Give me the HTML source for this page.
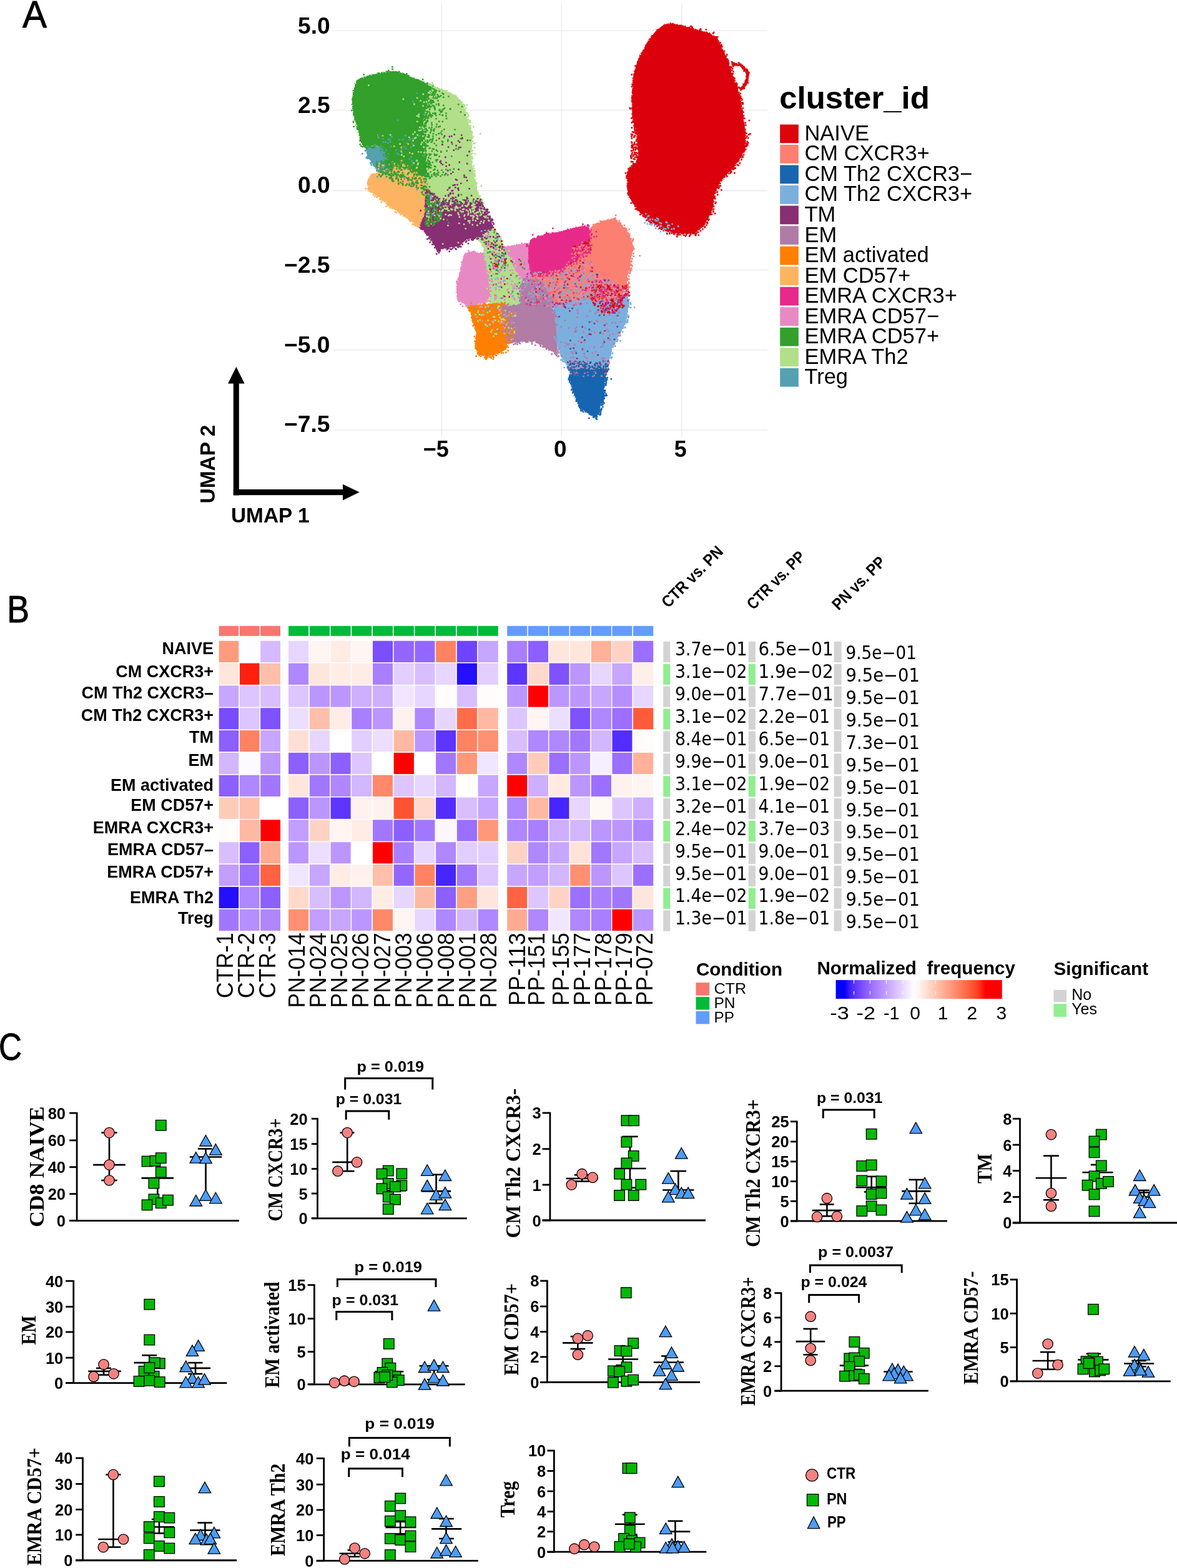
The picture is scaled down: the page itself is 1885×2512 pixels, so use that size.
<!DOCTYPE html>
<html><head><meta charset="utf-8"><title>Figure</title>
<style>html,body{margin:0;padding:0;background:#fff;overflow:hidden}svg{display:block}</style>
</head><body>
<svg width="1885" height="2512" viewBox="0 0 1885 2512">
<rect x="0" y="0" width="1885" height="2512" fill="#fff"/>
<line x1="533.00" y1="49.00" x2="1229.00" y2="49.00" stroke="#EBEBEB" stroke-width="1.6" />
<line x1="533.00" y1="176.50" x2="1229.00" y2="176.50" stroke="#EBEBEB" stroke-width="1.6" />
<line x1="533.00" y1="305.40" x2="1229.00" y2="305.40" stroke="#EBEBEB" stroke-width="1.6" />
<line x1="533.00" y1="432.50" x2="1229.00" y2="432.50" stroke="#EBEBEB" stroke-width="1.6" />
<line x1="533.00" y1="560.50" x2="1229.00" y2="560.50" stroke="#EBEBEB" stroke-width="1.6" />
<line x1="533.00" y1="689.00" x2="1229.00" y2="689.00" stroke="#EBEBEB" stroke-width="1.6" />
<line x1="707.30" y1="5.00" x2="707.30" y2="700.00" stroke="#EBEBEB" stroke-width="1.6" />
<line x1="899.30" y1="5.00" x2="899.30" y2="700.00" stroke="#EBEBEB" stroke-width="1.6" />
<line x1="1091.80" y1="5.00" x2="1091.80" y2="700.00" stroke="#EBEBEB" stroke-width="1.6" />
<defs><filter id="rough" x="-5%" y="-5%" width="110%" height="110%"><feTurbulence type="fractalNoise" baseFrequency="0.45" numOctaves="2" seed="3" result="n"/><feDisplacementMap in="SourceGraphic" in2="n" scale="5" xChannelSelector="R" yChannelSelector="G"/></filter></defs>
<g filter="url(#rough)">
<polygon points="806.0,395.0 826.0,392.0 850.0,389.0 856.0,420.0 852.0,450.0 846.0,472.0 836.0,482.0 826.0,470.0 818.0,440.0 810.0,420.0" fill="#E78AC3" />
<polygon points="672.0,135.0 687.0,134.7 709.0,143.4 730.7,153.5 740.8,163.7 746.6,179.6 751.0,198.4 756.7,212.8 756.7,230.2 755.0,245.0 757.0,266.0 760.5,288.2 765.3,307.5 775.0,331.6 784.6,346.0 789.4,365.3 798.6,378.6 808.2,397.8 822.7,426.7 834.0,452.0 838.0,482.0 825.0,496.0 806.0,496.0 784.0,492.0 783.0,452.0 778.0,436.0 775.5,420.0 774.0,398.0 768.0,385.0 760.0,375.0 745.0,372.0 735.0,360.0 707.5,330.0 690.0,320.0 676.0,310.0 670.0,288.2 664.0,268.9 660.0,240.0 660.0,200.0 664.0,160.0" fill="#B2DF8A" />
<polygon points="571.6,127.5 591.8,120.3 617.9,114.5 633.8,113.7 649.7,118.8 668.5,127.5 684.0,134.0 692.0,141.0 688.0,158.0 681.0,178.0 678.0,200.0 678.0,225.0 680.0,245.0 683.0,262.0 686.0,284.0 676.0,286.0 665.0,280.0 648.0,272.0 632.0,270.0 618.0,272.0 612.0,250.0 610.6,234.5 584.6,234.5 578.8,230.2 571.6,204.2 565.8,183.9 563.6,160.8 565.8,143.4" fill="#33A02C" />
<polygon points="584.6,234.5 612.0,234.5 616.0,259.1 621.0,276.5 603.4,273.6 588.9,251.9" fill="#55A1B1" />
<polygon points="593.3,279.4 606.0,276.0 620.0,277.0 632.3,266.0 654.0,272.0 672.0,282.0 680.5,287.0 682.0,310.0 680.5,340.0 676.0,362.0 671.8,365.3 646.8,345.9 625.1,331.5 603.4,314.1 591.8,305.4 587.5,293.9" fill="#FDB462" />
<polygon points="671.8,365.3 680.5,340.0 681.0,303.0 693.0,310.0 707.5,325.0 725.0,330.0 745.0,326.0 760.0,324.0 772.0,330.0 780.0,338.0 786.0,348.0 789.4,365.3 780.0,372.0 762.0,382.0 746.0,384.6 736.4,394.2 718.0,398.0 707.5,399.0 702.7,403.9 693.0,389.4 683.4,375.0" fill="#882E72" />
<polygon points="743.5,405.9 756.1,402.3 774.2,405.9 778.8,436.3 783.1,452.5 784.2,474.2 778.8,485.1 760.4,489.4 748.4,490.5 736.5,482.9 731.1,474.2 731.1,452.5 735.0,440.0 740.0,420.0" fill="#E78AC3" />
<polygon points="748.4,490.5 760.0,489.0 780.0,487.0 805.9,485.1 814.0,500.0 815.5,520.0 814.6,539.3 812.4,558.8 795.1,568.6 778.8,571.8 765.8,568.6 760.4,555.5 762.5,533.9 756.0,512.2 753.9,499.2" fill="#FF7F00" />
<polygon points="944.8,367.0 946.7,362.2 956.4,357.3 970.0,352.0 985.3,349.6 1004.6,368.9 1012.0,385.0 1014.2,397.8 1011.0,415.0 1009.4,426.7 1004.6,446.0 1004.6,460.5 995.0,470.0 975.0,476.0 950.0,480.0 920.0,485.0 890.0,487.0 862.0,484.0 850.0,470.0 845.0,450.0 860.0,441.2 879.3,436.4 898.6,431.6 917.8,421.9 937.1,407.5 942.0,390.0" fill="#FB8072" />
<polygon points="838.0,445.0 860.0,448.0 880.0,470.0 886.0,489.0 850.0,488.0 834.0,486.0 832.0,465.0" fill="#B17BA6" />
<polygon points="799.0,488.0 822.2,490.5 838.4,485.1 860.0,484.0 881.8,487.2 888.0,500.0 891.0,520.0 892.6,545.0 892.6,571.8 887.2,564.2 871.0,555.5 854.7,546.9 833.0,548.0 816.7,550.1 812.0,540.0 814.0,515.0 806.0,495.0" fill="#B17BA6" />
<polygon points="846.7,390.0 851.0,382.0 860.0,380.5 874.5,373.7 893.7,371.8 917.8,365.1 937.1,361.2 944.8,367.0 946.0,390.0 944.0,405.0 937.1,407.5 917.8,421.9 898.6,431.6 879.3,436.4 860.0,441.2 850.0,438.0 846.0,420.0" fill="#E7298A" />
<polygon points="885.0,487.0 905.0,484.0 930.0,481.0 960.0,479.0 975.0,477.0 995.0,472.0 1004.6,470.0 1008.0,485.0 1005.0,505.0 1001.9,519.8 991.1,537.8 982.0,555.9 976.6,574.0 971.2,591.0 940.0,593.0 912.0,593.0 900.7,575.0 892.6,555.0 891.0,520.0 888.0,500.0" fill="#7BAFDE" />
<polygon points="915.4,593.1 971.1,590.6 971.9,599.0 969.4,611.7 967.7,624.3 969.4,637.0 966.9,643.7 961.8,648.0 961.0,658.1 960.1,662.3 954.2,669.9 943.3,664.0 934.8,658.1 927.2,653.9 923.9,641.2 916.3,628.6 914.6,615.9 909.5,607.5 912.0,599.0" fill="#1965B0" />
<polygon points="1073.8,36.3 1090.9,41.2 1128.3,50.1 1147.8,59.0 1160.8,85.1 1169.0,106.2 1177.1,130.6 1185.3,150.2 1190.1,182.7 1195.0,215.2 1193.4,239.7 1185.3,255.9 1169.0,275.5 1152.7,293.4 1144.6,312.9 1141.3,337.3 1128.3,361.7 1112.0,374.7 1087.6,375.5 1063.2,369.8 1038.8,353.6 1019.3,334.0 1006.3,312.9 1003.0,283.6 1006.3,268.9 1017.7,260.8 1022.5,247.8 1019.3,215.2 1012.8,190.8 1011.2,158.3 1014.4,117.6 1022.5,93.2 1038.8,63.9 1051.8,47.7 1063.2,39.5" fill="#DC050C" />
</g>
<path d="M623.3 222.5h2.6v2.6h-2.6zM626.3 217.9h2.6v2.6h-2.6zM605.0 219.5h2.6v2.6h-2.6zM659.5 221.2h2.6v2.6h-2.6zM620.9 222.2h2.6v2.6h-2.6zM646.0 233.6h2.6v2.6h-2.6zM604.5 218.0h2.6v2.6h-2.6zM649.0 236.4h2.6v2.6h-2.6zM642.2 237.7h2.6v2.6h-2.6zM657.2 249.9h2.6v2.6h-2.6zM654.5 222.6h2.6v2.6h-2.6zM642.8 244.0h2.6v2.6h-2.6zM659.2 229.2h2.6v2.6h-2.6zM648.1 216.1h2.6v2.6h-2.6zM612.1 220.9h2.6v2.6h-2.6zM655.3 221.5h2.6v2.6h-2.6zM659.0 258.2h2.6v2.6h-2.6zM612.7 226.6h2.6v2.6h-2.6zM634.9 244.5h2.6v2.6h-2.6zM637.1 245.9h2.6v2.6h-2.6zM657.4 234.6h2.6v2.6h-2.6zM604.5 218.4h2.6v2.6h-2.6zM603.8 215.0h2.6v2.6h-2.6zM644.2 222.4h2.6v2.6h-2.6zM625.0 233.2h2.6v2.6h-2.6zM633.6 239.2h2.6v2.6h-2.6zM638.0 222.3h2.6v2.6h-2.6zM650.1 228.1h2.6v2.6h-2.6zM623.7 226.2h2.6v2.6h-2.6zM658.0 255.9h2.6v2.6h-2.6zM625.6 216.4h2.6v2.6h-2.6zM620.1 228.0h2.6v2.6h-2.6zM615.9 226.3h2.6v2.6h-2.6zM664.8 257.0h2.6v2.6h-2.6zM610.7 258.3h2.6v2.6h-2.6zM633.5 276.8h2.6v2.6h-2.6zM682.7 293.4h2.6v2.6h-2.6zM610.9 273.2h2.6v2.6h-2.6zM646.0 263.4h2.6v2.6h-2.6zM622.6 261.5h2.6v2.6h-2.6zM659.1 262.7h2.6v2.6h-2.6zM677.8 289.2h2.6v2.6h-2.6zM633.1 261.7h2.6v2.6h-2.6zM605.1 271.6h2.6v2.6h-2.6zM674.2 290.3h2.6v2.6h-2.6zM623.5 269.3h2.6v2.6h-2.6zM639.8 270.5h2.6v2.6h-2.6zM616.2 270.0h2.6v2.6h-2.6zM628.5 265.0h2.6v2.6h-2.6zM646.4 267.9h2.6v2.6h-2.6zM668.9 272.3h2.6v2.6h-2.6zM646.3 285.2h2.6v2.6h-2.6zM623.8 278.7h2.6v2.6h-2.6zM642.3 270.8h2.6v2.6h-2.6zM612.1 277.6h2.6v2.6h-2.6zM646.6 281.9h2.6v2.6h-2.6zM636.3 278.2h2.6v2.6h-2.6zM639.9 257.4h2.6v2.6h-2.6zM661.6 263.7h2.6v2.6h-2.6zM627.6 260.4h2.6v2.6h-2.6zM632.7 276.9h2.6v2.6h-2.6zM629.1 258.4h2.6v2.6h-2.6zM622.8 277.9h2.6v2.6h-2.6zM664.2 291.6h2.6v2.6h-2.6zM675.8 300.9h2.6v2.6h-2.6zM666.4 302.1h2.6v2.6h-2.6zM657.9 287.3h2.6v2.6h-2.6zM675.5 305.8h2.6v2.6h-2.6zM626.2 277.0h2.6v2.6h-2.6zM616.5 276.5h2.6v2.6h-2.6zM648.6 282.2h2.6v2.6h-2.6zM683.3 296.4h2.6v2.6h-2.6zM635.0 283.4h2.6v2.6h-2.6zM654.4 292.8h2.6v2.6h-2.6zM688.6 311.2h2.6v2.6h-2.6zM654.0 294.5h2.6v2.6h-2.6zM623.2 285.1h2.6v2.6h-2.6zM658.9 297.4h2.6v2.6h-2.6zM673.0 299.2h2.6v2.6h-2.6zM659.6 290.8h2.6v2.6h-2.6zM627.8 289.3h2.6v2.6h-2.6zM682.1 306.0h2.6v2.6h-2.6zM681.8 301.2h2.6v2.6h-2.6zM695.2 322.7h2.6v2.6h-2.6zM694.5 343.7h2.6v2.6h-2.6zM680.9 336.1h2.6v2.6h-2.6zM687.0 345.0h2.6v2.6h-2.6zM701.0 321.2h2.6v2.6h-2.6zM697.2 323.3h2.6v2.6h-2.6zM687.2 347.3h2.6v2.6h-2.6zM703.9 324.3h2.6v2.6h-2.6zM680.9 316.8h2.6v2.6h-2.6zM694.1 334.1h2.6v2.6h-2.6zM686.4 313.2h2.6v2.6h-2.6zM685.4 328.0h2.6v2.6h-2.6zM758.5 492.6h2.6v2.6h-2.6zM796.7 528.5h2.6v2.6h-2.6zM782.0 495.4h2.6v2.6h-2.6zM780.1 495.1h2.6v2.6h-2.6zM795.2 491.5h2.6v2.6h-2.6zM670.1 180.8h2.6v2.6h-2.6zM678.5 181.7h2.6v2.6h-2.6zM633.9 265.3h2.6v2.6h-2.6zM666.3 148.0h2.6v2.6h-2.6zM674.0 205.7h2.6v2.6h-2.6zM683.8 163.9h2.6v2.6h-2.6zM681.1 278.1h2.6v2.6h-2.6zM669.9 216.6h2.6v2.6h-2.6zM654.4 253.3h2.6v2.6h-2.6zM676.2 248.5h2.6v2.6h-2.6zM635.7 191.2h2.6v2.6h-2.6zM682.9 157.1h2.6v2.6h-2.6zM660.2 161.1h2.6v2.6h-2.6zM620.4 275.4h2.6v2.6h-2.6zM598.6 234.8h2.6v2.6h-2.6zM612.1 269.8h2.6v2.6h-2.6zM585.8 233.7h2.6v2.6h-2.6zM602.3 272.4h2.6v2.6h-2.6zM619.4 270.2h2.6v2.6h-2.6zM615.3 247.8h2.6v2.6h-2.6zM619.4 250.8h2.6v2.6h-2.6zM619.0 268.4h2.6v2.6h-2.6zM611.7 243.8h2.6v2.6h-2.6zM612.9 242.3h2.6v2.6h-2.6zM591.1 253.2h2.6v2.6h-2.6zM599.8 256.2h2.6v2.6h-2.6zM604.9 273.6h2.6v2.6h-2.6zM622.1 270.3h2.6v2.6h-2.6zM612.2 235.3h2.6v2.6h-2.6zM587.9 248.6h2.6v2.6h-2.6zM587.3 252.3h2.6v2.6h-2.6zM584.6 234.9h2.6v2.6h-2.6zM599.1 230.9h2.6v2.6h-2.6zM617.0 239.3h2.6v2.6h-2.6zM620.6 276.6h2.6v2.6h-2.6zM603.0 281.9h2.6v2.6h-2.6zM603.3 266.8h2.6v2.6h-2.6zM614.1 243.0h2.6v2.6h-2.6zM618.8 277.3h2.6v2.6h-2.6zM587.7 249.9h2.6v2.6h-2.6zM607.5 272.4h2.6v2.6h-2.6zM615.2 252.9h2.6v2.6h-2.6zM593.5 262.8h2.6v2.6h-2.6zM586.3 250.3h2.6v2.6h-2.6zM617.3 252.3h2.6v2.6h-2.6zM598.2 264.4h2.6v2.6h-2.6zM613.3 276.2h2.6v2.6h-2.6zM619.9 273.0h2.6v2.6h-2.6zM607.6 274.0h2.6v2.6h-2.6zM621.2 276.7h2.6v2.6h-2.6zM614.2 244.4h2.6v2.6h-2.6zM620.9 245.0h2.6v2.6h-2.6zM585.4 239.5h2.6v2.6h-2.6zM583.8 240.1h2.6v2.6h-2.6zM609.2 234.0h2.6v2.6h-2.6zM579.1 245.2h2.6v2.6h-2.6zM598.2 249.4h2.6v2.6h-2.6zM585.4 251.4h2.6v2.6h-2.6zM589.0 249.8h2.6v2.6h-2.6zM617.7 263.5h2.6v2.6h-2.6zM592.0 260.2h2.6v2.6h-2.6zM611.1 238.2h2.6v2.6h-2.6zM606.9 273.9h2.6v2.6h-2.6zM596.7 262.8h2.6v2.6h-2.6zM590.5 238.9h2.6v2.6h-2.6z" fill="#55A1B1"/>
<path d="M641.6 234.8h2.6v2.6h-2.6zM641.4 241.3h2.6v2.6h-2.6zM652.5 229.4h2.6v2.6h-2.6zM655.0 243.7h2.6v2.6h-2.6zM629.9 232.9h2.6v2.6h-2.6zM611.6 216.2h2.6v2.6h-2.6zM676.4 293.0h2.6v2.6h-2.6zM640.2 259.8h2.6v2.6h-2.6zM642.6 280.9h2.6v2.6h-2.6zM620.2 254.0h2.6v2.6h-2.6zM616.4 267.5h2.6v2.6h-2.6zM678.8 284.9h2.6v2.6h-2.6zM636.3 277.2h2.6v2.6h-2.6zM633.0 277.9h2.6v2.6h-2.6zM669.9 288.9h2.6v2.6h-2.6zM644.0 277.7h2.6v2.6h-2.6zM670.2 280.7h2.6v2.6h-2.6zM612.4 264.0h2.6v2.6h-2.6zM605.1 264.8h2.6v2.6h-2.6zM628.9 267.4h2.6v2.6h-2.6zM674.3 294.7h2.6v2.6h-2.6zM660.6 285.6h2.6v2.6h-2.6zM610.7 263.8h2.6v2.6h-2.6zM628.4 273.1h2.6v2.6h-2.6zM617.4 269.6h2.6v2.6h-2.6zM651.8 264.4h2.6v2.6h-2.6zM667.4 290.6h2.6v2.6h-2.6zM626.8 269.9h2.6v2.6h-2.6zM606.6 260.9h2.6v2.6h-2.6zM647.6 270.5h2.6v2.6h-2.6zM608.6 276.1h2.6v2.6h-2.6zM637.7 264.3h2.6v2.6h-2.6zM630.6 260.8h2.6v2.6h-2.6zM609.1 277.0h2.6v2.6h-2.6zM618.7 272.2h2.6v2.6h-2.6zM650.4 280.3h2.6v2.6h-2.6zM683.7 290.3h2.6v2.6h-2.6zM605.5 269.3h2.6v2.6h-2.6zM609.7 279.2h2.6v2.6h-2.6zM652.9 271.7h2.6v2.6h-2.6zM648.5 269.8h2.6v2.6h-2.6zM637.2 259.7h2.6v2.6h-2.6zM611.1 262.5h2.6v2.6h-2.6zM647.2 269.3h2.6v2.6h-2.6zM674.7 293.1h2.6v2.6h-2.6zM662.6 275.6h2.6v2.6h-2.6zM663.0 288.2h2.6v2.6h-2.6zM644.0 264.6h2.6v2.6h-2.6zM621.9 263.0h2.6v2.6h-2.6zM649.6 270.0h2.6v2.6h-2.6zM668.2 284.9h2.6v2.6h-2.6zM634.7 274.0h2.6v2.6h-2.6zM645.2 261.9h2.6v2.6h-2.6zM641.2 277.0h2.6v2.6h-2.6zM641.9 256.0h2.6v2.6h-2.6zM638.7 279.2h2.6v2.6h-2.6zM627.4 258.5h2.6v2.6h-2.6zM614.2 274.1h2.6v2.6h-2.6zM650.7 272.3h2.6v2.6h-2.6zM635.4 262.6h2.6v2.6h-2.6zM673.9 292.6h2.6v2.6h-2.6zM671.6 287.4h2.6v2.6h-2.6zM638.1 267.2h2.6v2.6h-2.6zM608.2 273.1h2.6v2.6h-2.6zM660.3 278.2h2.6v2.6h-2.6zM657.5 271.6h2.6v2.6h-2.6zM635.2 273.1h2.6v2.6h-2.6zM644.3 262.0h2.6v2.6h-2.6zM612.0 262.9h2.6v2.6h-2.6zM674.9 283.5h2.6v2.6h-2.6zM641.8 279.7h2.6v2.6h-2.6zM639.3 280.9h2.6v2.6h-2.6zM652.5 268.6h2.6v2.6h-2.6zM649.3 284.9h2.6v2.6h-2.6zM691.1 341.9h2.6v2.6h-2.6zM683.1 356.8h2.6v2.6h-2.6zM702.7 336.6h2.6v2.6h-2.6zM686.9 328.7h2.6v2.6h-2.6zM698.8 326.2h2.6v2.6h-2.6zM705.1 343.8h2.6v2.6h-2.6zM704.8 341.0h2.6v2.6h-2.6zM701.2 352.0h2.6v2.6h-2.6zM681.1 336.4h2.6v2.6h-2.6zM689.1 328.9h2.6v2.6h-2.6zM683.3 325.0h2.6v2.6h-2.6zM695.0 320.1h2.6v2.6h-2.6zM684.9 351.3h2.6v2.6h-2.6zM681.2 311.6h2.6v2.6h-2.6zM703.6 348.7h2.6v2.6h-2.6zM684.4 318.8h2.6v2.6h-2.6zM696.3 354.0h2.6v2.6h-2.6zM694.5 354.7h2.6v2.6h-2.6zM688.8 347.2h2.6v2.6h-2.6zM695.9 335.7h2.6v2.6h-2.6zM696.2 322.5h2.6v2.6h-2.6zM684.0 313.5h2.6v2.6h-2.6zM685.5 347.8h2.6v2.6h-2.6zM689.2 357.2h2.6v2.6h-2.6zM691.6 313.6h2.6v2.6h-2.6zM686.3 340.1h2.6v2.6h-2.6zM694.2 339.2h2.6v2.6h-2.6zM704.5 330.9h2.6v2.6h-2.6zM691.9 324.7h2.6v2.6h-2.6zM688.0 327.1h2.6v2.6h-2.6zM685.2 360.3h2.6v2.6h-2.6zM589.1 299.3h2.6v2.6h-2.6zM614.1 272.9h2.6v2.6h-2.6zM619.7 326.8h2.6v2.6h-2.6zM618.8 324.8h2.6v2.6h-2.6zM676.9 282.1h2.6v2.6h-2.6zM645.1 344.9h2.6v2.6h-2.6zM672.5 281.7h2.6v2.6h-2.6zM680.2 289.1h2.6v2.6h-2.6zM635.8 268.2h2.6v2.6h-2.6zM681.6 302.0h2.6v2.6h-2.6zM679.8 283.9h2.6v2.6h-2.6zM683.5 296.0h2.6v2.6h-2.6zM656.0 353.3h2.6v2.6h-2.6zM654.4 350.8h2.6v2.6h-2.6zM608.3 318.4h2.6v2.6h-2.6zM622.0 274.2h2.6v2.6h-2.6zM611.3 319.9h2.6v2.6h-2.6zM656.1 352.0h2.6v2.6h-2.6zM631.3 263.2h2.6v2.6h-2.6zM665.7 267.9h2.6v2.6h-2.6zM652.2 274.8h2.6v2.6h-2.6zM603.8 313.5h2.6v2.6h-2.6zM680.5 300.0h2.6v2.6h-2.6zM662.3 358.1h2.6v2.6h-2.6zM681.9 296.4h2.6v2.6h-2.6zM587.8 292.6h2.6v2.6h-2.6zM652.1 272.3h2.6v2.6h-2.6zM617.1 329.4h2.6v2.6h-2.6zM627.3 332.1h2.6v2.6h-2.6zM608.3 316.8h2.6v2.6h-2.6zM584.3 301.1h2.6v2.6h-2.6zM610.1 277.8h2.6v2.6h-2.6zM667.3 361.7h2.6v2.6h-2.6zM648.5 345.2h2.6v2.6h-2.6zM589.0 286.7h2.6v2.6h-2.6zM655.1 266.1h2.6v2.6h-2.6zM588.2 289.5h2.6v2.6h-2.6zM622.7 273.7h2.6v2.6h-2.6zM589.9 300.5h2.6v2.6h-2.6zM666.4 279.4h2.6v2.6h-2.6zM611.0 276.6h2.6v2.6h-2.6zM596.6 310.7h2.6v2.6h-2.6zM679.2 290.9h2.6v2.6h-2.6zM609.3 322.6h2.6v2.6h-2.6zM682.2 310.3h2.6v2.6h-2.6zM605.2 276.1h2.6v2.6h-2.6zM659.6 358.2h2.6v2.6h-2.6zM640.5 342.3h2.6v2.6h-2.6zM658.3 351.0h2.6v2.6h-2.6zM660.0 357.8h2.6v2.6h-2.6zM655.0 273.1h2.6v2.6h-2.6zM660.5 277.5h2.6v2.6h-2.6zM592.7 305.8h2.6v2.6h-2.6zM588.7 290.9h2.6v2.6h-2.6zM662.6 358.5h2.6v2.6h-2.6zM629.3 269.7h2.6v2.6h-2.6zM638.6 268.8h2.6v2.6h-2.6zM601.9 314.6h2.6v2.6h-2.6zM689.3 302.4h2.6v2.6h-2.6zM648.0 270.5h2.6v2.6h-2.6zM628.8 269.1h2.6v2.6h-2.6zM681.0 295.2h2.6v2.6h-2.6zM605.4 276.5h2.6v2.6h-2.6zM624.5 329.5h2.6v2.6h-2.6zM627.1 271.8h2.6v2.6h-2.6zM620.4 327.9h2.6v2.6h-2.6zM633.9 339.2h2.6v2.6h-2.6zM588.3 295.3h2.6v2.6h-2.6zM621.4 275.7h2.6v2.6h-2.6zM638.0 339.7h2.6v2.6h-2.6zM666.1 275.5h2.6v2.6h-2.6zM589.8 303.1h2.6v2.6h-2.6zM596.2 277.6h2.6v2.6h-2.6zM623.5 331.6h2.6v2.6h-2.6zM665.5 360.5h2.6v2.6h-2.6zM607.1 317.0h2.6v2.6h-2.6zM663.8 360.3h2.6v2.6h-2.6zM599.9 296.5h2.6v2.6h-2.6zM640.7 269.2h2.6v2.6h-2.6zM590.1 304.9h2.6v2.6h-2.6zM622.9 276.4h2.6v2.6h-2.6zM658.0 273.9h2.6v2.6h-2.6zM608.0 318.1h2.6v2.6h-2.6zM598.7 313.2h2.6v2.6h-2.6zM657.1 281.6h2.6v2.6h-2.6zM631.6 338.4h2.6v2.6h-2.6zM590.2 288.1h2.6v2.6h-2.6zM656.6 273.5h2.6v2.6h-2.6zM587.8 301.4h2.6v2.6h-2.6z" fill="#FDB462"/>
<path d="M655.2 269.3h2.6v2.6h-2.6zM681.6 285.7h2.6v2.6h-2.6zM673.2 295.4h2.6v2.6h-2.6zM621.2 266.1h2.6v2.6h-2.6zM649.3 264.3h2.6v2.6h-2.6zM629.7 275.2h2.6v2.6h-2.6zM644.7 278.8h2.6v2.6h-2.6zM637.0 260.1h2.6v2.6h-2.6zM646.7 267.9h2.6v2.6h-2.6zM608.9 280.8h2.6v2.6h-2.6zM651.5 277.8h2.6v2.6h-2.6zM658.2 274.9h2.6v2.6h-2.6zM610.2 274.3h2.6v2.6h-2.6zM636.2 278.4h2.6v2.6h-2.6zM608.8 264.6h2.6v2.6h-2.6zM657.8 273.4h2.6v2.6h-2.6zM638.1 268.7h2.6v2.6h-2.6zM610.9 279.0h2.6v2.6h-2.6zM609.2 258.9h2.6v2.6h-2.6zM616.9 267.2h2.6v2.6h-2.6zM663.8 265.9h2.6v2.6h-2.6zM614.9 269.1h2.6v2.6h-2.6zM661.6 280.3h2.6v2.6h-2.6zM634.0 269.1h2.6v2.6h-2.6zM662.2 264.1h2.6v2.6h-2.6zM673.1 286.9h2.6v2.6h-2.6zM620.3 266.1h2.6v2.6h-2.6zM613.2 274.5h2.6v2.6h-2.6zM626.0 269.6h2.6v2.6h-2.6zM632.1 276.1h2.6v2.6h-2.6zM616.9 277.8h2.6v2.6h-2.6zM622.2 254.9h2.6v2.6h-2.6zM625.6 262.8h2.6v2.6h-2.6zM611.2 269.8h2.6v2.6h-2.6zM667.0 291.2h2.6v2.6h-2.6zM621.2 254.1h2.6v2.6h-2.6zM641.5 271.0h2.6v2.6h-2.6zM651.8 285.4h2.6v2.6h-2.6zM625.6 281.2h2.6v2.6h-2.6zM658.1 287.2h2.6v2.6h-2.6zM643.4 275.6h2.6v2.6h-2.6zM617.7 282.0h2.6v2.6h-2.6zM637.9 266.6h2.6v2.6h-2.6zM624.3 270.5h2.6v2.6h-2.6zM630.3 273.5h2.6v2.6h-2.6zM622.3 278.1h2.6v2.6h-2.6zM654.1 265.7h2.6v2.6h-2.6zM639.7 268.9h2.6v2.6h-2.6zM625.3 280.7h2.6v2.6h-2.6zM614.1 258.9h2.6v2.6h-2.6zM676.1 277.3h2.6v2.6h-2.6zM637.8 257.7h2.6v2.6h-2.6zM607.6 268.8h2.6v2.6h-2.6zM620.1 264.2h2.6v2.6h-2.6zM674.5 291.2h2.6v2.6h-2.6zM634.8 278.8h2.6v2.6h-2.6zM628.4 253.4h2.6v2.6h-2.6zM622.8 263.7h2.6v2.6h-2.6zM639.8 282.3h2.6v2.6h-2.6zM609.2 258.5h2.6v2.6h-2.6zM638.4 280.3h2.6v2.6h-2.6zM677.3 285.5h2.6v2.6h-2.6zM605.9 278.8h2.6v2.6h-2.6zM632.6 262.3h2.6v2.6h-2.6zM639.9 262.9h2.6v2.6h-2.6zM680.7 288.8h2.6v2.6h-2.6zM656.7 273.1h2.6v2.6h-2.6zM662.1 277.8h2.6v2.6h-2.6zM641.6 260.3h2.6v2.6h-2.6zM655.8 270.8h2.6v2.6h-2.6zM627.9 259.3h2.6v2.6h-2.6zM669.0 273.8h2.6v2.6h-2.6zM668.2 292.2h2.6v2.6h-2.6zM626.6 265.2h2.6v2.6h-2.6zM602.0 262.9h2.6v2.6h-2.6zM680.4 302.5h2.6v2.6h-2.6zM621.1 273.6h2.6v2.6h-2.6zM664.9 283.4h2.6v2.6h-2.6zM620.8 253.6h2.6v2.6h-2.6zM622.3 254.6h2.6v2.6h-2.6zM637.5 262.9h2.6v2.6h-2.6zM616.7 263.6h2.6v2.6h-2.6zM648.6 267.9h2.6v2.6h-2.6zM603.4 266.2h2.6v2.6h-2.6zM650.1 284.1h2.6v2.6h-2.6zM631.0 257.8h2.6v2.6h-2.6zM654.7 261.2h2.6v2.6h-2.6zM615.6 267.2h2.6v2.6h-2.6zM666.8 280.1h2.6v2.6h-2.6zM608.5 271.7h2.6v2.6h-2.6zM634.4 265.6h2.6v2.6h-2.6zM647.6 269.6h2.6v2.6h-2.6zM638.7 258.9h2.6v2.6h-2.6zM631.2 277.7h2.6v2.6h-2.6zM618.3 272.0h2.6v2.6h-2.6zM632.2 256.8h2.6v2.6h-2.6zM625.7 273.1h2.6v2.6h-2.6zM637.5 274.1h2.6v2.6h-2.6zM652.0 276.9h2.6v2.6h-2.6zM638.5 259.9h2.6v2.6h-2.6zM609.0 257.1h2.6v2.6h-2.6zM607.7 274.3h2.6v2.6h-2.6zM665.3 278.1h2.6v2.6h-2.6zM617.5 264.5h2.6v2.6h-2.6zM626.8 252.0h2.6v2.6h-2.6zM655.8 267.2h2.6v2.6h-2.6zM602.8 258.2h2.6v2.6h-2.6zM629.8 255.8h2.6v2.6h-2.6zM649.5 261.2h2.6v2.6h-2.6zM620.5 258.2h2.6v2.6h-2.6zM665.7 272.1h2.6v2.6h-2.6zM634.1 263.1h2.6v2.6h-2.6zM612.0 261.0h2.6v2.6h-2.6zM626.0 266.5h2.6v2.6h-2.6zM638.0 262.4h2.6v2.6h-2.6zM619.5 252.1h2.6v2.6h-2.6zM659.8 264.6h2.6v2.6h-2.6zM679.4 291.0h2.6v2.6h-2.6zM647.9 266.9h2.6v2.6h-2.6zM609.0 261.3h2.6v2.6h-2.6zM653.0 265.8h2.6v2.6h-2.6zM617.2 267.6h2.6v2.6h-2.6zM601.8 264.1h2.6v2.6h-2.6zM660.1 270.2h2.6v2.6h-2.6zM671.5 284.0h2.6v2.6h-2.6zM615.5 277.2h2.6v2.6h-2.6zM652.7 269.6h2.6v2.6h-2.6zM602.1 261.3h2.6v2.6h-2.6zM675.7 277.6h2.6v2.6h-2.6zM663.3 285.5h2.6v2.6h-2.6zM620.0 260.5h2.6v2.6h-2.6zM613.0 258.6h2.6v2.6h-2.6zM627.4 278.7h2.6v2.6h-2.6zM666.8 290.3h2.6v2.6h-2.6zM609.0 261.4h2.6v2.6h-2.6zM666.4 288.1h2.6v2.6h-2.6zM653.1 275.5h2.6v2.6h-2.6zM659.9 284.6h2.6v2.6h-2.6zM635.6 275.0h2.6v2.6h-2.6zM608.5 281.6h2.6v2.6h-2.6zM669.6 278.7h2.6v2.6h-2.6zM629.9 253.1h2.6v2.6h-2.6zM629.6 264.6h2.6v2.6h-2.6zM632.9 261.7h2.6v2.6h-2.6zM653.3 275.8h2.6v2.6h-2.6zM639.3 266.2h2.6v2.6h-2.6zM622.5 270.7h2.6v2.6h-2.6zM635.8 260.2h2.6v2.6h-2.6zM660.6 265.5h2.6v2.6h-2.6zM625.4 276.4h2.6v2.6h-2.6zM653.5 286.3h2.6v2.6h-2.6zM678.0 297.0h2.6v2.6h-2.6zM669.8 284.8h2.6v2.6h-2.6zM655.1 263.8h2.6v2.6h-2.6zM646.6 264.5h2.6v2.6h-2.6zM611.7 277.1h2.6v2.6h-2.6zM639.2 257.9h2.6v2.6h-2.6zM630.8 276.1h2.6v2.6h-2.6zM636.6 273.2h2.6v2.6h-2.6zM669.5 272.2h2.6v2.6h-2.6zM627.8 267.4h2.6v2.6h-2.6zM674.4 280.0h2.6v2.6h-2.6zM625.2 250.3h2.6v2.6h-2.6zM684.1 302.4h2.6v2.6h-2.6zM622.6 283.2h2.6v2.6h-2.6zM674.0 300.3h2.6v2.6h-2.6zM650.7 293.6h2.6v2.6h-2.6zM663.3 284.6h2.6v2.6h-2.6zM616.2 275.2h2.6v2.6h-2.6zM662.2 293.8h2.6v2.6h-2.6zM673.8 300.5h2.6v2.6h-2.6zM688.3 312.4h2.6v2.6h-2.6zM641.0 278.8h2.6v2.6h-2.6zM665.8 295.9h2.6v2.6h-2.6zM674.4 295.7h2.6v2.6h-2.6zM675.5 309.7h2.6v2.6h-2.6zM681.4 298.5h2.6v2.6h-2.6zM659.2 283.5h2.6v2.6h-2.6zM643.1 279.8h2.6v2.6h-2.6zM659.8 290.5h2.6v2.6h-2.6zM680.0 296.9h2.6v2.6h-2.6zM628.6 278.8h2.6v2.6h-2.6zM659.9 292.9h2.6v2.6h-2.6zM686.7 305.1h2.6v2.6h-2.6zM682.8 312.7h2.6v2.6h-2.6zM674.0 306.9h2.6v2.6h-2.6zM685.5 305.5h2.6v2.6h-2.6zM634.3 280.6h2.6v2.6h-2.6zM627.6 285.7h2.6v2.6h-2.6zM678.2 303.3h2.6v2.6h-2.6zM625.7 285.0h2.6v2.6h-2.6zM668.5 299.9h2.6v2.6h-2.6zM645.9 282.0h2.6v2.6h-2.6zM665.1 284.5h2.6v2.6h-2.6zM636.5 286.6h2.6v2.6h-2.6zM689.9 316.6h2.6v2.6h-2.6zM640.6 281.3h2.6v2.6h-2.6zM677.4 298.7h2.6v2.6h-2.6zM625.4 283.1h2.6v2.6h-2.6zM620.9 278.9h2.6v2.6h-2.6zM652.2 287.3h2.6v2.6h-2.6zM675.9 301.2h2.6v2.6h-2.6zM679.8 297.2h2.6v2.6h-2.6zM642.5 282.4h2.6v2.6h-2.6zM654.0 295.1h2.6v2.6h-2.6zM628.7 279.6h2.6v2.6h-2.6zM652.6 287.6h2.6v2.6h-2.6zM645.4 281.2h2.6v2.6h-2.6zM673.3 290.2h2.6v2.6h-2.6zM686.8 317.0h2.6v2.6h-2.6zM684.3 303.0h2.6v2.6h-2.6zM636.6 288.7h2.6v2.6h-2.6zM686.7 298.1h2.6v2.6h-2.6zM626.1 280.6h2.6v2.6h-2.6zM637.0 293.3h2.6v2.6h-2.6zM633.3 279.0h2.6v2.6h-2.6zM678.0 302.4h2.6v2.6h-2.6zM663.8 284.1h2.6v2.6h-2.6zM661.0 296.1h2.6v2.6h-2.6zM633.2 285.0h2.6v2.6h-2.6zM656.7 297.1h2.6v2.6h-2.6zM644.1 294.8h2.6v2.6h-2.6zM640.3 290.9h2.6v2.6h-2.6zM676.6 298.3h2.6v2.6h-2.6zM657.9 293.8h2.6v2.6h-2.6zM680.5 302.3h2.6v2.6h-2.6zM648.9 295.6h2.6v2.6h-2.6zM637.0 292.6h2.6v2.6h-2.6zM643.8 289.5h2.6v2.6h-2.6zM678.7 297.5h2.6v2.6h-2.6zM628.8 288.7h2.6v2.6h-2.6zM666.4 292.5h2.6v2.6h-2.6zM665.7 298.6h2.6v2.6h-2.6zM643.1 293.0h2.6v2.6h-2.6zM677.0 298.1h2.6v2.6h-2.6zM689.3 315.0h2.6v2.6h-2.6zM626.7 288.0h2.6v2.6h-2.6zM652.9 283.5h2.6v2.6h-2.6zM678.2 301.4h2.6v2.6h-2.6zM656.5 287.0h2.6v2.6h-2.6zM658.1 293.5h2.6v2.6h-2.6zM623.0 279.5h2.6v2.6h-2.6zM619.7 275.6h2.6v2.6h-2.6zM641.5 282.6h2.6v2.6h-2.6zM658.7 290.7h2.6v2.6h-2.6zM684.8 313.5h2.6v2.6h-2.6zM682.4 311.7h2.6v2.6h-2.6zM633.3 282.8h2.6v2.6h-2.6zM643.9 293.1h2.6v2.6h-2.6zM641.3 286.0h2.6v2.6h-2.6zM636.3 285.7h2.6v2.6h-2.6zM664.8 290.4h2.6v2.6h-2.6zM677.7 311.2h2.6v2.6h-2.6zM689.5 345.6h2.6v2.6h-2.6zM705.7 332.8h2.6v2.6h-2.6zM695.9 324.7h2.6v2.6h-2.6zM683.3 333.3h2.6v2.6h-2.6zM687.3 348.5h2.6v2.6h-2.6zM697.8 336.5h2.6v2.6h-2.6zM684.8 353.2h2.6v2.6h-2.6zM695.2 324.3h2.6v2.6h-2.6zM688.4 316.4h2.6v2.6h-2.6zM699.4 319.7h2.6v2.6h-2.6zM698.3 342.2h2.6v2.6h-2.6zM686.7 353.0h2.6v2.6h-2.6zM681.1 312.6h2.6v2.6h-2.6zM688.2 325.5h2.6v2.6h-2.6zM688.4 340.7h2.6v2.6h-2.6zM702.5 348.8h2.6v2.6h-2.6zM681.2 353.4h2.6v2.6h-2.6zM681.3 317.4h2.6v2.6h-2.6zM704.7 347.2h2.6v2.6h-2.6zM682.4 358.8h2.6v2.6h-2.6zM702.4 340.1h2.6v2.6h-2.6zM681.5 344.2h2.6v2.6h-2.6zM693.8 357.8h2.6v2.6h-2.6zM699.0 350.5h2.6v2.6h-2.6zM697.2 335.1h2.6v2.6h-2.6zM681.6 324.1h2.6v2.6h-2.6zM685.4 321.3h2.6v2.6h-2.6zM699.1 342.5h2.6v2.6h-2.6zM686.5 333.4h2.6v2.6h-2.6zM705.3 323.7h2.6v2.6h-2.6zM694.8 347.9h2.6v2.6h-2.6zM698.0 338.3h2.6v2.6h-2.6zM700.7 352.0h2.6v2.6h-2.6zM687.8 324.3h2.6v2.6h-2.6zM681.6 319.6h2.6v2.6h-2.6zM698.9 329.4h2.6v2.6h-2.6zM688.8 330.7h2.6v2.6h-2.6zM684.5 307.2h2.6v2.6h-2.6zM693.2 328.6h2.6v2.6h-2.6zM705.3 341.5h2.6v2.6h-2.6zM686.6 311.2h2.6v2.6h-2.6zM700.9 352.5h2.6v2.6h-2.6zM688.6 324.7h2.6v2.6h-2.6zM690.0 352.1h2.6v2.6h-2.6zM705.5 332.2h2.6v2.6h-2.6zM684.3 320.7h2.6v2.6h-2.6zM682.2 343.6h2.6v2.6h-2.6zM692.0 360.2h2.6v2.6h-2.6zM681.1 328.9h2.6v2.6h-2.6zM701.2 328.1h2.6v2.6h-2.6zM697.9 333.4h2.6v2.6h-2.6zM684.4 320.4h2.6v2.6h-2.6zM695.2 323.5h2.6v2.6h-2.6zM682.3 322.1h2.6v2.6h-2.6zM698.3 338.9h2.6v2.6h-2.6zM693.0 341.2h2.6v2.6h-2.6zM689.3 355.2h2.6v2.6h-2.6zM685.1 343.0h2.6v2.6h-2.6zM682.3 342.0h2.6v2.6h-2.6zM695.7 327.6h2.6v2.6h-2.6zM695.3 326.4h2.6v2.6h-2.6zM684.9 355.5h2.6v2.6h-2.6zM683.0 353.9h2.6v2.6h-2.6zM682.6 334.3h2.6v2.6h-2.6zM693.2 335.7h2.6v2.6h-2.6zM693.9 337.7h2.6v2.6h-2.6zM691.9 353.9h2.6v2.6h-2.6zM699.3 347.7h2.6v2.6h-2.6zM682.8 352.0h2.6v2.6h-2.6zM684.6 359.6h2.6v2.6h-2.6zM686.4 325.0h2.6v2.6h-2.6zM696.0 315.6h2.6v2.6h-2.6zM696.8 354.5h2.6v2.6h-2.6zM684.5 347.0h2.6v2.6h-2.6zM681.2 338.6h2.6v2.6h-2.6zM694.8 350.4h2.6v2.6h-2.6zM705.0 342.8h2.6v2.6h-2.6zM689.2 311.9h2.6v2.6h-2.6zM703.6 350.2h2.6v2.6h-2.6zM690.6 331.1h2.6v2.6h-2.6zM684.6 324.3h2.6v2.6h-2.6zM695.6 325.9h2.6v2.6h-2.6zM687.4 319.1h2.6v2.6h-2.6zM687.1 336.6h2.6v2.6h-2.6zM697.1 324.4h2.6v2.6h-2.6zM705.3 343.2h2.6v2.6h-2.6zM700.6 346.6h2.6v2.6h-2.6zM697.2 323.7h2.6v2.6h-2.6zM693.0 324.7h2.6v2.6h-2.6zM686.3 323.6h2.6v2.6h-2.6zM680.2 354.4h2.6v2.6h-2.6zM692.0 336.6h2.6v2.6h-2.6zM684.6 306.9h2.6v2.6h-2.6zM688.3 345.9h2.6v2.6h-2.6zM689.6 348.7h2.6v2.6h-2.6zM693.1 356.0h2.6v2.6h-2.6zM685.9 326.6h2.6v2.6h-2.6zM689.2 311.1h2.6v2.6h-2.6zM690.9 343.1h2.6v2.6h-2.6zM681.6 327.4h2.6v2.6h-2.6zM696.9 322.7h2.6v2.6h-2.6zM696.1 318.2h2.6v2.6h-2.6zM680.4 357.6h2.6v2.6h-2.6zM696.6 345.7h2.6v2.6h-2.6zM682.5 312.2h2.6v2.6h-2.6zM702.0 328.0h2.6v2.6h-2.6zM706.4 329.7h2.6v2.6h-2.6zM694.1 358.5h2.6v2.6h-2.6zM697.7 348.7h2.6v2.6h-2.6zM681.6 332.6h2.6v2.6h-2.6zM684.9 358.4h2.6v2.6h-2.6zM680.8 348.9h2.6v2.6h-2.6zM682.9 346.3h2.6v2.6h-2.6zM681.6 336.3h2.6v2.6h-2.6zM696.9 316.2h2.6v2.6h-2.6zM687.1 328.6h2.6v2.6h-2.6zM685.8 336.6h2.6v2.6h-2.6zM687.6 322.6h2.6v2.6h-2.6zM698.4 338.3h2.6v2.6h-2.6zM695.6 355.1h2.6v2.6h-2.6zM683.0 360.5h2.6v2.6h-2.6zM684.6 343.3h2.6v2.6h-2.6zM693.6 316.7h2.6v2.6h-2.6zM684.0 346.6h2.6v2.6h-2.6zM683.0 323.9h2.6v2.6h-2.6zM704.8 323.6h2.6v2.6h-2.6zM699.7 319.1h2.6v2.6h-2.6zM681.2 333.0h2.6v2.6h-2.6zM695.0 324.4h2.6v2.6h-2.6zM698.6 341.5h2.6v2.6h-2.6zM703.6 345.3h2.6v2.6h-2.6zM690.5 325.7h2.6v2.6h-2.6zM696.5 325.2h2.6v2.6h-2.6zM681.3 344.0h2.6v2.6h-2.6zM697.4 335.4h2.6v2.6h-2.6zM700.1 353.4h2.6v2.6h-2.6zM690.2 345.0h2.6v2.6h-2.6zM688.7 340.1h2.6v2.6h-2.6zM686.0 339.1h2.6v2.6h-2.6zM694.1 331.1h2.6v2.6h-2.6zM683.8 357.7h2.6v2.6h-2.6zM684.2 317.8h2.6v2.6h-2.6zM689.6 350.4h2.6v2.6h-2.6zM698.8 329.5h2.6v2.6h-2.6zM701.6 347.8h2.6v2.6h-2.6zM698.4 324.6h2.6v2.6h-2.6zM686.4 324.9h2.6v2.6h-2.6zM685.4 336.7h2.6v2.6h-2.6zM684.8 345.4h2.6v2.6h-2.6zM696.7 324.9h2.6v2.6h-2.6zM701.9 323.8h2.6v2.6h-2.6zM782.8 403.0h2.6v2.6h-2.6zM792.9 398.1h2.6v2.6h-2.6zM804.5 394.4h2.6v2.6h-2.6zM806.8 396.3h2.6v2.6h-2.6zM797.5 394.6h2.6v2.6h-2.6zM805.4 405.3h2.6v2.6h-2.6zM784.8 366.0h2.6v2.6h-2.6zM790.2 391.2h2.6v2.6h-2.6zM788.0 407.5h2.6v2.6h-2.6zM779.8 403.6h2.6v2.6h-2.6zM802.7 408.2h2.6v2.6h-2.6zM791.4 424.5h2.6v2.6h-2.6zM796.7 414.6h2.6v2.6h-2.6zM778.8 380.1h2.6v2.6h-2.6zM795.1 379.4h2.6v2.6h-2.6zM789.7 384.7h2.6v2.6h-2.6zM805.6 408.6h2.6v2.6h-2.6zM793.1 437.5h2.6v2.6h-2.6zM791.3 369.5h2.6v2.6h-2.6zM802.0 408.5h2.6v2.6h-2.6zM790.2 371.2h2.6v2.6h-2.6zM788.0 423.7h2.6v2.6h-2.6zM783.5 402.4h2.6v2.6h-2.6zM792.2 380.2h2.6v2.6h-2.6zM796.9 373.8h2.6v2.6h-2.6zM811.9 423.7h2.6v2.6h-2.6zM802.7 408.0h2.6v2.6h-2.6zM795.7 427.2h2.6v2.6h-2.6zM803.2 394.7h2.6v2.6h-2.6zM793.7 431.7h2.6v2.6h-2.6zM791.0 429.3h2.6v2.6h-2.6zM794.7 391.3h2.6v2.6h-2.6zM796.8 432.8h2.6v2.6h-2.6zM797.1 405.5h2.6v2.6h-2.6zM803.8 423.9h2.6v2.6h-2.6zM779.7 366.2h2.6v2.6h-2.6zM774.3 387.0h2.6v2.6h-2.6zM770.1 382.3h2.6v2.6h-2.6zM794.9 422.7h2.6v2.6h-2.6zM800.4 383.5h2.6v2.6h-2.6zM808.1 403.3h2.6v2.6h-2.6zM795.3 437.4h2.6v2.6h-2.6zM797.5 422.4h2.6v2.6h-2.6zM809.2 419.9h2.6v2.6h-2.6zM780.9 367.1h2.6v2.6h-2.6zM792.2 393.5h2.6v2.6h-2.6zM796.6 420.8h2.6v2.6h-2.6zM781.0 387.8h2.6v2.6h-2.6zM794.6 418.5h2.6v2.6h-2.6zM783.8 401.9h2.6v2.6h-2.6zM797.1 417.3h2.6v2.6h-2.6zM781.1 376.8h2.6v2.6h-2.6zM805.6 418.3h2.6v2.6h-2.6zM807.9 424.0h2.6v2.6h-2.6zM785.5 419.1h2.6v2.6h-2.6zM804.0 423.3h2.6v2.6h-2.6zM790.1 367.5h2.6v2.6h-2.6zM794.4 431.1h2.6v2.6h-2.6zM770.9 377.6h2.6v2.6h-2.6zM827.9 469.0h2.6v2.6h-2.6zM785.8 440.6h2.6v2.6h-2.6zM832.1 423.1h2.6v2.6h-2.6zM782.3 424.3h2.6v2.6h-2.6zM826.8 457.5h2.6v2.6h-2.6zM837.9 420.8h2.6v2.6h-2.6zM790.0 408.7h2.6v2.6h-2.6zM783.4 429.4h2.6v2.6h-2.6zM785.5 389.7h2.6v2.6h-2.6zM813.1 467.0h2.6v2.6h-2.6zM832.6 416.8h2.6v2.6h-2.6zM838.6 429.2h2.6v2.6h-2.6zM791.9 392.1h2.6v2.6h-2.6zM805.9 420.9h2.6v2.6h-2.6zM819.7 466.0h2.6v2.6h-2.6zM795.1 408.9h2.6v2.6h-2.6zM828.9 469.9h2.6v2.6h-2.6zM803.0 476.2h2.6v2.6h-2.6zM830.6 451.6h2.6v2.6h-2.6zM805.5 472.8h2.6v2.6h-2.6zM793.1 454.1h2.6v2.6h-2.6zM835.7 427.3h2.6v2.6h-2.6zM826.4 440.7h2.6v2.6h-2.6zM680.0 216.3h2.6v2.6h-2.6zM719.6 270.8h2.6v2.6h-2.6zM680.5 239.5h2.6v2.6h-2.6zM693.1 145.6h2.6v2.6h-2.6zM706.3 271.5h2.6v2.6h-2.6zM702.5 144.7h2.6v2.6h-2.6zM699.5 271.8h2.6v2.6h-2.6zM680.3 229.2h2.6v2.6h-2.6zM692.2 220.3h2.6v2.6h-2.6zM695.2 142.5h2.6v2.6h-2.6zM709.1 154.6h2.6v2.6h-2.6zM686.0 260.1h2.6v2.6h-2.6zM686.8 261.9h2.6v2.6h-2.6zM686.8 174.2h2.6v2.6h-2.6zM700.4 279.1h2.6v2.6h-2.6zM690.6 225.6h2.6v2.6h-2.6zM694.2 277.1h2.6v2.6h-2.6zM689.2 186.2h2.6v2.6h-2.6zM692.1 159.5h2.6v2.6h-2.6zM700.3 160.0h2.6v2.6h-2.6zM691.0 183.8h2.6v2.6h-2.6zM702.7 153.7h2.6v2.6h-2.6zM716.1 222.8h2.6v2.6h-2.6zM697.4 214.7h2.6v2.6h-2.6zM690.0 195.6h2.6v2.6h-2.6zM684.9 225.7h2.6v2.6h-2.6zM686.1 203.6h2.6v2.6h-2.6zM707.7 226.3h2.6v2.6h-2.6zM692.2 216.9h2.6v2.6h-2.6zM697.8 144.0h2.6v2.6h-2.6zM699.5 271.9h2.6v2.6h-2.6zM683.8 255.2h2.6v2.6h-2.6zM694.5 205.2h2.6v2.6h-2.6zM688.8 158.6h2.6v2.6h-2.6zM686.9 182.0h2.6v2.6h-2.6zM736.6 178.0h2.6v2.6h-2.6zM738.7 169.5h2.6v2.6h-2.6zM694.7 265.1h2.6v2.6h-2.6zM678.1 202.7h2.6v2.6h-2.6zM687.3 267.5h2.6v2.6h-2.6zM699.5 254.4h2.6v2.6h-2.6zM683.5 191.4h2.6v2.6h-2.6zM685.5 184.5h2.6v2.6h-2.6zM687.9 211.1h2.6v2.6h-2.6zM702.1 175.3h2.6v2.6h-2.6zM681.6 183.8h2.6v2.6h-2.6zM691.9 162.7h2.6v2.6h-2.6zM698.1 197.8h2.6v2.6h-2.6zM688.8 263.6h2.6v2.6h-2.6zM732.6 237.6h2.6v2.6h-2.6zM681.2 205.7h2.6v2.6h-2.6zM703.0 182.0h2.6v2.6h-2.6zM680.9 247.2h2.6v2.6h-2.6zM681.8 232.8h2.6v2.6h-2.6zM685.9 281.3h2.6v2.6h-2.6zM702.1 153.6h2.6v2.6h-2.6zM687.4 259.7h2.6v2.6h-2.6zM681.2 248.5h2.6v2.6h-2.6zM681.5 193.3h2.6v2.6h-2.6zM713.7 188.6h2.6v2.6h-2.6zM692.6 213.1h2.6v2.6h-2.6zM685.7 218.6h2.6v2.6h-2.6zM704.4 281.0h2.6v2.6h-2.6zM693.0 152.3h2.6v2.6h-2.6zM714.3 240.6h2.6v2.6h-2.6zM699.2 150.4h2.6v2.6h-2.6zM695.0 269.8h2.6v2.6h-2.6zM686.2 216.1h2.6v2.6h-2.6zM738.7 221.2h2.6v2.6h-2.6zM683.4 218.0h2.6v2.6h-2.6zM686.3 265.9h2.6v2.6h-2.6zM695.1 171.8h2.6v2.6h-2.6zM692.0 160.2h2.6v2.6h-2.6zM694.6 275.7h2.6v2.6h-2.6zM690.2 202.7h2.6v2.6h-2.6zM679.8 235.9h2.6v2.6h-2.6zM693.4 237.7h2.6v2.6h-2.6zM680.8 200.4h2.6v2.6h-2.6zM729.1 237.1h2.6v2.6h-2.6zM680.2 214.6h2.6v2.6h-2.6zM695.3 156.1h2.6v2.6h-2.6zM719.7 148.4h2.6v2.6h-2.6zM694.3 171.9h2.6v2.6h-2.6zM685.9 266.3h2.6v2.6h-2.6zM693.5 168.6h2.6v2.6h-2.6zM690.6 240.8h2.6v2.6h-2.6zM707.4 183.4h2.6v2.6h-2.6zM681.4 181.1h2.6v2.6h-2.6zM719.7 173.7h2.6v2.6h-2.6zM704.9 152.0h2.6v2.6h-2.6zM688.3 274.2h2.6v2.6h-2.6zM686.3 257.3h2.6v2.6h-2.6zM681.4 208.8h2.6v2.6h-2.6zM715.8 279.1h2.6v2.6h-2.6zM708.9 173.4h2.6v2.6h-2.6zM691.3 150.3h2.6v2.6h-2.6zM697.3 247.3h2.6v2.6h-2.6zM690.0 163.3h2.6v2.6h-2.6zM705.1 242.4h2.6v2.6h-2.6zM683.3 223.7h2.6v2.6h-2.6zM710.8 172.0h2.6v2.6h-2.6zM692.4 155.5h2.6v2.6h-2.6zM716.0 224.9h2.6v2.6h-2.6zM683.0 207.8h2.6v2.6h-2.6zM697.1 188.9h2.6v2.6h-2.6zM706.3 213.8h2.6v2.6h-2.6zM751.6 223.4h2.6v2.6h-2.6zM703.1 174.6h2.6v2.6h-2.6zM679.2 234.7h2.6v2.6h-2.6zM695.2 181.4h2.6v2.6h-2.6zM680.7 241.0h2.6v2.6h-2.6zM725.5 269.6h2.6v2.6h-2.6zM688.6 222.0h2.6v2.6h-2.6zM693.2 277.2h2.6v2.6h-2.6zM701.2 202.0h2.6v2.6h-2.6zM699.9 154.0h2.6v2.6h-2.6zM697.7 255.1h2.6v2.6h-2.6zM713.1 270.2h2.6v2.6h-2.6zM686.4 236.4h2.6v2.6h-2.6zM682.9 180.1h2.6v2.6h-2.6zM697.4 201.8h2.6v2.6h-2.6zM692.2 180.3h2.6v2.6h-2.6zM686.7 247.2h2.6v2.6h-2.6zM683.2 177.4h2.6v2.6h-2.6zM708.7 274.7h2.6v2.6h-2.6zM686.3 177.9h2.6v2.6h-2.6zM689.2 208.1h2.6v2.6h-2.6zM704.9 177.1h2.6v2.6h-2.6zM743.3 182.8h2.6v2.6h-2.6zM706.8 225.1h2.6v2.6h-2.6zM698.1 246.4h2.6v2.6h-2.6zM689.1 183.1h2.6v2.6h-2.6zM679.0 223.1h2.6v2.6h-2.6zM698.5 156.3h2.6v2.6h-2.6zM699.3 240.7h2.6v2.6h-2.6zM699.0 276.6h2.6v2.6h-2.6zM682.7 176.4h2.6v2.6h-2.6zM701.5 167.3h2.6v2.6h-2.6zM682.4 246.3h2.6v2.6h-2.6zM708.9 149.3h2.6v2.6h-2.6zM687.3 162.1h2.6v2.6h-2.6zM707.3 174.6h2.6v2.6h-2.6zM701.3 165.1h2.6v2.6h-2.6zM690.1 281.7h2.6v2.6h-2.6zM696.9 281.2h2.6v2.6h-2.6zM691.5 236.9h2.6v2.6h-2.6zM700.6 152.6h2.6v2.6h-2.6zM685.0 251.3h2.6v2.6h-2.6zM679.5 196.1h2.6v2.6h-2.6zM689.7 160.1h2.6v2.6h-2.6zM697.6 165.8h2.6v2.6h-2.6zM682.7 225.2h2.6v2.6h-2.6zM687.3 170.9h2.6v2.6h-2.6zM696.1 265.7h2.6v2.6h-2.6zM688.5 161.3h2.6v2.6h-2.6zM686.7 223.4h2.6v2.6h-2.6zM695.4 174.2h2.6v2.6h-2.6zM693.2 271.2h2.6v2.6h-2.6zM678.8 209.6h2.6v2.6h-2.6zM680.9 196.7h2.6v2.6h-2.6zM681.3 183.3h2.6v2.6h-2.6zM709.4 218.9h2.6v2.6h-2.6zM703.3 201.1h2.6v2.6h-2.6zM704.5 178.4h2.6v2.6h-2.6zM694.5 228.6h2.6v2.6h-2.6zM690.5 198.8h2.6v2.6h-2.6zM697.3 278.1h2.6v2.6h-2.6zM694.2 279.1h2.6v2.6h-2.6zM686.7 262.5h2.6v2.6h-2.6zM701.9 193.3h2.6v2.6h-2.6zM706.3 208.7h2.6v2.6h-2.6zM717.2 153.2h2.6v2.6h-2.6zM727.3 206.4h2.6v2.6h-2.6zM720.1 172.9h2.6v2.6h-2.6zM705.0 241.2h2.6v2.6h-2.6zM707.4 230.5h2.6v2.6h-2.6zM681.6 231.7h2.6v2.6h-2.6zM687.6 283.3h2.6v2.6h-2.6zM693.3 146.3h2.6v2.6h-2.6zM693.5 162.2h2.6v2.6h-2.6zM711.0 279.0h2.6v2.6h-2.6zM689.5 226.4h2.6v2.6h-2.6zM696.5 180.3h2.6v2.6h-2.6zM723.0 229.6h2.6v2.6h-2.6zM696.8 255.1h2.6v2.6h-2.6zM685.3 256.8h2.6v2.6h-2.6zM689.0 205.5h2.6v2.6h-2.6zM710.0 206.0h2.6v2.6h-2.6zM683.2 226.7h2.6v2.6h-2.6zM695.1 149.6h2.6v2.6h-2.6zM686.8 169.1h2.6v2.6h-2.6zM709.0 167.6h2.6v2.6h-2.6zM695.5 179.7h2.6v2.6h-2.6zM683.1 261.1h2.6v2.6h-2.6zM697.9 256.9h2.6v2.6h-2.6zM694.1 169.0h2.6v2.6h-2.6zM690.7 149.5h2.6v2.6h-2.6zM688.8 267.4h2.6v2.6h-2.6zM713.2 180.2h2.6v2.6h-2.6zM702.2 249.2h2.6v2.6h-2.6zM680.1 244.6h2.6v2.6h-2.6zM707.0 278.7h2.6v2.6h-2.6zM691.4 222.8h2.6v2.6h-2.6zM697.0 183.7h2.6v2.6h-2.6zM694.5 245.7h2.6v2.6h-2.6zM697.6 223.5h2.6v2.6h-2.6zM685.0 187.6h2.6v2.6h-2.6zM679.6 224.7h2.6v2.6h-2.6zM686.2 245.6h2.6v2.6h-2.6zM707.2 148.0h2.6v2.6h-2.6zM687.3 235.7h2.6v2.6h-2.6zM682.7 187.9h2.6v2.6h-2.6zM692.9 148.1h2.6v2.6h-2.6zM685.0 214.8h2.6v2.6h-2.6zM681.2 246.4h2.6v2.6h-2.6zM736.6 220.7h2.6v2.6h-2.6zM683.6 186.3h2.6v2.6h-2.6zM701.4 212.8h2.6v2.6h-2.6zM694.9 247.3h2.6v2.6h-2.6zM685.2 262.8h2.6v2.6h-2.6zM722.0 248.9h2.6v2.6h-2.6zM691.5 258.9h2.6v2.6h-2.6zM689.0 160.3h2.6v2.6h-2.6zM694.9 150.3h2.6v2.6h-2.6zM704.6 211.7h2.6v2.6h-2.6zM678.4 219.3h2.6v2.6h-2.6zM732.9 166.0h2.6v2.6h-2.6zM683.8 171.4h2.6v2.6h-2.6zM685.4 166.8h2.6v2.6h-2.6zM707.5 193.4h2.6v2.6h-2.6zM697.4 239.1h2.6v2.6h-2.6zM692.7 207.0h2.6v2.6h-2.6zM688.1 184.0h2.6v2.6h-2.6zM680.2 238.7h2.6v2.6h-2.6zM696.4 146.6h2.6v2.6h-2.6zM681.3 194.9h2.6v2.6h-2.6zM696.6 154.4h2.6v2.6h-2.6zM706.7 177.6h2.6v2.6h-2.6zM701.0 274.9h2.6v2.6h-2.6zM687.2 180.9h2.6v2.6h-2.6zM713.0 184.3h2.6v2.6h-2.6zM697.4 231.8h2.6v2.6h-2.6zM693.7 208.6h2.6v2.6h-2.6zM691.4 167.6h2.6v2.6h-2.6zM688.9 164.7h2.6v2.6h-2.6zM683.9 266.8h2.6v2.6h-2.6zM686.7 247.8h2.6v2.6h-2.6zM693.2 141.2h2.6v2.6h-2.6zM688.9 169.6h2.6v2.6h-2.6zM683.9 232.4h2.6v2.6h-2.6zM688.1 252.7h2.6v2.6h-2.6zM680.3 210.4h2.6v2.6h-2.6zM694.7 170.6h2.6v2.6h-2.6zM684.3 265.1h2.6v2.6h-2.6zM694.9 150.1h2.6v2.6h-2.6zM687.2 180.4h2.6v2.6h-2.6zM681.3 204.8h2.6v2.6h-2.6zM707.5 182.9h2.6v2.6h-2.6zM695.1 144.8h2.6v2.6h-2.6zM740.4 319.0h2.6v2.6h-2.6zM756.6 320.8h2.6v2.6h-2.6zM709.7 320.3h2.6v2.6h-2.6zM737.6 310.7h2.6v2.6h-2.6zM728.8 323.1h2.6v2.6h-2.6zM719.3 298.8h2.6v2.6h-2.6zM737.3 323.1h2.6v2.6h-2.6zM730.3 327.1h2.6v2.6h-2.6zM747.4 323.9h2.6v2.6h-2.6zM727.1 323.1h2.6v2.6h-2.6zM746.0 317.4h2.6v2.6h-2.6zM731.8 324.3h2.6v2.6h-2.6zM755.5 337.8h2.6v2.6h-2.6zM715.1 351.1h2.6v2.6h-2.6zM717.2 355.7h2.6v2.6h-2.6zM764.2 347.9h2.6v2.6h-2.6zM704.0 342.3h2.6v2.6h-2.6zM704.6 338.8h2.6v2.6h-2.6zM767.7 336.4h2.6v2.6h-2.6zM756.4 326.5h2.6v2.6h-2.6zM757.7 326.6h2.6v2.6h-2.6zM738.1 340.5h2.6v2.6h-2.6zM607.9 234.2h2.6v2.6h-2.6zM630.1 113.9h2.6v2.6h-2.6zM564.2 165.1h2.6v2.6h-2.6zM686.7 284.4h2.6v2.6h-2.6zM578.2 224.3h2.6v2.6h-2.6zM625.0 114.8h2.6v2.6h-2.6zM571.1 205.3h2.6v2.6h-2.6zM595.9 120.0h2.6v2.6h-2.6zM683.6 145.6h2.6v2.6h-2.6zM684.5 279.8h2.6v2.6h-2.6zM600.2 118.4h2.6v2.6h-2.6zM569.4 139.0h2.6v2.6h-2.6zM669.2 127.6h2.6v2.6h-2.6zM679.1 189.9h2.6v2.6h-2.6zM575.0 210.1h2.6v2.6h-2.6zM683.3 171.3h2.6v2.6h-2.6zM576.5 219.6h2.6v2.6h-2.6zM620.8 111.7h2.6v2.6h-2.6zM680.2 253.0h2.6v2.6h-2.6zM571.2 205.4h2.6v2.6h-2.6zM677.9 213.8h2.6v2.6h-2.6zM579.2 127.8h2.6v2.6h-2.6zM654.0 123.3h2.6v2.6h-2.6zM686.0 167.1h2.6v2.6h-2.6zM626.8 270.6h2.6v2.6h-2.6zM691.1 140.0h2.6v2.6h-2.6zM575.3 229.9h2.6v2.6h-2.6zM677.1 130.6h2.6v2.6h-2.6zM565.3 201.4h2.6v2.6h-2.6zM679.0 199.3h2.6v2.6h-2.6zM608.6 239.5h2.6v2.6h-2.6zM683.1 224.0h2.6v2.6h-2.6zM575.4 224.3h2.6v2.6h-2.6zM626.3 114.2h2.6v2.6h-2.6zM678.8 237.0h2.6v2.6h-2.6zM564.8 193.4h2.6v2.6h-2.6zM680.0 186.2h2.6v2.6h-2.6zM570.7 204.3h2.6v2.6h-2.6zM624.5 271.8h2.6v2.6h-2.6zM597.2 234.5h2.6v2.6h-2.6zM644.9 116.7h2.6v2.6h-2.6zM565.1 172.5h2.6v2.6h-2.6zM684.7 276.6h2.6v2.6h-2.6zM684.6 134.2h2.6v2.6h-2.6zM577.2 207.3h2.6v2.6h-2.6zM564.8 194.6h2.6v2.6h-2.6zM566.4 164.2h2.6v2.6h-2.6zM675.0 130.5h2.6v2.6h-2.6zM679.0 232.8h2.6v2.6h-2.6zM678.4 226.7h2.6v2.6h-2.6zM623.0 114.3h2.6v2.6h-2.6zM590.6 233.8h2.6v2.6h-2.6zM685.8 134.5h2.6v2.6h-2.6zM665.8 126.7h2.6v2.6h-2.6zM582.9 122.6h2.6v2.6h-2.6zM634.0 114.2h2.6v2.6h-2.6zM678.0 261.4h2.6v2.6h-2.6zM565.5 179.7h2.6v2.6h-2.6zM650.1 117.1h2.6v2.6h-2.6zM574.7 215.4h2.6v2.6h-2.6zM647.1 125.8h2.6v2.6h-2.6zM571.4 202.1h2.6v2.6h-2.6zM679.5 285.1h2.6v2.6h-2.6zM579.5 233.9h2.6v2.6h-2.6zM687.4 134.1h2.6v2.6h-2.6zM611.8 235.5h2.6v2.6h-2.6zM680.5 251.9h2.6v2.6h-2.6zM572.8 127.8h2.6v2.6h-2.6zM678.8 231.6h2.6v2.6h-2.6zM683.5 132.3h2.6v2.6h-2.6zM675.8 126.0h2.6v2.6h-2.6zM565.6 175.9h2.6v2.6h-2.6zM564.2 170.2h2.6v2.6h-2.6zM678.1 199.4h2.6v2.6h-2.6zM625.9 271.1h2.6v2.6h-2.6zM575.7 206.7h2.6v2.6h-2.6zM671.3 128.7h2.6v2.6h-2.6zM568.4 135.1h2.6v2.6h-2.6zM677.1 239.2h2.6v2.6h-2.6zM627.1 106.0h2.6v2.6h-2.6zM626.6 114.0h2.6v2.6h-2.6zM589.8 234.0h2.6v2.6h-2.6zM685.1 277.8h2.6v2.6h-2.6zM677.3 209.8h2.6v2.6h-2.6zM572.5 205.0h2.6v2.6h-2.6zM687.5 143.1h2.6v2.6h-2.6zM683.4 193.3h2.6v2.6h-2.6zM678.2 228.7h2.6v2.6h-2.6zM627.2 109.6h2.6v2.6h-2.6zM682.2 176.8h2.6v2.6h-2.6zM570.3 130.2h2.6v2.6h-2.6zM624.1 270.7h2.6v2.6h-2.6zM679.7 248.7h2.6v2.6h-2.6zM677.3 217.5h2.6v2.6h-2.6zM586.0 234.6h2.6v2.6h-2.6zM692.2 136.4h2.6v2.6h-2.6zM677.3 185.4h2.6v2.6h-2.6zM684.9 137.3h2.6v2.6h-2.6zM619.1 114.5h2.6v2.6h-2.6zM688.2 160.5h2.6v2.6h-2.6zM565.0 182.6h2.6v2.6h-2.6zM576.1 222.0h2.6v2.6h-2.6zM679.7 132.8h2.6v2.6h-2.6zM677.4 221.2h2.6v2.6h-2.6zM590.7 119.9h2.6v2.6h-2.6zM577.1 232.6h2.6v2.6h-2.6zM581.4 118.1h2.6v2.6h-2.6zM580.9 232.0h2.6v2.6h-2.6zM685.0 163.3h2.6v2.6h-2.6zM653.7 127.0h2.6v2.6h-2.6zM637.8 116.2h2.6v2.6h-2.6zM565.0 150.3h2.6v2.6h-2.6zM681.4 176.3h2.6v2.6h-2.6zM587.7 122.4h2.6v2.6h-2.6zM685.2 183.8h2.6v2.6h-2.6zM626.8 268.7h2.6v2.6h-2.6zM581.1 211.3h2.6v2.6h-2.6zM679.4 196.3h2.6v2.6h-2.6zM631.3 114.6h2.6v2.6h-2.6zM570.5 182.9h2.6v2.6h-2.6zM692.2 147.3h2.6v2.6h-2.6zM681.1 247.4h2.6v2.6h-2.6zM650.8 120.3h2.6v2.6h-2.6zM680.8 185.3h2.6v2.6h-2.6zM682.7 268.9h2.6v2.6h-2.6zM562.0 175.7h2.6v2.6h-2.6zM674.1 212.5h2.6v2.6h-2.6zM680.1 229.2h2.6v2.6h-2.6zM684.2 269.4h2.6v2.6h-2.6zM581.8 232.7h2.6v2.6h-2.6zM678.2 223.7h2.6v2.6h-2.6zM678.1 224.7h2.6v2.6h-2.6zM687.8 137.4h2.6v2.6h-2.6zM670.0 127.9h2.6v2.6h-2.6zM571.2 129.4h2.6v2.6h-2.6zM598.7 234.6h2.6v2.6h-2.6zM677.9 201.8h2.6v2.6h-2.6zM678.7 201.7h2.6v2.6h-2.6zM566.6 143.0h2.6v2.6h-2.6zM678.3 205.6h2.6v2.6h-2.6zM679.1 235.6h2.6v2.6h-2.6zM637.7 113.4h2.6v2.6h-2.6zM593.9 234.5h2.6v2.6h-2.6zM582.9 233.6h2.6v2.6h-2.6zM689.5 151.4h2.6v2.6h-2.6zM677.1 193.3h2.6v2.6h-2.6zM691.9 148.8h2.6v2.6h-2.6zM564.8 148.8h2.6v2.6h-2.6zM590.5 233.6h2.6v2.6h-2.6zM674.9 198.3h2.6v2.6h-2.6zM565.2 181.7h2.6v2.6h-2.6zM679.2 191.5h2.6v2.6h-2.6zM670.0 128.3h2.6v2.6h-2.6zM586.2 236.9h2.6v2.6h-2.6zM682.5 265.6h2.6v2.6h-2.6zM591.3 120.6h2.6v2.6h-2.6zM679.1 176.1h2.6v2.6h-2.6zM680.8 251.5h2.6v2.6h-2.6zM583.8 234.6h2.6v2.6h-2.6zM677.6 250.9h2.6v2.6h-2.6zM575.4 125.7h2.6v2.6h-2.6zM655.4 123.4h2.6v2.6h-2.6zM596.0 235.3h2.6v2.6h-2.6zM688.8 246.1h2.6v2.6h-2.6zM683.3 170.0h2.6v2.6h-2.6zM582.2 232.9h2.6v2.6h-2.6zM682.9 131.9h2.6v2.6h-2.6zM680.2 184.3h2.6v2.6h-2.6zM679.0 269.5h2.6v2.6h-2.6zM679.9 188.6h2.6v2.6h-2.6zM597.8 234.7h2.6v2.6h-2.6zM685.2 169.5h2.6v2.6h-2.6zM682.5 258.4h2.6v2.6h-2.6zM690.0 279.4h2.6v2.6h-2.6zM575.6 219.0h2.6v2.6h-2.6z" fill="#33A02C"/>
<path d="M699.1 318.4h2.6v2.6h-2.6zM704.5 348.7h2.6v2.6h-2.6zM682.3 345.3h2.6v2.6h-2.6zM702.1 344.6h2.6v2.6h-2.6zM699.1 328.1h2.6v2.6h-2.6zM690.3 311.5h2.6v2.6h-2.6zM688.9 315.8h2.6v2.6h-2.6zM689.1 322.1h2.6v2.6h-2.6zM705.3 323.1h2.6v2.6h-2.6zM684.8 337.2h2.6v2.6h-2.6zM685.3 346.3h2.6v2.6h-2.6zM692.4 322.1h2.6v2.6h-2.6zM694.8 343.7h2.6v2.6h-2.6zM688.6 327.7h2.6v2.6h-2.6zM806.5 532.9h2.6v2.6h-2.6zM791.7 511.9h2.6v2.6h-2.6zM780.1 512.1h2.6v2.6h-2.6zM769.8 503.7h2.6v2.6h-2.6zM796.7 489.6h2.6v2.6h-2.6zM806.2 499.6h2.6v2.6h-2.6zM805.1 515.5h2.6v2.6h-2.6zM772.9 503.0h2.6v2.6h-2.6zM812.6 530.1h2.6v2.6h-2.6zM798.3 489.4h2.6v2.6h-2.6zM779.2 521.0h2.6v2.6h-2.6zM767.1 490.8h2.6v2.6h-2.6zM760.1 502.9h2.6v2.6h-2.6zM797.7 502.9h2.6v2.6h-2.6zM776.6 518.2h2.6v2.6h-2.6zM815.0 498.9h2.6v2.6h-2.6zM767.3 511.1h2.6v2.6h-2.6zM790.7 506.3h2.6v2.6h-2.6zM776.0 519.1h2.6v2.6h-2.6zM801.7 513.8h2.6v2.6h-2.6zM783.2 518.5h2.6v2.6h-2.6zM799.2 494.7h2.6v2.6h-2.6zM795.3 526.1h2.6v2.6h-2.6zM791.7 533.4h2.6v2.6h-2.6zM779.6 499.4h2.6v2.6h-2.6zM801.9 510.3h2.6v2.6h-2.6zM811.0 489.3h2.6v2.6h-2.6zM801.6 500.7h2.6v2.6h-2.6zM799.4 507.3h2.6v2.6h-2.6zM789.2 537.4h2.6v2.6h-2.6zM764.0 498.8h2.6v2.6h-2.6zM813.4 523.8h2.6v2.6h-2.6zM788.3 514.8h2.6v2.6h-2.6zM786.7 527.5h2.6v2.6h-2.6zM794.0 533.9h2.6v2.6h-2.6zM785.1 530.3h2.6v2.6h-2.6zM797.1 513.5h2.6v2.6h-2.6zM804.6 509.6h2.6v2.6h-2.6zM798.8 496.4h2.6v2.6h-2.6zM819.7 488.1h2.6v2.6h-2.6zM764.7 496.9h2.6v2.6h-2.6zM783.0 497.0h2.6v2.6h-2.6zM789.1 506.2h2.6v2.6h-2.6zM762.0 506.5h2.6v2.6h-2.6zM809.6 518.7h2.6v2.6h-2.6zM796.0 492.3h2.6v2.6h-2.6zM766.5 502.5h2.6v2.6h-2.6zM807.4 511.4h2.6v2.6h-2.6zM764.1 513.0h2.6v2.6h-2.6zM776.2 490.8h2.6v2.6h-2.6zM817.8 524.8h2.6v2.6h-2.6zM822.3 532.3h2.6v2.6h-2.6zM815.3 528.8h2.6v2.6h-2.6zM811.0 540.5h2.6v2.6h-2.6zM818.6 505.1h2.6v2.6h-2.6zM810.5 542.4h2.6v2.6h-2.6zM824.3 500.8h2.6v2.6h-2.6zM818.9 516.6h2.6v2.6h-2.6zM824.2 504.6h2.6v2.6h-2.6zM816.6 543.3h2.6v2.6h-2.6zM804.9 510.4h2.6v2.6h-2.6zM809.5 502.0h2.6v2.6h-2.6zM818.7 506.0h2.6v2.6h-2.6zM817.5 501.0h2.6v2.6h-2.6zM811.3 536.9h2.6v2.6h-2.6zM819.8 509.9h2.6v2.6h-2.6zM804.3 502.7h2.6v2.6h-2.6zM816.8 533.0h2.6v2.6h-2.6zM821.6 529.9h2.6v2.6h-2.6zM807.3 523.8h2.6v2.6h-2.6zM820.2 541.9h2.6v2.6h-2.6zM801.8 491.4h2.6v2.6h-2.6zM813.0 503.5h2.6v2.6h-2.6zM812.0 515.4h2.6v2.6h-2.6zM807.6 505.5h2.6v2.6h-2.6zM817.4 542.0h2.6v2.6h-2.6zM808.2 496.2h2.6v2.6h-2.6zM822.8 504.7h2.6v2.6h-2.6zM806.5 512.6h2.6v2.6h-2.6zM821.4 516.2h2.6v2.6h-2.6zM809.9 505.4h2.6v2.6h-2.6zM822.6 529.2h2.6v2.6h-2.6zM814.3 532.6h2.6v2.6h-2.6zM823.2 504.9h2.6v2.6h-2.6zM811.8 540.8h2.6v2.6h-2.6zM806.2 503.6h2.6v2.6h-2.6zM823.1 522.6h2.6v2.6h-2.6zM823.9 504.2h2.6v2.6h-2.6zM808.8 518.9h2.6v2.6h-2.6zM805.8 520.8h2.6v2.6h-2.6zM646.7 264.7h2.6v2.6h-2.6zM667.3 215.0h2.6v2.6h-2.6zM663.1 210.3h2.6v2.6h-2.6zM677.7 224.1h2.6v2.6h-2.6zM623.8 214.7h2.6v2.6h-2.6zM666.9 193.5h2.6v2.6h-2.6zM659.3 244.8h2.6v2.6h-2.6zM639.3 229.3h2.6v2.6h-2.6zM666.4 266.9h2.6v2.6h-2.6zM681.8 161.8h2.6v2.6h-2.6zM677.4 234.3h2.6v2.6h-2.6zM662.8 220.2h2.6v2.6h-2.6zM678.1 242.9h2.6v2.6h-2.6zM589.2 135.5h2.6v2.6h-2.6zM648.9 271.3h2.6v2.6h-2.6zM661.1 231.9h2.6v2.6h-2.6zM686.8 154.0h2.6v2.6h-2.6zM673.0 242.5h2.6v2.6h-2.6zM676.4 149.6h2.6v2.6h-2.6zM669.8 207.7h2.6v2.6h-2.6zM671.0 202.8h2.6v2.6h-2.6zM669.2 182.5h2.6v2.6h-2.6zM644.6 157.6h2.6v2.6h-2.6zM678.5 193.5h2.6v2.6h-2.6zM667.7 262.5h2.6v2.6h-2.6zM681.6 175.0h2.6v2.6h-2.6zM660.2 213.6h2.6v2.6h-2.6zM676.0 216.9h2.6v2.6h-2.6zM682.6 269.6h2.6v2.6h-2.6zM687.5 145.0h2.6v2.6h-2.6zM685.5 160.0h2.6v2.6h-2.6zM669.4 185.6h2.6v2.6h-2.6zM684.8 147.0h2.6v2.6h-2.6zM686.8 148.0h2.6v2.6h-2.6zM666.7 184.4h2.6v2.6h-2.6zM666.8 155.7h2.6v2.6h-2.6zM672.3 160.0h2.6v2.6h-2.6zM662.1 165.6h2.6v2.6h-2.6zM645.5 249.2h2.6v2.6h-2.6zM673.2 229.8h2.6v2.6h-2.6zM676.9 204.5h2.6v2.6h-2.6zM675.2 202.5h2.6v2.6h-2.6zM650.3 274.7h2.6v2.6h-2.6zM688.0 153.1h2.6v2.6h-2.6zM672.7 207.4h2.6v2.6h-2.6zM641.9 247.0h2.6v2.6h-2.6zM676.2 168.5h2.6v2.6h-2.6zM661.4 260.0h2.6v2.6h-2.6zM677.8 162.3h2.6v2.6h-2.6zM674.6 227.0h2.6v2.6h-2.6zM666.3 255.8h2.6v2.6h-2.6zM660.3 224.0h2.6v2.6h-2.6zM668.3 260.3h2.6v2.6h-2.6zM653.9 218.7h2.6v2.6h-2.6zM664.8 219.2h2.6v2.6h-2.6zM683.0 268.8h2.6v2.6h-2.6zM668.9 242.0h2.6v2.6h-2.6zM767.7 356.4h2.6v2.6h-2.6zM756.8 338.1h2.6v2.6h-2.6zM746.6 329.3h2.6v2.6h-2.6zM748.4 325.7h2.6v2.6h-2.6zM731.9 332.2h2.6v2.6h-2.6zM767.0 335.1h2.6v2.6h-2.6zM763.7 344.8h2.6v2.6h-2.6zM739.4 328.6h2.6v2.6h-2.6zM777.2 344.9h2.6v2.6h-2.6zM721.9 334.7h2.6v2.6h-2.6zM758.9 330.9h2.6v2.6h-2.6zM769.7 342.5h2.6v2.6h-2.6zM756.1 351.3h2.6v2.6h-2.6zM773.9 345.5h2.6v2.6h-2.6zM757.5 326.7h2.6v2.6h-2.6zM730.0 331.2h2.6v2.6h-2.6zM758.8 324.7h2.6v2.6h-2.6zM741.8 357.9h2.6v2.6h-2.6zM714.9 331.7h2.6v2.6h-2.6zM760.8 340.2h2.6v2.6h-2.6zM709.6 329.1h2.6v2.6h-2.6zM712.9 333.5h2.6v2.6h-2.6zM738.7 328.7h2.6v2.6h-2.6zM736.1 336.7h2.6v2.6h-2.6zM781.1 351.7h2.6v2.6h-2.6zM743.6 349.2h2.6v2.6h-2.6zM752.6 339.1h2.6v2.6h-2.6zM768.8 330.7h2.6v2.6h-2.6zM763.7 349.5h2.6v2.6h-2.6zM756.0 337.4h2.6v2.6h-2.6zM732.6 387.5h2.6v2.6h-2.6zM771.5 335.2h2.6v2.6h-2.6zM717.0 344.0h2.6v2.6h-2.6zM742.2 345.0h2.6v2.6h-2.6zM757.1 344.9h2.6v2.6h-2.6zM755.9 336.8h2.6v2.6h-2.6zM749.0 340.4h2.6v2.6h-2.6zM756.0 331.7h2.6v2.6h-2.6zM712.5 342.3h2.6v2.6h-2.6zM748.0 327.3h2.6v2.6h-2.6zM748.1 327.4h2.6v2.6h-2.6zM748.3 336.8h2.6v2.6h-2.6zM772.4 339.6h2.6v2.6h-2.6zM760.2 330.1h2.6v2.6h-2.6zM750.8 355.6h2.6v2.6h-2.6zM745.6 335.2h2.6v2.6h-2.6zM758.4 325.7h2.6v2.6h-2.6zM782.1 352.4h2.6v2.6h-2.6zM751.0 352.4h2.6v2.6h-2.6zM752.5 344.2h2.6v2.6h-2.6zM782.3 343.9h2.6v2.6h-2.6zM766.5 334.0h2.6v2.6h-2.6zM734.1 356.5h2.6v2.6h-2.6zM748.3 342.9h2.6v2.6h-2.6zM727.3 334.6h2.6v2.6h-2.6zM733.4 342.6h2.6v2.6h-2.6zM774.0 352.7h2.6v2.6h-2.6zM764.6 338.9h2.6v2.6h-2.6zM718.3 328.2h2.6v2.6h-2.6zM757.6 346.0h2.6v2.6h-2.6zM715.5 332.9h2.6v2.6h-2.6zM707.4 336.1h2.6v2.6h-2.6zM735.6 331.3h2.6v2.6h-2.6zM739.8 338.0h2.6v2.6h-2.6zM732.1 328.9h2.6v2.6h-2.6zM728.2 335.8h2.6v2.6h-2.6zM769.5 329.4h2.6v2.6h-2.6zM769.3 353.4h2.6v2.6h-2.6zM714.8 334.0h2.6v2.6h-2.6zM708.3 334.9h2.6v2.6h-2.6zM770.6 334.9h2.6v2.6h-2.6zM755.1 344.5h2.6v2.6h-2.6zM707.8 389.5h2.6v2.6h-2.6zM780.6 342.8h2.6v2.6h-2.6zM709.2 350.2h2.6v2.6h-2.6zM716.4 336.2h2.6v2.6h-2.6zM778.5 339.0h2.6v2.6h-2.6zM754.6 328.0h2.6v2.6h-2.6zM734.5 346.3h2.6v2.6h-2.6zM749.4 325.6h2.6v2.6h-2.6zM706.4 336.8h2.6v2.6h-2.6zM751.2 334.0h2.6v2.6h-2.6zM780.3 347.5h2.6v2.6h-2.6zM740.4 338.0h2.6v2.6h-2.6zM761.7 343.5h2.6v2.6h-2.6zM755.9 347.9h2.6v2.6h-2.6zM716.1 359.9h2.6v2.6h-2.6zM732.3 339.8h2.6v2.6h-2.6zM731.4 329.8h2.6v2.6h-2.6zM723.0 334.3h2.6v2.6h-2.6zM759.0 326.2h2.6v2.6h-2.6zM773.1 355.6h2.6v2.6h-2.6zM779.4 347.3h2.6v2.6h-2.6zM760.4 352.4h2.6v2.6h-2.6zM776.0 347.1h2.6v2.6h-2.6zM730.4 331.6h2.6v2.6h-2.6zM715.4 328.2h2.6v2.6h-2.6zM721.4 343.5h2.6v2.6h-2.6zM758.6 341.2h2.6v2.6h-2.6zM738.1 337.9h2.6v2.6h-2.6zM739.1 327.3h2.6v2.6h-2.6zM745.6 328.4h2.6v2.6h-2.6zM744.4 364.9h2.6v2.6h-2.6zM752.5 337.7h2.6v2.6h-2.6zM754.5 328.5h2.6v2.6h-2.6zM748.6 352.8h2.6v2.6h-2.6zM721.2 333.5h2.6v2.6h-2.6zM755.1 332.8h2.6v2.6h-2.6zM739.9 334.1h2.6v2.6h-2.6zM758.5 335.4h2.6v2.6h-2.6zM755.5 358.8h2.6v2.6h-2.6zM767.6 343.7h2.6v2.6h-2.6zM741.7 333.7h2.6v2.6h-2.6zM726.5 330.0h2.6v2.6h-2.6zM728.8 329.5h2.6v2.6h-2.6zM752.0 335.5h2.6v2.6h-2.6zM772.7 336.3h2.6v2.6h-2.6zM757.5 329.7h2.6v2.6h-2.6zM748.6 341.7h2.6v2.6h-2.6zM744.7 328.0h2.6v2.6h-2.6zM756.4 325.2h2.6v2.6h-2.6zM755.8 327.3h2.6v2.6h-2.6zM742.8 343.3h2.6v2.6h-2.6zM763.0 359.6h2.6v2.6h-2.6zM719.1 342.9h2.6v2.6h-2.6zM728.2 331.9h2.6v2.6h-2.6zM712.7 328.5h2.6v2.6h-2.6zM763.8 338.3h2.6v2.6h-2.6zM727.7 329.9h2.6v2.6h-2.6zM775.2 336.4h2.6v2.6h-2.6zM731.0 330.5h2.6v2.6h-2.6zM743.9 328.0h2.6v2.6h-2.6zM762.5 339.2h2.6v2.6h-2.6zM710.8 332.7h2.6v2.6h-2.6zM717.8 336.1h2.6v2.6h-2.6zM762.5 348.3h2.6v2.6h-2.6zM757.7 332.7h2.6v2.6h-2.6zM768.4 339.6h2.6v2.6h-2.6zM766.9 336.9h2.6v2.6h-2.6zM767.4 330.4h2.6v2.6h-2.6zM742.5 167.3h2.6v2.6h-2.6zM780.5 489.5h2.6v2.6h-2.6zM727.3 151.6h2.6v2.6h-2.6zM833.9 447.2h2.6v2.6h-2.6zM774.7 332.0h2.6v2.6h-2.6zM753.6 250.3h2.6v2.6h-2.6zM820.5 418.1h2.6v2.6h-2.6zM828.7 442.2h2.6v2.6h-2.6zM753.1 238.7h2.6v2.6h-2.6zM826.2 435.8h2.6v2.6h-2.6zM757.5 268.6h2.6v2.6h-2.6zM797.1 377.7h2.6v2.6h-2.6zM786.2 483.3h2.6v2.6h-2.6zM778.6 461.0h2.6v2.6h-2.6zM769.5 296.8h2.6v2.6h-2.6zM800.7 380.9h2.6v2.6h-2.6zM793.1 373.9h2.6v2.6h-2.6zM765.8 384.0h2.6v2.6h-2.6zM746.5 179.3h2.6v2.6h-2.6zM772.5 331.4h2.6v2.6h-2.6zM712.9 145.6h2.6v2.6h-2.6zM775.0 395.0h2.6v2.6h-2.6zM709.7 146.3h2.6v2.6h-2.6zM755.7 240.0h2.6v2.6h-2.6zM807.4 397.1h2.6v2.6h-2.6zM804.2 390.0h2.6v2.6h-2.6zM779.0 482.2h2.6v2.6h-2.6zM759.2 273.2h2.6v2.6h-2.6zM722.1 149.9h2.6v2.6h-2.6zM758.9 228.1h2.6v2.6h-2.6zM800.4 386.4h2.6v2.6h-2.6zM755.0 210.4h2.6v2.6h-2.6zM714.5 143.9h2.6v2.6h-2.6zM814.3 413.1h2.6v2.6h-2.6zM751.6 195.2h2.6v2.6h-2.6zM690.8 131.2h2.6v2.6h-2.6zM767.4 312.6h2.6v2.6h-2.6zM742.8 168.8h2.6v2.6h-2.6zM815.0 409.3h2.6v2.6h-2.6zM827.0 437.7h2.6v2.6h-2.6zM746.5 167.1h2.6v2.6h-2.6zM759.5 277.1h2.6v2.6h-2.6zM759.3 306.8h2.6v2.6h-2.6zM761.1 290.5h2.6v2.6h-2.6zM701.5 140.6h2.6v2.6h-2.6zM742.9 175.2h2.6v2.6h-2.6zM773.0 323.6h2.6v2.6h-2.6zM831.3 442.2h2.6v2.6h-2.6zM824.7 424.8h2.6v2.6h-2.6zM750.2 192.9h2.6v2.6h-2.6zM749.0 183.4h2.6v2.6h-2.6zM689.3 134.4h2.6v2.6h-2.6zM687.5 134.8h2.6v2.6h-2.6zM789.6 366.0h2.6v2.6h-2.6zM759.8 287.5h2.6v2.6h-2.6zM685.3 134.3h2.6v2.6h-2.6zM738.1 162.3h2.6v2.6h-2.6zM761.3 293.7h2.6v2.6h-2.6zM827.3 437.3h2.6v2.6h-2.6zM747.6 181.3h2.6v2.6h-2.6zM759.4 245.2h2.6v2.6h-2.6zM699.1 139.4h2.6v2.6h-2.6zM771.0 323.7h2.6v2.6h-2.6zM773.9 408.1h2.6v2.6h-2.6zM771.7 392.5h2.6v2.6h-2.6zM773.1 391.0h2.6v2.6h-2.6zM829.8 447.9h2.6v2.6h-2.6zM757.4 264.5h2.6v2.6h-2.6zM769.1 387.1h2.6v2.6h-2.6zM769.9 320.6h2.6v2.6h-2.6zM760.6 299.9h2.6v2.6h-2.6zM744.8 171.7h2.6v2.6h-2.6zM813.8 409.9h2.6v2.6h-2.6zM800.9 383.3h2.6v2.6h-2.6zM758.0 279.8h2.6v2.6h-2.6zM721.1 150.6h2.6v2.6h-2.6zM798.3 377.1h2.6v2.6h-2.6zM783.5 480.7h2.6v2.6h-2.6zM774.5 408.5h2.6v2.6h-2.6zM771.2 319.1h2.6v2.6h-2.6zM822.4 416.2h2.6v2.6h-2.6zM833.8 455.6h2.6v2.6h-2.6zM760.4 297.1h2.6v2.6h-2.6zM773.8 330.9h2.6v2.6h-2.6zM719.4 148.6h2.6v2.6h-2.6zM764.8 382.4h2.6v2.6h-2.6zM758.8 277.6h2.6v2.6h-2.6zM784.6 483.9h2.6v2.6h-2.6zM758.7 234.8h2.6v2.6h-2.6zM759.1 272.3h2.6v2.6h-2.6zM754.2 257.4h2.6v2.6h-2.6zM756.6 217.6h2.6v2.6h-2.6zM792.8 369.0h2.6v2.6h-2.6zM837.2 450.4h2.6v2.6h-2.6zM777.7 335.2h2.6v2.6h-2.6zM757.9 286.4h2.6v2.6h-2.6zM825.6 436.3h2.6v2.6h-2.6zM807.8 397.2h2.6v2.6h-2.6zM758.6 287.3h2.6v2.6h-2.6zM755.2 244.6h2.6v2.6h-2.6zM752.3 203.4h2.6v2.6h-2.6zM754.4 259.2h2.6v2.6h-2.6zM757.9 279.6h2.6v2.6h-2.6zM792.6 371.0h2.6v2.6h-2.6zM702.4 141.4h2.6v2.6h-2.6zM710.8 144.0h2.6v2.6h-2.6zM747.8 185.8h2.6v2.6h-2.6zM817.3 417.4h2.6v2.6h-2.6zM767.3 329.3h2.6v2.6h-2.6zM752.4 200.2h2.6v2.6h-2.6zM814.7 408.8h2.6v2.6h-2.6zM813.8 400.4h2.6v2.6h-2.6zM796.2 376.0h2.6v2.6h-2.6zM759.5 280.7h2.6v2.6h-2.6zM755.3 252.8h2.6v2.6h-2.6zM718.0 148.5h2.6v2.6h-2.6zM782.2 477.5h2.6v2.6h-2.6zM692.0 133.8h2.6v2.6h-2.6zM768.1 213.0h2.6v2.6h-2.6zM773.7 403.3h2.6v2.6h-2.6zM832.7 449.7h2.6v2.6h-2.6zM757.6 272.8h2.6v2.6h-2.6zM821.6 429.1h2.6v2.6h-2.6zM757.2 229.0h2.6v2.6h-2.6zM774.5 400.7h2.6v2.6h-2.6zM756.9 202.0h2.6v2.6h-2.6zM755.8 225.3h2.6v2.6h-2.6zM774.4 404.5h2.6v2.6h-2.6zM755.1 250.5h2.6v2.6h-2.6zM751.9 192.3h2.6v2.6h-2.6zM716.9 147.7h2.6v2.6h-2.6zM769.0 385.1h2.6v2.6h-2.6zM749.0 190.6h2.6v2.6h-2.6zM694.9 138.3h2.6v2.6h-2.6zM831.7 447.9h2.6v2.6h-2.6zM761.9 292.4h2.6v2.6h-2.6zM783.4 475.8h2.6v2.6h-2.6zM693.2 138.4h2.6v2.6h-2.6zM800.6 378.1h2.6v2.6h-2.6zM741.3 165.9h2.6v2.6h-2.6zM833.2 446.2h2.6v2.6h-2.6zM770.1 320.0h2.6v2.6h-2.6zM757.5 285.1h2.6v2.6h-2.6zM752.7 236.5h2.6v2.6h-2.6zM817.5 412.9h2.6v2.6h-2.6zM695.9 139.1h2.6v2.6h-2.6zM764.1 307.2h2.6v2.6h-2.6z" fill="#B2DF8A"/>
<path d="M696.4 315.5h2.6v2.6h-2.6zM685.0 340.6h2.6v2.6h-2.6zM688.8 313.9h2.6v2.6h-2.6zM700.6 343.2h2.6v2.6h-2.6zM685.2 329.4h2.6v2.6h-2.6zM702.8 326.2h2.6v2.6h-2.6zM697.4 326.7h2.6v2.6h-2.6zM685.4 309.9h2.6v2.6h-2.6zM692.4 340.8h2.6v2.6h-2.6zM681.2 325.5h2.6v2.6h-2.6zM688.7 317.3h2.6v2.6h-2.6zM682.5 340.5h2.6v2.6h-2.6zM780.5 367.5h2.6v2.6h-2.6zM797.0 405.2h2.6v2.6h-2.6zM775.4 368.0h2.6v2.6h-2.6zM769.8 368.9h2.6v2.6h-2.6zM805.7 424.6h2.6v2.6h-2.6zM797.4 379.9h2.6v2.6h-2.6zM794.1 416.0h2.6v2.6h-2.6zM794.4 428.0h2.6v2.6h-2.6zM807.5 420.1h2.6v2.6h-2.6zM793.0 427.2h2.6v2.6h-2.6zM785.8 413.6h2.6v2.6h-2.6zM809.4 397.5h2.6v2.6h-2.6zM795.2 383.9h2.6v2.6h-2.6zM794.6 382.3h2.6v2.6h-2.6zM807.2 432.1h2.6v2.6h-2.6zM778.3 377.1h2.6v2.6h-2.6zM770.0 374.0h2.6v2.6h-2.6zM807.1 420.0h2.6v2.6h-2.6zM820.3 473.0h2.6v2.6h-2.6zM800.3 410.3h2.6v2.6h-2.6zM780.9 391.4h2.6v2.6h-2.6zM802.9 441.1h2.6v2.6h-2.6zM836.2 463.7h2.6v2.6h-2.6zM819.2 473.2h2.6v2.6h-2.6zM831.2 479.4h2.6v2.6h-2.6zM804.9 448.7h2.6v2.6h-2.6zM793.1 476.4h2.6v2.6h-2.6zM815.0 445.6h2.6v2.6h-2.6zM821.5 424.5h2.6v2.6h-2.6zM832.4 460.3h2.6v2.6h-2.6zM786.4 445.9h2.6v2.6h-2.6zM783.6 426.0h2.6v2.6h-2.6zM780.7 402.2h2.6v2.6h-2.6zM791.4 429.9h2.6v2.6h-2.6zM829.0 474.6h2.6v2.6h-2.6zM788.0 402.7h2.6v2.6h-2.6zM838.0 420.2h2.6v2.6h-2.6zM802.9 414.3h2.6v2.6h-2.6zM791.5 396.8h2.6v2.6h-2.6zM832.0 460.7h2.6v2.6h-2.6zM792.1 445.8h2.6v2.6h-2.6zM807.4 447.8h2.6v2.6h-2.6zM800.4 476.2h2.6v2.6h-2.6zM831.1 444.2h2.6v2.6h-2.6zM792.9 462.2h2.6v2.6h-2.6zM832.1 467.5h2.6v2.6h-2.6zM791.2 406.5h2.6v2.6h-2.6zM822.7 460.4h2.6v2.6h-2.6zM795.2 444.0h2.6v2.6h-2.6zM786.4 402.6h2.6v2.6h-2.6zM807.9 405.3h2.6v2.6h-2.6zM818.0 468.7h2.6v2.6h-2.6zM837.9 454.4h2.6v2.6h-2.6zM798.4 458.3h2.6v2.6h-2.6zM780.7 386.8h2.6v2.6h-2.6zM860.0 485.0h2.6v2.6h-2.6zM959.2 475.7h2.6v2.6h-2.6zM907.8 459.4h2.6v2.6h-2.6zM954.7 471.4h2.6v2.6h-2.6zM880.9 452.4h2.6v2.6h-2.6zM936.5 484.1h2.6v2.6h-2.6zM953.9 468.3h2.6v2.6h-2.6zM967.5 465.6h2.6v2.6h-2.6zM893.8 472.9h2.6v2.6h-2.6zM905.6 460.7h2.6v2.6h-2.6zM890.5 451.4h2.6v2.6h-2.6zM871.7 458.5h2.6v2.6h-2.6zM904.3 445.5h2.6v2.6h-2.6zM934.4 465.5h2.6v2.6h-2.6zM942.3 449.1h2.6v2.6h-2.6zM865.6 466.6h2.6v2.6h-2.6zM928.1 485.6h2.6v2.6h-2.6zM902.5 430.8h2.6v2.6h-2.6zM896.2 470.4h2.6v2.6h-2.6zM924.8 465.8h2.6v2.6h-2.6zM929.7 421.7h2.6v2.6h-2.6zM901.3 466.6h2.6v2.6h-2.6zM988.6 460.4h2.6v2.6h-2.6zM890.9 472.1h2.6v2.6h-2.6zM956.9 463.2h2.6v2.6h-2.6zM919.0 469.2h2.6v2.6h-2.6zM859.0 471.4h2.6v2.6h-2.6zM941.9 440.9h2.6v2.6h-2.6zM955.0 469.8h2.6v2.6h-2.6zM861.9 476.8h2.6v2.6h-2.6zM869.7 451.0h2.6v2.6h-2.6zM949.1 471.1h2.6v2.6h-2.6zM915.2 450.4h2.6v2.6h-2.6zM901.6 454.9h2.6v2.6h-2.6zM888.0 489.5h2.6v2.6h-2.6zM841.6 455.4h2.6v2.6h-2.6zM948.5 468.5h2.6v2.6h-2.6zM890.1 456.6h2.6v2.6h-2.6zM980.9 452.3h2.6v2.6h-2.6zM857.7 471.2h2.6v2.6h-2.6zM934.2 475.7h2.6v2.6h-2.6zM906.0 454.6h2.6v2.6h-2.6zM849.3 444.7h2.6v2.6h-2.6zM893.7 472.7h2.6v2.6h-2.6zM853.1 437.2h2.6v2.6h-2.6zM943.8 444.7h2.6v2.6h-2.6zM921.9 486.8h2.6v2.6h-2.6zM864.8 435.0h2.6v2.6h-2.6zM865.1 461.3h2.6v2.6h-2.6zM921.1 437.5h2.6v2.6h-2.6zM875.6 442.7h2.6v2.6h-2.6zM950.1 445.3h2.6v2.6h-2.6zM920.4 450.1h2.6v2.6h-2.6zM954.4 475.7h2.6v2.6h-2.6zM921.7 458.2h2.6v2.6h-2.6zM907.0 464.5h2.6v2.6h-2.6zM912.3 439.4h2.6v2.6h-2.6zM941.6 466.9h2.6v2.6h-2.6zM849.7 439.6h2.6v2.6h-2.6zM903.6 458.8h2.6v2.6h-2.6zM948.7 461.2h2.6v2.6h-2.6zM898.1 484.0h2.6v2.6h-2.6zM934.0 440.9h2.6v2.6h-2.6zM967.4 476.5h2.6v2.6h-2.6zM848.7 441.2h2.6v2.6h-2.6zM854.6 447.9h2.6v2.6h-2.6zM899.5 480.6h2.6v2.6h-2.6zM897.7 443.0h2.6v2.6h-2.6zM900.0 470.1h2.6v2.6h-2.6zM943.2 466.9h2.6v2.6h-2.6zM867.5 451.8h2.6v2.6h-2.6zM938.7 421.0h2.6v2.6h-2.6zM964.8 456.9h2.6v2.6h-2.6zM971.5 463.5h2.6v2.6h-2.6zM995.5 469.7h2.6v2.6h-2.6zM972.5 452.7h2.6v2.6h-2.6zM844.2 437.6h2.6v2.6h-2.6zM851.5 461.2h2.6v2.6h-2.6zM910.4 475.3h2.6v2.6h-2.6zM938.0 480.7h2.6v2.6h-2.6zM921.6 451.1h2.6v2.6h-2.6zM905.0 453.0h2.6v2.6h-2.6zM921.1 474.5h2.6v2.6h-2.6zM936.2 461.3h2.6v2.6h-2.6zM889.0 469.6h2.6v2.6h-2.6zM942.9 466.7h2.6v2.6h-2.6zM928.1 470.1h2.6v2.6h-2.6zM974.2 481.4h2.6v2.6h-2.6zM918.3 430.5h2.6v2.6h-2.6zM902.8 435.6h2.6v2.6h-2.6zM972.9 449.0h2.6v2.6h-2.6zM974.9 448.5h2.6v2.6h-2.6zM858.5 470.0h2.6v2.6h-2.6zM955.8 440.2h2.6v2.6h-2.6zM859.6 452.9h2.6v2.6h-2.6zM902.9 471.9h2.6v2.6h-2.6zM911.8 481.7h2.6v2.6h-2.6zM910.5 472.6h2.6v2.6h-2.6zM850.1 485.8h2.6v2.6h-2.6zM888.2 468.7h2.6v2.6h-2.6zM871.1 452.4h2.6v2.6h-2.6zM935.6 480.8h2.6v2.6h-2.6zM885.1 458.0h2.6v2.6h-2.6zM884.0 462.7h2.6v2.6h-2.6zM968.2 450.7h2.6v2.6h-2.6zM852.7 480.8h2.6v2.6h-2.6zM881.5 460.5h2.6v2.6h-2.6zM914.0 468.5h2.6v2.6h-2.6zM943.9 466.4h2.6v2.6h-2.6zM931.1 452.3h2.6v2.6h-2.6zM914.5 478.8h2.6v2.6h-2.6zM930.9 427.4h2.6v2.6h-2.6zM882.8 442.4h2.6v2.6h-2.6zM909.7 441.2h2.6v2.6h-2.6zM928.0 476.7h2.6v2.6h-2.6zM913.9 472.3h2.6v2.6h-2.6zM966.9 461.8h2.6v2.6h-2.6zM852.2 447.1h2.6v2.6h-2.6zM933.8 429.5h2.6v2.6h-2.6zM933.7 457.6h2.6v2.6h-2.6zM918.7 443.2h2.6v2.6h-2.6zM932.3 441.1h2.6v2.6h-2.6zM961.8 460.6h2.6v2.6h-2.6zM849.5 474.8h2.6v2.6h-2.6zM943.7 475.6h2.6v2.6h-2.6zM895.4 475.9h2.6v2.6h-2.6zM918.9 486.8h2.6v2.6h-2.6zM927.7 486.1h2.6v2.6h-2.6zM990.3 476.5h2.6v2.6h-2.6zM975.8 456.5h2.6v2.6h-2.6zM880.3 454.5h2.6v2.6h-2.6zM905.5 446.9h2.6v2.6h-2.6zM925.1 467.4h2.6v2.6h-2.6zM901.6 434.0h2.6v2.6h-2.6zM987.7 464.1h2.6v2.6h-2.6zM899.9 478.0h2.6v2.6h-2.6zM941.3 440.0h2.6v2.6h-2.6zM926.8 444.9h2.6v2.6h-2.6zM928.5 463.7h2.6v2.6h-2.6zM847.0 449.9h2.6v2.6h-2.6zM957.9 461.3h2.6v2.6h-2.6zM911.3 429.1h2.6v2.6h-2.6zM856.0 437.4h2.6v2.6h-2.6zM955.0 434.7h2.6v2.6h-2.6zM841.6 481.9h2.6v2.6h-2.6zM935.7 469.8h2.6v2.6h-2.6zM889.7 438.1h2.6v2.6h-2.6zM867.7 470.0h2.6v2.6h-2.6zM842.1 437.1h2.6v2.6h-2.6zM843.8 478.5h2.6v2.6h-2.6zM842.2 483.8h2.6v2.6h-2.6zM932.5 446.6h2.6v2.6h-2.6zM929.9 449.0h2.6v2.6h-2.6zM845.4 467.4h2.6v2.6h-2.6zM919.7 464.6h2.6v2.6h-2.6zM870.0 468.3h2.6v2.6h-2.6zM863.8 453.3h2.6v2.6h-2.6zM939.7 480.6h2.6v2.6h-2.6zM903.7 488.5h2.6v2.6h-2.6zM959.9 459.3h2.6v2.6h-2.6zM965.4 469.3h2.6v2.6h-2.6zM888.2 454.7h2.6v2.6h-2.6zM935.2 476.8h2.6v2.6h-2.6zM844.7 485.7h2.6v2.6h-2.6zM892.6 435.7h2.6v2.6h-2.6zM961.1 457.0h2.6v2.6h-2.6zM934.7 440.1h2.6v2.6h-2.6zM885.7 448.1h2.6v2.6h-2.6zM954.4 447.7h2.6v2.6h-2.6zM849.7 470.0h2.6v2.6h-2.6zM869.1 469.0h2.6v2.6h-2.6zM892.4 459.7h2.6v2.6h-2.6zM859.9 456.0h2.6v2.6h-2.6zM884.1 474.1h2.6v2.6h-2.6zM908.1 485.5h2.6v2.6h-2.6zM949.1 441.3h2.6v2.6h-2.6zM971.7 455.1h2.6v2.6h-2.6zM879.8 433.9h2.6v2.6h-2.6zM881.0 479.5h2.6v2.6h-2.6zM942.9 465.9h2.6v2.6h-2.6zM938.0 438.7h2.6v2.6h-2.6zM909.8 486.3h2.6v2.6h-2.6zM936.4 474.1h2.6v2.6h-2.6zM945.4 436.2h2.6v2.6h-2.6zM866.4 443.0h2.6v2.6h-2.6zM904.6 475.6h2.6v2.6h-2.6zM966.0 456.9h2.6v2.6h-2.6zM905.2 454.1h2.6v2.6h-2.6zM899.4 438.2h2.6v2.6h-2.6zM871.2 489.1h2.6v2.6h-2.6zM854.4 485.4h2.6v2.6h-2.6zM877.9 473.9h2.6v2.6h-2.6zM925.0 473.2h2.6v2.6h-2.6zM903.7 449.3h2.6v2.6h-2.6zM931.2 436.4h2.6v2.6h-2.6zM956.3 477.7h2.6v2.6h-2.6zM859.8 438.3h2.6v2.6h-2.6zM849.0 453.3h2.6v2.6h-2.6zM914.6 460.5h2.6v2.6h-2.6zM858.0 479.2h2.6v2.6h-2.6zM906.6 487.4h2.6v2.6h-2.6zM898.8 457.7h2.6v2.6h-2.6zM953.3 463.5h2.6v2.6h-2.6zM951.4 438.6h2.6v2.6h-2.6zM929.4 479.6h2.6v2.6h-2.6zM925.9 457.1h2.6v2.6h-2.6zM854.8 468.5h2.6v2.6h-2.6zM852.0 467.0h2.6v2.6h-2.6zM891.8 475.3h2.6v2.6h-2.6zM937.5 444.7h2.6v2.6h-2.6zM940.9 470.6h2.6v2.6h-2.6zM944.4 481.1h2.6v2.6h-2.6zM895.3 490.7h2.6v2.6h-2.6zM924.2 461.9h2.6v2.6h-2.6zM939.2 454.4h2.6v2.6h-2.6zM984.5 476.8h2.6v2.6h-2.6zM877.5 480.3h2.6v2.6h-2.6zM853.1 471.5h2.6v2.6h-2.6zM849.6 445.7h2.6v2.6h-2.6zM952.4 482.8h2.6v2.6h-2.6zM905.3 456.5h2.6v2.6h-2.6zM855.5 435.5h2.6v2.6h-2.6zM972.1 460.8h2.6v2.6h-2.6zM930.3 442.4h2.6v2.6h-2.6zM882.3 451.8h2.6v2.6h-2.6zM945.3 420.7h2.6v2.6h-2.6zM881.4 441.3h2.6v2.6h-2.6zM897.6 436.6h2.6v2.6h-2.6zM901.0 486.8h2.6v2.6h-2.6zM931.9 465.2h2.6v2.6h-2.6zM976.6 471.7h2.6v2.6h-2.6zM925.6 423.9h2.6v2.6h-2.6zM934.7 453.4h2.6v2.6h-2.6zM852.9 473.4h2.6v2.6h-2.6zM934.3 453.4h2.6v2.6h-2.6zM931.0 446.0h2.6v2.6h-2.6zM915.2 453.7h2.6v2.6h-2.6zM856.8 449.7h2.6v2.6h-2.6zM885.0 438.8h2.6v2.6h-2.6zM899.8 462.7h2.6v2.6h-2.6zM884.1 483.3h2.6v2.6h-2.6zM916.5 431.1h2.6v2.6h-2.6zM916.8 448.4h2.6v2.6h-2.6zM992.6 458.8h2.6v2.6h-2.6zM954.9 454.1h2.6v2.6h-2.6zM884.7 490.7h2.6v2.6h-2.6zM907.8 485.9h2.6v2.6h-2.6zM896.8 468.8h2.6v2.6h-2.6zM922.5 454.2h2.6v2.6h-2.6zM932.8 446.6h2.6v2.6h-2.6zM972.9 466.7h2.6v2.6h-2.6zM935.8 419.7h2.6v2.6h-2.6zM930.0 459.9h2.6v2.6h-2.6zM875.6 463.6h2.6v2.6h-2.6zM998.0 462.4h2.6v2.6h-2.6zM921.6 453.7h2.6v2.6h-2.6zM851.4 461.8h2.6v2.6h-2.6zM977.0 465.7h2.6v2.6h-2.6zM910.6 466.0h2.6v2.6h-2.6zM933.7 418.5h2.6v2.6h-2.6zM984.8 454.7h2.6v2.6h-2.6zM978.5 467.8h2.6v2.6h-2.6zM938.8 481.8h2.6v2.6h-2.6zM932.2 424.9h2.6v2.6h-2.6zM863.9 448.0h2.6v2.6h-2.6zM946.4 452.8h2.6v2.6h-2.6zM901.4 455.3h2.6v2.6h-2.6zM936.8 470.8h2.6v2.6h-2.6zM905.7 439.7h2.6v2.6h-2.6zM927.2 482.1h2.6v2.6h-2.6zM919.6 431.2h2.6v2.6h-2.6zM884.3 452.2h2.6v2.6h-2.6zM884.2 486.4h2.6v2.6h-2.6zM975.2 480.2h2.6v2.6h-2.6zM871.2 462.1h2.6v2.6h-2.6zM929.8 470.6h2.6v2.6h-2.6zM868.5 437.7h2.6v2.6h-2.6zM977.4 474.1h2.6v2.6h-2.6zM849.9 436.9h2.6v2.6h-2.6zM924.1 449.2h2.6v2.6h-2.6zM944.0 422.0h2.6v2.6h-2.6zM884.9 488.2h2.6v2.6h-2.6zM888.0 445.5h2.6v2.6h-2.6zM905.9 468.1h2.6v2.6h-2.6zM944.4 445.2h2.6v2.6h-2.6zM949.1 457.4h2.6v2.6h-2.6zM899.8 462.4h2.6v2.6h-2.6zM899.5 452.1h2.6v2.6h-2.6zM927.7 432.5h2.6v2.6h-2.6zM887.0 457.3h2.6v2.6h-2.6zM943.6 455.5h2.6v2.6h-2.6zM877.1 462.0h2.6v2.6h-2.6zM936.5 455.3h2.6v2.6h-2.6zM845.3 470.3h2.6v2.6h-2.6zM945.6 452.8h2.6v2.6h-2.6zM973.6 449.0h2.6v2.6h-2.6zM926.3 481.6h2.6v2.6h-2.6zM842.1 448.1h2.6v2.6h-2.6zM916.8 480.4h2.6v2.6h-2.6zM902.7 444.4h2.6v2.6h-2.6zM945.9 450.5h2.6v2.6h-2.6zM976.2 452.4h2.6v2.6h-2.6zM883.5 451.9h2.6v2.6h-2.6zM877.3 459.0h2.6v2.6h-2.6zM923.2 463.1h2.6v2.6h-2.6zM1061.2 369.2h2.6v2.6h-2.6zM1070.6 359.8h2.6v2.6h-2.6zM1044.4 356.8h2.6v2.6h-2.6zM1078.2 365.6h2.6v2.6h-2.6zM1036.5 345.1h2.6v2.6h-2.6zM1066.9 355.5h2.6v2.6h-2.6zM1050.8 348.4h2.6v2.6h-2.6zM1052.9 365.7h2.6v2.6h-2.6zM1043.8 350.1h2.6v2.6h-2.6zM1081.8 373.0h2.6v2.6h-2.6zM1041.4 353.9h2.6v2.6h-2.6zM1085.0 361.3h2.6v2.6h-2.6zM1046.8 360.7h2.6v2.6h-2.6zM1040.3 349.9h2.6v2.6h-2.6zM1067.8 361.7h2.6v2.6h-2.6zM1032.9 341.2h2.6v2.6h-2.6zM1041.1 355.2h2.6v2.6h-2.6zM1070.9 372.9h2.6v2.6h-2.6zM1053.8 364.7h2.6v2.6h-2.6zM1071.2 373.4h2.6v2.6h-2.6zM1037.0 352.3h2.6v2.6h-2.6zM1047.7 351.1h2.6v2.6h-2.6zM1033.8 352.1h2.6v2.6h-2.6zM1052.3 352.2h2.6v2.6h-2.6zM1088.3 373.5h2.6v2.6h-2.6zM1056.5 370.0h2.6v2.6h-2.6zM1033.9 347.4h2.6v2.6h-2.6zM1074.4 365.7h2.6v2.6h-2.6zM1040.3 355.7h2.6v2.6h-2.6zM1035.5 357.4h2.6v2.6h-2.6zM1069.0 364.1h2.6v2.6h-2.6zM1041.8 358.0h2.6v2.6h-2.6zM1031.5 355.4h2.6v2.6h-2.6zM1063.5 365.2h2.6v2.6h-2.6zM1066.3 371.8h2.6v2.6h-2.6zM1037.9 344.4h2.6v2.6h-2.6zM1054.9 363.7h2.6v2.6h-2.6zM1055.8 360.8h2.6v2.6h-2.6zM1053.0 349.5h2.6v2.6h-2.6zM1077.9 364.7h2.6v2.6h-2.6zM1065.3 354.5h2.6v2.6h-2.6zM1055.1 355.5h2.6v2.6h-2.6zM1057.6 356.6h2.6v2.6h-2.6zM1039.1 358.0h2.6v2.6h-2.6zM1049.5 352.5h2.6v2.6h-2.6zM1061.9 365.6h2.6v2.6h-2.6zM1059.9 362.9h2.6v2.6h-2.6zM1071.4 370.2h2.6v2.6h-2.6zM1075.4 357.5h2.6v2.6h-2.6zM1051.4 359.5h2.6v2.6h-2.6zM1040.0 357.9h2.6v2.6h-2.6zM1043.2 355.4h2.6v2.6h-2.6zM1065.4 365.5h2.6v2.6h-2.6zM1057.4 360.6h2.6v2.6h-2.6zM1067.1 371.7h2.6v2.6h-2.6zM1048.9 364.6h2.6v2.6h-2.6zM1068.1 359.6h2.6v2.6h-2.6zM1039.2 351.7h2.6v2.6h-2.6zM1042.1 357.9h2.6v2.6h-2.6zM1042.4 358.8h2.6v2.6h-2.6zM987.7 542.8h2.6v2.6h-2.6zM929.2 481.2h2.6v2.6h-2.6zM931.3 480.0h2.6v2.6h-2.6zM972.4 586.1h2.6v2.6h-2.6zM891.2 498.8h2.6v2.6h-2.6zM918.4 486.0h2.6v2.6h-2.6zM890.6 523.8h2.6v2.6h-2.6zM907.4 481.4h2.6v2.6h-2.6zM919.7 483.1h2.6v2.6h-2.6zM950.2 479.9h2.6v2.6h-2.6zM888.7 542.3h2.6v2.6h-2.6zM1008.5 483.5h2.6v2.6h-2.6zM942.8 480.1h2.6v2.6h-2.6zM996.7 477.8h2.6v2.6h-2.6zM927.0 480.8h2.6v2.6h-2.6zM890.2 545.7h2.6v2.6h-2.6zM996.0 530.7h2.6v2.6h-2.6zM1003.0 513.5h2.6v2.6h-2.6zM1005.6 505.8h2.6v2.6h-2.6zM992.3 545.0h2.6v2.6h-2.6zM966.1 484.2h2.6v2.6h-2.6zM911.1 591.0h2.6v2.6h-2.6zM888.1 511.5h2.6v2.6h-2.6zM972.6 474.6h2.6v2.6h-2.6zM1005.2 473.1h2.6v2.6h-2.6zM977.4 571.0h2.6v2.6h-2.6zM988.1 542.5h2.6v2.6h-2.6zM945.1 479.8h2.6v2.6h-2.6zM981.2 475.2h2.6v2.6h-2.6zM986.2 474.1h2.6v2.6h-2.6zM960.2 478.6h2.6v2.6h-2.6zM972.8 474.8h2.6v2.6h-2.6zM899.8 576.4h2.6v2.6h-2.6zM977.1 476.2h2.6v2.6h-2.6zM911.4 592.4h2.6v2.6h-2.6zM894.9 484.5h2.6v2.6h-2.6zM969.7 591.1h2.6v2.6h-2.6zM1008.9 485.9h2.6v2.6h-2.6zM981.4 476.4h2.6v2.6h-2.6zM949.1 479.3h2.6v2.6h-2.6zM986.3 476.7h2.6v2.6h-2.6zM894.5 495.7h2.6v2.6h-2.6zM877.1 488.4h2.6v2.6h-2.6zM896.4 563.6h2.6v2.6h-2.6zM956.5 475.0h2.6v2.6h-2.6zM903.1 577.5h2.6v2.6h-2.6zM890.0 517.1h2.6v2.6h-2.6zM982.5 473.9h2.6v2.6h-2.6zM973.1 589.9h2.6v2.6h-2.6zM891.9 484.8h2.6v2.6h-2.6zM886.0 490.0h2.6v2.6h-2.6zM994.7 474.8h2.6v2.6h-2.6zM897.0 567.4h2.6v2.6h-2.6zM912.8 482.9h2.6v2.6h-2.6zM910.6 482.9h2.6v2.6h-2.6zM974.2 580.9h2.6v2.6h-2.6zM1004.8 471.7h2.6v2.6h-2.6zM974.3 477.1h2.6v2.6h-2.6zM1009.0 491.5h2.6v2.6h-2.6zM978.8 571.5h2.6v2.6h-2.6zM894.8 534.2h2.6v2.6h-2.6zM891.6 487.2h2.6v2.6h-2.6zM888.4 486.2h2.6v2.6h-2.6zM982.9 549.7h2.6v2.6h-2.6zM938.2 477.6h2.6v2.6h-2.6zM990.2 527.1h2.6v2.6h-2.6zM999.8 523.7h2.6v2.6h-2.6zM900.2 485.7h2.6v2.6h-2.6zM915.0 593.4h2.6v2.6h-2.6zM1003.4 512.3h2.6v2.6h-2.6zM892.5 513.6h2.6v2.6h-2.6zM973.3 578.4h2.6v2.6h-2.6zM893.8 485.7h2.6v2.6h-2.6zM976.6 564.6h2.6v2.6h-2.6zM1000.0 484.6h2.6v2.6h-2.6zM914.8 484.3h2.6v2.6h-2.6zM1003.8 514.5h2.6v2.6h-2.6zM911.1 590.2h2.6v2.6h-2.6zM932.9 479.5h2.6v2.6h-2.6zM1014.8 491.2h2.6v2.6h-2.6zM979.2 477.9h2.6v2.6h-2.6zM979.7 564.8h2.6v2.6h-2.6zM891.7 521.2h2.6v2.6h-2.6zM977.4 572.7h2.6v2.6h-2.6zM892.7 552.6h2.6v2.6h-2.6zM991.7 473.1h2.6v2.6h-2.6zM904.0 487.9h2.6v2.6h-2.6zM915.6 482.9h2.6v2.6h-2.6zM897.9 574.9h2.6v2.6h-2.6zM881.7 491.3h2.6v2.6h-2.6zM954.3 479.7h2.6v2.6h-2.6zM887.3 502.4h2.6v2.6h-2.6zM937.6 477.0h2.6v2.6h-2.6zM888.8 511.8h2.6v2.6h-2.6zM891.3 537.6h2.6v2.6h-2.6zM907.5 586.3h2.6v2.6h-2.6zM897.3 575.3h2.6v2.6h-2.6zM1007.9 491.5h2.6v2.6h-2.6zM885.8 484.5h2.6v2.6h-2.6zM999.8 523.1h2.6v2.6h-2.6zM937.9 481.5h2.6v2.6h-2.6zM999.1 471.1h2.6v2.6h-2.6zM892.8 522.0h2.6v2.6h-2.6zM944.3 481.5h2.6v2.6h-2.6zM971.4 590.5h2.6v2.6h-2.6zM891.2 536.7h2.6v2.6h-2.6zM903.2 482.9h2.6v2.6h-2.6zM924.9 482.5h2.6v2.6h-2.6zM887.3 486.3h2.6v2.6h-2.6zM980.7 554.0h2.6v2.6h-2.6zM988.2 543.0h2.6v2.6h-2.6zM980.6 474.4h2.6v2.6h-2.6zM987.1 545.3h2.6v2.6h-2.6zM944.5 477.6h2.6v2.6h-2.6zM969.2 477.6h2.6v2.6h-2.6zM899.0 484.8h2.6v2.6h-2.6zM900.3 573.6h2.6v2.6h-2.6zM915.9 483.3h2.6v2.6h-2.6zM1004.3 506.3h2.6v2.6h-2.6zM885.9 488.0h2.6v2.6h-2.6zM896.2 555.3h2.6v2.6h-2.6zM892.4 518.1h2.6v2.6h-2.6zM886.9 538.2h2.6v2.6h-2.6zM936.6 481.9h2.6v2.6h-2.6zM1005.6 472.9h2.6v2.6h-2.6zM884.9 499.0h2.6v2.6h-2.6zM887.0 539.0h2.6v2.6h-2.6zM1004.9 507.7h2.6v2.6h-2.6zM895.2 563.6h2.6v2.6h-2.6zM894.1 545.5h2.6v2.6h-2.6zM925.2 483.1h2.6v2.6h-2.6zM900.5 578.0h2.6v2.6h-2.6zM902.4 587.4h2.6v2.6h-2.6zM954.3 482.9h2.6v2.6h-2.6zM1003.9 511.2h2.6v2.6h-2.6zM1002.5 515.4h2.6v2.6h-2.6zM887.9 487.4h2.6v2.6h-2.6zM992.4 536.4h2.6v2.6h-2.6zM974.2 579.0h2.6v2.6h-2.6zM1006.2 478.5h2.6v2.6h-2.6zM891.4 523.4h2.6v2.6h-2.6zM896.6 484.3h2.6v2.6h-2.6zM892.4 486.7h2.6v2.6h-2.6zM922.9 481.8h2.6v2.6h-2.6zM1004.8 504.2h2.6v2.6h-2.6zM904.7 477.4h2.6v2.6h-2.6zM987.5 544.9h2.6v2.6h-2.6zM884.7 487.0h2.6v2.6h-2.6zM1005.0 473.0h2.6v2.6h-2.6zM899.2 479.8h2.6v2.6h-2.6z" fill="#7BAFDE"/>
<path d="M807.4 421.0h2.6v2.6h-2.6zM799.8 393.3h2.6v2.6h-2.6zM798.4 399.7h2.6v2.6h-2.6zM777.3 386.4h2.6v2.6h-2.6zM777.1 377.8h2.6v2.6h-2.6zM808.2 405.4h2.6v2.6h-2.6zM791.6 387.2h2.6v2.6h-2.6zM774.7 369.9h2.6v2.6h-2.6zM784.5 413.4h2.6v2.6h-2.6zM807.6 415.5h2.6v2.6h-2.6zM769.2 372.9h2.6v2.6h-2.6zM807.0 427.9h2.6v2.6h-2.6zM809.4 413.2h2.6v2.6h-2.6zM780.7 397.1h2.6v2.6h-2.6zM802.0 385.3h2.6v2.6h-2.6zM806.1 399.5h2.6v2.6h-2.6zM788.8 390.6h2.6v2.6h-2.6zM784.0 377.9h2.6v2.6h-2.6zM772.2 382.6h2.6v2.6h-2.6zM801.8 417.4h2.6v2.6h-2.6zM784.4 393.8h2.6v2.6h-2.6zM771.6 377.5h2.6v2.6h-2.6zM800.3 411.6h2.6v2.6h-2.6zM796.6 420.2h2.6v2.6h-2.6zM803.8 393.7h2.6v2.6h-2.6zM786.5 388.2h2.6v2.6h-2.6zM794.1 384.8h2.6v2.6h-2.6zM776.8 389.5h2.6v2.6h-2.6zM807.0 414.0h2.6v2.6h-2.6zM792.6 407.0h2.6v2.6h-2.6zM798.4 415.9h2.6v2.6h-2.6zM777.5 381.0h2.6v2.6h-2.6zM802.1 427.4h2.6v2.6h-2.6zM798.1 409.8h2.6v2.6h-2.6zM775.0 379.5h2.6v2.6h-2.6zM794.6 372.8h2.6v2.6h-2.6zM791.1 425.0h2.6v2.6h-2.6zM803.0 403.9h2.6v2.6h-2.6zM788.7 395.1h2.6v2.6h-2.6zM789.3 396.2h2.6v2.6h-2.6zM798.1 377.3h2.6v2.6h-2.6zM767.9 378.0h2.6v2.6h-2.6zM777.4 389.7h2.6v2.6h-2.6zM779.4 365.5h2.6v2.6h-2.6zM802.8 397.5h2.6v2.6h-2.6zM788.9 378.3h2.6v2.6h-2.6zM803.2 427.6h2.6v2.6h-2.6zM792.5 391.6h2.6v2.6h-2.6zM795.1 378.0h2.6v2.6h-2.6zM801.9 458.8h2.6v2.6h-2.6zM816.9 439.5h2.6v2.6h-2.6zM836.5 453.3h2.6v2.6h-2.6zM788.4 421.8h2.6v2.6h-2.6zM792.1 472.0h2.6v2.6h-2.6zM819.3 418.1h2.6v2.6h-2.6zM830.2 414.5h2.6v2.6h-2.6zM863.0 461.7h2.6v2.6h-2.6zM858.5 483.6h2.6v2.6h-2.6zM884.1 437.3h2.6v2.6h-2.6zM966.8 474.6h2.6v2.6h-2.6zM855.7 484.9h2.6v2.6h-2.6zM947.2 450.6h2.6v2.6h-2.6zM886.7 486.6h2.6v2.6h-2.6zM940.0 473.8h2.6v2.6h-2.6zM927.7 441.8h2.6v2.6h-2.6zM966.4 447.5h2.6v2.6h-2.6zM885.0 471.1h2.6v2.6h-2.6zM955.6 439.0h2.6v2.6h-2.6zM888.9 454.8h2.6v2.6h-2.6zM891.5 463.0h2.6v2.6h-2.6zM890.0 440.2h2.6v2.6h-2.6zM857.6 460.8h2.6v2.6h-2.6zM884.2 485.4h2.6v2.6h-2.6zM932.9 420.0h2.6v2.6h-2.6zM921.2 421.7h2.6v2.6h-2.6zM917.0 441.4h2.6v2.6h-2.6zM844.0 479.5h2.6v2.6h-2.6zM900.9 485.4h2.6v2.6h-2.6zM954.5 438.5h2.6v2.6h-2.6zM968.5 448.7h2.6v2.6h-2.6zM856.7 488.2h2.6v2.6h-2.6zM863.2 452.0h2.6v2.6h-2.6zM866.8 438.2h2.6v2.6h-2.6zM849.3 483.2h2.6v2.6h-2.6zM892.0 446.0h2.6v2.6h-2.6zM857.4 466.3h2.6v2.6h-2.6zM952.9 475.2h2.6v2.6h-2.6zM973.1 447.8h2.6v2.6h-2.6zM883.8 482.6h2.6v2.6h-2.6zM894.0 468.5h2.6v2.6h-2.6zM967.9 447.6h2.6v2.6h-2.6zM887.8 460.0h2.6v2.6h-2.6zM977.6 477.2h2.6v2.6h-2.6zM907.7 454.3h2.6v2.6h-2.6zM958.8 450.4h2.6v2.6h-2.6zM942.7 458.8h2.6v2.6h-2.6zM978.4 462.9h2.6v2.6h-2.6zM854.0 448.0h2.6v2.6h-2.6zM954.7 454.9h2.6v2.6h-2.6zM863.4 451.5h2.6v2.6h-2.6zM869.7 435.0h2.6v2.6h-2.6zM869.3 471.4h2.6v2.6h-2.6zM956.8 495.4h2.6v2.6h-2.6zM972.8 540.5h2.6v2.6h-2.6zM929.7 547.0h2.6v2.6h-2.6zM911.7 577.5h2.6v2.6h-2.6zM987.4 521.9h2.6v2.6h-2.6zM966.9 519.7h2.6v2.6h-2.6zM990.6 531.4h2.6v2.6h-2.6zM944.8 534.4h2.6v2.6h-2.6zM949.7 588.3h2.6v2.6h-2.6zM935.3 543.4h2.6v2.6h-2.6zM931.7 558.0h2.6v2.6h-2.6zM942.6 534.1h2.6v2.6h-2.6zM961.0 588.5h2.6v2.6h-2.6zM972.8 577.3h2.6v2.6h-2.6zM987.8 504.5h2.6v2.6h-2.6zM966.1 503.4h2.6v2.6h-2.6zM919.0 587.0h2.6v2.6h-2.6zM922.7 573.0h2.6v2.6h-2.6zM920.2 530.2h2.6v2.6h-2.6zM967.3 529.0h2.6v2.6h-2.6zM931.3 522.5h2.6v2.6h-2.6zM968.1 496.6h2.6v2.6h-2.6zM956.3 567.5h2.6v2.6h-2.6zM982.7 542.4h2.6v2.6h-2.6zM911.2 497.0h2.6v2.6h-2.6zM917.5 556.6h2.6v2.6h-2.6zM914.8 586.7h2.6v2.6h-2.6zM962.7 597.3h2.6v2.6h-2.6zM959.3 580.8h2.6v2.6h-2.6zM923.6 580.2h2.6v2.6h-2.6zM935.3 580.0h2.6v2.6h-2.6zM969.7 594.3h2.6v2.6h-2.6zM968.1 597.7h2.6v2.6h-2.6zM914.8 587.0h2.6v2.6h-2.6zM959.0 579.0h2.6v2.6h-2.6zM970.1 591.4h2.6v2.6h-2.6zM938.6 594.5h2.6v2.6h-2.6zM934.8 590.1h2.6v2.6h-2.6zM955.6 581.0h2.6v2.6h-2.6zM952.4 591.7h2.6v2.6h-2.6zM920.6 587.1h2.6v2.6h-2.6zM968.3 583.1h2.6v2.6h-2.6zM958.9 590.9h2.6v2.6h-2.6zM972.4 583.3h2.6v2.6h-2.6zM935.8 585.6h2.6v2.6h-2.6zM941.3 591.6h2.6v2.6h-2.6zM933.0 590.2h2.6v2.6h-2.6zM913.3 582.5h2.6v2.6h-2.6zM959.0 586.4h2.6v2.6h-2.6zM970.3 594.7h2.6v2.6h-2.6zM920.2 577.8h2.6v2.6h-2.6zM921.3 599.5h2.6v2.6h-2.6zM968.6 587.2h2.6v2.6h-2.6zM918.6 578.8h2.6v2.6h-2.6zM966.2 596.3h2.6v2.6h-2.6zM959.1 587.3h2.6v2.6h-2.6zM962.9 594.0h2.6v2.6h-2.6zM972.6 577.0h2.6v2.6h-2.6zM961.1 591.7h2.6v2.6h-2.6zM925.0 584.0h2.6v2.6h-2.6zM908.7 588.9h2.6v2.6h-2.6zM924.4 595.3h2.6v2.6h-2.6zM941.1 585.2h2.6v2.6h-2.6zM915.7 580.9h2.6v2.6h-2.6zM938.0 582.2h2.6v2.6h-2.6zM722.0 216.9h2.6v2.6h-2.6zM725.5 239.3h2.6v2.6h-2.6zM716.8 234.3h2.6v2.6h-2.6zM722.1 226.8h2.6v2.6h-2.6zM728.0 299.2h2.6v2.6h-2.6zM712.9 276.9h2.6v2.6h-2.6zM728.7 286.3h2.6v2.6h-2.6zM704.5 256.8h2.6v2.6h-2.6zM732.0 300.9h2.6v2.6h-2.6zM718.6 217.6h2.6v2.6h-2.6zM712.0 250.6h2.6v2.6h-2.6zM726.4 214.2h2.6v2.6h-2.6zM738.0 215.2h2.6v2.6h-2.6zM733.8 235.0h2.6v2.6h-2.6zM736.3 234.7h2.6v2.6h-2.6zM733.2 270.1h2.6v2.6h-2.6zM751.5 272.1h2.6v2.6h-2.6zM703.5 258.3h2.6v2.6h-2.6zM739.0 219.8h2.6v2.6h-2.6zM750.2 241.6h2.6v2.6h-2.6zM716.0 271.8h2.6v2.6h-2.6zM732.7 224.5h2.6v2.6h-2.6zM729.3 232.0h2.6v2.6h-2.6zM742.4 282.4h2.6v2.6h-2.6zM710.7 216.6h2.6v2.6h-2.6zM718.3 263.1h2.6v2.6h-2.6zM724.1 274.4h2.6v2.6h-2.6zM746.8 260.8h2.6v2.6h-2.6zM742.2 279.6h2.6v2.6h-2.6zM707.5 262.5h2.6v2.6h-2.6zM713.4 265.0h2.6v2.6h-2.6zM707.1 230.3h2.6v2.6h-2.6zM734.5 258.6h2.6v2.6h-2.6zM747.1 247.8h2.6v2.6h-2.6zM747.5 223.6h2.6v2.6h-2.6zM702.1 220.6h2.6v2.6h-2.6zM734.8 226.5h2.6v2.6h-2.6zM705.3 260.4h2.6v2.6h-2.6zM713.1 259.0h2.6v2.6h-2.6zM721.1 277.0h2.6v2.6h-2.6zM726.1 321.2h2.6v2.6h-2.6zM732.3 327.1h2.6v2.6h-2.6zM732.1 328.2h2.6v2.6h-2.6zM763.6 321.7h2.6v2.6h-2.6zM738.9 324.9h2.6v2.6h-2.6zM715.6 302.9h2.6v2.6h-2.6zM723.7 317.7h2.6v2.6h-2.6zM744.8 321.5h2.6v2.6h-2.6zM766.6 322.9h2.6v2.6h-2.6zM728.5 314.9h2.6v2.6h-2.6zM748.6 320.7h2.6v2.6h-2.6zM709.5 325.0h2.6v2.6h-2.6zM726.8 323.3h2.6v2.6h-2.6zM712.1 312.5h2.6v2.6h-2.6zM720.9 317.0h2.6v2.6h-2.6zM735.5 327.0h2.6v2.6h-2.6zM709.1 317.2h2.6v2.6h-2.6zM731.2 294.7h2.6v2.6h-2.6zM723.8 304.0h2.6v2.6h-2.6zM723.7 314.9h2.6v2.6h-2.6zM735.6 326.4h2.6v2.6h-2.6zM723.1 321.0h2.6v2.6h-2.6zM725.1 321.6h2.6v2.6h-2.6zM765.4 324.8h2.6v2.6h-2.6zM736.8 323.5h2.6v2.6h-2.6zM768.6 327.2h2.6v2.6h-2.6zM767.5 320.5h2.6v2.6h-2.6zM780.2 338.8h2.6v2.6h-2.6zM763.5 317.1h2.6v2.6h-2.6zM746.5 314.9h2.6v2.6h-2.6zM744.4 324.0h2.6v2.6h-2.6zM725.1 327.6h2.6v2.6h-2.6zM718.5 319.9h2.6v2.6h-2.6zM717.2 312.9h2.6v2.6h-2.6zM724.2 308.6h2.6v2.6h-2.6zM752.2 323.7h2.6v2.6h-2.6zM719.6 309.7h2.6v2.6h-2.6zM716.9 311.1h2.6v2.6h-2.6zM730.5 287.2h2.6v2.6h-2.6zM745.0 320.1h2.6v2.6h-2.6zM718.1 300.1h2.6v2.6h-2.6zM708.1 320.9h2.6v2.6h-2.6zM726.5 327.3h2.6v2.6h-2.6zM733.0 303.2h2.6v2.6h-2.6zM726.1 326.0h2.6v2.6h-2.6zM727.2 325.2h2.6v2.6h-2.6zM724.4 295.7h2.6v2.6h-2.6zM768.6 318.1h2.6v2.6h-2.6zM731.4 321.2h2.6v2.6h-2.6zM774.4 331.4h2.6v2.6h-2.6zM770.1 323.1h2.6v2.6h-2.6zM729.0 326.0h2.6v2.6h-2.6zM727.4 294.9h2.6v2.6h-2.6zM723.1 326.4h2.6v2.6h-2.6zM726.1 325.1h2.6v2.6h-2.6zM720.4 308.1h2.6v2.6h-2.6zM742.7 319.3h2.6v2.6h-2.6zM774.3 332.6h2.6v2.6h-2.6zM709.0 322.5h2.6v2.6h-2.6zM750.4 300.9h2.6v2.6h-2.6zM757.4 318.0h2.6v2.6h-2.6zM732.8 312.3h2.6v2.6h-2.6zM770.9 325.7h2.6v2.6h-2.6zM735.1 321.9h2.6v2.6h-2.6zM722.4 304.5h2.6v2.6h-2.6zM717.7 322.1h2.6v2.6h-2.6zM744.8 325.1h2.6v2.6h-2.6zM726.6 329.0h2.6v2.6h-2.6zM708.1 323.8h2.6v2.6h-2.6zM725.1 316.3h2.6v2.6h-2.6zM726.7 324.9h2.6v2.6h-2.6zM767.3 324.8h2.6v2.6h-2.6zM733.2 310.4h2.6v2.6h-2.6zM747.6 317.0h2.6v2.6h-2.6zM771.9 328.3h2.6v2.6h-2.6zM746.4 323.5h2.6v2.6h-2.6zM763.9 317.1h2.6v2.6h-2.6zM761.3 320.5h2.6v2.6h-2.6zM729.9 319.1h2.6v2.6h-2.6zM717.2 326.2h2.6v2.6h-2.6zM712.0 320.8h2.6v2.6h-2.6zM724.0 328.9h2.6v2.6h-2.6zM753.8 312.1h2.6v2.6h-2.6zM732.7 300.3h2.6v2.6h-2.6zM776.4 334.7h2.6v2.6h-2.6zM713.1 318.7h2.6v2.6h-2.6zM745.4 283.0h2.6v2.6h-2.6zM728.5 318.9h2.6v2.6h-2.6zM746.8 288.1h2.6v2.6h-2.6zM769.3 325.9h2.6v2.6h-2.6zM731.0 321.1h2.6v2.6h-2.6zM717.9 321.2h2.6v2.6h-2.6zM719.7 308.6h2.6v2.6h-2.6zM726.4 295.1h2.6v2.6h-2.6zM768.0 324.6h2.6v2.6h-2.6zM728.0 319.4h2.6v2.6h-2.6zM714.6 323.9h2.6v2.6h-2.6zM742.8 319.7h2.6v2.6h-2.6zM778.9 336.1h2.6v2.6h-2.6zM737.0 292.5h2.6v2.6h-2.6zM712.3 320.8h2.6v2.6h-2.6zM717.4 324.2h2.6v2.6h-2.6zM719.1 329.0h2.6v2.6h-2.6zM716.6 396.8h2.6v2.6h-2.6zM757.1 381.3h2.6v2.6h-2.6zM674.8 359.3h2.6v2.6h-2.6zM703.1 400.9h2.6v2.6h-2.6zM758.9 378.9h2.6v2.6h-2.6zM691.1 390.5h2.6v2.6h-2.6zM739.3 390.4h2.6v2.6h-2.6zM789.3 357.7h2.6v2.6h-2.6zM682.0 303.6h2.6v2.6h-2.6zM697.9 405.6h2.6v2.6h-2.6zM767.4 326.2h2.6v2.6h-2.6zM688.3 338.0h2.6v2.6h-2.6zM679.3 328.9h2.6v2.6h-2.6zM770.7 376.4h2.6v2.6h-2.6zM780.3 345.6h2.6v2.6h-2.6zM735.0 393.5h2.6v2.6h-2.6zM681.4 329.4h2.6v2.6h-2.6zM673.5 356.1h2.6v2.6h-2.6zM682.0 303.9h2.6v2.6h-2.6zM694.9 395.5h2.6v2.6h-2.6zM787.2 360.6h2.6v2.6h-2.6zM672.4 336.1h2.6v2.6h-2.6zM748.7 389.0h2.6v2.6h-2.6zM679.0 345.6h2.6v2.6h-2.6zM686.1 304.7h2.6v2.6h-2.6zM783.7 367.4h2.6v2.6h-2.6zM692.9 387.9h2.6v2.6h-2.6zM764.4 376.0h2.6v2.6h-2.6zM788.2 355.2h2.6v2.6h-2.6zM706.1 323.5h2.6v2.6h-2.6zM728.1 396.8h2.6v2.6h-2.6zM749.5 383.7h2.6v2.6h-2.6zM696.0 313.5h2.6v2.6h-2.6zM685.5 380.6h2.6v2.6h-2.6zM689.0 383.3h2.6v2.6h-2.6zM768.7 328.3h2.6v2.6h-2.6zM694.2 309.6h2.6v2.6h-2.6zM761.1 321.2h2.6v2.6h-2.6zM682.2 303.4h2.6v2.6h-2.6zM732.9 328.6h2.6v2.6h-2.6zM680.6 325.3h2.6v2.6h-2.6zM687.3 386.9h2.6v2.6h-2.6zM786.4 349.4h2.6v2.6h-2.6zM714.6 398.5h2.6v2.6h-2.6zM697.5 315.0h2.6v2.6h-2.6zM693.6 316.2h2.6v2.6h-2.6zM769.6 377.8h2.6v2.6h-2.6zM697.3 393.1h2.6v2.6h-2.6zM739.4 385.6h2.6v2.6h-2.6zM680.6 338.6h2.6v2.6h-2.6zM683.4 373.5h2.6v2.6h-2.6zM693.5 389.2h2.6v2.6h-2.6zM729.2 398.2h2.6v2.6h-2.6zM677.7 348.7h2.6v2.6h-2.6zM783.4 345.5h2.6v2.6h-2.6zM719.8 328.8h2.6v2.6h-2.6zM764.6 380.4h2.6v2.6h-2.6zM699.9 401.6h2.6v2.6h-2.6zM769.9 374.3h2.6v2.6h-2.6zM691.0 308.7h2.6v2.6h-2.6zM685.8 379.8h2.6v2.6h-2.6zM733.0 394.1h2.6v2.6h-2.6zM674.9 359.9h2.6v2.6h-2.6zM714.7 397.7h2.6v2.6h-2.6zM736.7 394.1h2.6v2.6h-2.6zM721.4 398.1h2.6v2.6h-2.6zM680.5 320.2h2.6v2.6h-2.6zM779.7 334.4h2.6v2.6h-2.6zM753.8 382.7h2.6v2.6h-2.6zM780.7 371.6h2.6v2.6h-2.6zM787.6 351.0h2.6v2.6h-2.6zM696.2 314.3h2.6v2.6h-2.6zM770.8 380.8h2.6v2.6h-2.6zM744.3 323.6h2.6v2.6h-2.6zM732.0 394.7h2.6v2.6h-2.6zM768.3 331.9h2.6v2.6h-2.6zM703.6 395.6h2.6v2.6h-2.6zM680.3 307.4h2.6v2.6h-2.6zM697.9 397.5h2.6v2.6h-2.6zM738.5 325.6h2.6v2.6h-2.6zM675.8 355.4h2.6v2.6h-2.6zM778.8 334.0h2.6v2.6h-2.6zM744.7 386.3h2.6v2.6h-2.6zM673.3 359.6h2.6v2.6h-2.6zM770.1 376.2h2.6v2.6h-2.6zM766.6 328.2h2.6v2.6h-2.6zM759.7 323.8h2.6v2.6h-2.6zM682.7 306.2h2.6v2.6h-2.6zM718.4 401.5h2.6v2.6h-2.6zM719.7 397.7h2.6v2.6h-2.6zM709.2 323.9h2.6v2.6h-2.6zM690.8 310.4h2.6v2.6h-2.6zM744.7 386.0h2.6v2.6h-2.6zM715.2 326.8h2.6v2.6h-2.6zM746.0 384.8h2.6v2.6h-2.6zM767.9 326.6h2.6v2.6h-2.6zM778.2 336.3h2.6v2.6h-2.6zM764.7 323.0h2.6v2.6h-2.6zM723.9 396.7h2.6v2.6h-2.6zM765.4 326.8h2.6v2.6h-2.6zM673.2 365.6h2.6v2.6h-2.6zM680.5 308.2h2.6v2.6h-2.6zM755.8 381.0h2.6v2.6h-2.6zM680.7 339.0h2.6v2.6h-2.6zM745.1 325.9h2.6v2.6h-2.6zM676.2 350.9h2.6v2.6h-2.6zM680.5 372.1h2.6v2.6h-2.6zM683.0 381.7h2.6v2.6h-2.6zM682.2 374.9h2.6v2.6h-2.6zM788.6 363.2h2.6v2.6h-2.6zM777.6 338.0h2.6v2.6h-2.6zM737.6 332.5h2.6v2.6h-2.6zM681.9 304.0h2.6v2.6h-2.6zM772.3 328.9h2.6v2.6h-2.6zM699.1 314.7h2.6v2.6h-2.6zM781.2 363.9h2.6v2.6h-2.6zM699.2 315.7h2.6v2.6h-2.6zM699.2 324.4h2.6v2.6h-2.6zM680.4 328.4h2.6v2.6h-2.6zM762.8 381.6h2.6v2.6h-2.6zM782.2 338.7h2.6v2.6h-2.6zM759.7 323.5h2.6v2.6h-2.6zM766.2 327.6h2.6v2.6h-2.6zM786.7 352.0h2.6v2.6h-2.6zM700.8 319.0h2.6v2.6h-2.6zM706.5 323.5h2.6v2.6h-2.6zM702.5 316.9h2.6v2.6h-2.6zM711.5 324.3h2.6v2.6h-2.6zM716.7 327.0h2.6v2.6h-2.6zM744.3 324.8h2.6v2.6h-2.6zM681.1 315.5h2.6v2.6h-2.6zM785.0 355.8h2.6v2.6h-2.6zM699.2 399.8h2.6v2.6h-2.6zM785.7 351.1h2.6v2.6h-2.6zM700.9 318.3h2.6v2.6h-2.6zM681.2 327.2h2.6v2.6h-2.6zM756.1 383.3h2.6v2.6h-2.6zM701.7 403.6h2.6v2.6h-2.6zM724.8 328.3h2.6v2.6h-2.6z" fill="#882E72"/>
<path d="M789.1 426.3h2.6v2.6h-2.6zM791.5 366.3h2.6v2.6h-2.6zM802.4 384.7h2.6v2.6h-2.6zM799.2 395.5h2.6v2.6h-2.6zM781.6 391.2h2.6v2.6h-2.6zM807.7 415.5h2.6v2.6h-2.6zM800.3 431.5h2.6v2.6h-2.6zM795.5 424.8h2.6v2.6h-2.6zM787.1 405.6h2.6v2.6h-2.6zM790.8 420.8h2.6v2.6h-2.6zM790.0 402.7h2.6v2.6h-2.6zM788.6 428.5h2.6v2.6h-2.6zM802.7 390.1h2.6v2.6h-2.6zM808.2 418.4h2.6v2.6h-2.6zM792.5 411.6h2.6v2.6h-2.6zM781.1 385.4h2.6v2.6h-2.6zM817.4 416.7h2.6v2.6h-2.6zM811.0 445.0h2.6v2.6h-2.6zM801.3 445.2h2.6v2.6h-2.6zM807.0 473.7h2.6v2.6h-2.6zM807.0 454.0h2.6v2.6h-2.6zM788.6 454.9h2.6v2.6h-2.6zM793.0 425.4h2.6v2.6h-2.6zM785.8 393.7h2.6v2.6h-2.6zM833.4 422.0h2.6v2.6h-2.6zM791.6 416.6h2.6v2.6h-2.6zM814.4 474.2h2.6v2.6h-2.6zM793.1 422.3h2.6v2.6h-2.6zM783.9 430.7h2.6v2.6h-2.6zM799.9 451.6h2.6v2.6h-2.6zM923.8 477.3h2.6v2.6h-2.6zM898.5 479.8h2.6v2.6h-2.6zM901.9 460.0h2.6v2.6h-2.6zM890.9 484.5h2.6v2.6h-2.6zM925.1 432.6h2.6v2.6h-2.6zM951.9 448.0h2.6v2.6h-2.6zM926.1 427.8h2.6v2.6h-2.6zM913.8 440.5h2.6v2.6h-2.6zM910.5 445.8h2.6v2.6h-2.6zM947.3 433.5h2.6v2.6h-2.6zM906.2 479.7h2.6v2.6h-2.6zM966.2 468.6h2.6v2.6h-2.6zM865.5 438.4h2.6v2.6h-2.6zM911.1 481.2h2.6v2.6h-2.6zM927.2 441.8h2.6v2.6h-2.6zM895.0 485.3h2.6v2.6h-2.6zM858.8 479.6h2.6v2.6h-2.6zM928.8 458.8h2.6v2.6h-2.6zM895.4 474.8h2.6v2.6h-2.6zM956.1 476.4h2.6v2.6h-2.6zM937.1 460.3h2.6v2.6h-2.6zM934.7 388.4h2.6v2.6h-2.6zM917.5 395.7h2.6v2.6h-2.6zM937.9 388.1h2.6v2.6h-2.6zM940.7 388.6h2.6v2.6h-2.6zM938.1 408.7h2.6v2.6h-2.6zM916.8 395.0h2.6v2.6h-2.6zM914.5 420.9h2.6v2.6h-2.6zM922.3 415.6h2.6v2.6h-2.6zM942.0 383.5h2.6v2.6h-2.6zM927.8 425.1h2.6v2.6h-2.6zM919.3 393.1h2.6v2.6h-2.6zM941.5 392.9h2.6v2.6h-2.6zM924.6 402.5h2.6v2.6h-2.6zM922.7 407.1h2.6v2.6h-2.6zM933.0 399.4h2.6v2.6h-2.6zM932.3 419.3h2.6v2.6h-2.6zM915.8 422.5h2.6v2.6h-2.6zM916.3 398.0h2.6v2.6h-2.6zM913.5 420.2h2.6v2.6h-2.6zM934.1 395.0h2.6v2.6h-2.6zM944.5 391.1h2.6v2.6h-2.6zM928.2 390.6h2.6v2.6h-2.6zM914.1 424.3h2.6v2.6h-2.6zM944.6 398.8h2.6v2.6h-2.6zM927.8 416.4h2.6v2.6h-2.6zM935.7 387.3h2.6v2.6h-2.6zM954.1 481.6h2.6v2.6h-2.6zM996.2 488.7h2.6v2.6h-2.6zM960.2 456.8h2.6v2.6h-2.6zM950.1 463.5h2.6v2.6h-2.6zM963.0 498.7h2.6v2.6h-2.6zM979.3 490.9h2.6v2.6h-2.6zM947.7 459.5h2.6v2.6h-2.6zM976.9 489.4h2.6v2.6h-2.6zM989.3 462.0h2.6v2.6h-2.6zM947.4 476.0h2.6v2.6h-2.6zM993.2 487.3h2.6v2.6h-2.6zM957.4 456.9h2.6v2.6h-2.6zM1001.5 471.3h2.6v2.6h-2.6zM986.0 496.7h2.6v2.6h-2.6zM977.5 489.6h2.6v2.6h-2.6zM947.1 479.6h2.6v2.6h-2.6zM966.1 472.7h2.6v2.6h-2.6zM973.8 493.1h2.6v2.6h-2.6zM983.4 484.4h2.6v2.6h-2.6zM952.1 480.7h2.6v2.6h-2.6zM992.6 480.6h2.6v2.6h-2.6zM981.6 481.9h2.6v2.6h-2.6zM950.7 486.7h2.6v2.6h-2.6zM987.0 466.5h2.6v2.6h-2.6zM978.7 458.3h2.6v2.6h-2.6zM987.1 494.0h2.6v2.6h-2.6zM977.1 490.8h2.6v2.6h-2.6zM966.6 464.4h2.6v2.6h-2.6zM958.8 473.8h2.6v2.6h-2.6zM971.9 484.6h2.6v2.6h-2.6zM971.4 456.0h2.6v2.6h-2.6zM996.0 460.2h2.6v2.6h-2.6zM978.1 478.6h2.6v2.6h-2.6zM952.0 485.4h2.6v2.6h-2.6zM950.8 476.5h2.6v2.6h-2.6zM956.4 458.4h2.6v2.6h-2.6zM952.1 479.3h2.6v2.6h-2.6zM983.1 466.5h2.6v2.6h-2.6zM978.2 472.0h2.6v2.6h-2.6zM970.1 477.8h2.6v2.6h-2.6zM996.2 488.1h2.6v2.6h-2.6zM989.8 464.0h2.6v2.6h-2.6zM946.0 463.7h2.6v2.6h-2.6zM967.2 488.2h2.6v2.6h-2.6zM973.2 493.5h2.6v2.6h-2.6zM954.4 458.7h2.6v2.6h-2.6zM983.2 485.9h2.6v2.6h-2.6zM980.8 498.6h2.6v2.6h-2.6zM987.4 474.8h2.6v2.6h-2.6zM974.5 460.6h2.6v2.6h-2.6zM967.8 494.4h2.6v2.6h-2.6zM989.8 475.2h2.6v2.6h-2.6zM966.4 473.9h2.6v2.6h-2.6zM978.1 480.4h2.6v2.6h-2.6zM994.7 476.8h2.6v2.6h-2.6zM988.8 479.7h2.6v2.6h-2.6zM973.9 457.8h2.6v2.6h-2.6zM1006.8 472.1h2.6v2.6h-2.6zM972.4 457.7h2.6v2.6h-2.6zM959.4 464.8h2.6v2.6h-2.6zM1003.3 455.6h2.6v2.6h-2.6zM981.7 476.9h2.6v2.6h-2.6zM945.7 470.8h2.6v2.6h-2.6zM966.1 499.7h2.6v2.6h-2.6zM995.1 477.1h2.6v2.6h-2.6zM998.1 460.3h2.6v2.6h-2.6zM945.8 477.1h2.6v2.6h-2.6zM970.6 477.3h2.6v2.6h-2.6zM992.4 478.4h2.6v2.6h-2.6zM1000.2 456.9h2.6v2.6h-2.6zM975.1 499.9h2.6v2.6h-2.6zM961.8 490.6h2.6v2.6h-2.6zM1003.5 455.8h2.6v2.6h-2.6zM964.5 493.2h2.6v2.6h-2.6zM995.8 457.3h2.6v2.6h-2.6zM958.7 460.5h2.6v2.6h-2.6zM991.3 480.9h2.6v2.6h-2.6zM961.0 463.6h2.6v2.6h-2.6zM978.4 469.2h2.6v2.6h-2.6zM975.6 461.3h2.6v2.6h-2.6zM972.2 492.7h2.6v2.6h-2.6zM992.0 481.8h2.6v2.6h-2.6zM973.4 460.6h2.6v2.6h-2.6zM972.5 475.3h2.6v2.6h-2.6zM963.8 487.0h2.6v2.6h-2.6zM990.3 469.4h2.6v2.6h-2.6zM972.4 467.3h2.6v2.6h-2.6zM978.3 478.7h2.6v2.6h-2.6zM948.8 483.4h2.6v2.6h-2.6zM946.1 460.8h2.6v2.6h-2.6zM979.9 478.5h2.6v2.6h-2.6zM978.1 455.2h2.6v2.6h-2.6zM949.4 484.5h2.6v2.6h-2.6zM978.9 492.8h2.6v2.6h-2.6zM948.7 479.3h2.6v2.6h-2.6zM990.2 470.4h2.6v2.6h-2.6zM991.4 472.2h2.6v2.6h-2.6zM1001.9 471.6h2.6v2.6h-2.6zM975.5 492.7h2.6v2.6h-2.6zM963.0 472.7h2.6v2.6h-2.6zM976.7 487.9h2.6v2.6h-2.6zM946.7 472.4h2.6v2.6h-2.6zM982.0 475.7h2.6v2.6h-2.6zM960.5 470.2h2.6v2.6h-2.6zM956.0 476.8h2.6v2.6h-2.6zM980.6 486.0h2.6v2.6h-2.6zM992.3 483.0h2.6v2.6h-2.6zM986.4 476.8h2.6v2.6h-2.6zM959.5 484.3h2.6v2.6h-2.6zM997.0 475.1h2.6v2.6h-2.6zM976.4 471.8h2.6v2.6h-2.6zM988.6 483.2h2.6v2.6h-2.6zM962.0 496.9h2.6v2.6h-2.6zM963.5 481.0h2.6v2.6h-2.6zM953.1 465.1h2.6v2.6h-2.6zM973.0 467.8h2.6v2.6h-2.6zM1000.8 458.2h2.6v2.6h-2.6zM952.1 468.9h2.6v2.6h-2.6zM972.2 471.4h2.6v2.6h-2.6zM971.5 483.9h2.6v2.6h-2.6zM988.9 489.3h2.6v2.6h-2.6zM984.0 456.0h2.6v2.6h-2.6zM995.1 469.5h2.6v2.6h-2.6zM984.1 471.5h2.6v2.6h-2.6zM971.9 474.9h2.6v2.6h-2.6zM974.6 493.5h2.6v2.6h-2.6zM978.5 472.4h2.6v2.6h-2.6zM978.2 471.0h2.6v2.6h-2.6zM1003.7 455.7h2.6v2.6h-2.6zM994.4 485.3h2.6v2.6h-2.6zM993.0 476.5h2.6v2.6h-2.6zM995.6 477.2h2.6v2.6h-2.6zM975.5 488.1h2.6v2.6h-2.6zM966.1 489.9h2.6v2.6h-2.6zM969.0 470.8h2.6v2.6h-2.6zM983.1 456.5h2.6v2.6h-2.6zM981.0 499.9h2.6v2.6h-2.6zM990.3 488.9h2.6v2.6h-2.6zM958.7 477.5h2.6v2.6h-2.6zM967.9 477.0h2.6v2.6h-2.6zM956.2 489.7h2.6v2.6h-2.6zM982.6 480.3h2.6v2.6h-2.6zM963.9 485.5h2.6v2.6h-2.6zM994.3 477.2h2.6v2.6h-2.6zM967.9 473.9h2.6v2.6h-2.6zM994.8 480.2h2.6v2.6h-2.6zM969.1 477.5h2.6v2.6h-2.6zM960.8 493.3h2.6v2.6h-2.6zM973.2 483.8h2.6v2.6h-2.6zM945.2 471.1h2.6v2.6h-2.6zM956.6 479.4h2.6v2.6h-2.6zM961.5 488.3h2.6v2.6h-2.6zM991.8 488.7h2.6v2.6h-2.6zM979.7 481.1h2.6v2.6h-2.6zM979.6 495.8h2.6v2.6h-2.6zM982.6 455.4h2.6v2.6h-2.6zM964.6 466.3h2.6v2.6h-2.6zM951.7 467.1h2.6v2.6h-2.6zM1004.2 462.7h2.6v2.6h-2.6zM968.5 483.8h2.6v2.6h-2.6zM987.2 461.8h2.6v2.6h-2.6zM981.5 487.6h2.6v2.6h-2.6zM988.5 462.2h2.6v2.6h-2.6zM948.5 458.9h2.6v2.6h-2.6zM992.5 483.7h2.6v2.6h-2.6zM977.2 484.5h2.6v2.6h-2.6zM970.1 492.7h2.6v2.6h-2.6zM966.7 474.5h2.6v2.6h-2.6zM956.8 476.5h2.6v2.6h-2.6zM981.4 489.8h2.6v2.6h-2.6zM975.6 463.4h2.6v2.6h-2.6zM987.7 465.0h2.6v2.6h-2.6zM969.8 475.6h2.6v2.6h-2.6zM974.0 497.8h2.6v2.6h-2.6zM964.0 476.9h2.6v2.6h-2.6zM990.5 488.5h2.6v2.6h-2.6zM960.8 481.9h2.6v2.6h-2.6zM976.1 471.3h2.6v2.6h-2.6zM979.9 489.8h2.6v2.6h-2.6zM951.2 485.9h2.6v2.6h-2.6zM1000.0 469.5h2.6v2.6h-2.6zM989.4 491.8h2.6v2.6h-2.6zM976.8 479.5h2.6v2.6h-2.6zM980.1 488.3h2.6v2.6h-2.6zM984.2 496.1h2.6v2.6h-2.6zM966.0 462.4h2.6v2.6h-2.6zM958.8 456.3h2.6v2.6h-2.6zM956.0 479.3h2.6v2.6h-2.6zM974.3 455.6h2.6v2.6h-2.6zM961.0 459.1h2.6v2.6h-2.6zM954.5 473.0h2.6v2.6h-2.6zM974.2 462.4h2.6v2.6h-2.6zM1000.2 469.6h2.6v2.6h-2.6zM985.9 489.0h2.6v2.6h-2.6zM1001.1 461.6h2.6v2.6h-2.6zM998.5 474.6h2.6v2.6h-2.6zM998.5 472.1h2.6v2.6h-2.6zM947.0 464.2h2.6v2.6h-2.6zM1003.5 468.9h2.6v2.6h-2.6zM972.3 459.7h2.6v2.6h-2.6zM963.3 497.7h2.6v2.6h-2.6zM1006.3 467.2h2.6v2.6h-2.6zM972.0 499.3h2.6v2.6h-2.6zM968.7 486.1h2.6v2.6h-2.6zM986.3 456.0h2.6v2.6h-2.6zM993.0 463.7h2.6v2.6h-2.6zM949.2 479.5h2.6v2.6h-2.6zM991.2 474.3h2.6v2.6h-2.6zM1001.2 469.6h2.6v2.6h-2.6zM986.9 485.9h2.6v2.6h-2.6zM995.6 491.5h2.6v2.6h-2.6zM987.0 459.3h2.6v2.6h-2.6zM962.6 476.9h2.6v2.6h-2.6zM979.4 457.0h2.6v2.6h-2.6zM986.0 460.3h2.6v2.6h-2.6zM998.0 488.6h2.6v2.6h-2.6zM947.9 460.3h2.6v2.6h-2.6zM957.4 488.9h2.6v2.6h-2.6zM988.9 458.8h2.6v2.6h-2.6zM989.3 471.5h2.6v2.6h-2.6zM973.7 461.3h2.6v2.6h-2.6zM951.2 487.7h2.6v2.6h-2.6zM1004.0 459.8h2.6v2.6h-2.6zM985.5 464.0h2.6v2.6h-2.6zM979.6 482.7h2.6v2.6h-2.6zM975.0 492.6h2.6v2.6h-2.6zM948.3 476.5h2.6v2.6h-2.6zM972.1 455.1h2.6v2.6h-2.6zM998.1 475.5h2.6v2.6h-2.6zM973.4 457.4h2.6v2.6h-2.6zM997.2 489.2h2.6v2.6h-2.6zM965.0 458.5h2.6v2.6h-2.6zM977.8 488.9h2.6v2.6h-2.6zM980.7 457.0h2.6v2.6h-2.6zM970.6 480.0h2.6v2.6h-2.6zM952.5 470.1h2.6v2.6h-2.6zM991.5 490.2h2.6v2.6h-2.6zM956.0 470.7h2.6v2.6h-2.6zM988.5 475.8h2.6v2.6h-2.6zM997.9 459.3h2.6v2.6h-2.6zM965.0 489.0h2.6v2.6h-2.6zM971.2 461.8h2.6v2.6h-2.6zM989.2 480.4h2.6v2.6h-2.6zM1004.8 466.0h2.6v2.6h-2.6zM964.8 498.0h2.6v2.6h-2.6zM994.3 471.7h2.6v2.6h-2.6zM982.0 491.2h2.6v2.6h-2.6zM1001.6 464.8h2.6v2.6h-2.6zM954.1 462.7h2.6v2.6h-2.6zM1175.0 258.7h2.6v2.6h-2.6zM1175.3 127.9h2.6v2.6h-2.6zM1101.8 43.8h2.6v2.6h-2.6zM1047.4 52.6h2.6v2.6h-2.6zM1019.5 214.4h2.6v2.6h-2.6zM1017.0 109.8h2.6v2.6h-2.6zM1023.2 248.7h2.6v2.6h-2.6zM1104.4 41.5h2.6v2.6h-2.6zM1135.7 342.6h2.6v2.6h-2.6zM1067.3 38.1h2.6v2.6h-2.6zM1029.9 336.2h2.6v2.6h-2.6zM1014.9 203.3h2.6v2.6h-2.6zM1061.1 42.4h2.6v2.6h-2.6zM1193.4 219.3h2.6v2.6h-2.6zM1138.5 323.8h2.6v2.6h-2.6zM1023.2 240.7h2.6v2.6h-2.6zM1012.0 158.6h2.6v2.6h-2.6zM1011.4 133.6h2.6v2.6h-2.6zM1141.2 338.2h2.6v2.6h-2.6zM1170.0 274.5h2.6v2.6h-2.6zM1153.8 288.2h2.6v2.6h-2.6zM1026.0 99.6h2.6v2.6h-2.6zM1022.4 239.6h2.6v2.6h-2.6zM1130.5 50.9h2.6v2.6h-2.6zM1019.9 334.6h2.6v2.6h-2.6zM1041.7 355.3h2.6v2.6h-2.6zM1010.4 118.2h2.6v2.6h-2.6zM1013.8 140.9h2.6v2.6h-2.6zM1153.7 70.8h2.6v2.6h-2.6zM1193.8 230.2h2.6v2.6h-2.6zM1097.7 374.9h2.6v2.6h-2.6zM1152.1 292.4h2.6v2.6h-2.6zM1102.4 43.1h2.6v2.6h-2.6zM1172.0 123.8h2.6v2.6h-2.6zM1038.9 65.8h2.6v2.6h-2.6zM1028.2 84.1h2.6v2.6h-2.6zM1003.7 297.8h2.6v2.6h-2.6zM1015.6 189.5h2.6v2.6h-2.6zM1193.9 228.3h2.6v2.6h-2.6zM1194.3 212.4h2.6v2.6h-2.6zM1051.2 47.7h2.6v2.6h-2.6zM1141.8 328.9h2.6v2.6h-2.6zM1178.9 132.8h2.6v2.6h-2.6zM1117.5 375.5h2.6v2.6h-2.6zM1185.0 142.8h2.6v2.6h-2.6zM1040.0 354.5h2.6v2.6h-2.6zM1119.5 363.7h2.6v2.6h-2.6zM1086.4 39.7h2.6v2.6h-2.6zM1014.2 200.1h2.6v2.6h-2.6zM1189.8 247.0h2.6v2.6h-2.6zM1012.8 144.6h2.6v2.6h-2.6zM1043.5 59.6h2.6v2.6h-2.6zM1141.4 337.2h2.6v2.6h-2.6zM1173.6 270.0h2.6v2.6h-2.6zM1105.1 374.2h2.6v2.6h-2.6zM1134.1 350.2h2.6v2.6h-2.6zM1138.6 341.9h2.6v2.6h-2.6zM1131.2 355.0h2.6v2.6h-2.6zM1014.7 130.3h2.6v2.6h-2.6zM1121.0 45.2h2.6v2.6h-2.6zM1094.1 46.0h2.6v2.6h-2.6zM1024.3 339.0h2.6v2.6h-2.6zM1004.4 300.9h2.6v2.6h-2.6zM1018.2 191.1h2.6v2.6h-2.6zM1193.2 233.6h2.6v2.6h-2.6zM1186.3 254.5h2.6v2.6h-2.6zM1013.1 181.4h2.6v2.6h-2.6zM1056.6 44.7h2.6v2.6h-2.6zM1054.5 46.0h2.6v2.6h-2.6zM1072.4 40.6h2.6v2.6h-2.6zM1145.1 322.8h2.6v2.6h-2.6zM1016.5 207.3h2.6v2.6h-2.6zM1033.1 71.3h2.6v2.6h-2.6zM1052.1 51.5h2.6v2.6h-2.6zM1083.3 374.8h2.6v2.6h-2.6zM1178.4 133.3h2.6v2.6h-2.6zM1006.9 289.4h2.6v2.6h-2.6zM1008.3 172.8h2.6v2.6h-2.6zM1059.4 42.4h2.6v2.6h-2.6zM1158.7 80.4h2.6v2.6h-2.6zM1013.3 323.9h2.6v2.6h-2.6zM1018.2 260.7h2.6v2.6h-2.6zM1145.9 288.2h2.6v2.6h-2.6zM1119.9 47.9h2.6v2.6h-2.6zM1005.6 275.1h2.6v2.6h-2.6zM1002.5 281.1h2.6v2.6h-2.6zM1060.0 45.0h2.6v2.6h-2.6zM1019.3 218.2h2.6v2.6h-2.6zM1122.6 52.0h2.6v2.6h-2.6zM1012.1 157.6h2.6v2.6h-2.6zM1005.8 270.5h2.6v2.6h-2.6zM1012.4 175.0h2.6v2.6h-2.6zM1187.5 251.0h2.6v2.6h-2.6zM1135.0 52.3h2.6v2.6h-2.6zM1010.6 137.5h2.6v2.6h-2.6zM1170.0 106.1h2.6v2.6h-2.6zM1021.6 214.3h2.6v2.6h-2.6zM1187.7 249.6h2.6v2.6h-2.6zM1006.2 269.1h2.6v2.6h-2.6zM1005.0 296.9h2.6v2.6h-2.6zM1163.7 93.6h2.6v2.6h-2.6zM1170.7 111.3h2.6v2.6h-2.6zM1109.3 45.5h2.6v2.6h-2.6zM1030.0 345.5h2.6v2.6h-2.6zM1143.3 315.2h2.6v2.6h-2.6zM1173.9 123.6h2.6v2.6h-2.6zM1013.5 129.9h2.6v2.6h-2.6zM1038.3 353.0h2.6v2.6h-2.6zM1004.4 309.0h2.6v2.6h-2.6zM1146.5 58.2h2.6v2.6h-2.6zM1131.7 356.4h2.6v2.6h-2.6zM1116.9 370.7h2.6v2.6h-2.6zM1109.4 372.7h2.6v2.6h-2.6zM1107.4 42.3h2.6v2.6h-2.6zM1028.7 83.9h2.6v2.6h-2.6zM1056.1 44.3h2.6v2.6h-2.6zM1026.6 87.6h2.6v2.6h-2.6zM1096.7 377.0h2.6v2.6h-2.6zM1034.5 351.3h2.6v2.6h-2.6zM1028.4 344.5h2.6v2.6h-2.6zM1012.1 144.0h2.6v2.6h-2.6zM1023.9 342.5h2.6v2.6h-2.6zM1042.8 62.3h2.6v2.6h-2.6zM1188.3 250.2h2.6v2.6h-2.6zM1009.7 303.6h2.6v2.6h-2.6zM1144.0 340.8h2.6v2.6h-2.6zM1179.6 262.9h2.6v2.6h-2.6zM1187.8 163.4h2.6v2.6h-2.6zM1051.4 361.1h2.6v2.6h-2.6zM1161.7 89.0h2.6v2.6h-2.6zM1108.6 45.0h2.6v2.6h-2.6zM1016.5 333.6h2.6v2.6h-2.6zM1032.0 345.7h2.6v2.6h-2.6zM1094.2 375.4h2.6v2.6h-2.6zM1131.3 52.1h2.6v2.6h-2.6zM1136.9 342.2h2.6v2.6h-2.6zM1092.9 42.0h2.6v2.6h-2.6zM1192.3 195.6h2.6v2.6h-2.6zM1041.0 64.1h2.6v2.6h-2.6zM1144.3 324.4h2.6v2.6h-2.6zM1021.3 96.2h2.6v2.6h-2.6zM1102.9 377.2h2.6v2.6h-2.6zM1165.9 100.0h2.6v2.6h-2.6zM1191.1 188.2h2.6v2.6h-2.6zM1078.1 373.1h2.6v2.6h-2.6zM1172.4 116.6h2.6v2.6h-2.6zM1152.1 296.5h2.6v2.6h-2.6zM1171.9 108.5h2.6v2.6h-2.6zM1083.0 377.8h2.6v2.6h-2.6zM1004.3 298.2h2.6v2.6h-2.6zM1141.8 50.7h2.6v2.6h-2.6zM1043.2 56.1h2.6v2.6h-2.6zM1020.9 329.8h2.6v2.6h-2.6zM1112.9 375.1h2.6v2.6h-2.6zM1196.6 227.9h2.6v2.6h-2.6zM1020.7 335.3h2.6v2.6h-2.6zM1188.5 165.4h2.6v2.6h-2.6zM1020.8 232.1h2.6v2.6h-2.6zM1154.1 302.9h2.6v2.6h-2.6zM1017.7 333.7h2.6v2.6h-2.6zM1010.3 317.8h2.6v2.6h-2.6zM1015.8 328.6h2.6v2.6h-2.6zM1006.6 308.9h2.6v2.6h-2.6zM1137.2 334.4h2.6v2.6h-2.6zM1196.0 230.8h2.6v2.6h-2.6zM1175.1 275.8h2.6v2.6h-2.6zM1164.9 96.2h2.6v2.6h-2.6zM1106.3 44.2h2.6v2.6h-2.6zM1090.6 40.9h2.6v2.6h-2.6zM1011.7 321.9h2.6v2.6h-2.6zM1069.7 40.1h2.6v2.6h-2.6zM1091.7 40.4h2.6v2.6h-2.6zM1143.4 313.3h2.6v2.6h-2.6zM1141.7 333.6h2.6v2.6h-2.6zM1127.5 362.9h2.6v2.6h-2.6zM1069.1 369.1h2.6v2.6h-2.6zM1012.0 264.1h2.6v2.6h-2.6zM1021.7 215.9h2.6v2.6h-2.6zM1030.4 80.1h2.6v2.6h-2.6zM1020.5 230.7h2.6v2.6h-2.6zM1120.3 45.7h2.6v2.6h-2.6zM1022.4 247.3h2.6v2.6h-2.6zM1184.7 154.6h2.6v2.6h-2.6zM1200.2 213.1h2.6v2.6h-2.6zM1055.2 364.5h2.6v2.6h-2.6zM1022.1 245.2h2.6v2.6h-2.6zM1059.0 362.9h2.6v2.6h-2.6zM1040.0 60.9h2.6v2.6h-2.6zM1012.0 161.4h2.6v2.6h-2.6zM1154.3 70.4h2.6v2.6h-2.6zM1018.3 115.3h2.6v2.6h-2.6zM1181.6 263.6h2.6v2.6h-2.6zM1178.9 137.0h2.6v2.6h-2.6zM1103.7 375.6h2.6v2.6h-2.6zM1025.1 88.6h2.6v2.6h-2.6zM1184.9 153.0h2.6v2.6h-2.6zM1111.4 370.8h2.6v2.6h-2.6zM1154.1 72.0h2.6v2.6h-2.6zM1148.0 58.0h2.6v2.6h-2.6zM1198.7 191.7h2.6v2.6h-2.6zM1168.2 276.1h2.6v2.6h-2.6zM1196.9 227.6h2.6v2.6h-2.6zM1114.0 372.4h2.6v2.6h-2.6zM1147.6 306.3h2.6v2.6h-2.6zM1141.6 329.5h2.6v2.6h-2.6zM1021.2 243.9h2.6v2.6h-2.6zM1155.1 73.7h2.6v2.6h-2.6zM1005.3 276.8h2.6v2.6h-2.6zM1136.3 54.0h2.6v2.6h-2.6zM1186.3 156.4h2.6v2.6h-2.6zM1057.6 43.4h2.6v2.6h-2.6zM1020.3 99.2h2.6v2.6h-2.6zM1018.9 229.4h2.6v2.6h-2.6zM1026.4 341.1h2.6v2.6h-2.6zM1026.8 336.3h2.6v2.6h-2.6zM1112.8 375.8h2.6v2.6h-2.6zM1189.2 178.5h2.6v2.6h-2.6zM1193.9 230.9h2.6v2.6h-2.6zM1019.1 104.4h2.6v2.6h-2.6zM1169.8 272.7h2.6v2.6h-2.6zM1025.0 89.4h2.6v2.6h-2.6zM1023.5 336.1h2.6v2.6h-2.6zM1074.8 372.4h2.6v2.6h-2.6zM1196.8 219.8h2.6v2.6h-2.6zM1012.2 170.1h2.6v2.6h-2.6zM1191.7 231.9h2.6v2.6h-2.6zM1195.5 225.5h2.6v2.6h-2.6zM1178.9 134.4h2.6v2.6h-2.6zM1180.1 139.4h2.6v2.6h-2.6zM1140.7 52.2h2.6v2.6h-2.6zM1019.8 218.3h2.6v2.6h-2.6zM1004.1 296.8h2.6v2.6h-2.6zM1090.7 42.1h2.6v2.6h-2.6zM1184.6 148.4h2.6v2.6h-2.6zM1174.9 267.7h2.6v2.6h-2.6zM1176.5 268.1h2.6v2.6h-2.6zM1197.9 214.5h2.6v2.6h-2.6zM1087.8 374.9h2.6v2.6h-2.6zM1189.6 183.9h2.6v2.6h-2.6zM1032.2 75.2h2.6v2.6h-2.6zM1018.5 332.7h2.6v2.6h-2.6zM1188.4 163.3h2.6v2.6h-2.6zM1187.1 158.7h2.6v2.6h-2.6zM1051.6 56.0h2.6v2.6h-2.6zM1147.4 61.7h2.6v2.6h-2.6zM1162.9 86.3h2.6v2.6h-2.6zM1120.6 368.4h2.6v2.6h-2.6zM1009.4 324.2h2.6v2.6h-2.6zM1172.8 267.3h2.6v2.6h-2.6zM1025.9 340.3h2.6v2.6h-2.6zM1020.4 219.3h2.6v2.6h-2.6zM1163.2 281.2h2.6v2.6h-2.6zM1089.2 39.5h2.6v2.6h-2.6zM1150.6 71.1h2.6v2.6h-2.6zM1032.0 346.9h2.6v2.6h-2.6zM1183.6 260.1h2.6v2.6h-2.6zM1004.3 293.8h2.6v2.6h-2.6zM1021.3 225.5h2.6v2.6h-2.6zM1014.3 121.7h2.6v2.6h-2.6zM1191.1 240.4h2.6v2.6h-2.6zM1144.1 317.0h2.6v2.6h-2.6zM1023.4 238.3h2.6v2.6h-2.6zM1105.5 40.8h2.6v2.6h-2.6zM1124.1 365.8h2.6v2.6h-2.6zM1020.0 195.6h2.6v2.6h-2.6zM1021.8 233.9h2.6v2.6h-2.6zM1012.8 163.8h2.6v2.6h-2.6zM1071.2 372.3h2.6v2.6h-2.6zM1004.7 294.9h2.6v2.6h-2.6zM1141.6 56.7h2.6v2.6h-2.6zM1078.2 374.0h2.6v2.6h-2.6zM1112.3 374.1h2.6v2.6h-2.6zM1089.1 40.2h2.6v2.6h-2.6zM1084.9 374.9h2.6v2.6h-2.6zM1021.4 97.2h2.6v2.6h-2.6zM1012.7 157.7h2.6v2.6h-2.6zM1130.2 359.2h2.6v2.6h-2.6zM1012.3 322.6h2.6v2.6h-2.6zM1165.1 97.2h2.6v2.6h-2.6zM1005.4 311.1h2.6v2.6h-2.6zM1016.2 104.2h2.6v2.6h-2.6zM1107.7 45.4h2.6v2.6h-2.6zM1095.8 41.0h2.6v2.6h-2.6zM1105.6 48.3h2.6v2.6h-2.6zM1019.8 100.2h2.6v2.6h-2.6zM1034.0 74.2h2.6v2.6h-2.6zM1033.1 73.4h2.6v2.6h-2.6zM1113.4 373.5h2.6v2.6h-2.6zM1127.8 362.2h2.6v2.6h-2.6zM1025.2 229.2h2.6v2.6h-2.6zM1025.6 234.9h2.6v2.6h-2.6zM1065.9 367.6h2.6v2.6h-2.6zM1033.9 75.6h2.6v2.6h-2.6zM1013.6 142.2h2.6v2.6h-2.6zM1149.8 300.4h2.6v2.6h-2.6zM1093.6 45.3h2.6v2.6h-2.6zM1133.9 52.7h2.6v2.6h-2.6zM1078.3 374.0h2.6v2.6h-2.6zM1138.4 319.2h2.6v2.6h-2.6zM1013.0 124.7h2.6v2.6h-2.6zM1164.2 94.4h2.6v2.6h-2.6zM1092.2 40.7h2.6v2.6h-2.6zM1187.8 212.4h2.6v2.6h-2.6zM1020.5 224.8h2.6v2.6h-2.6zM1173.9 269.4h2.6v2.6h-2.6zM1182.0 138.8h2.6v2.6h-2.6zM1150.3 298.6h2.6v2.6h-2.6zM1173.0 269.6h2.6v2.6h-2.6zM1193.0 199.2h2.6v2.6h-2.6zM1005.3 302.8h2.6v2.6h-2.6zM1129.6 46.2h2.6v2.6h-2.6zM1014.1 231.0h2.6v2.6h-2.6zM1013.6 265.1h2.6v2.6h-2.6zM1067.1 373.2h2.6v2.6h-2.6zM1195.1 217.0h2.6v2.6h-2.6zM1175.2 124.6h2.6v2.6h-2.6zM1193.0 238.0h2.6v2.6h-2.6zM1170.8 97.9h2.6v2.6h-2.6zM1133.4 351.6h2.6v2.6h-2.6zM1087.8 40.2h2.6v2.6h-2.6zM1168.5 267.4h2.6v2.6h-2.6zM1000.6 276.0h2.6v2.6h-2.6zM1148.0 310.6h2.6v2.6h-2.6zM1177.7 131.8h2.6v2.6h-2.6zM1017.0 329.5h2.6v2.6h-2.6zM1169.1 107.6h2.6v2.6h-2.6zM1018.0 202.4h2.6v2.6h-2.6zM1021.0 235.0h2.6v2.6h-2.6zM1022.6 232.3h2.6v2.6h-2.6zM1020.4 237.4h2.6v2.6h-2.6zM1115.7 370.6h2.6v2.6h-2.6zM1013.4 159.8h2.6v2.6h-2.6zM1152.6 296.3h2.6v2.6h-2.6zM1194.6 232.7h2.6v2.6h-2.6zM1099.6 43.9h2.6v2.6h-2.6zM1057.8 366.1h2.6v2.6h-2.6zM1011.2 153.9h2.6v2.6h-2.6zM1021.1 251.9h2.6v2.6h-2.6zM1188.7 172.0h2.6v2.6h-2.6zM1013.5 185.5h2.6v2.6h-2.6zM1152.4 67.1h2.6v2.6h-2.6zM1190.9 225.7h2.6v2.6h-2.6zM1194.5 232.2h2.6v2.6h-2.6zM1067.2 40.3h2.6v2.6h-2.6zM1007.4 172.0h2.6v2.6h-2.6zM1173.1 113.2h2.6v2.6h-2.6zM1058.7 46.8h2.6v2.6h-2.6z" fill="#DC050C"/>
<path d="M811.9 425.7h2.6v2.6h-2.6zM808.9 396.7h2.6v2.6h-2.6zM793.0 376.1h2.6v2.6h-2.6zM800.3 400.7h2.6v2.6h-2.6zM772.7 375.2h2.6v2.6h-2.6zM788.4 422.8h2.6v2.6h-2.6zM781.4 374.7h2.6v2.6h-2.6zM803.8 423.2h2.6v2.6h-2.6zM802.3 415.3h2.6v2.6h-2.6zM773.7 383.2h2.6v2.6h-2.6zM782.0 379.5h2.6v2.6h-2.6zM794.3 396.6h2.6v2.6h-2.6zM780.3 372.7h2.6v2.6h-2.6zM777.5 377.9h2.6v2.6h-2.6zM791.6 389.6h2.6v2.6h-2.6zM781.4 376.5h2.6v2.6h-2.6zM803.6 412.6h2.6v2.6h-2.6zM811.8 424.7h2.6v2.6h-2.6zM791.3 416.7h2.6v2.6h-2.6zM798.4 435.7h2.6v2.6h-2.6zM818.9 449.2h2.6v2.6h-2.6zM791.7 478.7h2.6v2.6h-2.6zM817.8 454.2h2.6v2.6h-2.6zM840.2 451.0h2.6v2.6h-2.6zM812.7 462.1h2.6v2.6h-2.6zM795.2 419.7h2.6v2.6h-2.6zM830.8 461.2h2.6v2.6h-2.6zM789.7 422.9h2.6v2.6h-2.6zM840.4 434.6h2.6v2.6h-2.6zM832.1 464.8h2.6v2.6h-2.6zM815.5 432.0h2.6v2.6h-2.6zM805.2 450.6h2.6v2.6h-2.6zM795.8 414.8h2.6v2.6h-2.6zM794.1 405.0h2.6v2.6h-2.6zM834.5 472.1h2.6v2.6h-2.6zM828.4 433.2h2.6v2.6h-2.6zM821.5 476.7h2.6v2.6h-2.6zM823.2 479.0h2.6v2.6h-2.6zM825.2 455.3h2.6v2.6h-2.6zM821.9 410.4h2.6v2.6h-2.6zM782.6 410.3h2.6v2.6h-2.6zM798.6 463.2h2.6v2.6h-2.6zM800.0 452.3h2.6v2.6h-2.6zM800.2 432.3h2.6v2.6h-2.6zM792.4 459.6h2.6v2.6h-2.6zM801.1 456.5h2.6v2.6h-2.6zM788.8 401.9h2.6v2.6h-2.6zM800.1 444.1h2.6v2.6h-2.6zM819.8 463.6h2.6v2.6h-2.6zM782.2 391.8h2.6v2.6h-2.6zM787.5 403.1h2.6v2.6h-2.6zM783.8 386.8h2.6v2.6h-2.6zM838.3 432.5h2.6v2.6h-2.6zM793.5 472.4h2.6v2.6h-2.6zM805.9 411.8h2.6v2.6h-2.6zM819.8 416.1h2.6v2.6h-2.6zM819.1 431.5h2.6v2.6h-2.6zM791.4 427.7h2.6v2.6h-2.6zM790.9 476.1h2.6v2.6h-2.6zM814.4 468.7h2.6v2.6h-2.6zM793.7 474.2h2.6v2.6h-2.6zM835.2 437.0h2.6v2.6h-2.6zM824.9 442.4h2.6v2.6h-2.6zM820.4 460.0h2.6v2.6h-2.6zM839.3 458.6h2.6v2.6h-2.6zM804.4 475.8h2.6v2.6h-2.6zM791.3 453.5h2.6v2.6h-2.6zM819.8 456.7h2.6v2.6h-2.6zM790.7 401.5h2.6v2.6h-2.6zM778.4 393.6h2.6v2.6h-2.6zM799.5 450.4h2.6v2.6h-2.6zM787.6 428.2h2.6v2.6h-2.6zM822.5 476.6h2.6v2.6h-2.6zM811.3 452.6h2.6v2.6h-2.6zM787.4 449.6h2.6v2.6h-2.6zM798.1 432.2h2.6v2.6h-2.6zM803.5 427.9h2.6v2.6h-2.6zM779.6 388.4h2.6v2.6h-2.6zM828.3 452.9h2.6v2.6h-2.6zM837.3 436.0h2.6v2.6h-2.6zM786.2 449.3h2.6v2.6h-2.6zM828.6 460.2h2.6v2.6h-2.6zM819.8 436.5h2.6v2.6h-2.6zM788.7 438.2h2.6v2.6h-2.6zM816.6 470.2h2.6v2.6h-2.6zM796.5 446.3h2.6v2.6h-2.6zM796.8 452.1h2.6v2.6h-2.6zM833.9 426.2h2.6v2.6h-2.6zM790.6 411.8h2.6v2.6h-2.6zM823.0 457.0h2.6v2.6h-2.6zM806.1 443.7h2.6v2.6h-2.6zM806.7 441.9h2.6v2.6h-2.6zM826.9 423.7h2.6v2.6h-2.6zM795.0 456.8h2.6v2.6h-2.6zM783.0 387.1h2.6v2.6h-2.6zM811.1 463.3h2.6v2.6h-2.6zM787.5 456.5h2.6v2.6h-2.6zM792.0 477.2h2.6v2.6h-2.6zM815.9 408.9h2.6v2.6h-2.6zM823.3 453.4h2.6v2.6h-2.6zM798.4 404.8h2.6v2.6h-2.6zM807.0 479.1h2.6v2.6h-2.6zM787.4 454.5h2.6v2.6h-2.6zM833.0 437.5h2.6v2.6h-2.6zM832.0 461.9h2.6v2.6h-2.6zM800.1 417.5h2.6v2.6h-2.6zM791.0 471.0h2.6v2.6h-2.6zM825.8 461.3h2.6v2.6h-2.6zM784.8 433.9h2.6v2.6h-2.6zM832.0 467.9h2.6v2.6h-2.6zM833.4 434.8h2.6v2.6h-2.6zM798.5 404.9h2.6v2.6h-2.6zM789.1 426.2h2.6v2.6h-2.6zM829.0 475.4h2.6v2.6h-2.6zM817.7 469.5h2.6v2.6h-2.6zM835.4 453.4h2.6v2.6h-2.6zM833.7 437.3h2.6v2.6h-2.6zM917.4 444.1h2.6v2.6h-2.6zM947.0 421.7h2.6v2.6h-2.6zM843.7 451.2h2.6v2.6h-2.6zM913.6 462.4h2.6v2.6h-2.6zM916.8 446.1h2.6v2.6h-2.6zM896.7 461.7h2.6v2.6h-2.6zM919.3 439.8h2.6v2.6h-2.6zM896.0 453.6h2.6v2.6h-2.6zM870.9 471.3h2.6v2.6h-2.6zM893.9 442.5h2.6v2.6h-2.6zM905.4 488.7h2.6v2.6h-2.6zM900.3 432.1h2.6v2.6h-2.6zM937.7 423.0h2.6v2.6h-2.6zM918.2 432.6h2.6v2.6h-2.6zM985.0 460.3h2.6v2.6h-2.6zM914.1 477.5h2.6v2.6h-2.6zM934.3 423.3h2.6v2.6h-2.6zM898.8 488.7h2.6v2.6h-2.6zM862.5 457.7h2.6v2.6h-2.6zM940.7 456.2h2.6v2.6h-2.6zM949.7 439.7h2.6v2.6h-2.6zM941.4 454.5h2.6v2.6h-2.6zM847.9 445.0h2.6v2.6h-2.6zM928.2 439.4h2.6v2.6h-2.6zM854.0 466.4h2.6v2.6h-2.6zM851.3 454.5h2.6v2.6h-2.6zM896.6 481.7h2.6v2.6h-2.6zM978.4 458.2h2.6v2.6h-2.6zM953.9 483.4h2.6v2.6h-2.6zM907.4 435.8h2.6v2.6h-2.6zM884.9 485.6h2.6v2.6h-2.6zM893.0 479.8h2.6v2.6h-2.6zM964.2 449.3h2.6v2.6h-2.6zM960.4 446.1h2.6v2.6h-2.6zM892.4 436.9h2.6v2.6h-2.6zM894.2 444.2h2.6v2.6h-2.6zM937.9 412.7h2.6v2.6h-2.6zM884.6 485.4h2.6v2.6h-2.6zM912.9 426.1h2.6v2.6h-2.6zM960.6 471.1h2.6v2.6h-2.6zM951.5 474.0h2.6v2.6h-2.6zM961.1 443.8h2.6v2.6h-2.6zM899.0 482.2h2.6v2.6h-2.6zM909.7 428.7h2.6v2.6h-2.6zM845.4 446.4h2.6v2.6h-2.6zM958.8 468.6h2.6v2.6h-2.6zM879.4 433.5h2.6v2.6h-2.6zM879.7 466.1h2.6v2.6h-2.6zM918.9 437.4h2.6v2.6h-2.6zM916.9 443.8h2.6v2.6h-2.6zM858.5 459.1h2.6v2.6h-2.6zM986.2 456.4h2.6v2.6h-2.6zM925.3 467.8h2.6v2.6h-2.6zM842.2 436.3h2.6v2.6h-2.6zM892.1 458.1h2.6v2.6h-2.6zM929.4 473.5h2.6v2.6h-2.6zM892.4 478.4h2.6v2.6h-2.6zM857.0 438.6h2.6v2.6h-2.6zM879.5 464.4h2.6v2.6h-2.6zM892.1 433.2h2.6v2.6h-2.6zM911.9 456.5h2.6v2.6h-2.6zM865.0 445.5h2.6v2.6h-2.6zM914.9 484.8h2.6v2.6h-2.6zM987.4 462.5h2.6v2.6h-2.6zM932.2 483.0h2.6v2.6h-2.6zM929.9 425.6h2.6v2.6h-2.6zM922.4 432.1h2.6v2.6h-2.6zM880.8 487.9h2.6v2.6h-2.6zM871.8 445.3h2.6v2.6h-2.6zM855.8 485.9h2.6v2.6h-2.6zM940.2 444.9h2.6v2.6h-2.6zM872.0 454.8h2.6v2.6h-2.6zM861.0 443.9h2.6v2.6h-2.6zM908.3 440.5h2.6v2.6h-2.6zM842.5 481.7h2.6v2.6h-2.6zM967.7 480.8h2.6v2.6h-2.6zM858.3 458.7h2.6v2.6h-2.6zM907.4 430.5h2.6v2.6h-2.6zM889.0 460.7h2.6v2.6h-2.6zM881.9 446.0h2.6v2.6h-2.6zM908.8 429.9h2.6v2.6h-2.6zM944.5 439.2h2.6v2.6h-2.6zM871.8 476.1h2.6v2.6h-2.6zM921.7 424.7h2.6v2.6h-2.6zM928.6 469.6h2.6v2.6h-2.6zM892.8 486.5h2.6v2.6h-2.6zM950.9 443.1h2.6v2.6h-2.6zM969.1 466.8h2.6v2.6h-2.6zM895.5 490.0h2.6v2.6h-2.6zM926.9 470.1h2.6v2.6h-2.6zM880.9 476.2h2.6v2.6h-2.6zM875.7 446.0h2.6v2.6h-2.6zM914.2 455.1h2.6v2.6h-2.6zM879.9 436.3h2.6v2.6h-2.6zM891.9 438.0h2.6v2.6h-2.6zM872.9 477.2h2.6v2.6h-2.6zM842.6 478.7h2.6v2.6h-2.6zM953.1 469.4h2.6v2.6h-2.6zM883.3 449.9h2.6v2.6h-2.6zM970.3 448.7h2.6v2.6h-2.6zM921.4 460.0h2.6v2.6h-2.6zM881.1 471.0h2.6v2.6h-2.6zM862.2 451.5h2.6v2.6h-2.6zM852.2 441.9h2.6v2.6h-2.6zM882.1 462.2h2.6v2.6h-2.6zM878.2 456.4h2.6v2.6h-2.6zM880.6 478.6h2.6v2.6h-2.6zM942.4 457.0h2.6v2.6h-2.6zM850.2 455.7h2.6v2.6h-2.6zM945.1 463.0h2.6v2.6h-2.6zM979.0 454.5h2.6v2.6h-2.6zM853.7 449.9h2.6v2.6h-2.6zM944.6 423.0h2.6v2.6h-2.6zM947.2 438.0h2.6v2.6h-2.6zM972.2 474.8h2.6v2.6h-2.6zM948.3 439.9h2.6v2.6h-2.6zM945.9 438.0h2.6v2.6h-2.6zM854.7 439.9h2.6v2.6h-2.6zM949.9 451.8h2.6v2.6h-2.6zM979.3 457.1h2.6v2.6h-2.6zM858.0 448.8h2.6v2.6h-2.6zM944.6 460.2h2.6v2.6h-2.6zM936.0 431.4h2.6v2.6h-2.6zM926.3 482.2h2.6v2.6h-2.6zM911.8 434.8h2.6v2.6h-2.6zM802.7 515.7h2.6v2.6h-2.6zM788.5 511.4h2.6v2.6h-2.6zM799.1 496.1h2.6v2.6h-2.6zM800.4 516.3h2.6v2.6h-2.6zM806.4 531.5h2.6v2.6h-2.6zM772.4 496.5h2.6v2.6h-2.6zM770.2 502.0h2.6v2.6h-2.6zM771.4 513.1h2.6v2.6h-2.6zM813.6 502.2h2.6v2.6h-2.6zM804.8 521.2h2.6v2.6h-2.6zM853.0 441.3h2.6v2.6h-2.6zM845.6 389.5h2.6v2.6h-2.6zM810.6 395.4h2.6v2.6h-2.6zM808.8 395.5h2.6v2.6h-2.6zM830.1 392.5h2.6v2.6h-2.6zM839.2 389.2h2.6v2.6h-2.6zM857.8 436.3h2.6v2.6h-2.6zM826.6 396.3h2.6v2.6h-2.6zM826.2 391.1h2.6v2.6h-2.6zM853.5 439.1h2.6v2.6h-2.6zM806.8 394.0h2.6v2.6h-2.6zM834.4 388.6h2.6v2.6h-2.6zM783.6 459.6h2.6v2.6h-2.6zM733.1 474.7h2.6v2.6h-2.6zM775.2 428.4h2.6v2.6h-2.6zM778.9 443.5h2.6v2.6h-2.6zM776.2 427.4h2.6v2.6h-2.6zM755.5 409.2h2.6v2.6h-2.6zM783.7 460.1h2.6v2.6h-2.6zM775.9 417.9h2.6v2.6h-2.6zM739.6 489.3h2.6v2.6h-2.6zM734.4 452.0h2.6v2.6h-2.6zM776.9 420.8h2.6v2.6h-2.6zM731.1 464.7h2.6v2.6h-2.6zM773.3 413.8h2.6v2.6h-2.6zM739.4 422.8h2.6v2.6h-2.6zM778.2 439.6h2.6v2.6h-2.6zM731.4 452.8h2.6v2.6h-2.6zM779.5 473.3h2.6v2.6h-2.6zM736.8 454.2h2.6v2.6h-2.6zM742.7 408.5h2.6v2.6h-2.6zM733.0 444.4h2.6v2.6h-2.6zM737.8 427.5h2.6v2.6h-2.6zM730.9 458.3h2.6v2.6h-2.6zM781.5 446.7h2.6v2.6h-2.6zM747.6 491.3h2.6v2.6h-2.6zM759.6 403.0h2.6v2.6h-2.6zM751.6 403.5h2.6v2.6h-2.6zM785.3 464.9h2.6v2.6h-2.6zM769.4 488.5h2.6v2.6h-2.6zM744.0 425.6h2.6v2.6h-2.6zM778.4 433.8h2.6v2.6h-2.6zM737.5 429.6h2.6v2.6h-2.6zM730.2 449.6h2.6v2.6h-2.6zM731.8 471.7h2.6v2.6h-2.6zM731.1 466.6h2.6v2.6h-2.6zM737.5 426.7h2.6v2.6h-2.6zM770.9 490.9h2.6v2.6h-2.6zM780.3 440.8h2.6v2.6h-2.6zM742.0 412.1h2.6v2.6h-2.6zM777.7 430.8h2.6v2.6h-2.6zM774.9 436.0h2.6v2.6h-2.6zM772.5 486.6h2.6v2.6h-2.6zM751.2 403.7h2.6v2.6h-2.6zM781.4 442.4h2.6v2.6h-2.6zM781.9 447.3h2.6v2.6h-2.6zM783.2 470.8h2.6v2.6h-2.6zM772.9 405.1h2.6v2.6h-2.6zM734.0 481.7h2.6v2.6h-2.6zM734.6 479.9h2.6v2.6h-2.6zM783.4 481.2h2.6v2.6h-2.6zM730.7 453.1h2.6v2.6h-2.6zM768.7 404.5h2.6v2.6h-2.6zM777.3 426.3h2.6v2.6h-2.6zM731.5 472.4h2.6v2.6h-2.6zM782.8 465.0h2.6v2.6h-2.6zM780.9 480.4h2.6v2.6h-2.6zM732.4 479.3h2.6v2.6h-2.6zM755.9 403.6h2.6v2.6h-2.6zM732.5 460.1h2.6v2.6h-2.6zM736.4 486.3h2.6v2.6h-2.6zM738.2 419.1h2.6v2.6h-2.6zM781.0 461.9h2.6v2.6h-2.6zM750.0 489.2h2.6v2.6h-2.6zM775.0 428.2h2.6v2.6h-2.6zM784.1 474.0h2.6v2.6h-2.6zM782.4 454.7h2.6v2.6h-2.6zM777.1 486.5h2.6v2.6h-2.6zM742.7 409.9h2.6v2.6h-2.6zM740.2 427.1h2.6v2.6h-2.6zM776.2 417.7h2.6v2.6h-2.6zM764.5 404.8h2.6v2.6h-2.6zM774.2 409.1h2.6v2.6h-2.6zM734.2 444.9h2.6v2.6h-2.6zM750.2 403.1h2.6v2.6h-2.6zM743.8 407.4h2.6v2.6h-2.6zM766.2 490.7h2.6v2.6h-2.6zM779.9 439.1h2.6v2.6h-2.6zM779.6 440.3h2.6v2.6h-2.6zM749.2 400.5h2.6v2.6h-2.6zM782.9 448.3h2.6v2.6h-2.6zM781.3 435.5h2.6v2.6h-2.6zM780.0 449.2h2.6v2.6h-2.6zM742.5 411.0h2.6v2.6h-2.6zM731.5 476.5h2.6v2.6h-2.6zM735.3 439.4h2.6v2.6h-2.6zM745.3 489.1h2.6v2.6h-2.6zM776.0 424.3h2.6v2.6h-2.6zM757.8 401.4h2.6v2.6h-2.6zM780.0 448.4h2.6v2.6h-2.6z" fill="#E78AC3"/>
<path d="M934.0 478.0h2.6v2.6h-2.6zM869.9 454.8h2.6v2.6h-2.6zM921.7 486.5h2.6v2.6h-2.6zM884.2 444.5h2.6v2.6h-2.6zM864.4 480.9h2.6v2.6h-2.6zM844.3 436.5h2.6v2.6h-2.6zM898.1 484.9h2.6v2.6h-2.6zM979.7 471.8h2.6v2.6h-2.6zM843.5 468.1h2.6v2.6h-2.6zM910.3 474.9h2.6v2.6h-2.6zM912.3 482.3h2.6v2.6h-2.6zM968.3 474.4h2.6v2.6h-2.6zM863.9 472.4h2.6v2.6h-2.6zM866.2 486.3h2.6v2.6h-2.6zM963.4 461.7h2.6v2.6h-2.6zM947.2 439.5h2.6v2.6h-2.6zM906.5 484.0h2.6v2.6h-2.6zM863.7 439.9h2.6v2.6h-2.6zM920.4 457.1h2.6v2.6h-2.6zM920.5 485.7h2.6v2.6h-2.6zM859.6 479.5h2.6v2.6h-2.6zM958.8 468.8h2.6v2.6h-2.6zM949.7 467.2h2.6v2.6h-2.6zM956.2 480.9h2.6v2.6h-2.6zM930.5 426.1h2.6v2.6h-2.6zM884.4 451.2h2.6v2.6h-2.6zM952.6 474.0h2.6v2.6h-2.6zM879.8 485.9h2.6v2.6h-2.6zM953.4 477.1h2.6v2.6h-2.6zM967.3 470.4h2.6v2.6h-2.6zM899.1 432.1h2.6v2.6h-2.6zM843.3 465.3h2.6v2.6h-2.6zM877.3 458.1h2.6v2.6h-2.6zM892.1 462.8h2.6v2.6h-2.6zM867.1 451.9h2.6v2.6h-2.6zM893.7 460.4h2.6v2.6h-2.6zM858.3 463.8h2.6v2.6h-2.6zM943.1 421.2h2.6v2.6h-2.6zM928.1 421.0h2.6v2.6h-2.6zM948.6 454.8h2.6v2.6h-2.6zM910.8 478.1h2.6v2.6h-2.6zM972.8 466.5h2.6v2.6h-2.6zM895.6 470.0h2.6v2.6h-2.6zM880.6 478.1h2.6v2.6h-2.6zM856.1 443.8h2.6v2.6h-2.6zM932.4 425.6h2.6v2.6h-2.6zM926.0 446.1h2.6v2.6h-2.6zM846.1 472.9h2.6v2.6h-2.6zM932.0 430.1h2.6v2.6h-2.6zM842.1 461.4h2.6v2.6h-2.6zM872.7 462.7h2.6v2.6h-2.6zM910.7 436.6h2.6v2.6h-2.6zM850.2 466.9h2.6v2.6h-2.6zM858.4 451.7h2.6v2.6h-2.6zM881.1 476.8h2.6v2.6h-2.6zM943.6 476.4h2.6v2.6h-2.6zM945.7 418.6h2.6v2.6h-2.6zM882.8 474.6h2.6v2.6h-2.6zM974.8 479.3h2.6v2.6h-2.6zM953.6 457.7h2.6v2.6h-2.6zM870.6 468.1h2.6v2.6h-2.6zM964.7 461.5h2.6v2.6h-2.6zM987.5 476.6h2.6v2.6h-2.6zM989.0 462.9h2.6v2.6h-2.6zM918.6 442.4h2.6v2.6h-2.6zM920.9 436.5h2.6v2.6h-2.6zM901.4 431.5h2.6v2.6h-2.6zM957.0 475.6h2.6v2.6h-2.6zM847.3 482.0h2.6v2.6h-2.6zM926.9 486.1h2.6v2.6h-2.6zM844.7 447.7h2.6v2.6h-2.6zM939.7 449.2h2.6v2.6h-2.6zM952.8 453.4h2.6v2.6h-2.6zM962.6 473.4h2.6v2.6h-2.6zM851.0 452.5h2.6v2.6h-2.6zM867.5 487.0h2.6v2.6h-2.6zM964.8 446.2h2.6v2.6h-2.6zM947.5 453.7h2.6v2.6h-2.6zM896.0 472.4h2.6v2.6h-2.6zM947.0 426.9h2.6v2.6h-2.6zM895.8 469.8h2.6v2.6h-2.6zM960.0 467.0h2.6v2.6h-2.6zM861.5 482.6h2.6v2.6h-2.6zM952.7 469.7h2.6v2.6h-2.6zM983.6 464.5h2.6v2.6h-2.6zM951.3 450.4h2.6v2.6h-2.6zM913.6 463.1h2.6v2.6h-2.6zM943.7 473.9h2.6v2.6h-2.6zM930.0 485.5h2.6v2.6h-2.6zM945.0 458.3h2.6v2.6h-2.6zM969.4 464.6h2.6v2.6h-2.6zM938.7 418.2h2.6v2.6h-2.6zM876.6 438.1h2.6v2.6h-2.6zM905.7 461.1h2.6v2.6h-2.6zM922.4 430.9h2.6v2.6h-2.6zM951.8 447.8h2.6v2.6h-2.6zM893.8 465.9h2.6v2.6h-2.6zM951.7 482.6h2.6v2.6h-2.6zM924.5 477.4h2.6v2.6h-2.6zM866.3 461.6h2.6v2.6h-2.6zM878.7 452.1h2.6v2.6h-2.6zM901.6 455.2h2.6v2.6h-2.6zM987.3 472.8h2.6v2.6h-2.6zM894.4 436.3h2.6v2.6h-2.6zM969.6 453.4h2.6v2.6h-2.6zM926.3 443.6h2.6v2.6h-2.6zM862.2 465.1h2.6v2.6h-2.6zM930.0 476.0h2.6v2.6h-2.6zM983.6 468.6h2.6v2.6h-2.6zM985.4 478.7h2.6v2.6h-2.6zM911.1 435.3h2.6v2.6h-2.6zM947.8 456.0h2.6v2.6h-2.6zM976.6 476.9h2.6v2.6h-2.6zM896.5 438.6h2.6v2.6h-2.6zM929.7 439.6h2.6v2.6h-2.6zM925.2 432.5h2.6v2.6h-2.6zM869.6 443.7h2.6v2.6h-2.6zM840.8 471.8h2.6v2.6h-2.6zM909.0 429.4h2.6v2.6h-2.6zM891.9 435.9h2.6v2.6h-2.6zM972.9 465.2h2.6v2.6h-2.6zM974.8 478.0h2.6v2.6h-2.6zM963.4 475.7h2.6v2.6h-2.6zM975.7 470.5h2.6v2.6h-2.6zM863.8 480.9h2.6v2.6h-2.6zM888.4 454.3h2.6v2.6h-2.6zM985.5 457.3h2.6v2.6h-2.6zM974.0 470.5h2.6v2.6h-2.6zM859.6 451.1h2.6v2.6h-2.6zM858.8 436.2h2.6v2.6h-2.6zM947.8 461.5h2.6v2.6h-2.6zM942.4 462.2h2.6v2.6h-2.6zM896.0 482.7h2.6v2.6h-2.6zM855.0 456.4h2.6v2.6h-2.6zM926.2 468.8h2.6v2.6h-2.6zM882.2 464.9h2.6v2.6h-2.6zM866.2 481.7h2.6v2.6h-2.6zM856.8 447.4h2.6v2.6h-2.6zM860.7 460.1h2.6v2.6h-2.6zM899.0 445.6h2.6v2.6h-2.6zM933.1 436.3h2.6v2.6h-2.6zM921.2 435.8h2.6v2.6h-2.6zM971.3 448.3h2.6v2.6h-2.6zM871.6 461.1h2.6v2.6h-2.6zM952.1 458.9h2.6v2.6h-2.6zM912.3 478.5h2.6v2.6h-2.6zM865.3 449.7h2.6v2.6h-2.6zM952.5 460.9h2.6v2.6h-2.6zM889.6 479.8h2.6v2.6h-2.6zM921.8 468.2h2.6v2.6h-2.6zM885.3 476.0h2.6v2.6h-2.6zM980.1 466.2h2.6v2.6h-2.6zM897.3 466.3h2.6v2.6h-2.6zM908.0 459.9h2.6v2.6h-2.6zM964.6 463.1h2.6v2.6h-2.6zM969.0 461.6h2.6v2.6h-2.6zM902.1 480.1h2.6v2.6h-2.6zM906.9 443.0h2.6v2.6h-2.6zM925.3 433.0h2.6v2.6h-2.6zM852.8 449.9h2.6v2.6h-2.6zM853.1 468.1h2.6v2.6h-2.6zM867.8 466.6h2.6v2.6h-2.6zM903.2 475.2h2.6v2.6h-2.6zM905.7 458.9h2.6v2.6h-2.6zM938.5 484.6h2.6v2.6h-2.6zM897.1 547.0h2.6v2.6h-2.6zM934.7 569.8h2.6v2.6h-2.6zM965.8 498.5h2.6v2.6h-2.6zM906.6 549.6h2.6v2.6h-2.6zM935.0 588.8h2.6v2.6h-2.6zM922.0 522.8h2.6v2.6h-2.6zM964.4 549.3h2.6v2.6h-2.6zM933.2 530.6h2.6v2.6h-2.6zM912.9 571.4h2.6v2.6h-2.6zM916.3 491.2h2.6v2.6h-2.6zM923.0 578.1h2.6v2.6h-2.6zM919.7 530.3h2.6v2.6h-2.6zM968.5 518.5h2.6v2.6h-2.6zM946.4 513.7h2.6v2.6h-2.6zM933.9 546.0h2.6v2.6h-2.6zM989.9 499.5h2.6v2.6h-2.6zM950.9 530.9h2.6v2.6h-2.6zM913.6 577.8h2.6v2.6h-2.6zM973.4 528.9h2.6v2.6h-2.6zM909.4 524.3h2.6v2.6h-2.6zM989.9 536.7h2.6v2.6h-2.6zM903.8 554.0h2.6v2.6h-2.6zM921.1 562.4h2.6v2.6h-2.6zM979.3 515.6h2.6v2.6h-2.6zM916.5 564.8h2.6v2.6h-2.6zM986.1 505.0h2.6v2.6h-2.6zM921.3 528.2h2.6v2.6h-2.6zM923.3 507.1h2.6v2.6h-2.6zM903.5 512.3h2.6v2.6h-2.6zM902.9 547.4h2.6v2.6h-2.6zM919.8 525.5h2.6v2.6h-2.6zM943.8 496.9h2.6v2.6h-2.6zM980.2 533.4h2.6v2.6h-2.6zM961.0 494.0h2.6v2.6h-2.6zM966.0 501.3h2.6v2.6h-2.6zM984.4 516.2h2.6v2.6h-2.6zM929.3 545.3h2.6v2.6h-2.6zM929.2 582.5h2.6v2.6h-2.6zM931.6 585.3h2.6v2.6h-2.6zM966.9 572.4h2.6v2.6h-2.6zM961.1 554.8h2.6v2.6h-2.6zM974.4 542.7h2.6v2.6h-2.6zM965.3 574.0h2.6v2.6h-2.6zM964.5 533.5h2.6v2.6h-2.6zM981.7 549.5h2.6v2.6h-2.6zM978.8 492.1h2.6v2.6h-2.6zM919.1 550.8h2.6v2.6h-2.6zM957.6 579.7h2.6v2.6h-2.6zM897.1 522.2h2.6v2.6h-2.6zM953.9 512.2h2.6v2.6h-2.6zM924.0 500.3h2.6v2.6h-2.6zM978.0 492.5h2.6v2.6h-2.6zM983.9 553.2h2.6v2.6h-2.6zM938.0 572.3h2.6v2.6h-2.6zM930.0 539.6h2.6v2.6h-2.6zM962.6 491.0h2.6v2.6h-2.6zM974.8 503.1h2.6v2.6h-2.6zM965.8 543.4h2.6v2.6h-2.6zM910.0 550.1h2.6v2.6h-2.6zM969.8 527.8h2.6v2.6h-2.6zM939.3 536.7h2.6v2.6h-2.6zM908.4 579.6h2.6v2.6h-2.6zM955.8 514.1h2.6v2.6h-2.6zM913.6 562.4h2.6v2.6h-2.6zM954.9 498.1h2.6v2.6h-2.6zM962.8 572.7h2.6v2.6h-2.6zM923.4 496.1h2.6v2.6h-2.6zM963.9 553.2h2.6v2.6h-2.6zM941.2 581.9h2.6v2.6h-2.6zM939.2 505.5h2.6v2.6h-2.6zM944.9 528.7h2.6v2.6h-2.6zM970.3 517.4h2.6v2.6h-2.6zM909.2 492.6h2.6v2.6h-2.6zM934.5 565.1h2.6v2.6h-2.6zM961.7 501.0h2.6v2.6h-2.6zM916.7 571.2h2.6v2.6h-2.6zM939.9 577.8h2.6v2.6h-2.6zM940.5 588.0h2.6v2.6h-2.6zM950.3 554.8h2.6v2.6h-2.6zM952.1 562.7h2.6v2.6h-2.6zM975.1 542.5h2.6v2.6h-2.6zM936.1 524.4h2.6v2.6h-2.6zM975.1 536.2h2.6v2.6h-2.6zM947.5 564.2h2.6v2.6h-2.6zM952.3 500.3h2.6v2.6h-2.6zM992.4 514.2h2.6v2.6h-2.6zM919.5 561.4h2.6v2.6h-2.6zM925.2 545.4h2.6v2.6h-2.6zM960.5 530.3h2.6v2.6h-2.6zM970.5 526.8h2.6v2.6h-2.6zM907.7 550.9h2.6v2.6h-2.6zM915.2 563.2h2.6v2.6h-2.6zM932.9 559.3h2.6v2.6h-2.6zM915.1 582.2h2.6v2.6h-2.6zM919.4 579.6h2.6v2.6h-2.6zM924.0 582.4h2.6v2.6h-2.6zM969.2 585.1h2.6v2.6h-2.6zM920.4 588.1h2.6v2.6h-2.6zM915.3 590.2h2.6v2.6h-2.6zM948.8 599.0h2.6v2.6h-2.6zM909.0 579.9h2.6v2.6h-2.6zM918.5 594.2h2.6v2.6h-2.6zM930.6 579.1h2.6v2.6h-2.6zM928.6 590.3h2.6v2.6h-2.6zM968.4 577.5h2.6v2.6h-2.6zM967.7 596.9h2.6v2.6h-2.6zM950.5 595.0h2.6v2.6h-2.6zM952.3 586.0h2.6v2.6h-2.6zM957.9 587.7h2.6v2.6h-2.6zM935.1 596.7h2.6v2.6h-2.6zM923.8 599.1h2.6v2.6h-2.6zM925.1 586.7h2.6v2.6h-2.6zM970.0 589.8h2.6v2.6h-2.6zM945.2 578.7h2.6v2.6h-2.6zM907.7 588.3h2.6v2.6h-2.6zM933.8 591.3h2.6v2.6h-2.6zM940.5 600.0h2.6v2.6h-2.6zM911.0 583.2h2.6v2.6h-2.6zM919.3 599.1h2.6v2.6h-2.6zM966.1 579.7h2.6v2.6h-2.6zM968.6 588.7h2.6v2.6h-2.6zM940.3 595.4h2.6v2.6h-2.6zM922.1 595.3h2.6v2.6h-2.6zM929.2 578.2h2.6v2.6h-2.6zM936.7 596.2h2.6v2.6h-2.6zM924.1 597.1h2.6v2.6h-2.6zM948.1 601.6h2.6v2.6h-2.6zM937.5 591.4h2.6v2.6h-2.6zM962.3 601.1h2.6v2.6h-2.6zM940.3 586.3h2.6v2.6h-2.6zM950.4 600.5h2.6v2.6h-2.6zM948.7 584.9h2.6v2.6h-2.6zM919.8 581.5h2.6v2.6h-2.6zM933.2 601.3h2.6v2.6h-2.6zM915.7 588.3h2.6v2.6h-2.6zM947.1 585.0h2.6v2.6h-2.6zM910.5 581.5h2.6v2.6h-2.6zM772.0 493.7h2.6v2.6h-2.6zM806.0 499.7h2.6v2.6h-2.6zM779.6 517.2h2.6v2.6h-2.6zM783.7 491.7h2.6v2.6h-2.6zM760.4 508.7h2.6v2.6h-2.6zM803.7 529.1h2.6v2.6h-2.6zM788.1 490.1h2.6v2.6h-2.6zM802.7 495.7h2.6v2.6h-2.6zM792.7 500.8h2.6v2.6h-2.6zM819.5 488.4h2.6v2.6h-2.6zM813.8 494.9h2.6v2.6h-2.6zM813.2 495.6h2.6v2.6h-2.6zM799.6 492.0h2.6v2.6h-2.6zM786.5 522.1h2.6v2.6h-2.6zM814.4 516.7h2.6v2.6h-2.6zM820.2 498.5h2.6v2.6h-2.6zM819.4 509.9h2.6v2.6h-2.6zM816.4 496.7h2.6v2.6h-2.6zM815.8 527.0h2.6v2.6h-2.6zM818.7 528.1h2.6v2.6h-2.6zM821.2 513.2h2.6v2.6h-2.6zM803.3 502.1h2.6v2.6h-2.6zM810.3 501.6h2.6v2.6h-2.6zM809.5 492.3h2.6v2.6h-2.6zM816.4 545.2h2.6v2.6h-2.6zM808.2 530.2h2.6v2.6h-2.6zM816.6 510.9h2.6v2.6h-2.6zM816.2 493.6h2.6v2.6h-2.6zM823.1 521.9h2.6v2.6h-2.6zM807.0 521.5h2.6v2.6h-2.6zM819.7 536.8h2.6v2.6h-2.6zM820.2 535.8h2.6v2.6h-2.6zM814.9 528.2h2.6v2.6h-2.6zM824.3 501.5h2.6v2.6h-2.6zM808.4 527.6h2.6v2.6h-2.6zM818.1 507.0h2.6v2.6h-2.6zM818.1 539.7h2.6v2.6h-2.6zM805.8 519.8h2.6v2.6h-2.6zM808.8 526.1h2.6v2.6h-2.6zM819.9 502.7h2.6v2.6h-2.6zM810.0 492.9h2.6v2.6h-2.6zM804.0 504.2h2.6v2.6h-2.6zM804.9 493.9h2.6v2.6h-2.6zM805.1 490.5h2.6v2.6h-2.6zM813.3 509.8h2.6v2.6h-2.6zM822.6 492.3h2.6v2.6h-2.6zM813.1 506.0h2.6v2.6h-2.6zM812.5 505.8h2.6v2.6h-2.6zM810.5 538.7h2.6v2.6h-2.6zM807.5 519.0h2.6v2.6h-2.6zM812.9 543.5h2.6v2.6h-2.6zM803.3 500.6h2.6v2.6h-2.6zM813.9 537.9h2.6v2.6h-2.6zM810.6 502.1h2.6v2.6h-2.6zM808.7 527.5h2.6v2.6h-2.6zM815.8 500.2h2.6v2.6h-2.6zM806.8 504.9h2.6v2.6h-2.6zM814.4 519.5h2.6v2.6h-2.6zM805.1 506.2h2.6v2.6h-2.6zM817.9 503.6h2.6v2.6h-2.6zM812.9 514.0h2.6v2.6h-2.6zM809.2 499.9h2.6v2.6h-2.6zM816.0 520.8h2.6v2.6h-2.6zM822.9 522.0h2.6v2.6h-2.6zM810.2 538.2h2.6v2.6h-2.6zM815.0 506.3h2.6v2.6h-2.6zM810.2 541.7h2.6v2.6h-2.6zM820.8 543.3h2.6v2.6h-2.6zM810.3 546.8h2.6v2.6h-2.6zM804.2 500.3h2.6v2.6h-2.6zM810.4 513.0h2.6v2.6h-2.6zM812.7 493.2h2.6v2.6h-2.6zM821.5 519.6h2.6v2.6h-2.6zM821.1 509.9h2.6v2.6h-2.6zM819.0 522.3h2.6v2.6h-2.6zM808.0 514.9h2.6v2.6h-2.6zM820.2 516.5h2.6v2.6h-2.6zM811.9 498.9h2.6v2.6h-2.6zM809.7 493.0h2.6v2.6h-2.6zM819.8 529.7h2.6v2.6h-2.6zM813.4 502.5h2.6v2.6h-2.6zM817.8 545.7h2.6v2.6h-2.6zM806.0 498.6h2.6v2.6h-2.6zM805.6 515.0h2.6v2.6h-2.6zM816.6 504.4h2.6v2.6h-2.6zM810.5 500.2h2.6v2.6h-2.6zM822.2 526.9h2.6v2.6h-2.6zM810.1 515.6h2.6v2.6h-2.6zM803.6 502.5h2.6v2.6h-2.6zM819.5 516.9h2.6v2.6h-2.6zM809.2 507.5h2.6v2.6h-2.6zM823.4 517.9h2.6v2.6h-2.6zM805.6 492.9h2.6v2.6h-2.6zM806.8 500.7h2.6v2.6h-2.6zM820.1 543.8h2.6v2.6h-2.6zM815.3 542.3h2.6v2.6h-2.6zM819.8 538.5h2.6v2.6h-2.6zM817.2 531.5h2.6v2.6h-2.6zM835.7 454.2h2.6v2.6h-2.6zM831.0 480.8h2.6v2.6h-2.6zM835.8 453.8h2.6v2.6h-2.6zM851.7 442.4h2.6v2.6h-2.6zM837.5 445.7h2.6v2.6h-2.6zM850.3 448.2h2.6v2.6h-2.6zM856.4 447.9h2.6v2.6h-2.6zM830.3 460.2h2.6v2.6h-2.6zM868.2 456.8h2.6v2.6h-2.6zM852.1 446.8h2.6v2.6h-2.6zM847.8 446.6h2.6v2.6h-2.6zM878.9 469.1h2.6v2.6h-2.6zM831.6 465.9h2.6v2.6h-2.6zM878.8 468.2h2.6v2.6h-2.6zM851.2 448.0h2.6v2.6h-2.6zM866.4 455.2h2.6v2.6h-2.6zM835.1 474.4h2.6v2.6h-2.6zM869.8 459.9h2.6v2.6h-2.6zM860.4 449.2h2.6v2.6h-2.6zM883.9 481.2h2.6v2.6h-2.6zM832.8 456.6h2.6v2.6h-2.6zM834.9 456.4h2.6v2.6h-2.6zM832.8 485.7h2.6v2.6h-2.6zM882.5 489.2h2.6v2.6h-2.6zM836.4 453.0h2.6v2.6h-2.6zM857.4 448.4h2.6v2.6h-2.6zM837.7 446.8h2.6v2.6h-2.6zM882.1 475.9h2.6v2.6h-2.6zM837.9 485.9h2.6v2.6h-2.6zM865.5 454.8h2.6v2.6h-2.6zM837.4 446.5h2.6v2.6h-2.6zM867.3 455.4h2.6v2.6h-2.6zM831.9 480.2h2.6v2.6h-2.6zM860.3 448.3h2.6v2.6h-2.6zM831.1 476.2h2.6v2.6h-2.6zM884.7 485.2h2.6v2.6h-2.6zM856.4 446.7h2.6v2.6h-2.6zM832.1 457.7h2.6v2.6h-2.6zM834.9 454.8h2.6v2.6h-2.6zM859.2 446.9h2.6v2.6h-2.6zM837.7 457.4h2.6v2.6h-2.6zM883.6 479.8h2.6v2.6h-2.6zM877.9 559.4h2.6v2.6h-2.6zM864.4 553.1h2.6v2.6h-2.6zM893.6 569.2h2.6v2.6h-2.6zM886.5 499.6h2.6v2.6h-2.6zM873.9 557.8h2.6v2.6h-2.6zM813.6 489.9h2.6v2.6h-2.6zM873.6 556.3h2.6v2.6h-2.6zM888.2 505.7h2.6v2.6h-2.6zM812.5 507.9h2.6v2.6h-2.6zM809.0 504.3h2.6v2.6h-2.6zM841.1 487.8h2.6v2.6h-2.6zM887.2 565.0h2.6v2.6h-2.6zM813.6 521.0h2.6v2.6h-2.6zM879.2 486.8h2.6v2.6h-2.6zM805.4 489.0h2.6v2.6h-2.6zM851.5 545.2h2.6v2.6h-2.6zM828.4 488.4h2.6v2.6h-2.6zM841.6 484.8h2.6v2.6h-2.6zM809.5 522.4h2.6v2.6h-2.6zM801.7 491.0h2.6v2.6h-2.6zM827.2 550.4h2.6v2.6h-2.6zM813.5 537.8h2.6v2.6h-2.6zM856.6 488.3h2.6v2.6h-2.6zM803.1 486.1h2.6v2.6h-2.6zM821.4 550.4h2.6v2.6h-2.6zM811.2 487.0h2.6v2.6h-2.6zM824.0 549.3h2.6v2.6h-2.6zM848.4 545.1h2.6v2.6h-2.6zM843.1 482.4h2.6v2.6h-2.6zM827.2 547.3h2.6v2.6h-2.6zM888.2 484.3h2.6v2.6h-2.6zM881.3 484.8h2.6v2.6h-2.6zM886.4 496.3h2.6v2.6h-2.6zM816.6 546.4h2.6v2.6h-2.6zM861.3 477.8h2.6v2.6h-2.6zM888.9 566.4h2.6v2.6h-2.6zM892.4 561.5h2.6v2.6h-2.6zM870.3 481.5h2.6v2.6h-2.6zM812.9 485.7h2.6v2.6h-2.6zM867.1 484.2h2.6v2.6h-2.6zM814.2 517.0h2.6v2.6h-2.6zM804.5 499.0h2.6v2.6h-2.6zM812.5 540.9h2.6v2.6h-2.6zM813.3 530.2h2.6v2.6h-2.6zM811.4 536.7h2.6v2.6h-2.6zM869.0 554.5h2.6v2.6h-2.6zM870.7 549.2h2.6v2.6h-2.6zM840.8 486.9h2.6v2.6h-2.6zM820.3 490.1h2.6v2.6h-2.6zM841.3 546.8h2.6v2.6h-2.6zM867.7 553.9h2.6v2.6h-2.6zM813.3 513.1h2.6v2.6h-2.6zM823.1 492.0h2.6v2.6h-2.6zM822.8 490.3h2.6v2.6h-2.6zM804.9 494.3h2.6v2.6h-2.6zM890.4 519.5h2.6v2.6h-2.6zM803.7 492.3h2.6v2.6h-2.6zM815.6 547.6h2.6v2.6h-2.6zM898.1 569.2h2.6v2.6h-2.6zM824.9 545.7h2.6v2.6h-2.6zM805.5 494.5h2.6v2.6h-2.6zM830.6 548.3h2.6v2.6h-2.6zM811.2 543.7h2.6v2.6h-2.6zM813.7 547.5h2.6v2.6h-2.6zM878.3 482.9h2.6v2.6h-2.6zM794.2 485.4h2.6v2.6h-2.6zM827.1 488.9h2.6v2.6h-2.6zM826.5 488.8h2.6v2.6h-2.6zM831.6 548.9h2.6v2.6h-2.6zM810.9 501.0h2.6v2.6h-2.6zM850.7 549.6h2.6v2.6h-2.6zM887.1 564.1h2.6v2.6h-2.6zM857.6 483.9h2.6v2.6h-2.6zM886.5 501.3h2.6v2.6h-2.6zM855.9 551.7h2.6v2.6h-2.6zM821.7 487.5h2.6v2.6h-2.6zM809.9 489.5h2.6v2.6h-2.6zM813.1 544.4h2.6v2.6h-2.6zM849.9 543.2h2.6v2.6h-2.6zM806.3 489.8h2.6v2.6h-2.6zM844.0 546.7h2.6v2.6h-2.6zM888.8 490.4h2.6v2.6h-2.6zM890.1 568.2h2.6v2.6h-2.6zM812.8 529.5h2.6v2.6h-2.6zM828.1 489.3h2.6v2.6h-2.6zM850.6 484.4h2.6v2.6h-2.6zM892.0 570.0h2.6v2.6h-2.6zM839.7 484.4h2.6v2.6h-2.6zM889.7 506.1h2.6v2.6h-2.6zM873.5 555.6h2.6v2.6h-2.6zM843.5 484.5h2.6v2.6h-2.6zM893.6 558.0h2.6v2.6h-2.6zM850.5 546.7h2.6v2.6h-2.6zM873.6 486.2h2.6v2.6h-2.6zM892.4 563.8h2.6v2.6h-2.6zM802.1 489.1h2.6v2.6h-2.6zM813.2 543.2h2.6v2.6h-2.6zM831.4 488.1h2.6v2.6h-2.6zM811.9 509.8h2.6v2.6h-2.6zM888.5 503.8h2.6v2.6h-2.6zM831.2 486.5h2.6v2.6h-2.6zM892.1 506.7h2.6v2.6h-2.6zM882.4 566.1h2.6v2.6h-2.6z" fill="#B17BA6"/>
<path d="M946.5 427.1h2.6v2.6h-2.6zM848.4 487.4h2.6v2.6h-2.6zM917.8 487.5h2.6v2.6h-2.6zM904.5 439.0h2.6v2.6h-2.6zM896.3 466.6h2.6v2.6h-2.6zM881.7 440.4h2.6v2.6h-2.6zM840.9 475.4h2.6v2.6h-2.6zM985.2 458.1h2.6v2.6h-2.6zM944.7 432.8h2.6v2.6h-2.6zM913.0 480.8h2.6v2.6h-2.6zM845.5 448.1h2.6v2.6h-2.6zM949.4 455.4h2.6v2.6h-2.6zM854.8 449.2h2.6v2.6h-2.6zM947.2 478.4h2.6v2.6h-2.6zM985.6 467.9h2.6v2.6h-2.6zM866.9 464.9h2.6v2.6h-2.6zM947.3 428.3h2.6v2.6h-2.6zM933.3 469.3h2.6v2.6h-2.6zM884.3 490.2h2.6v2.6h-2.6zM917.3 437.7h2.6v2.6h-2.6zM900.0 433.8h2.6v2.6h-2.6zM859.1 484.0h2.6v2.6h-2.6zM843.2 442.0h2.6v2.6h-2.6zM874.0 435.5h2.6v2.6h-2.6zM854.6 440.3h2.6v2.6h-2.6zM946.0 464.5h2.6v2.6h-2.6zM948.1 450.8h2.6v2.6h-2.6zM879.6 467.0h2.6v2.6h-2.6zM941.7 449.6h2.6v2.6h-2.6zM932.6 427.9h2.6v2.6h-2.6zM931.7 463.2h2.6v2.6h-2.6zM905.0 483.1h2.6v2.6h-2.6zM945.7 455.9h2.6v2.6h-2.6zM903.2 451.1h2.6v2.6h-2.6zM864.4 452.6h2.6v2.6h-2.6zM878.1 456.0h2.6v2.6h-2.6zM919.5 425.3h2.6v2.6h-2.6zM955.1 440.7h2.6v2.6h-2.6zM870.6 488.7h2.6v2.6h-2.6zM958.5 463.3h2.6v2.6h-2.6zM926.4 431.8h2.6v2.6h-2.6zM892.2 486.1h2.6v2.6h-2.6zM990.0 473.8h2.6v2.6h-2.6zM850.5 454.5h2.6v2.6h-2.6zM879.6 452.3h2.6v2.6h-2.6zM885.1 473.3h2.6v2.6h-2.6zM942.2 449.4h2.6v2.6h-2.6zM922.4 433.6h2.6v2.6h-2.6zM960.4 448.4h2.6v2.6h-2.6zM875.4 440.8h2.6v2.6h-2.6zM906.2 438.8h2.6v2.6h-2.6zM890.5 450.5h2.6v2.6h-2.6zM869.0 476.9h2.6v2.6h-2.6zM935.3 463.6h2.6v2.6h-2.6zM925.7 478.4h2.6v2.6h-2.6zM874.8 472.7h2.6v2.6h-2.6zM846.9 486.5h2.6v2.6h-2.6zM977.5 465.5h2.6v2.6h-2.6zM842.5 485.8h2.6v2.6h-2.6zM861.0 481.8h2.6v2.6h-2.6zM908.1 444.5h2.6v2.6h-2.6zM929.8 439.7h2.6v2.6h-2.6zM955.4 442.4h2.6v2.6h-2.6zM951.7 475.3h2.6v2.6h-2.6zM904.6 449.0h2.6v2.6h-2.6zM861.6 482.6h2.6v2.6h-2.6zM959.3 482.4h2.6v2.6h-2.6zM961.6 455.5h2.6v2.6h-2.6zM917.9 475.5h2.6v2.6h-2.6zM981.1 466.1h2.6v2.6h-2.6zM954.3 448.6h2.6v2.6h-2.6zM947.2 479.1h2.6v2.6h-2.6zM856.2 461.4h2.6v2.6h-2.6zM959.4 464.9h2.6v2.6h-2.6zM902.6 487.0h2.6v2.6h-2.6zM857.5 473.9h2.6v2.6h-2.6zM923.9 444.5h2.6v2.6h-2.6zM843.2 437.9h2.6v2.6h-2.6zM933.6 474.4h2.6v2.6h-2.6zM879.0 436.6h2.6v2.6h-2.6zM953.6 450.1h2.6v2.6h-2.6zM867.5 446.4h2.6v2.6h-2.6zM920.0 453.5h2.6v2.6h-2.6zM873.0 440.2h2.6v2.6h-2.6zM901.7 489.2h2.6v2.6h-2.6zM921.9 457.8h2.6v2.6h-2.6zM851.0 441.9h2.6v2.6h-2.6zM967.4 454.8h2.6v2.6h-2.6zM962.4 451.0h2.6v2.6h-2.6zM928.7 485.3h2.6v2.6h-2.6zM922.8 433.1h2.6v2.6h-2.6zM913.6 432.6h2.6v2.6h-2.6zM992.2 463.0h2.6v2.6h-2.6zM940.9 446.1h2.6v2.6h-2.6zM907.4 471.9h2.6v2.6h-2.6zM861.2 455.0h2.6v2.6h-2.6zM969.7 465.4h2.6v2.6h-2.6zM937.2 463.8h2.6v2.6h-2.6zM963.8 480.9h2.6v2.6h-2.6zM938.5 460.8h2.6v2.6h-2.6zM902.6 455.7h2.6v2.6h-2.6zM981.3 457.5h2.6v2.6h-2.6zM989.4 479.0h2.6v2.6h-2.6zM887.3 466.0h2.6v2.6h-2.6zM974.4 475.8h2.6v2.6h-2.6zM926.3 447.9h2.6v2.6h-2.6zM961.8 454.5h2.6v2.6h-2.6zM917.3 467.9h2.6v2.6h-2.6zM889.0 484.2h2.6v2.6h-2.6zM962.8 474.1h2.6v2.6h-2.6zM953.9 472.2h2.6v2.6h-2.6zM962.6 464.5h2.6v2.6h-2.6zM988.8 455.4h2.6v2.6h-2.6zM964.6 488.6h2.6v2.6h-2.6zM977.5 488.5h2.6v2.6h-2.6zM969.4 462.6h2.6v2.6h-2.6zM993.4 483.8h2.6v2.6h-2.6zM1004.0 480.1h2.6v2.6h-2.6zM950.7 473.9h2.6v2.6h-2.6zM1000.2 459.1h2.6v2.6h-2.6zM994.2 484.2h2.6v2.6h-2.6zM962.6 462.8h2.6v2.6h-2.6zM980.5 469.0h2.6v2.6h-2.6zM967.5 498.1h2.6v2.6h-2.6zM987.5 494.9h2.6v2.6h-2.6zM963.0 458.0h2.6v2.6h-2.6zM992.5 476.3h2.6v2.6h-2.6zM982.5 478.3h2.6v2.6h-2.6zM982.5 498.8h2.6v2.6h-2.6zM966.3 459.7h2.6v2.6h-2.6zM961.7 466.8h2.6v2.6h-2.6zM984.0 488.7h2.6v2.6h-2.6zM967.5 490.0h2.6v2.6h-2.6zM993.9 469.8h2.6v2.6h-2.6zM998.2 461.3h2.6v2.6h-2.6zM988.8 472.8h2.6v2.6h-2.6zM1002.7 460.2h2.6v2.6h-2.6zM965.1 496.4h2.6v2.6h-2.6zM969.6 478.6h2.6v2.6h-2.6zM1004.0 470.8h2.6v2.6h-2.6zM983.5 494.8h2.6v2.6h-2.6zM953.8 462.5h2.6v2.6h-2.6zM968.0 464.9h2.6v2.6h-2.6zM971.6 491.1h2.6v2.6h-2.6zM992.6 486.7h2.6v2.6h-2.6zM975.8 459.1h2.6v2.6h-2.6zM987.4 472.0h2.6v2.6h-2.6zM1003.5 457.9h2.6v2.6h-2.6zM978.1 484.1h2.6v2.6h-2.6zM1001.1 472.4h2.6v2.6h-2.6zM969.6 487.7h2.6v2.6h-2.6zM966.6 473.5h2.6v2.6h-2.6zM963.9 489.4h2.6v2.6h-2.6zM970.7 495.8h2.6v2.6h-2.6zM971.0 480.8h2.6v2.6h-2.6zM970.6 485.6h2.6v2.6h-2.6zM958.2 471.0h2.6v2.6h-2.6zM964.1 469.8h2.6v2.6h-2.6zM969.8 463.8h2.6v2.6h-2.6zM988.5 478.1h2.6v2.6h-2.6zM994.9 473.5h2.6v2.6h-2.6zM982.0 475.3h2.6v2.6h-2.6zM973.2 462.2h2.6v2.6h-2.6zM1001.7 458.4h2.6v2.6h-2.6zM982.5 467.8h2.6v2.6h-2.6zM998.4 473.7h2.6v2.6h-2.6zM971.9 482.3h2.6v2.6h-2.6zM996.8 460.6h2.6v2.6h-2.6zM985.4 468.8h2.6v2.6h-2.6zM1004.2 468.7h2.6v2.6h-2.6zM990.6 480.6h2.6v2.6h-2.6zM966.9 472.4h2.6v2.6h-2.6zM978.8 499.4h2.6v2.6h-2.6zM983.3 458.6h2.6v2.6h-2.6zM974.8 492.1h2.6v2.6h-2.6zM960.4 470.0h2.6v2.6h-2.6zM987.4 460.9h2.6v2.6h-2.6zM948.4 457.5h2.6v2.6h-2.6zM956.4 475.8h2.6v2.6h-2.6zM995.8 467.0h2.6v2.6h-2.6zM916.1 424.0h2.6v2.6h-2.6zM845.9 393.8h2.6v2.6h-2.6zM864.3 441.4h2.6v2.6h-2.6zM842.2 393.3h2.6v2.6h-2.6zM935.2 361.6h2.6v2.6h-2.6zM848.4 398.5h2.6v2.6h-2.6zM903.5 429.0h2.6v2.6h-2.6zM846.3 404.0h2.6v2.6h-2.6zM846.3 399.7h2.6v2.6h-2.6zM856.3 440.2h2.6v2.6h-2.6zM921.2 417.2h2.6v2.6h-2.6zM846.9 398.7h2.6v2.6h-2.6zM908.0 366.3h2.6v2.6h-2.6zM862.5 441.3h2.6v2.6h-2.6zM870.8 377.5h2.6v2.6h-2.6zM848.7 386.0h2.6v2.6h-2.6zM846.2 396.2h2.6v2.6h-2.6zM873.0 374.8h2.6v2.6h-2.6zM861.6 438.0h2.6v2.6h-2.6zM868.4 439.1h2.6v2.6h-2.6zM933.5 409.7h2.6v2.6h-2.6zM913.3 366.3h2.6v2.6h-2.6zM884.1 364.6h2.6v2.6h-2.6zM932.1 358.1h2.6v2.6h-2.6zM930.8 412.2h2.6v2.6h-2.6zM913.0 424.9h2.6v2.6h-2.6zM928.8 362.7h2.6v2.6h-2.6zM922.1 416.4h2.6v2.6h-2.6zM860.8 378.3h2.6v2.6h-2.6zM859.6 378.3h2.6v2.6h-2.6zM842.4 389.8h2.6v2.6h-2.6zM861.4 440.8h2.6v2.6h-2.6zM920.2 365.9h2.6v2.6h-2.6zM885.1 434.8h2.6v2.6h-2.6zM942.4 380.6h2.6v2.6h-2.6zM941.0 375.7h2.6v2.6h-2.6zM846.9 392.4h2.6v2.6h-2.6zM895.0 435.1h2.6v2.6h-2.6zM939.4 360.5h2.6v2.6h-2.6zM929.4 412.7h2.6v2.6h-2.6zM922.2 419.8h2.6v2.6h-2.6zM940.3 359.0h2.6v2.6h-2.6zM945.4 366.9h2.6v2.6h-2.6zM857.1 381.4h2.6v2.6h-2.6zM890.0 433.7h2.6v2.6h-2.6zM852.8 381.8h2.6v2.6h-2.6zM870.3 438.2h2.6v2.6h-2.6zM849.9 384.1h2.6v2.6h-2.6zM860.9 376.9h2.6v2.6h-2.6zM851.1 438.3h2.6v2.6h-2.6zM848.4 388.1h2.6v2.6h-2.6zM902.1 430.4h2.6v2.6h-2.6zM941.7 360.9h2.6v2.6h-2.6zM845.5 417.7h2.6v2.6h-2.6zM939.2 404.7h2.6v2.6h-2.6zM852.3 440.9h2.6v2.6h-2.6zM869.8 436.4h2.6v2.6h-2.6zM871.0 374.8h2.6v2.6h-2.6zM945.6 375.7h2.6v2.6h-2.6zM888.0 434.3h2.6v2.6h-2.6zM944.8 395.8h2.6v2.6h-2.6zM879.1 436.6h2.6v2.6h-2.6zM896.8 430.7h2.6v2.6h-2.6zM924.5 363.5h2.6v2.6h-2.6zM943.6 402.7h2.6v2.6h-2.6zM876.4 373.0h2.6v2.6h-2.6zM903.4 429.2h2.6v2.6h-2.6zM898.7 370.5h2.6v2.6h-2.6zM933.0 410.6h2.6v2.6h-2.6zM945.5 380.2h2.6v2.6h-2.6zM846.6 396.6h2.6v2.6h-2.6zM874.2 374.3h2.6v2.6h-2.6zM851.9 374.8h2.6v2.6h-2.6zM921.4 364.2h2.6v2.6h-2.6zM860.9 440.9h2.6v2.6h-2.6zM878.4 435.3h2.6v2.6h-2.6zM903.2 429.3h2.6v2.6h-2.6zM943.8 404.5h2.6v2.6h-2.6zM883.9 438.7h2.6v2.6h-2.6zM954.2 377.5h2.6v2.6h-2.6zM944.1 369.6h2.6v2.6h-2.6zM937.3 408.8h2.6v2.6h-2.6zM875.1 438.0h2.6v2.6h-2.6zM846.3 399.5h2.6v2.6h-2.6zM889.6 434.6h2.6v2.6h-2.6zM877.9 436.1h2.6v2.6h-2.6zM950.2 378.1h2.6v2.6h-2.6zM901.3 370.1h2.6v2.6h-2.6zM939.9 363.5h2.6v2.6h-2.6zM852.4 382.1h2.6v2.6h-2.6zM892.2 427.9h2.6v2.6h-2.6zM850.8 396.3h2.6v2.6h-2.6zM925.1 363.5h2.6v2.6h-2.6zM953.5 369.8h2.6v2.6h-2.6zM846.0 405.5h2.6v2.6h-2.6zM881.5 434.5h2.6v2.6h-2.6zM849.9 436.9h2.6v2.6h-2.6zM843.4 392.3h2.6v2.6h-2.6zM917.1 422.1h2.6v2.6h-2.6zM927.9 362.9h2.6v2.6h-2.6zM916.5 365.2h2.6v2.6h-2.6zM934.5 415.1h2.6v2.6h-2.6zM846.9 418.4h2.6v2.6h-2.6zM913.4 424.6h2.6v2.6h-2.6zM874.8 375.1h2.6v2.6h-2.6zM845.8 418.9h2.6v2.6h-2.6zM946.4 373.2h2.6v2.6h-2.6zM863.6 378.1h2.6v2.6h-2.6zM932.6 406.4h2.6v2.6h-2.6zM897.1 433.2h2.6v2.6h-2.6zM946.3 391.2h2.6v2.6h-2.6zM848.3 403.5h2.6v2.6h-2.6zM848.6 436.7h2.6v2.6h-2.6zM863.2 439.6h2.6v2.6h-2.6zM867.0 441.9h2.6v2.6h-2.6zM873.9 371.6h2.6v2.6h-2.6zM939.1 365.2h2.6v2.6h-2.6zM846.8 393.1h2.6v2.6h-2.6zM846.7 395.1h2.6v2.6h-2.6z" fill="#E7298A"/>
<path d="M898.1 488.6h2.6v2.6h-2.6zM934.5 445.5h2.6v2.6h-2.6zM909.4 441.2h2.6v2.6h-2.6zM888.3 437.0h2.6v2.6h-2.6zM985.6 455.2h2.6v2.6h-2.6zM933.7 469.1h2.6v2.6h-2.6zM841.0 479.7h2.6v2.6h-2.6zM928.7 464.3h2.6v2.6h-2.6zM882.2 470.1h2.6v2.6h-2.6zM868.9 460.0h2.6v2.6h-2.6zM947.1 456.7h2.6v2.6h-2.6zM853.3 486.3h2.6v2.6h-2.6zM931.5 476.3h2.6v2.6h-2.6zM898.8 455.4h2.6v2.6h-2.6zM973.9 464.9h2.6v2.6h-2.6zM944.5 423.2h2.6v2.6h-2.6zM951.3 440.1h2.6v2.6h-2.6zM864.9 481.5h2.6v2.6h-2.6zM858.4 441.2h2.6v2.6h-2.6zM897.5 471.9h2.6v2.6h-2.6zM965.5 463.7h2.6v2.6h-2.6zM921.2 433.7h2.6v2.6h-2.6zM875.2 488.8h2.6v2.6h-2.6zM988.2 476.5h2.6v2.6h-2.6zM978.0 474.5h2.6v2.6h-2.6zM970.4 445.8h2.6v2.6h-2.6zM888.0 468.4h2.6v2.6h-2.6zM888.4 458.1h2.6v2.6h-2.6zM908.0 440.7h2.6v2.6h-2.6zM953.8 476.4h2.6v2.6h-2.6zM856.3 437.3h2.6v2.6h-2.6zM907.7 478.6h2.6v2.6h-2.6zM861.4 434.9h2.6v2.6h-2.6zM890.2 466.0h2.6v2.6h-2.6zM878.8 467.2h2.6v2.6h-2.6zM859.5 473.8h2.6v2.6h-2.6zM856.5 451.2h2.6v2.6h-2.6zM859.8 462.2h2.6v2.6h-2.6zM871.5 475.6h2.6v2.6h-2.6zM850.6 464.7h2.6v2.6h-2.6zM952.7 434.5h2.6v2.6h-2.6zM965.5 455.1h2.6v2.6h-2.6zM881.4 464.6h2.6v2.6h-2.6zM941.8 446.3h2.6v2.6h-2.6zM924.1 473.5h2.6v2.6h-2.6zM949.5 443.7h2.6v2.6h-2.6zM980.6 467.2h2.6v2.6h-2.6zM857.1 469.3h2.6v2.6h-2.6zM893.2 442.4h2.6v2.6h-2.6zM887.1 479.8h2.6v2.6h-2.6zM863.3 472.4h2.6v2.6h-2.6zM924.4 483.9h2.6v2.6h-2.6zM948.9 434.9h2.6v2.6h-2.6zM888.0 470.3h2.6v2.6h-2.6zM866.0 443.0h2.6v2.6h-2.6zM860.5 460.2h2.6v2.6h-2.6zM915.6 448.7h2.6v2.6h-2.6zM889.0 449.1h2.6v2.6h-2.6zM986.9 470.3h2.6v2.6h-2.6zM952.3 452.7h2.6v2.6h-2.6zM893.9 443.9h2.6v2.6h-2.6zM847.8 468.8h2.6v2.6h-2.6zM938.5 426.9h2.6v2.6h-2.6zM933.1 415.5h2.6v2.6h-2.6zM906.3 474.2h2.6v2.6h-2.6zM882.2 485.6h2.6v2.6h-2.6zM937.8 417.8h2.6v2.6h-2.6zM859.9 474.9h2.6v2.6h-2.6zM898.4 474.5h2.6v2.6h-2.6zM916.1 486.0h2.6v2.6h-2.6zM892.2 464.3h2.6v2.6h-2.6zM973.5 454.5h2.6v2.6h-2.6zM913.1 455.7h2.6v2.6h-2.6zM932.9 428.0h2.6v2.6h-2.6zM983.0 477.7h2.6v2.6h-2.6zM894.1 477.4h2.6v2.6h-2.6zM861.4 471.8h2.6v2.6h-2.6zM893.7 452.2h2.6v2.6h-2.6zM927.8 435.4h2.6v2.6h-2.6zM935.9 420.5h2.6v2.6h-2.6zM926.2 394.1h2.6v2.6h-2.6zM941.7 408.0h2.6v2.6h-2.6zM938.0 393.9h2.6v2.6h-2.6zM924.8 403.7h2.6v2.6h-2.6zM944.5 390.0h2.6v2.6h-2.6zM928.0 397.3h2.6v2.6h-2.6zM942.4 408.2h2.6v2.6h-2.6zM917.8 396.0h2.6v2.6h-2.6zM918.7 410.7h2.6v2.6h-2.6zM915.0 422.4h2.6v2.6h-2.6zM933.5 391.9h2.6v2.6h-2.6zM925.8 416.1h2.6v2.6h-2.6zM930.5 415.7h2.6v2.6h-2.6zM928.2 403.8h2.6v2.6h-2.6zM914.5 405.5h2.6v2.6h-2.6zM932.0 393.0h2.6v2.6h-2.6zM919.9 424.7h2.6v2.6h-2.6zM921.1 407.7h2.6v2.6h-2.6zM943.7 411.5h2.6v2.6h-2.6zM929.6 404.8h2.6v2.6h-2.6zM921.8 425.5h2.6v2.6h-2.6zM920.4 420.1h2.6v2.6h-2.6zM931.5 416.7h2.6v2.6h-2.6zM925.6 404.9h2.6v2.6h-2.6zM940.8 414.9h2.6v2.6h-2.6zM929.3 408.7h2.6v2.6h-2.6zM920.7 421.2h2.6v2.6h-2.6zM930.5 414.0h2.6v2.6h-2.6zM915.6 421.2h2.6v2.6h-2.6zM918.5 415.5h2.6v2.6h-2.6zM931.8 414.5h2.6v2.6h-2.6zM916.3 396.3h2.6v2.6h-2.6zM931.1 386.7h2.6v2.6h-2.6zM916.6 424.4h2.6v2.6h-2.6zM920.8 427.8h2.6v2.6h-2.6zM926.3 395.8h2.6v2.6h-2.6zM942.0 414.5h2.6v2.6h-2.6zM929.2 422.5h2.6v2.6h-2.6zM928.3 393.4h2.6v2.6h-2.6zM925.5 402.8h2.6v2.6h-2.6zM932.0 424.5h2.6v2.6h-2.6zM920.6 403.6h2.6v2.6h-2.6zM915.2 412.3h2.6v2.6h-2.6zM934.6 413.6h2.6v2.6h-2.6zM933.4 414.6h2.6v2.6h-2.6zM929.5 409.5h2.6v2.6h-2.6zM937.7 406.7h2.6v2.6h-2.6zM929.6 390.7h2.6v2.6h-2.6zM929.7 423.5h2.6v2.6h-2.6zM919.1 405.4h2.6v2.6h-2.6zM931.7 403.0h2.6v2.6h-2.6zM929.5 419.2h2.6v2.6h-2.6zM922.7 397.7h2.6v2.6h-2.6zM937.0 398.6h2.6v2.6h-2.6zM943.4 388.0h2.6v2.6h-2.6zM939.3 396.0h2.6v2.6h-2.6zM939.4 400.8h2.6v2.6h-2.6zM918.0 398.5h2.6v2.6h-2.6zM918.8 397.0h2.6v2.6h-2.6zM934.2 400.6h2.6v2.6h-2.6zM935.3 396.4h2.6v2.6h-2.6zM941.9 394.7h2.6v2.6h-2.6zM934.2 407.4h2.6v2.6h-2.6zM901.4 491.9h2.6v2.6h-2.6zM959.6 498.1h2.6v2.6h-2.6zM928.8 545.1h2.6v2.6h-2.6zM970.1 501.2h2.6v2.6h-2.6zM967.4 530.9h2.6v2.6h-2.6zM974.2 579.6h2.6v2.6h-2.6zM971.9 544.7h2.6v2.6h-2.6zM954.7 532.0h2.6v2.6h-2.6zM965.4 511.8h2.6v2.6h-2.6zM990.2 533.4h2.6v2.6h-2.6zM967.6 589.5h2.6v2.6h-2.6zM959.1 581.8h2.6v2.6h-2.6zM969.0 585.1h2.6v2.6h-2.6zM913.3 597.5h2.6v2.6h-2.6zM920.1 597.8h2.6v2.6h-2.6zM962.0 600.2h2.6v2.6h-2.6zM936.6 590.2h2.6v2.6h-2.6zM927.9 591.8h2.6v2.6h-2.6zM952.6 596.3h2.6v2.6h-2.6zM951.5 591.6h2.6v2.6h-2.6zM926.4 588.9h2.6v2.6h-2.6zM927.5 585.1h2.6v2.6h-2.6zM952.2 591.2h2.6v2.6h-2.6zM961.5 579.6h2.6v2.6h-2.6zM951.9 587.0h2.6v2.6h-2.6zM1001.9 366.2h2.6v2.6h-2.6zM960.5 478.3h2.6v2.6h-2.6zM991.1 355.4h2.6v2.6h-2.6zM944.0 367.0h2.6v2.6h-2.6zM917.5 423.9h2.6v2.6h-2.6zM1004.5 372.0h2.6v2.6h-2.6zM998.8 466.3h2.6v2.6h-2.6zM995.4 469.8h2.6v2.6h-2.6zM909.6 418.1h2.6v2.6h-2.6zM867.0 438.4h2.6v2.6h-2.6zM1011.2 413.7h2.6v2.6h-2.6zM1007.1 458.7h2.6v2.6h-2.6zM903.2 431.8h2.6v2.6h-2.6zM852.8 445.3h2.6v2.6h-2.6zM997.3 364.1h2.6v2.6h-2.6zM960.0 353.1h2.6v2.6h-2.6zM906.4 422.4h2.6v2.6h-2.6zM955.9 478.7h2.6v2.6h-2.6zM1011.8 384.5h2.6v2.6h-2.6zM1004.8 457.4h2.6v2.6h-2.6zM983.8 474.2h2.6v2.6h-2.6zM888.0 433.3h2.6v2.6h-2.6zM854.9 447.2h2.6v2.6h-2.6zM956.4 477.8h2.6v2.6h-2.6zM951.6 360.0h2.6v2.6h-2.6zM881.9 435.6h2.6v2.6h-2.6zM1002.8 444.9h2.6v2.6h-2.6zM1010.0 428.4h2.6v2.6h-2.6zM871.3 438.2h2.6v2.6h-2.6zM1011.1 424.8h2.6v2.6h-2.6zM1007.8 434.3h2.6v2.6h-2.6zM891.6 434.3h2.6v2.6h-2.6zM1002.3 445.4h2.6v2.6h-2.6zM992.4 356.4h2.6v2.6h-2.6zM956.6 478.2h2.6v2.6h-2.6zM855.1 442.0h2.6v2.6h-2.6zM1004.6 455.1h2.6v2.6h-2.6zM981.9 353.7h2.6v2.6h-2.6zM978.7 350.3h2.6v2.6h-2.6zM1000.9 467.1h2.6v2.6h-2.6zM983.1 349.3h2.6v2.6h-2.6zM999.7 365.4h2.6v2.6h-2.6zM953.2 361.0h2.6v2.6h-2.6zM984.8 343.6h2.6v2.6h-2.6zM994.9 469.8h2.6v2.6h-2.6zM950.0 480.4h2.6v2.6h-2.6zM1003.4 461.5h2.6v2.6h-2.6zM1013.2 404.8h2.6v2.6h-2.6zM849.0 442.7h2.6v2.6h-2.6zM1007.3 434.9h2.6v2.6h-2.6zM983.2 481.0h2.6v2.6h-2.6zM912.1 425.0h2.6v2.6h-2.6zM1010.0 422.9h2.6v2.6h-2.6zM980.9 475.5h2.6v2.6h-2.6zM1004.3 445.2h2.6v2.6h-2.6zM972.5 477.3h2.6v2.6h-2.6zM955.1 358.0h2.6v2.6h-2.6zM1011.9 392.6h2.6v2.6h-2.6zM976.5 350.9h2.6v2.6h-2.6zM924.9 418.1h2.6v2.6h-2.6zM1008.3 417.9h2.6v2.6h-2.6zM966.2 354.0h2.6v2.6h-2.6zM1003.6 447.9h2.6v2.6h-2.6zM995.9 467.9h2.6v2.6h-2.6zM859.0 444.2h2.6v2.6h-2.6zM997.4 464.9h2.6v2.6h-2.6zM852.0 443.7h2.6v2.6h-2.6zM1007.9 428.9h2.6v2.6h-2.6zM1005.1 459.0h2.6v2.6h-2.6zM1006.2 446.2h2.6v2.6h-2.6zM1009.8 431.2h2.6v2.6h-2.6zM853.7 445.1h2.6v2.6h-2.6zM979.8 473.6h2.6v2.6h-2.6zM955.0 357.1h2.6v2.6h-2.6zM989.0 358.3h2.6v2.6h-2.6zM1013.6 409.3h2.6v2.6h-2.6zM1004.9 453.7h2.6v2.6h-2.6zM932.5 413.6h2.6v2.6h-2.6zM1012.9 395.3h2.6v2.6h-2.6zM990.5 352.2h2.6v2.6h-2.6zM1012.3 383.8h2.6v2.6h-2.6zM967.8 477.3h2.6v2.6h-2.6zM1006.7 376.9h2.6v2.6h-2.6zM1007.7 431.8h2.6v2.6h-2.6zM1010.4 385.8h2.6v2.6h-2.6zM909.3 425.9h2.6v2.6h-2.6zM1008.3 432.4h2.6v2.6h-2.6zM984.2 347.9h2.6v2.6h-2.6zM1010.0 422.7h2.6v2.6h-2.6zM980.6 352.3h2.6v2.6h-2.6zM1001.2 365.5h2.6v2.6h-2.6zM998.7 359.7h2.6v2.6h-2.6zM1012.8 381.5h2.6v2.6h-2.6zM1005.9 441.2h2.6v2.6h-2.6zM948.8 358.6h2.6v2.6h-2.6zM1000.0 364.3h2.6v2.6h-2.6zM865.2 447.6h2.6v2.6h-2.6zM992.8 469.4h2.6v2.6h-2.6zM1010.2 417.6h2.6v2.6h-2.6zM980.6 352.9h2.6v2.6h-2.6zM967.0 481.7h2.6v2.6h-2.6zM1014.0 397.6h2.6v2.6h-2.6zM930.9 412.3h2.6v2.6h-2.6zM1006.3 453.0h2.6v2.6h-2.6zM1010.4 385.6h2.6v2.6h-2.6zM979.4 474.6h2.6v2.6h-2.6zM1007.4 436.3h2.6v2.6h-2.6zM972.2 475.2h2.6v2.6h-2.6zM881.4 435.2h2.6v2.6h-2.6zM1023.3 408.5h2.6v2.6h-2.6zM893.9 431.9h2.6v2.6h-2.6zM1007.1 374.1h2.6v2.6h-2.6zM971.1 476.1h2.6v2.6h-2.6zM1012.6 396.9h2.6v2.6h-2.6zM962.8 353.4h2.6v2.6h-2.6zM1008.8 390.7h2.6v2.6h-2.6zM1005.8 450.7h2.6v2.6h-2.6zM986.1 474.0h2.6v2.6h-2.6zM974.8 476.0h2.6v2.6h-2.6zM1006.3 366.0h2.6v2.6h-2.6z" fill="#FB8072"/>
<path d="M894.3 506.0h2.6v2.6h-2.6zM964.6 577.2h2.6v2.6h-2.6zM983.3 499.9h2.6v2.6h-2.6zM939.8 561.4h2.6v2.6h-2.6zM966.5 546.8h2.6v2.6h-2.6zM931.4 539.0h2.6v2.6h-2.6zM942.4 526.6h2.6v2.6h-2.6zM950.6 517.0h2.6v2.6h-2.6zM958.8 504.0h2.6v2.6h-2.6zM933.5 585.5h2.6v2.6h-2.6zM904.4 491.3h2.6v2.6h-2.6zM903.1 490.1h2.6v2.6h-2.6zM915.0 493.0h2.6v2.6h-2.6zM921.7 564.5h2.6v2.6h-2.6zM912.2 557.3h2.6v2.6h-2.6zM951.1 583.2h2.6v2.6h-2.6zM942.7 514.7h2.6v2.6h-2.6zM912.0 543.9h2.6v2.6h-2.6zM959.9 532.1h2.6v2.6h-2.6zM969.4 494.1h2.6v2.6h-2.6zM946.9 586.7h2.6v2.6h-2.6zM918.4 582.3h2.6v2.6h-2.6zM933.6 594.5h2.6v2.6h-2.6zM938.5 581.5h2.6v2.6h-2.6zM965.5 585.5h2.6v2.6h-2.6zM970.4 585.6h2.6v2.6h-2.6zM914.1 592.9h2.6v2.6h-2.6zM930.8 594.5h2.6v2.6h-2.6zM947.6 586.8h2.6v2.6h-2.6zM958.3 587.4h2.6v2.6h-2.6zM931.0 590.6h2.6v2.6h-2.6zM915.8 582.0h2.6v2.6h-2.6zM944.2 596.2h2.6v2.6h-2.6zM934.5 587.4h2.6v2.6h-2.6zM923.4 598.6h2.6v2.6h-2.6zM926.8 582.4h2.6v2.6h-2.6zM942.3 590.3h2.6v2.6h-2.6zM923.1 592.5h2.6v2.6h-2.6zM960.0 598.7h2.6v2.6h-2.6zM914.1 590.8h2.6v2.6h-2.6zM912.4 594.4h2.6v2.6h-2.6zM926.4 591.7h2.6v2.6h-2.6zM908.0 579.1h2.6v2.6h-2.6zM943.5 587.3h2.6v2.6h-2.6zM944.6 579.5h2.6v2.6h-2.6zM942.6 585.1h2.6v2.6h-2.6zM932.7 598.9h2.6v2.6h-2.6zM953.4 590.8h2.6v2.6h-2.6zM968.8 582.6h2.6v2.6h-2.6zM962.3 598.6h2.6v2.6h-2.6zM926.6 600.9h2.6v2.6h-2.6zM969.2 581.6h2.6v2.6h-2.6zM935.3 587.6h2.6v2.6h-2.6zM924.2 598.7h2.6v2.6h-2.6zM962.4 593.6h2.6v2.6h-2.6zM912.5 580.8h2.6v2.6h-2.6zM918.4 590.8h2.6v2.6h-2.6zM920.1 598.8h2.6v2.6h-2.6zM937.9 592.1h2.6v2.6h-2.6zM930.7 590.1h2.6v2.6h-2.6zM960.1 580.4h2.6v2.6h-2.6zM932.2 598.8h2.6v2.6h-2.6zM973.1 590.7h2.6v2.6h-2.6zM929.6 582.0h2.6v2.6h-2.6zM943.7 580.4h2.6v2.6h-2.6zM925.8 585.7h2.6v2.6h-2.6zM973.2 589.7h2.6v2.6h-2.6zM941.6 589.3h2.6v2.6h-2.6zM918.0 581.5h2.6v2.6h-2.6zM934.1 590.9h2.6v2.6h-2.6zM913.5 590.3h2.6v2.6h-2.6zM957.3 585.6h2.6v2.6h-2.6zM908.6 586.7h2.6v2.6h-2.6zM927.3 578.2h2.6v2.6h-2.6zM948.4 599.2h2.6v2.6h-2.6zM933.0 577.9h2.6v2.6h-2.6zM920.2 592.0h2.6v2.6h-2.6zM940.2 597.3h2.6v2.6h-2.6zM956.5 593.6h2.6v2.6h-2.6zM928.7 592.3h2.6v2.6h-2.6zM951.6 588.5h2.6v2.6h-2.6zM962.0 590.4h2.6v2.6h-2.6zM917.5 586.8h2.6v2.6h-2.6zM935.3 582.7h2.6v2.6h-2.6zM954.7 581.1h2.6v2.6h-2.6zM936.2 582.8h2.6v2.6h-2.6zM950.2 595.9h2.6v2.6h-2.6zM911.1 583.4h2.6v2.6h-2.6zM969.5 589.8h2.6v2.6h-2.6zM966.2 593.3h2.6v2.6h-2.6zM926.8 591.1h2.6v2.6h-2.6zM951.7 583.8h2.6v2.6h-2.6zM971.4 586.0h2.6v2.6h-2.6zM960.8 583.4h2.6v2.6h-2.6zM953.3 580.3h2.6v2.6h-2.6zM935.9 589.5h2.6v2.6h-2.6zM921.9 584.9h2.6v2.6h-2.6zM951.1 582.3h2.6v2.6h-2.6zM959.5 581.1h2.6v2.6h-2.6zM963.4 597.0h2.6v2.6h-2.6zM938.8 591.3h2.6v2.6h-2.6zM936.3 590.8h2.6v2.6h-2.6zM911.9 591.2h2.6v2.6h-2.6zM956.2 584.8h2.6v2.6h-2.6zM925.9 595.3h2.6v2.6h-2.6zM931.9 583.2h2.6v2.6h-2.6zM959.6 587.1h2.6v2.6h-2.6zM951.2 591.5h2.6v2.6h-2.6zM937.4 596.8h2.6v2.6h-2.6zM946.8 586.2h2.6v2.6h-2.6zM926.9 578.7h2.6v2.6h-2.6zM936.7 601.7h2.6v2.6h-2.6zM937.1 586.3h2.6v2.6h-2.6zM912.4 588.4h2.6v2.6h-2.6zM959.8 586.5h2.6v2.6h-2.6zM969.0 585.5h2.6v2.6h-2.6zM952.1 584.6h2.6v2.6h-2.6zM955.5 588.6h2.6v2.6h-2.6zM944.4 579.0h2.6v2.6h-2.6zM925.6 580.3h2.6v2.6h-2.6zM954.2 589.7h2.6v2.6h-2.6zM944.8 594.1h2.6v2.6h-2.6zM932.9 584.9h2.6v2.6h-2.6zM960.1 662.4h2.6v2.6h-2.6zM967.6 624.1h2.6v2.6h-2.6zM963.8 646.9h2.6v2.6h-2.6zM918.7 619.2h2.6v2.6h-2.6zM936.9 658.2h2.6v2.6h-2.6zM933.1 591.4h2.6v2.6h-2.6zM961.2 656.3h2.6v2.6h-2.6zM977.6 606.0h2.6v2.6h-2.6zM924.6 644.0h2.6v2.6h-2.6zM923.7 592.5h2.6v2.6h-2.6zM970.5 632.5h2.6v2.6h-2.6zM969.2 613.8h2.6v2.6h-2.6zM919.2 593.2h2.6v2.6h-2.6zM960.6 661.1h2.6v2.6h-2.6zM911.3 603.9h2.6v2.6h-2.6zM928.2 593.7h2.6v2.6h-2.6zM969.0 616.0h2.6v2.6h-2.6zM968.4 631.9h2.6v2.6h-2.6zM962.3 647.4h2.6v2.6h-2.6zM971.4 603.8h2.6v2.6h-2.6zM916.5 592.2h2.6v2.6h-2.6zM964.7 634.4h2.6v2.6h-2.6zM970.9 607.0h2.6v2.6h-2.6zM920.6 619.2h2.6v2.6h-2.6zM971.3 593.3h2.6v2.6h-2.6zM954.6 670.3h2.6v2.6h-2.6zM928.8 655.2h2.6v2.6h-2.6zM969.1 613.4h2.6v2.6h-2.6zM924.7 644.6h2.6v2.6h-2.6zM921.8 638.0h2.6v2.6h-2.6zM909.7 591.2h2.6v2.6h-2.6zM921.5 641.3h2.6v2.6h-2.6zM924.2 592.8h2.6v2.6h-2.6zM938.4 591.2h2.6v2.6h-2.6zM969.4 630.1h2.6v2.6h-2.6zM954.3 666.6h2.6v2.6h-2.6zM927.8 592.6h2.6v2.6h-2.6zM963.5 640.4h2.6v2.6h-2.6zM953.3 669.1h2.6v2.6h-2.6zM964.1 650.5h2.6v2.6h-2.6zM967.2 626.3h2.6v2.6h-2.6zM958.1 651.8h2.6v2.6h-2.6zM963.1 590.3h2.6v2.6h-2.6zM925.2 591.9h2.6v2.6h-2.6zM943.2 661.4h2.6v2.6h-2.6zM935.8 593.0h2.6v2.6h-2.6zM942.1 668.7h2.6v2.6h-2.6zM923.2 640.1h2.6v2.6h-2.6zM960.0 655.2h2.6v2.6h-2.6zM913.8 623.2h2.6v2.6h-2.6zM909.4 606.5h2.6v2.6h-2.6zM963.6 591.2h2.6v2.6h-2.6zM932.8 658.4h2.6v2.6h-2.6zM962.4 613.7h2.6v2.6h-2.6zM932.9 645.6h2.6v2.6h-2.6zM928.9 589.0h2.6v2.6h-2.6zM968.6 606.0h2.6v2.6h-2.6zM969.7 611.7h2.6v2.6h-2.6zM961.9 654.5h2.6v2.6h-2.6zM933.2 592.2h2.6v2.6h-2.6zM916.7 592.3h2.6v2.6h-2.6zM966.1 644.4h2.6v2.6h-2.6zM960.1 658.6h2.6v2.6h-2.6zM965.0 588.3h2.6v2.6h-2.6zM949.2 667.2h2.6v2.6h-2.6zM910.7 603.9h2.6v2.6h-2.6zM929.2 656.7h2.6v2.6h-2.6zM925.8 648.2h2.6v2.6h-2.6zM969.6 608.6h2.6v2.6h-2.6zM949.0 595.8h2.6v2.6h-2.6zM961.2 591.1h2.6v2.6h-2.6zM932.7 593.4h2.6v2.6h-2.6zM964.2 646.3h2.6v2.6h-2.6zM911.0 602.1h2.6v2.6h-2.6zM920.5 634.7h2.6v2.6h-2.6zM970.0 605.8h2.6v2.6h-2.6zM912.6 612.1h2.6v2.6h-2.6zM925.0 591.4h2.6v2.6h-2.6zM971.6 592.9h2.6v2.6h-2.6zM915.5 593.1h2.6v2.6h-2.6zM969.2 590.5h2.6v2.6h-2.6zM952.9 591.4h2.6v2.6h-2.6zM923.8 593.1h2.6v2.6h-2.6zM964.5 642.6h2.6v2.6h-2.6zM969.0 609.5h2.6v2.6h-2.6zM960.7 660.0h2.6v2.6h-2.6zM923.3 637.5h2.6v2.6h-2.6zM959.7 663.0h2.6v2.6h-2.6zM958.3 591.1h2.6v2.6h-2.6zM961.5 647.7h2.6v2.6h-2.6zM959.5 663.3h2.6v2.6h-2.6zM966.6 591.6h2.6v2.6h-2.6zM921.8 638.3h2.6v2.6h-2.6zM931.5 656.3h2.6v2.6h-2.6zM962.2 653.2h2.6v2.6h-2.6z" fill="#1965B0"/>
<path d="M806.9 514.1h2.6v2.6h-2.6zM821.4 533.6h2.6v2.6h-2.6zM812.8 533.0h2.6v2.6h-2.6zM807.2 513.5h2.6v2.6h-2.6zM817.5 540.4h2.6v2.6h-2.6zM813.8 501.5h2.6v2.6h-2.6zM818.4 528.6h2.6v2.6h-2.6zM817.1 503.3h2.6v2.6h-2.6zM816.3 539.4h2.6v2.6h-2.6zM821.0 525.7h2.6v2.6h-2.6zM820.9 501.5h2.6v2.6h-2.6zM809.4 510.7h2.6v2.6h-2.6zM813.4 538.6h2.6v2.6h-2.6zM821.0 527.2h2.6v2.6h-2.6zM810.5 514.4h2.6v2.6h-2.6zM819.4 532.3h2.6v2.6h-2.6zM820.8 537.1h2.6v2.6h-2.6zM806.3 514.0h2.6v2.6h-2.6zM813.4 507.1h2.6v2.6h-2.6zM818.2 528.1h2.6v2.6h-2.6zM807.6 513.8h2.6v2.6h-2.6zM815.9 533.3h2.6v2.6h-2.6zM817.8 547.4h2.6v2.6h-2.6zM813.6 548.8h2.6v2.6h-2.6zM802.3 490.3h2.6v2.6h-2.6zM817.3 519.8h2.6v2.6h-2.6zM812.7 545.0h2.6v2.6h-2.6zM755.1 508.8h2.6v2.6h-2.6zM801.5 483.8h2.6v2.6h-2.6zM761.3 569.3h2.6v2.6h-2.6zM771.6 488.0h2.6v2.6h-2.6zM788.4 566.2h2.6v2.6h-2.6zM812.4 555.0h2.6v2.6h-2.6zM749.7 496.0h2.6v2.6h-2.6zM763.7 564.1h2.6v2.6h-2.6zM756.9 514.7h2.6v2.6h-2.6zM794.2 486.0h2.6v2.6h-2.6zM761.5 556.7h2.6v2.6h-2.6zM761.0 549.5h2.6v2.6h-2.6zM807.1 486.0h2.6v2.6h-2.6zM761.5 540.1h2.6v2.6h-2.6zM765.7 489.3h2.6v2.6h-2.6zM788.2 486.3h2.6v2.6h-2.6zM753.9 495.3h2.6v2.6h-2.6zM758.7 537.8h2.6v2.6h-2.6zM777.7 573.2h2.6v2.6h-2.6zM761.4 540.0h2.6v2.6h-2.6zM749.2 491.2h2.6v2.6h-2.6zM760.8 555.5h2.6v2.6h-2.6zM761.6 488.5h2.6v2.6h-2.6zM759.1 545.4h2.6v2.6h-2.6zM766.6 556.9h2.6v2.6h-2.6zM795.2 486.6h2.6v2.6h-2.6zM757.8 513.8h2.6v2.6h-2.6zM776.1 486.5h2.6v2.6h-2.6zM764.6 564.2h2.6v2.6h-2.6zM757.0 519.7h2.6v2.6h-2.6zM761.4 544.8h2.6v2.6h-2.6zM809.0 553.9h2.6v2.6h-2.6zM815.6 546.7h2.6v2.6h-2.6zM798.9 487.0h2.6v2.6h-2.6zM774.7 571.8h2.6v2.6h-2.6zM753.2 483.9h2.6v2.6h-2.6zM778.3 571.8h2.6v2.6h-2.6zM762.6 494.2h2.6v2.6h-2.6zM779.2 570.3h2.6v2.6h-2.6zM806.3 487.7h2.6v2.6h-2.6zM793.8 568.3h2.6v2.6h-2.6zM812.5 547.6h2.6v2.6h-2.6zM749.2 490.4h2.6v2.6h-2.6zM758.7 516.2h2.6v2.6h-2.6zM785.3 570.4h2.6v2.6h-2.6zM809.1 563.4h2.6v2.6h-2.6zM757.3 508.2h2.6v2.6h-2.6zM774.0 485.1h2.6v2.6h-2.6zM749.1 492.5h2.6v2.6h-2.6zM759.5 518.7h2.6v2.6h-2.6zM788.1 569.3h2.6v2.6h-2.6zM773.9 489.0h2.6v2.6h-2.6zM790.5 485.6h2.6v2.6h-2.6zM761.7 504.8h2.6v2.6h-2.6zM756.5 521.0h2.6v2.6h-2.6zM755.9 488.6h2.6v2.6h-2.6zM807.0 485.9h2.6v2.6h-2.6zM754.2 499.7h2.6v2.6h-2.6zM749.0 492.1h2.6v2.6h-2.6zM750.9 496.9h2.6v2.6h-2.6zM776.2 486.7h2.6v2.6h-2.6zM804.6 564.0h2.6v2.6h-2.6zM753.8 499.3h2.6v2.6h-2.6zM751.2 494.5h2.6v2.6h-2.6zM801.7 564.0h2.6v2.6h-2.6zM755.8 511.0h2.6v2.6h-2.6zM807.1 483.7h2.6v2.6h-2.6zM782.0 486.2h2.6v2.6h-2.6zM777.0 574.1h2.6v2.6h-2.6zM779.6 487.7h2.6v2.6h-2.6zM754.0 507.5h2.6v2.6h-2.6zM784.4 487.2h2.6v2.6h-2.6zM775.7 571.3h2.6v2.6h-2.6zM801.9 561.0h2.6v2.6h-2.6zM750.5 493.4h2.6v2.6h-2.6zM784.6 563.8h2.6v2.6h-2.6zM812.3 560.5h2.6v2.6h-2.6zM788.6 573.9h2.6v2.6h-2.6zM785.4 572.2h2.6v2.6h-2.6zM760.3 525.9h2.6v2.6h-2.6zM767.1 493.0h2.6v2.6h-2.6zM764.2 565.2h2.6v2.6h-2.6zM760.4 548.7h2.6v2.6h-2.6zM789.2 570.8h2.6v2.6h-2.6zM782.7 570.9h2.6v2.6h-2.6zM768.5 569.4h2.6v2.6h-2.6zM766.0 567.6h2.6v2.6h-2.6zM753.3 488.9h2.6v2.6h-2.6z" fill="#FF7F00"/>
<path d="M1182.1 99.6h2.6v2.6h-2.6zM1194.7 126.1h2.6v2.6h-2.6zM1174.9 99.8h2.6v2.6h-2.6zM1186.7 140.9h2.6v2.6h-2.6zM1193.2 128.9h2.6v2.6h-2.6zM1193.7 114.3h2.6v2.6h-2.6zM1189.2 133.6h2.6v2.6h-2.6zM1194.1 112.0h2.6v2.6h-2.6zM1196.2 113.4h2.6v2.6h-2.6zM1193.7 112.7h2.6v2.6h-2.6zM1172.1 102.0h2.6v2.6h-2.6zM1193.1 110.5h2.6v2.6h-2.6zM1174.1 102.1h2.6v2.6h-2.6zM1193.0 134.0h2.6v2.6h-2.6zM1189.2 106.7h2.6v2.6h-2.6zM1194.3 121.8h2.6v2.6h-2.6zM1193.6 132.9h2.6v2.6h-2.6zM1187.2 105.5h2.6v2.6h-2.6zM1173.7 101.4h2.6v2.6h-2.6zM1187.9 105.7h2.6v2.6h-2.6zM1188.0 137.1h2.6v2.6h-2.6zM1187.5 104.2h2.6v2.6h-2.6zM1191.9 131.8h2.6v2.6h-2.6zM1190.5 136.0h2.6v2.6h-2.6zM1181.8 99.2h2.6v2.6h-2.6zM1193.5 132.7h2.6v2.6h-2.6zM1194.9 130.2h2.6v2.6h-2.6zM1176.9 102.6h2.6v2.6h-2.6zM1182.8 102.7h2.6v2.6h-2.6zM1195.3 121.7h2.6v2.6h-2.6zM1194.2 109.4h2.6v2.6h-2.6zM1190.0 108.8h2.6v2.6h-2.6zM1178.4 103.1h2.6v2.6h-2.6zM1173.5 101.6h2.6v2.6h-2.6zM1195.3 114.4h2.6v2.6h-2.6zM1195.1 130.6h2.6v2.6h-2.6zM1188.5 139.3h2.6v2.6h-2.6zM1195.9 116.3h2.6v2.6h-2.6zM1188.0 140.8h2.6v2.6h-2.6zM1180.4 103.2h2.6v2.6h-2.6zM1193.9 130.7h2.6v2.6h-2.6zM1192.5 111.1h2.6v2.6h-2.6zM1195.5 116.1h2.6v2.6h-2.6zM1193.3 110.3h2.6v2.6h-2.6zM1171.7 102.1h2.6v2.6h-2.6zM1187.7 103.6h2.6v2.6h-2.6zM1196.5 116.6h2.6v2.6h-2.6zM1191.1 110.0h2.6v2.6h-2.6zM1196.0 126.5h2.6v2.6h-2.6zM1191.5 134.2h2.6v2.6h-2.6zM1189.0 138.6h2.6v2.6h-2.6zM1188.8 137.3h2.6v2.6h-2.6zM1189.4 107.6h2.6v2.6h-2.6zM1193.8 133.1h2.6v2.6h-2.6zM1196.6 123.7h2.6v2.6h-2.6zM1196.8 120.3h2.6v2.6h-2.6zM1190.6 133.7h2.6v2.6h-2.6zM1188.0 107.1h2.6v2.6h-2.6zM1189.9 134.8h2.6v2.6h-2.6zM1186.9 106.1h2.6v2.6h-2.6zM1195.4 119.9h2.6v2.6h-2.6zM1187.6 140.3h2.6v2.6h-2.6zM1194.2 112.3h2.6v2.6h-2.6zM1185.3 102.3h2.6v2.6h-2.6zM1195.6 128.2h2.6v2.6h-2.6zM1196.1 112.9h2.6v2.6h-2.6zM1190.2 112.7h2.6v2.6h-2.6zM1194.2 121.3h2.6v2.6h-2.6zM1183.6 103.2h2.6v2.6h-2.6zM1196.6 123.7h2.6v2.6h-2.6zM1189.1 138.8h2.6v2.6h-2.6zM1178.3 100.9h2.6v2.6h-2.6zM1195.9 117.3h2.6v2.6h-2.6zM1191.3 134.2h2.6v2.6h-2.6zM1191.0 111.2h2.6v2.6h-2.6zM1186.9 138.8h2.6v2.6h-2.6zM1187.9 140.7h2.6v2.6h-2.6zM1186.1 139.6h2.6v2.6h-2.6zM1191.9 131.6h2.6v2.6h-2.6zM1188.3 106.8h2.6v2.6h-2.6zM1180.5 102.7h2.6v2.6h-2.6zM1171.4 101.0h2.6v2.6h-2.6zM1187.9 139.6h2.6v2.6h-2.6zM1198.2 114.8h2.6v2.6h-2.6zM1186.1 104.7h2.6v2.6h-2.6zM1196.1 118.8h2.6v2.6h-2.6zM1189.5 105.6h2.6v2.6h-2.6zM1193.0 111.2h2.6v2.6h-2.6zM1188.4 138.7h2.6v2.6h-2.6zM1195.7 111.2h2.6v2.6h-2.6zM1189.5 108.5h2.6v2.6h-2.6zM1190.0 105.9h2.6v2.6h-2.6zM1196.1 122.2h2.6v2.6h-2.6zM1190.7 112.6h2.6v2.6h-2.6zM1196.9 120.5h2.6v2.6h-2.6zM1190.6 137.9h2.6v2.6h-2.6zM1182.7 102.3h2.6v2.6h-2.6zM1186.0 104.0h2.6v2.6h-2.6zM1190.6 109.8h2.6v2.6h-2.6zM1184.5 140.3h2.6v2.6h-2.6zM1196.5 119.5h2.6v2.6h-2.6zM1185.3 104.5h2.6v2.6h-2.6zM1197.6 117.6h2.6v2.6h-2.6zM1189.2 106.5h2.6v2.6h-2.6zM1192.6 127.7h2.6v2.6h-2.6zM1183.3 102.9h2.6v2.6h-2.6zM1187.8 140.3h2.6v2.6h-2.6zM1195.8 120.3h2.6v2.6h-2.6zM1171.9 102.5h2.6v2.6h-2.6zM1193.0 131.8h2.6v2.6h-2.6zM1193.4 129.6h2.6v2.6h-2.6zM1173.0 104.8h2.6v2.6h-2.6zM1188.6 109.0h2.6v2.6h-2.6zM1188.0 107.9h2.6v2.6h-2.6zM1194.0 132.3h2.6v2.6h-2.6zM1193.9 127.1h2.6v2.6h-2.6zM1193.1 129.8h2.6v2.6h-2.6zM1174.9 103.2h2.6v2.6h-2.6zM1193.0 135.7h2.6v2.6h-2.6zM1191.3 107.9h2.6v2.6h-2.6zM1196.0 117.1h2.6v2.6h-2.6zM1194.2 116.1h2.6v2.6h-2.6zM1192.7 129.9h2.6v2.6h-2.6zM1195.6 122.4h2.6v2.6h-2.6zM1185.8 141.4h2.6v2.6h-2.6zM1192.9 134.2h2.6v2.6h-2.6zM1173.7 100.8h2.6v2.6h-2.6zM1181.6 103.3h2.6v2.6h-2.6zM1193.2 130.7h2.6v2.6h-2.6zM1192.5 129.6h2.6v2.6h-2.6zM1196.6 131.4h2.6v2.6h-2.6zM1175.3 101.1h2.6v2.6h-2.6zM1176.5 101.8h2.6v2.6h-2.6zM1189.2 107.8h2.6v2.6h-2.6zM1188.4 138.3h2.6v2.6h-2.6zM1186.2 141.3h2.6v2.6h-2.6zM1194.9 125.9h2.6v2.6h-2.6zM1192.3 133.0h2.6v2.6h-2.6zM1193.6 109.9h2.6v2.6h-2.6zM1191.8 109.9h2.6v2.6h-2.6zM1194.6 110.3h2.6v2.6h-2.6zM1194.9 122.1h2.6v2.6h-2.6zM1173.6 100.4h2.6v2.6h-2.6zM1195.7 129.3h2.6v2.6h-2.6zM1189.7 108.2h2.6v2.6h-2.6zM1172.1 100.1h2.6v2.6h-2.6zM1191.5 133.1h2.6v2.6h-2.6zM1190.5 140.5h2.6v2.6h-2.6zM1194.3 121.0h2.6v2.6h-2.6zM1175.1 102.2h2.6v2.6h-2.6zM1183.6 139.7h2.6v2.6h-2.6zM1194.3 127.4h2.6v2.6h-2.6zM1196.7 120.7h2.6v2.6h-2.6zM1188.4 107.7h2.6v2.6h-2.6zM1181.6 102.4h2.6v2.6h-2.6zM1190.3 105.8h2.6v2.6h-2.6zM1194.8 118.5h2.6v2.6h-2.6zM1193.6 114.1h2.6v2.6h-2.6zM1196.2 127.4h2.6v2.6h-2.6zM1175.3 101.0h2.6v2.6h-2.6zM1195.7 127.3h2.6v2.6h-2.6zM1188.6 108.9h2.6v2.6h-2.6zM1175.8 102.6h2.6v2.6h-2.6zM1185.0 101.5h2.6v2.6h-2.6zM1194.1 125.2h2.6v2.6h-2.6zM1171.9 99.0h2.6v2.6h-2.6zM1195.5 121.8h2.6v2.6h-2.6zM1197.5 117.3h2.6v2.6h-2.6zM1194.3 110.5h2.6v2.6h-2.6zM1195.7 124.5h2.6v2.6h-2.6z" fill="#DC050C"/>
<path d="M1013.4 237.8h2.6v2.6h-2.6zM1022.3 233.7h2.6v2.6h-2.6zM1014.4 266.8h2.6v2.6h-2.6zM1018.5 236.6h2.6v2.6h-2.6zM1013.6 193.9h2.6v2.6h-2.6zM1021.3 232.6h2.6v2.6h-2.6zM1020.6 220.9h2.6v2.6h-2.6zM1020.7 232.6h2.6v2.6h-2.6zM1013.1 262.0h2.6v2.6h-2.6zM1010.0 217.2h2.6v2.6h-2.6zM1015.9 250.6h2.6v2.6h-2.6zM1009.9 257.5h2.6v2.6h-2.6zM1021.0 222.5h2.6v2.6h-2.6zM1017.2 201.9h2.6v2.6h-2.6zM1019.5 257.6h2.6v2.6h-2.6zM1015.8 202.2h2.6v2.6h-2.6zM1015.5 216.0h2.6v2.6h-2.6zM1022.5 191.4h2.6v2.6h-2.6zM1021.2 231.1h2.6v2.6h-2.6zM1009.8 240.5h2.6v2.6h-2.6zM1011.6 214.6h2.6v2.6h-2.6zM1020.2 209.8h2.6v2.6h-2.6zM1009.0 249.4h2.6v2.6h-2.6zM1009.2 248.0h2.6v2.6h-2.6zM1022.7 186.4h2.6v2.6h-2.6zM1018.4 192.6h2.6v2.6h-2.6zM1009.4 252.1h2.6v2.6h-2.6zM1013.5 253.3h2.6v2.6h-2.6zM1019.6 254.9h2.6v2.6h-2.6zM1017.7 224.5h2.6v2.6h-2.6zM1010.6 220.3h2.6v2.6h-2.6zM1017.6 234.2h2.6v2.6h-2.6zM1016.6 190.8h2.6v2.6h-2.6zM1015.1 205.5h2.6v2.6h-2.6zM1012.8 235.8h2.6v2.6h-2.6zM1009.8 213.8h2.6v2.6h-2.6zM1019.9 244.4h2.6v2.6h-2.6zM1014.8 267.4h2.6v2.6h-2.6zM1014.5 217.5h2.6v2.6h-2.6zM1017.1 236.4h2.6v2.6h-2.6zM1016.2 191.6h2.6v2.6h-2.6zM1012.9 261.6h2.6v2.6h-2.6zM1022.7 235.8h2.6v2.6h-2.6zM1023.1 194.7h2.6v2.6h-2.6zM1016.6 212.7h2.6v2.6h-2.6zM1013.5 210.6h2.6v2.6h-2.6zM1018.4 222.1h2.6v2.6h-2.6zM1010.3 232.1h2.6v2.6h-2.6zM1015.2 245.0h2.6v2.6h-2.6zM1015.1 191.7h2.6v2.6h-2.6zM1018.4 262.5h2.6v2.6h-2.6zM1012.7 261.0h2.6v2.6h-2.6zM1010.5 195.1h2.6v2.6h-2.6zM1022.2 202.2h2.6v2.6h-2.6zM1019.5 188.3h2.6v2.6h-2.6zM1010.0 187.9h2.6v2.6h-2.6zM1019.0 264.4h2.6v2.6h-2.6zM1012.3 257.9h2.6v2.6h-2.6zM1021.2 196.5h2.6v2.6h-2.6zM1012.4 248.4h2.6v2.6h-2.6zM1017.5 243.3h2.6v2.6h-2.6zM1023.5 188.7h2.6v2.6h-2.6zM1018.6 198.4h2.6v2.6h-2.6zM1016.3 210.6h2.6v2.6h-2.6zM1010.5 251.0h2.6v2.6h-2.6zM1015.5 208.1h2.6v2.6h-2.6zM1018.7 211.8h2.6v2.6h-2.6zM1020.1 255.8h2.6v2.6h-2.6zM1016.5 237.5h2.6v2.6h-2.6zM1012.9 240.0h2.6v2.6h-2.6zM1011.3 243.4h2.6v2.6h-2.6zM1019.2 262.1h2.6v2.6h-2.6zM1015.3 246.5h2.6v2.6h-2.6zM1015.4 234.5h2.6v2.6h-2.6zM1010.0 239.9h2.6v2.6h-2.6zM1014.9 227.1h2.6v2.6h-2.6zM1009.7 257.9h2.6v2.6h-2.6zM1021.8 256.8h2.6v2.6h-2.6zM1012.3 264.5h2.6v2.6h-2.6zM1011.7 210.0h2.6v2.6h-2.6zM1018.6 250.9h2.6v2.6h-2.6zM1019.5 203.9h2.6v2.6h-2.6zM1020.6 205.7h2.6v2.6h-2.6zM1022.2 190.1h2.6v2.6h-2.6zM1021.7 219.8h2.6v2.6h-2.6zM1010.9 227.9h2.6v2.6h-2.6zM1018.8 248.9h2.6v2.6h-2.6zM1012.0 187.2h2.6v2.6h-2.6zM1015.5 196.6h2.6v2.6h-2.6zM1017.3 230.6h2.6v2.6h-2.6zM1015.1 261.2h2.6v2.6h-2.6zM1018.8 230.0h2.6v2.6h-2.6zM1021.3 264.5h2.6v2.6h-2.6zM1014.5 229.1h2.6v2.6h-2.6zM1012.1 193.8h2.6v2.6h-2.6zM1016.2 201.5h2.6v2.6h-2.6zM1010.4 235.1h2.6v2.6h-2.6zM1021.4 228.3h2.6v2.6h-2.6zM1020.6 258.4h2.6v2.6h-2.6zM1015.3 254.0h2.6v2.6h-2.6zM1010.2 226.3h2.6v2.6h-2.6zM1014.3 265.5h2.6v2.6h-2.6zM1022.1 186.2h2.6v2.6h-2.6zM1018.0 246.8h2.6v2.6h-2.6zM1010.6 203.3h2.6v2.6h-2.6zM1012.0 233.4h2.6v2.6h-2.6zM1019.0 229.7h2.6v2.6h-2.6zM1020.9 215.4h2.6v2.6h-2.6zM1022.3 257.8h2.6v2.6h-2.6zM1016.7 188.0h2.6v2.6h-2.6zM1013.6 246.9h2.6v2.6h-2.6zM1010.7 245.6h2.6v2.6h-2.6zM1023.1 226.4h2.6v2.6h-2.6zM1010.5 217.2h2.6v2.6h-2.6zM1011.5 230.9h2.6v2.6h-2.6zM1021.6 227.6h2.6v2.6h-2.6zM1018.2 265.3h2.6v2.6h-2.6zM1014.8 242.7h2.6v2.6h-2.6zM1016.4 238.9h2.6v2.6h-2.6zM1014.0 218.5h2.6v2.6h-2.6z" fill="#DC050C"/>
<text x="36.00" y="43.60" font-size="61.5" font-family="'Liberation Sans', Arial, sans-serif" textLength="39.00" lengthAdjust="spacingAndGlyphs" stroke="#000" stroke-width="0.9">A</text>
<text x="477.00" y="54.20" font-size="37" font-weight="bold" font-family="'Liberation Sans', Arial, sans-serif" textLength="51.60" lengthAdjust="spacingAndGlyphs">5.0</text>
<text x="477.00" y="180.70" font-size="37" font-weight="bold" font-family="'Liberation Sans', Arial, sans-serif" textLength="51.60" lengthAdjust="spacingAndGlyphs">2.5</text>
<text x="477.00" y="308.60" font-size="37" font-weight="bold" font-family="'Liberation Sans', Arial, sans-serif" textLength="51.60" lengthAdjust="spacingAndGlyphs">0.0</text>
<text x="455.00" y="436.50" font-size="37" font-weight="bold" font-family="'Liberation Sans', Arial, sans-serif" textLength="73.50" lengthAdjust="spacingAndGlyphs">−2.5</text>
<text x="455.00" y="564.50" font-size="37" font-weight="bold" font-family="'Liberation Sans', Arial, sans-serif" textLength="73.50" lengthAdjust="spacingAndGlyphs">−5.0</text>
<text x="455.00" y="692.30" font-size="37" font-weight="bold" font-family="'Liberation Sans', Arial, sans-serif" textLength="73.50" lengthAdjust="spacingAndGlyphs">−7.5</text>
<text x="677.70" y="732.30" font-size="37" font-weight="bold" font-family="'Liberation Sans', Arial, sans-serif" textLength="41.10" lengthAdjust="spacingAndGlyphs">−5</text>
<text x="887.00" y="732.30" font-size="37" font-weight="bold" font-family="'Liberation Sans', Arial, sans-serif" textLength="20.50" lengthAdjust="spacingAndGlyphs">0</text>
<text x="1079.80" y="732.30" font-size="37" font-weight="bold" font-family="'Liberation Sans', Arial, sans-serif" textLength="20.00" lengthAdjust="spacingAndGlyphs">5</text>
<rect x="373.80" y="612.00" width="9.00" height="181.50" fill="#000" />
<polygon points="365.0,614.5 391.6,614.5 378.3,587.8" fill="#000" />
<rect x="373.80" y="784.00" width="176.00" height="9.20" fill="#000" />
<polygon points="549.0,775.8 549.0,801.4 575.6,788.6" fill="#000" />
<text x="370.00" y="837.00" font-size="33.5" font-weight="bold" font-family="'Liberation Sans', Arial, sans-serif" textLength="125.60" lengthAdjust="spacingAndGlyphs">UMAP 1</text>
<text transform="translate(343.70,806.50) rotate(-90)" x="0" y="0" font-size="34" font-weight="bold" font-family="'Liberation Sans', Arial, sans-serif" textLength="125.90" lengthAdjust="spacingAndGlyphs">UMAP 2</text>
<text x="1248.30" y="174.30" font-size="50" font-weight="bold" font-family="'Liberation Sans', Arial, sans-serif" textLength="240.50" lengthAdjust="spacingAndGlyphs">cluster_id</text>
<clipPath id="legclip"><rect x="1240" y="180" width="318" height="450"/></clipPath>
<g clip-path="url(#legclip)">
<rect x="1249.20" y="199.50" width="29.70" height="29.70" fill="#DC050C" />
<text x="1288.40" y="224.90" font-size="34.5" font-family="'Liberation Sans', Arial, sans-serif">NAIVE</text>
<rect x="1249.20" y="232.03" width="29.70" height="29.70" fill="#FB8072" />
<text x="1288.40" y="257.43" font-size="34.5" font-family="'Liberation Sans', Arial, sans-serif">CM CXCR3+</text>
<rect x="1249.20" y="264.56" width="29.70" height="29.70" fill="#1965B0" />
<text x="1288.40" y="289.96" font-size="34.5" font-family="'Liberation Sans', Arial, sans-serif">CM Th2 CXCR3−</text>
<rect x="1249.20" y="297.09" width="29.70" height="29.70" fill="#7BAFDE" />
<text x="1288.40" y="322.49" font-size="34.5" font-family="'Liberation Sans', Arial, sans-serif">CM Th2 CXCR3+</text>
<rect x="1249.20" y="329.62" width="29.70" height="29.70" fill="#882E72" />
<text x="1288.40" y="355.02" font-size="34.5" font-family="'Liberation Sans', Arial, sans-serif">TM</text>
<rect x="1249.20" y="362.15" width="29.70" height="29.70" fill="#B17BA6" />
<text x="1288.40" y="387.55" font-size="34.5" font-family="'Liberation Sans', Arial, sans-serif">EM</text>
<rect x="1249.20" y="394.68" width="29.70" height="29.70" fill="#FF7F00" />
<text x="1288.40" y="420.08" font-size="34.5" font-family="'Liberation Sans', Arial, sans-serif">EM activated</text>
<rect x="1249.20" y="427.21" width="29.70" height="29.70" fill="#FDB462" />
<text x="1288.40" y="452.61" font-size="34.5" font-family="'Liberation Sans', Arial, sans-serif">EM CD57+</text>
<rect x="1249.20" y="459.74" width="29.70" height="29.70" fill="#E7298A" />
<text x="1288.40" y="485.14" font-size="34.5" font-family="'Liberation Sans', Arial, sans-serif">EMRA CXCR3+</text>
<rect x="1249.20" y="492.27" width="29.70" height="29.70" fill="#E78AC3" />
<text x="1288.40" y="517.67" font-size="34.5" font-family="'Liberation Sans', Arial, sans-serif">EMRA CD57−</text>
<rect x="1249.20" y="524.80" width="29.70" height="29.70" fill="#33A02C" />
<text x="1288.40" y="550.20" font-size="34.5" font-family="'Liberation Sans', Arial, sans-serif">EMRA CD57+</text>
<rect x="1249.20" y="557.33" width="29.70" height="29.70" fill="#B2DF8A" />
<text x="1288.40" y="582.73" font-size="34.5" font-family="'Liberation Sans', Arial, sans-serif">EMRA Th2</text>
<rect x="1249.20" y="589.86" width="29.70" height="29.70" fill="#55A1B1" />
<text x="1288.40" y="615.26" font-size="34.5" font-family="'Liberation Sans', Arial, sans-serif">Treg</text>
</g>
<text x="11.20" y="997.00" font-size="60.5" font-family="'Liberation Sans', Arial, sans-serif" textLength="35.80" lengthAdjust="spacingAndGlyphs" stroke="#000" stroke-width="0.9">B</text>
<rect x="350.00" y="1002.10" width="33.23" height="17.40" fill="#F8766D" stroke="#fff" stroke-width="1.4"/>
<rect x="383.23" y="1002.10" width="33.23" height="17.40" fill="#F8766D" stroke="#fff" stroke-width="1.4"/>
<rect x="416.46" y="1002.10" width="33.23" height="17.40" fill="#F8766D" stroke="#fff" stroke-width="1.4"/>
<rect x="461.40" y="1002.10" width="33.71" height="17.40" fill="#00BA38" stroke="#fff" stroke-width="1.4"/>
<rect x="495.11" y="1002.10" width="33.71" height="17.40" fill="#00BA38" stroke="#fff" stroke-width="1.4"/>
<rect x="528.82" y="1002.10" width="33.71" height="17.40" fill="#00BA38" stroke="#fff" stroke-width="1.4"/>
<rect x="562.53" y="1002.10" width="33.71" height="17.40" fill="#00BA38" stroke="#fff" stroke-width="1.4"/>
<rect x="596.24" y="1002.10" width="33.71" height="17.40" fill="#00BA38" stroke="#fff" stroke-width="1.4"/>
<rect x="629.95" y="1002.10" width="33.71" height="17.40" fill="#00BA38" stroke="#fff" stroke-width="1.4"/>
<rect x="663.66" y="1002.10" width="33.71" height="17.40" fill="#00BA38" stroke="#fff" stroke-width="1.4"/>
<rect x="697.37" y="1002.10" width="33.71" height="17.40" fill="#00BA38" stroke="#fff" stroke-width="1.4"/>
<rect x="731.08" y="1002.10" width="33.71" height="17.40" fill="#00BA38" stroke="#fff" stroke-width="1.4"/>
<rect x="764.79" y="1002.10" width="33.71" height="17.40" fill="#00BA38" stroke="#fff" stroke-width="1.4"/>
<rect x="811.50" y="1002.10" width="33.64" height="17.40" fill="#619CFF" stroke="#fff" stroke-width="1.4"/>
<rect x="845.14" y="1002.10" width="33.64" height="17.40" fill="#619CFF" stroke="#fff" stroke-width="1.4"/>
<rect x="878.78" y="1002.10" width="33.64" height="17.40" fill="#619CFF" stroke="#fff" stroke-width="1.4"/>
<rect x="912.42" y="1002.10" width="33.64" height="17.40" fill="#619CFF" stroke="#fff" stroke-width="1.4"/>
<rect x="946.06" y="1002.10" width="33.64" height="17.40" fill="#619CFF" stroke="#fff" stroke-width="1.4"/>
<rect x="979.70" y="1002.10" width="33.64" height="17.40" fill="#619CFF" stroke="#fff" stroke-width="1.4"/>
<rect x="1013.34" y="1002.10" width="33.64" height="17.40" fill="#619CFF" stroke="#fff" stroke-width="1.4"/>
<rect x="350.00" y="1026.00" width="33.23" height="35.83" fill="#FF9B7D" stroke="#fff" stroke-width="1.4"/>
<rect x="383.23" y="1026.00" width="33.23" height="35.83" fill="#FDFCFF" stroke="#fff" stroke-width="1.4"/>
<rect x="416.46" y="1026.00" width="33.23" height="35.83" fill="#D5BAFF" stroke="#fff" stroke-width="1.4"/>
<rect x="461.40" y="1026.00" width="33.71" height="35.83" fill="#E7D6FF" stroke="#fff" stroke-width="1.4"/>
<rect x="495.11" y="1026.00" width="33.71" height="35.83" fill="#FFF5F2" stroke="#fff" stroke-width="1.4"/>
<rect x="528.82" y="1026.00" width="33.71" height="35.83" fill="#FFECE5" stroke="#fff" stroke-width="1.4"/>
<rect x="562.53" y="1026.00" width="33.71" height="35.83" fill="#FFF5F2" stroke="#fff" stroke-width="1.4"/>
<rect x="596.24" y="1026.00" width="33.71" height="35.83" fill="#7B4EFF" stroke="#fff" stroke-width="1.4"/>
<rect x="629.95" y="1026.00" width="33.71" height="35.83" fill="#9367FF" stroke="#fff" stroke-width="1.4"/>
<rect x="663.66" y="1026.00" width="33.71" height="35.83" fill="#9367FF" stroke="#fff" stroke-width="1.4"/>
<rect x="697.37" y="1026.00" width="33.71" height="35.83" fill="#FF8262" stroke="#fff" stroke-width="1.4"/>
<rect x="731.08" y="1026.00" width="33.71" height="35.83" fill="#6F44FF" stroke="#fff" stroke-width="1.4"/>
<rect x="764.79" y="1026.00" width="33.71" height="35.83" fill="#C7A6FF" stroke="#fff" stroke-width="1.4"/>
<rect x="811.50" y="1026.00" width="33.64" height="35.83" fill="#A97FFF" stroke="#fff" stroke-width="1.4"/>
<rect x="845.14" y="1026.00" width="33.64" height="35.83" fill="#8C5FFF" stroke="#fff" stroke-width="1.4"/>
<rect x="878.78" y="1026.00" width="33.64" height="35.83" fill="#FFE6DC" stroke="#fff" stroke-width="1.4"/>
<rect x="912.42" y="1026.00" width="33.64" height="35.83" fill="#FFE6DC" stroke="#fff" stroke-width="1.4"/>
<rect x="946.06" y="1026.00" width="33.64" height="35.83" fill="#FFB299" stroke="#fff" stroke-width="1.4"/>
<rect x="979.70" y="1026.00" width="33.64" height="35.83" fill="#FFD2C3" stroke="#fff" stroke-width="1.4"/>
<rect x="1013.34" y="1026.00" width="33.64" height="35.83" fill="#9B6FFF" stroke="#fff" stroke-width="1.4"/>
<rect x="350.00" y="1061.83" width="33.23" height="35.83" fill="#FFE6DC" stroke="#fff" stroke-width="1.4"/>
<rect x="383.23" y="1061.83" width="33.23" height="35.83" fill="#FF210D" stroke="#fff" stroke-width="1.4"/>
<rect x="416.46" y="1061.83" width="33.23" height="35.83" fill="#FFBFAA" stroke="#fff" stroke-width="1.4"/>
<rect x="461.40" y="1061.83" width="33.71" height="35.83" fill="#AF87FF" stroke="#fff" stroke-width="1.4"/>
<rect x="495.11" y="1061.83" width="33.71" height="35.83" fill="#FFE6DC" stroke="#fff" stroke-width="1.4"/>
<rect x="528.82" y="1061.83" width="33.71" height="35.83" fill="#FFECE5" stroke="#fff" stroke-width="1.4"/>
<rect x="562.53" y="1061.83" width="33.71" height="35.83" fill="#FFECE5" stroke="#fff" stroke-width="1.4"/>
<rect x="596.24" y="1061.83" width="33.71" height="35.83" fill="#A97FFF" stroke="#fff" stroke-width="1.4"/>
<rect x="629.95" y="1061.83" width="33.71" height="35.83" fill="#E2CEFF" stroke="#fff" stroke-width="1.4"/>
<rect x="663.66" y="1061.83" width="33.71" height="35.83" fill="#D8BEFF" stroke="#fff" stroke-width="1.4"/>
<rect x="697.37" y="1061.83" width="33.71" height="35.83" fill="#E7D6FF" stroke="#fff" stroke-width="1.4"/>
<rect x="731.08" y="1061.83" width="33.71" height="35.83" fill="#240FFF" stroke="#fff" stroke-width="1.4"/>
<rect x="764.79" y="1061.83" width="33.71" height="35.83" fill="#E2CEFF" stroke="#fff" stroke-width="1.4"/>
<rect x="811.50" y="1061.83" width="33.64" height="35.83" fill="#5D35FF" stroke="#fff" stroke-width="1.4"/>
<rect x="845.14" y="1061.83" width="33.64" height="35.83" fill="#FFD9CB" stroke="#fff" stroke-width="1.4"/>
<rect x="878.78" y="1061.83" width="33.64" height="35.83" fill="#7E52FF" stroke="#fff" stroke-width="1.4"/>
<rect x="912.42" y="1061.83" width="33.64" height="35.83" fill="#BC96FF" stroke="#fff" stroke-width="1.4"/>
<rect x="946.06" y="1061.83" width="33.64" height="35.83" fill="#E7D6FF" stroke="#fff" stroke-width="1.4"/>
<rect x="979.70" y="1061.83" width="33.64" height="35.83" fill="#C7A6FF" stroke="#fff" stroke-width="1.4"/>
<rect x="1013.34" y="1061.83" width="33.64" height="35.83" fill="#FFEFE9" stroke="#fff" stroke-width="1.4"/>
<rect x="350.00" y="1097.66" width="33.23" height="35.83" fill="#C7A6FF" stroke="#fff" stroke-width="1.4"/>
<rect x="383.23" y="1097.66" width="33.23" height="35.83" fill="#DDC6FF" stroke="#fff" stroke-width="1.4"/>
<rect x="416.46" y="1097.66" width="33.23" height="35.83" fill="#D8BEFF" stroke="#fff" stroke-width="1.4"/>
<rect x="461.40" y="1097.66" width="33.71" height="35.83" fill="#DDC6FF" stroke="#fff" stroke-width="1.4"/>
<rect x="495.11" y="1097.66" width="33.71" height="35.83" fill="#BC96FF" stroke="#fff" stroke-width="1.4"/>
<rect x="528.82" y="1097.66" width="33.71" height="35.83" fill="#BC96FF" stroke="#fff" stroke-width="1.4"/>
<rect x="562.53" y="1097.66" width="33.71" height="35.83" fill="#CDAEFF" stroke="#fff" stroke-width="1.4"/>
<rect x="596.24" y="1097.66" width="33.71" height="35.83" fill="#CDAEFF" stroke="#fff" stroke-width="1.4"/>
<rect x="629.95" y="1097.66" width="33.71" height="35.83" fill="#F1E6FF" stroke="#fff" stroke-width="1.4"/>
<rect x="663.66" y="1097.66" width="33.71" height="35.83" fill="#E7D6FF" stroke="#fff" stroke-width="1.4"/>
<rect x="697.37" y="1097.66" width="33.71" height="35.83" fill="#FFFCFB" stroke="#fff" stroke-width="1.4"/>
<rect x="731.08" y="1097.66" width="33.71" height="35.83" fill="#D8BEFF" stroke="#fff" stroke-width="1.4"/>
<rect x="764.79" y="1097.66" width="33.71" height="35.83" fill="#FFFCFB" stroke="#fff" stroke-width="1.4"/>
<rect x="811.50" y="1097.66" width="33.64" height="35.83" fill="#BC96FF" stroke="#fff" stroke-width="1.4"/>
<rect x="845.14" y="1097.66" width="33.64" height="35.83" fill="#FF0000" stroke="#fff" stroke-width="1.4"/>
<rect x="878.78" y="1097.66" width="33.64" height="35.83" fill="#BC96FF" stroke="#fff" stroke-width="1.4"/>
<rect x="912.42" y="1097.66" width="33.64" height="35.83" fill="#BC96FF" stroke="#fff" stroke-width="1.4"/>
<rect x="946.06" y="1097.66" width="33.64" height="35.83" fill="#C7A6FF" stroke="#fff" stroke-width="1.4"/>
<rect x="979.70" y="1097.66" width="33.64" height="35.83" fill="#B68FFF" stroke="#fff" stroke-width="1.4"/>
<rect x="1013.34" y="1097.66" width="33.64" height="35.83" fill="#E7D6FF" stroke="#fff" stroke-width="1.4"/>
<rect x="350.00" y="1133.49" width="33.23" height="35.83" fill="#774BFF" stroke="#fff" stroke-width="1.4"/>
<rect x="383.23" y="1133.49" width="33.23" height="35.83" fill="#DDC6FF" stroke="#fff" stroke-width="1.4"/>
<rect x="416.46" y="1133.49" width="33.23" height="35.83" fill="#7E52FF" stroke="#fff" stroke-width="1.4"/>
<rect x="461.40" y="1133.49" width="33.71" height="35.83" fill="#ECDEFF" stroke="#fff" stroke-width="1.4"/>
<rect x="495.11" y="1133.49" width="33.71" height="35.83" fill="#FFBFAA" stroke="#fff" stroke-width="1.4"/>
<rect x="528.82" y="1133.49" width="33.71" height="35.83" fill="#FFECE5" stroke="#fff" stroke-width="1.4"/>
<rect x="562.53" y="1133.49" width="33.71" height="35.83" fill="#A97FFF" stroke="#fff" stroke-width="1.4"/>
<rect x="596.24" y="1133.49" width="33.71" height="35.83" fill="#BC96FF" stroke="#fff" stroke-width="1.4"/>
<rect x="629.95" y="1133.49" width="33.71" height="35.83" fill="#FFF2EE" stroke="#fff" stroke-width="1.4"/>
<rect x="663.66" y="1133.49" width="33.71" height="35.83" fill="#AF87FF" stroke="#fff" stroke-width="1.4"/>
<rect x="697.37" y="1133.49" width="33.71" height="35.83" fill="#E7D6FF" stroke="#fff" stroke-width="1.4"/>
<rect x="731.08" y="1133.49" width="33.71" height="35.83" fill="#FF6C4A" stroke="#fff" stroke-width="1.4"/>
<rect x="764.79" y="1133.49" width="33.71" height="35.83" fill="#FFB9A2" stroke="#fff" stroke-width="1.4"/>
<rect x="811.50" y="1133.49" width="33.64" height="35.83" fill="#DDC6FF" stroke="#fff" stroke-width="1.4"/>
<rect x="845.14" y="1133.49" width="33.64" height="35.83" fill="#FFF5F2" stroke="#fff" stroke-width="1.4"/>
<rect x="878.78" y="1133.49" width="33.64" height="35.83" fill="#ECDEFF" stroke="#fff" stroke-width="1.4"/>
<rect x="912.42" y="1133.49" width="33.64" height="35.83" fill="#7E52FF" stroke="#fff" stroke-width="1.4"/>
<rect x="946.06" y="1133.49" width="33.64" height="35.83" fill="#AF87FF" stroke="#fff" stroke-width="1.4"/>
<rect x="979.70" y="1133.49" width="33.64" height="35.83" fill="#9B6FFF" stroke="#fff" stroke-width="1.4"/>
<rect x="1013.34" y="1133.49" width="33.64" height="35.83" fill="#FF5B3A" stroke="#fff" stroke-width="1.4"/>
<rect x="350.00" y="1169.32" width="33.23" height="35.83" fill="#8C5FFF" stroke="#fff" stroke-width="1.4"/>
<rect x="383.23" y="1169.32" width="33.23" height="35.83" fill="#FF8262" stroke="#fff" stroke-width="1.4"/>
<rect x="416.46" y="1169.32" width="33.23" height="35.83" fill="#C7A6FF" stroke="#fff" stroke-width="1.4"/>
<rect x="461.40" y="1169.32" width="33.71" height="35.83" fill="#FFDFD4" stroke="#fff" stroke-width="1.4"/>
<rect x="495.11" y="1169.32" width="33.71" height="35.83" fill="#E7D6FF" stroke="#fff" stroke-width="1.4"/>
<rect x="528.82" y="1169.32" width="33.71" height="35.83" fill="#FFFFFF" stroke="#fff" stroke-width="1.4"/>
<rect x="562.53" y="1169.32" width="33.71" height="35.83" fill="#E2CEFF" stroke="#fff" stroke-width="1.4"/>
<rect x="596.24" y="1169.32" width="33.71" height="35.83" fill="#ECDEFF" stroke="#fff" stroke-width="1.4"/>
<rect x="629.95" y="1169.32" width="33.71" height="35.83" fill="#FFB9A2" stroke="#fff" stroke-width="1.4"/>
<rect x="663.66" y="1169.32" width="33.71" height="35.83" fill="#BC96FF" stroke="#fff" stroke-width="1.4"/>
<rect x="697.37" y="1169.32" width="33.71" height="35.83" fill="#5D35FF" stroke="#fff" stroke-width="1.4"/>
<rect x="731.08" y="1169.32" width="33.71" height="35.83" fill="#FF8262" stroke="#fff" stroke-width="1.4"/>
<rect x="764.79" y="1169.32" width="33.71" height="35.83" fill="#FF9071" stroke="#fff" stroke-width="1.4"/>
<rect x="811.50" y="1169.32" width="33.64" height="35.83" fill="#D8BEFF" stroke="#fff" stroke-width="1.4"/>
<rect x="845.14" y="1169.32" width="33.64" height="35.83" fill="#AF87FF" stroke="#fff" stroke-width="1.4"/>
<rect x="878.78" y="1169.32" width="33.64" height="35.83" fill="#AF87FF" stroke="#fff" stroke-width="1.4"/>
<rect x="912.42" y="1169.32" width="33.64" height="35.83" fill="#A277FF" stroke="#fff" stroke-width="1.4"/>
<rect x="946.06" y="1169.32" width="33.64" height="35.83" fill="#D2B6FF" stroke="#fff" stroke-width="1.4"/>
<rect x="979.70" y="1169.32" width="33.64" height="35.83" fill="#532DFF" stroke="#fff" stroke-width="1.4"/>
<rect x="1013.34" y="1169.32" width="33.64" height="35.83" fill="#FFFCFB" stroke="#fff" stroke-width="1.4"/>
<rect x="350.00" y="1205.15" width="33.23" height="35.83" fill="#D2B6FF" stroke="#fff" stroke-width="1.4"/>
<rect x="383.23" y="1205.15" width="33.23" height="35.83" fill="#FDFBFF" stroke="#fff" stroke-width="1.4"/>
<rect x="416.46" y="1205.15" width="33.23" height="35.83" fill="#BC96FF" stroke="#fff" stroke-width="1.4"/>
<rect x="461.40" y="1205.15" width="33.71" height="35.83" fill="#8C5FFF" stroke="#fff" stroke-width="1.4"/>
<rect x="495.11" y="1205.15" width="33.71" height="35.83" fill="#BC96FF" stroke="#fff" stroke-width="1.4"/>
<rect x="528.82" y="1205.15" width="33.71" height="35.83" fill="#8C5FFF" stroke="#fff" stroke-width="1.4"/>
<rect x="562.53" y="1205.15" width="33.71" height="35.83" fill="#DDC6FF" stroke="#fff" stroke-width="1.4"/>
<rect x="596.24" y="1205.15" width="33.71" height="35.83" fill="#FFFFFF" stroke="#fff" stroke-width="1.4"/>
<rect x="629.95" y="1205.15" width="33.71" height="35.83" fill="#FF0000" stroke="#fff" stroke-width="1.4"/>
<rect x="663.66" y="1205.15" width="33.71" height="35.83" fill="#FFFFFF" stroke="#fff" stroke-width="1.4"/>
<rect x="697.37" y="1205.15" width="33.71" height="35.83" fill="#A277FF" stroke="#fff" stroke-width="1.4"/>
<rect x="731.08" y="1205.15" width="33.71" height="35.83" fill="#FF9779" stroke="#fff" stroke-width="1.4"/>
<rect x="764.79" y="1205.15" width="33.71" height="35.83" fill="#F1E6FF" stroke="#fff" stroke-width="1.4"/>
<rect x="811.50" y="1205.15" width="33.64" height="35.83" fill="#AF87FF" stroke="#fff" stroke-width="1.4"/>
<rect x="845.14" y="1205.15" width="33.64" height="35.83" fill="#FFCCBA" stroke="#fff" stroke-width="1.4"/>
<rect x="878.78" y="1205.15" width="33.64" height="35.83" fill="#9B6FFF" stroke="#fff" stroke-width="1.4"/>
<rect x="912.42" y="1205.15" width="33.64" height="35.83" fill="#BC96FF" stroke="#fff" stroke-width="1.4"/>
<rect x="946.06" y="1205.15" width="33.64" height="35.83" fill="#F6EFFF" stroke="#fff" stroke-width="1.4"/>
<rect x="979.70" y="1205.15" width="33.64" height="35.83" fill="#9B6FFF" stroke="#fff" stroke-width="1.4"/>
<rect x="1013.34" y="1205.15" width="33.64" height="35.83" fill="#FFB299" stroke="#fff" stroke-width="1.4"/>
<rect x="350.00" y="1240.98" width="33.23" height="35.83" fill="#8C5FFF" stroke="#fff" stroke-width="1.4"/>
<rect x="383.23" y="1240.98" width="33.23" height="35.83" fill="#AF87FF" stroke="#fff" stroke-width="1.4"/>
<rect x="416.46" y="1240.98" width="33.23" height="35.83" fill="#A277FF" stroke="#fff" stroke-width="1.4"/>
<rect x="461.40" y="1240.98" width="33.71" height="35.83" fill="#FFE6DC" stroke="#fff" stroke-width="1.4"/>
<rect x="495.11" y="1240.98" width="33.71" height="35.83" fill="#A277FF" stroke="#fff" stroke-width="1.4"/>
<rect x="528.82" y="1240.98" width="33.71" height="35.83" fill="#AF87FF" stroke="#fff" stroke-width="1.4"/>
<rect x="562.53" y="1240.98" width="33.71" height="35.83" fill="#D2B6FF" stroke="#fff" stroke-width="1.4"/>
<rect x="596.24" y="1240.98" width="33.71" height="35.83" fill="#FF8969" stroke="#fff" stroke-width="1.4"/>
<rect x="629.95" y="1240.98" width="33.71" height="35.83" fill="#DDC6FF" stroke="#fff" stroke-width="1.4"/>
<rect x="663.66" y="1240.98" width="33.71" height="35.83" fill="#E7D6FF" stroke="#fff" stroke-width="1.4"/>
<rect x="697.37" y="1240.98" width="33.71" height="35.83" fill="#D2B6FF" stroke="#fff" stroke-width="1.4"/>
<rect x="731.08" y="1240.98" width="33.71" height="35.83" fill="#FFFFFF" stroke="#fff" stroke-width="1.4"/>
<rect x="764.79" y="1240.98" width="33.71" height="35.83" fill="#C7A6FF" stroke="#fff" stroke-width="1.4"/>
<rect x="811.50" y="1240.98" width="33.64" height="35.83" fill="#FF0000" stroke="#fff" stroke-width="1.4"/>
<rect x="845.14" y="1240.98" width="33.64" height="35.83" fill="#CDAEFF" stroke="#fff" stroke-width="1.4"/>
<rect x="878.78" y="1240.98" width="33.64" height="35.83" fill="#FFE9E1" stroke="#fff" stroke-width="1.4"/>
<rect x="912.42" y="1240.98" width="33.64" height="35.83" fill="#BC96FF" stroke="#fff" stroke-width="1.4"/>
<rect x="946.06" y="1240.98" width="33.64" height="35.83" fill="#9B6FFF" stroke="#fff" stroke-width="1.4"/>
<rect x="979.70" y="1240.98" width="33.64" height="35.83" fill="#FFF2EE" stroke="#fff" stroke-width="1.4"/>
<rect x="1013.34" y="1240.98" width="33.64" height="35.83" fill="#FFF5F2" stroke="#fff" stroke-width="1.4"/>
<rect x="350.00" y="1276.81" width="33.23" height="35.83" fill="#FFCCBA" stroke="#fff" stroke-width="1.4"/>
<rect x="383.23" y="1276.81" width="33.23" height="35.83" fill="#FFBFAA" stroke="#fff" stroke-width="1.4"/>
<rect x="416.46" y="1276.81" width="33.23" height="35.83" fill="#FFFFFF" stroke="#fff" stroke-width="1.4"/>
<rect x="461.40" y="1276.81" width="33.71" height="35.83" fill="#8C5FFF" stroke="#fff" stroke-width="1.4"/>
<rect x="495.11" y="1276.81" width="33.71" height="35.83" fill="#BC96FF" stroke="#fff" stroke-width="1.4"/>
<rect x="528.82" y="1276.81" width="33.71" height="35.83" fill="#5D35FF" stroke="#fff" stroke-width="1.4"/>
<rect x="562.53" y="1276.81" width="33.71" height="35.83" fill="#FFF2EE" stroke="#fff" stroke-width="1.4"/>
<rect x="596.24" y="1276.81" width="33.71" height="35.83" fill="#FFF2EE" stroke="#fff" stroke-width="1.4"/>
<rect x="629.95" y="1276.81" width="33.71" height="35.83" fill="#FF5232" stroke="#fff" stroke-width="1.4"/>
<rect x="663.66" y="1276.81" width="33.71" height="35.83" fill="#FFD9CB" stroke="#fff" stroke-width="1.4"/>
<rect x="697.37" y="1276.81" width="33.71" height="35.83" fill="#532DFF" stroke="#fff" stroke-width="1.4"/>
<rect x="731.08" y="1276.81" width="33.71" height="35.83" fill="#D8BEFF" stroke="#fff" stroke-width="1.4"/>
<rect x="764.79" y="1276.81" width="33.71" height="35.83" fill="#C7A6FF" stroke="#fff" stroke-width="1.4"/>
<rect x="811.50" y="1276.81" width="33.64" height="35.83" fill="#AF87FF" stroke="#fff" stroke-width="1.4"/>
<rect x="845.14" y="1276.81" width="33.64" height="35.83" fill="#FFB9A2" stroke="#fff" stroke-width="1.4"/>
<rect x="878.78" y="1276.81" width="33.64" height="35.83" fill="#4725FF" stroke="#fff" stroke-width="1.4"/>
<rect x="912.42" y="1276.81" width="33.64" height="35.83" fill="#E7D6FF" stroke="#fff" stroke-width="1.4"/>
<rect x="946.06" y="1276.81" width="33.64" height="35.83" fill="#FFF9F6" stroke="#fff" stroke-width="1.4"/>
<rect x="979.70" y="1276.81" width="33.64" height="35.83" fill="#DDC6FF" stroke="#fff" stroke-width="1.4"/>
<rect x="1013.34" y="1276.81" width="33.64" height="35.83" fill="#CDAEFF" stroke="#fff" stroke-width="1.4"/>
<rect x="350.00" y="1312.64" width="33.23" height="35.83" fill="#FFFCFB" stroke="#fff" stroke-width="1.4"/>
<rect x="383.23" y="1312.64" width="33.23" height="35.83" fill="#FFB9A2" stroke="#fff" stroke-width="1.4"/>
<rect x="416.46" y="1312.64" width="33.23" height="35.83" fill="#FF0000" stroke="#fff" stroke-width="1.4"/>
<rect x="461.40" y="1312.64" width="33.71" height="35.83" fill="#C29EFF" stroke="#fff" stroke-width="1.4"/>
<rect x="495.11" y="1312.64" width="33.71" height="35.83" fill="#FFD2C3" stroke="#fff" stroke-width="1.4"/>
<rect x="528.82" y="1312.64" width="33.71" height="35.83" fill="#FFF5F2" stroke="#fff" stroke-width="1.4"/>
<rect x="562.53" y="1312.64" width="33.71" height="35.83" fill="#FFECE5" stroke="#fff" stroke-width="1.4"/>
<rect x="596.24" y="1312.64" width="33.71" height="35.83" fill="#A277FF" stroke="#fff" stroke-width="1.4"/>
<rect x="629.95" y="1312.64" width="33.71" height="35.83" fill="#8C5FFF" stroke="#fff" stroke-width="1.4"/>
<rect x="663.66" y="1312.64" width="33.71" height="35.83" fill="#A277FF" stroke="#fff" stroke-width="1.4"/>
<rect x="697.37" y="1312.64" width="33.71" height="35.83" fill="#FAF7FF" stroke="#fff" stroke-width="1.4"/>
<rect x="731.08" y="1312.64" width="33.71" height="35.83" fill="#9B6FFF" stroke="#fff" stroke-width="1.4"/>
<rect x="764.79" y="1312.64" width="33.71" height="35.83" fill="#FF9779" stroke="#fff" stroke-width="1.4"/>
<rect x="811.50" y="1312.64" width="33.64" height="35.83" fill="#AF87FF" stroke="#fff" stroke-width="1.4"/>
<rect x="845.14" y="1312.64" width="33.64" height="35.83" fill="#A97FFF" stroke="#fff" stroke-width="1.4"/>
<rect x="878.78" y="1312.64" width="33.64" height="35.83" fill="#CDAEFF" stroke="#fff" stroke-width="1.4"/>
<rect x="912.42" y="1312.64" width="33.64" height="35.83" fill="#D2B6FF" stroke="#fff" stroke-width="1.4"/>
<rect x="946.06" y="1312.64" width="33.64" height="35.83" fill="#BC96FF" stroke="#fff" stroke-width="1.4"/>
<rect x="979.70" y="1312.64" width="33.64" height="35.83" fill="#BC96FF" stroke="#fff" stroke-width="1.4"/>
<rect x="1013.34" y="1312.64" width="33.64" height="35.83" fill="#AF87FF" stroke="#fff" stroke-width="1.4"/>
<rect x="350.00" y="1348.47" width="33.23" height="35.83" fill="#D8BEFF" stroke="#fff" stroke-width="1.4"/>
<rect x="383.23" y="1348.47" width="33.23" height="35.83" fill="#8C5FFF" stroke="#fff" stroke-width="1.4"/>
<rect x="416.46" y="1348.47" width="33.23" height="35.83" fill="#FFAB91" stroke="#fff" stroke-width="1.4"/>
<rect x="461.40" y="1348.47" width="33.71" height="35.83" fill="#BC96FF" stroke="#fff" stroke-width="1.4"/>
<rect x="495.11" y="1348.47" width="33.71" height="35.83" fill="#ECDEFF" stroke="#fff" stroke-width="1.4"/>
<rect x="528.82" y="1348.47" width="33.71" height="35.83" fill="#BC96FF" stroke="#fff" stroke-width="1.4"/>
<rect x="562.53" y="1348.47" width="33.71" height="35.83" fill="#FFFFFF" stroke="#fff" stroke-width="1.4"/>
<rect x="596.24" y="1348.47" width="33.71" height="35.83" fill="#FF0000" stroke="#fff" stroke-width="1.4"/>
<rect x="629.95" y="1348.47" width="33.71" height="35.83" fill="#A97FFF" stroke="#fff" stroke-width="1.4"/>
<rect x="663.66" y="1348.47" width="33.71" height="35.83" fill="#E7D6FF" stroke="#fff" stroke-width="1.4"/>
<rect x="697.37" y="1348.47" width="33.71" height="35.83" fill="#AF87FF" stroke="#fff" stroke-width="1.4"/>
<rect x="731.08" y="1348.47" width="33.71" height="35.83" fill="#E2CEFF" stroke="#fff" stroke-width="1.4"/>
<rect x="764.79" y="1348.47" width="33.71" height="35.83" fill="#E2CEFF" stroke="#fff" stroke-width="1.4"/>
<rect x="811.50" y="1348.47" width="33.64" height="35.83" fill="#FFD2C3" stroke="#fff" stroke-width="1.4"/>
<rect x="845.14" y="1348.47" width="33.64" height="35.83" fill="#AF87FF" stroke="#fff" stroke-width="1.4"/>
<rect x="878.78" y="1348.47" width="33.64" height="35.83" fill="#C7A6FF" stroke="#fff" stroke-width="1.4"/>
<rect x="912.42" y="1348.47" width="33.64" height="35.83" fill="#FFE2D8" stroke="#fff" stroke-width="1.4"/>
<rect x="946.06" y="1348.47" width="33.64" height="35.83" fill="#A277FF" stroke="#fff" stroke-width="1.4"/>
<rect x="979.70" y="1348.47" width="33.64" height="35.83" fill="#C7A6FF" stroke="#fff" stroke-width="1.4"/>
<rect x="1013.34" y="1348.47" width="33.64" height="35.83" fill="#D8BEFF" stroke="#fff" stroke-width="1.4"/>
<rect x="350.00" y="1384.30" width="33.23" height="35.83" fill="#C29EFF" stroke="#fff" stroke-width="1.4"/>
<rect x="383.23" y="1384.30" width="33.23" height="35.83" fill="#9B6FFF" stroke="#fff" stroke-width="1.4"/>
<rect x="416.46" y="1384.30" width="33.23" height="35.83" fill="#FF6342" stroke="#fff" stroke-width="1.4"/>
<rect x="461.40" y="1384.30" width="33.71" height="35.83" fill="#F1E6FF" stroke="#fff" stroke-width="1.4"/>
<rect x="495.11" y="1384.30" width="33.71" height="35.83" fill="#C7A6FF" stroke="#fff" stroke-width="1.4"/>
<rect x="528.82" y="1384.30" width="33.71" height="35.83" fill="#FFECE5" stroke="#fff" stroke-width="1.4"/>
<rect x="562.53" y="1384.30" width="33.71" height="35.83" fill="#FFF2EE" stroke="#fff" stroke-width="1.4"/>
<rect x="596.24" y="1384.30" width="33.71" height="35.83" fill="#FFBFAA" stroke="#fff" stroke-width="1.4"/>
<rect x="629.95" y="1384.30" width="33.71" height="35.83" fill="#9367FF" stroke="#fff" stroke-width="1.4"/>
<rect x="663.66" y="1384.30" width="33.71" height="35.83" fill="#FF8262" stroke="#fff" stroke-width="1.4"/>
<rect x="697.37" y="1384.30" width="33.71" height="35.83" fill="#4725FF" stroke="#fff" stroke-width="1.4"/>
<rect x="731.08" y="1384.30" width="33.71" height="35.83" fill="#A277FF" stroke="#fff" stroke-width="1.4"/>
<rect x="764.79" y="1384.30" width="33.71" height="35.83" fill="#DDC6FF" stroke="#fff" stroke-width="1.4"/>
<rect x="811.50" y="1384.30" width="33.64" height="35.83" fill="#C7A6FF" stroke="#fff" stroke-width="1.4"/>
<rect x="845.14" y="1384.30" width="33.64" height="35.83" fill="#C29EFF" stroke="#fff" stroke-width="1.4"/>
<rect x="878.78" y="1384.30" width="33.64" height="35.83" fill="#D2B6FF" stroke="#fff" stroke-width="1.4"/>
<rect x="912.42" y="1384.30" width="33.64" height="35.83" fill="#FF9071" stroke="#fff" stroke-width="1.4"/>
<rect x="946.06" y="1384.30" width="33.64" height="35.83" fill="#BC96FF" stroke="#fff" stroke-width="1.4"/>
<rect x="979.70" y="1384.30" width="33.64" height="35.83" fill="#DDC6FF" stroke="#fff" stroke-width="1.4"/>
<rect x="1013.34" y="1384.30" width="33.64" height="35.83" fill="#9B6FFF" stroke="#fff" stroke-width="1.4"/>
<rect x="350.00" y="1420.13" width="33.23" height="35.83" fill="#240FFF" stroke="#fff" stroke-width="1.4"/>
<rect x="383.23" y="1420.13" width="33.23" height="35.83" fill="#AF87FF" stroke="#fff" stroke-width="1.4"/>
<rect x="416.46" y="1420.13" width="33.23" height="35.83" fill="#8C5FFF" stroke="#fff" stroke-width="1.4"/>
<rect x="461.40" y="1420.13" width="33.71" height="35.83" fill="#FFD9CB" stroke="#fff" stroke-width="1.4"/>
<rect x="495.11" y="1420.13" width="33.71" height="35.83" fill="#D8BEFF" stroke="#fff" stroke-width="1.4"/>
<rect x="528.82" y="1420.13" width="33.71" height="35.83" fill="#BC96FF" stroke="#fff" stroke-width="1.4"/>
<rect x="562.53" y="1420.13" width="33.71" height="35.83" fill="#D2B6FF" stroke="#fff" stroke-width="1.4"/>
<rect x="596.24" y="1420.13" width="33.71" height="35.83" fill="#FFECE5" stroke="#fff" stroke-width="1.4"/>
<rect x="629.95" y="1420.13" width="33.71" height="35.83" fill="#E7D6FF" stroke="#fff" stroke-width="1.4"/>
<rect x="663.66" y="1420.13" width="33.71" height="35.83" fill="#FFB9A2" stroke="#fff" stroke-width="1.4"/>
<rect x="697.37" y="1420.13" width="33.71" height="35.83" fill="#8C5FFF" stroke="#fff" stroke-width="1.4"/>
<rect x="731.08" y="1420.13" width="33.71" height="35.83" fill="#FF9E81" stroke="#fff" stroke-width="1.4"/>
<rect x="764.79" y="1420.13" width="33.71" height="35.83" fill="#FFE6DC" stroke="#fff" stroke-width="1.4"/>
<rect x="811.50" y="1420.13" width="33.64" height="35.83" fill="#FF6342" stroke="#fff" stroke-width="1.4"/>
<rect x="845.14" y="1420.13" width="33.64" height="35.83" fill="#DDC6FF" stroke="#fff" stroke-width="1.4"/>
<rect x="878.78" y="1420.13" width="33.64" height="35.83" fill="#FFD2C3" stroke="#fff" stroke-width="1.4"/>
<rect x="912.42" y="1420.13" width="33.64" height="35.83" fill="#9B6FFF" stroke="#fff" stroke-width="1.4"/>
<rect x="946.06" y="1420.13" width="33.64" height="35.83" fill="#A97FFF" stroke="#fff" stroke-width="1.4"/>
<rect x="979.70" y="1420.13" width="33.64" height="35.83" fill="#A277FF" stroke="#fff" stroke-width="1.4"/>
<rect x="1013.34" y="1420.13" width="33.64" height="35.83" fill="#FFE6DC" stroke="#fff" stroke-width="1.4"/>
<rect x="350.00" y="1455.96" width="33.23" height="35.83" fill="#A277FF" stroke="#fff" stroke-width="1.4"/>
<rect x="383.23" y="1455.96" width="33.23" height="35.83" fill="#B68FFF" stroke="#fff" stroke-width="1.4"/>
<rect x="416.46" y="1455.96" width="33.23" height="35.83" fill="#AF87FF" stroke="#fff" stroke-width="1.4"/>
<rect x="461.40" y="1455.96" width="33.71" height="35.83" fill="#FF9071" stroke="#fff" stroke-width="1.4"/>
<rect x="495.11" y="1455.96" width="33.71" height="35.83" fill="#C29EFF" stroke="#fff" stroke-width="1.4"/>
<rect x="528.82" y="1455.96" width="33.71" height="35.83" fill="#C7A6FF" stroke="#fff" stroke-width="1.4"/>
<rect x="562.53" y="1455.96" width="33.71" height="35.83" fill="#BC96FF" stroke="#fff" stroke-width="1.4"/>
<rect x="596.24" y="1455.96" width="33.71" height="35.83" fill="#FF8969" stroke="#fff" stroke-width="1.4"/>
<rect x="629.95" y="1455.96" width="33.71" height="35.83" fill="#FFF5F2" stroke="#fff" stroke-width="1.4"/>
<rect x="663.66" y="1455.96" width="33.71" height="35.83" fill="#E7D6FF" stroke="#fff" stroke-width="1.4"/>
<rect x="697.37" y="1455.96" width="33.71" height="35.83" fill="#AF87FF" stroke="#fff" stroke-width="1.4"/>
<rect x="731.08" y="1455.96" width="33.71" height="35.83" fill="#D2B6FF" stroke="#fff" stroke-width="1.4"/>
<rect x="764.79" y="1455.96" width="33.71" height="35.83" fill="#AF87FF" stroke="#fff" stroke-width="1.4"/>
<rect x="811.50" y="1455.96" width="33.64" height="35.83" fill="#FFAB91" stroke="#fff" stroke-width="1.4"/>
<rect x="845.14" y="1455.96" width="33.64" height="35.83" fill="#AF87FF" stroke="#fff" stroke-width="1.4"/>
<rect x="878.78" y="1455.96" width="33.64" height="35.83" fill="#F1E6FF" stroke="#fff" stroke-width="1.4"/>
<rect x="912.42" y="1455.96" width="33.64" height="35.83" fill="#AF87FF" stroke="#fff" stroke-width="1.4"/>
<rect x="946.06" y="1455.96" width="33.64" height="35.83" fill="#A97FFF" stroke="#fff" stroke-width="1.4"/>
<rect x="979.70" y="1455.96" width="33.64" height="35.83" fill="#FF0000" stroke="#fff" stroke-width="1.4"/>
<rect x="1013.34" y="1455.96" width="33.64" height="35.83" fill="#BC96FF" stroke="#fff" stroke-width="1.4"/>
<text x="342.00" y="1048.00" font-size="27" font-weight="bold" font-family="'Liberation Sans', Arial, sans-serif" text-anchor="end">NAIVE</text>
<text x="342.00" y="1084.90" font-size="27" font-weight="bold" font-family="'Liberation Sans', Arial, sans-serif" text-anchor="end">CM CXCR3+</text>
<text x="342.00" y="1118.80" font-size="27" font-weight="bold" font-family="'Liberation Sans', Arial, sans-serif" text-anchor="end">CM Th2 CXCR3–</text>
<text x="342.00" y="1155.30" font-size="27" font-weight="bold" font-family="'Liberation Sans', Arial, sans-serif" text-anchor="end">CM Th2 CXCR3+</text>
<text x="342.00" y="1190.40" font-size="27" font-weight="bold" font-family="'Liberation Sans', Arial, sans-serif" text-anchor="end">TM</text>
<text x="342.00" y="1226.90" font-size="27" font-weight="bold" font-family="'Liberation Sans', Arial, sans-serif" text-anchor="end">EM</text>
<text x="342.00" y="1266.60" font-size="27" font-weight="bold" font-family="'Liberation Sans', Arial, sans-serif" text-anchor="end">EM activated</text>
<text x="342.00" y="1298.70" font-size="27" font-weight="bold" font-family="'Liberation Sans', Arial, sans-serif" text-anchor="end">EM CD57+</text>
<text x="342.00" y="1335.20" font-size="27" font-weight="bold" font-family="'Liberation Sans', Arial, sans-serif" text-anchor="end">EMRA CXCR3+</text>
<text x="342.00" y="1370.00" font-size="27" font-weight="bold" font-family="'Liberation Sans', Arial, sans-serif" text-anchor="end">EMRA CD57–</text>
<text x="342.00" y="1406.30" font-size="27" font-weight="bold" font-family="'Liberation Sans', Arial, sans-serif" text-anchor="end">EMRA CD57+</text>
<text x="342.00" y="1446.70" font-size="27" font-weight="bold" font-family="'Liberation Sans', Arial, sans-serif" text-anchor="end">EMRA Th2</text>
<text x="342.00" y="1479.60" font-size="27" font-weight="bold" font-family="'Liberation Sans', Arial, sans-serif" text-anchor="end">Treg</text>
<text transform="translate(373.10,1494.20) rotate(-90)" x="0" y="0" font-size="36" font-family="'Liberation Sans', Arial, sans-serif" text-anchor="end" textLength="105.00" lengthAdjust="spacingAndGlyphs">CTR-1</text>
<text transform="translate(406.90,1494.20) rotate(-90)" x="0" y="0" font-size="36" font-family="'Liberation Sans', Arial, sans-serif" text-anchor="end" textLength="105.00" lengthAdjust="spacingAndGlyphs">CTR-2</text>
<text transform="translate(440.70,1494.20) rotate(-90)" x="0" y="0" font-size="36" font-family="'Liberation Sans', Arial, sans-serif" text-anchor="end" textLength="105.00" lengthAdjust="spacingAndGlyphs">CTR-3</text>
<text transform="translate(488.10,1494.20) rotate(-90)" x="0" y="0" font-size="36" font-family="'Liberation Sans', Arial, sans-serif" text-anchor="end" textLength="120.50" lengthAdjust="spacingAndGlyphs">PN-014</text>
<text transform="translate(522.23,1494.20) rotate(-90)" x="0" y="0" font-size="36" font-family="'Liberation Sans', Arial, sans-serif" text-anchor="end" textLength="120.50" lengthAdjust="spacingAndGlyphs">PN-024</text>
<text transform="translate(556.36,1494.20) rotate(-90)" x="0" y="0" font-size="36" font-family="'Liberation Sans', Arial, sans-serif" text-anchor="end" textLength="120.50" lengthAdjust="spacingAndGlyphs">PN-025</text>
<text transform="translate(590.49,1494.20) rotate(-90)" x="0" y="0" font-size="36" font-family="'Liberation Sans', Arial, sans-serif" text-anchor="end" textLength="120.50" lengthAdjust="spacingAndGlyphs">PN-026</text>
<text transform="translate(624.62,1494.20) rotate(-90)" x="0" y="0" font-size="36" font-family="'Liberation Sans', Arial, sans-serif" text-anchor="end" textLength="120.50" lengthAdjust="spacingAndGlyphs">PN-027</text>
<text transform="translate(658.75,1494.20) rotate(-90)" x="0" y="0" font-size="36" font-family="'Liberation Sans', Arial, sans-serif" text-anchor="end" textLength="120.50" lengthAdjust="spacingAndGlyphs">PN-003</text>
<text transform="translate(692.88,1494.20) rotate(-90)" x="0" y="0" font-size="36" font-family="'Liberation Sans', Arial, sans-serif" text-anchor="end" textLength="120.50" lengthAdjust="spacingAndGlyphs">PN-006</text>
<text transform="translate(727.01,1494.20) rotate(-90)" x="0" y="0" font-size="36" font-family="'Liberation Sans', Arial, sans-serif" text-anchor="end" textLength="120.50" lengthAdjust="spacingAndGlyphs">PN-008</text>
<text transform="translate(761.14,1494.20) rotate(-90)" x="0" y="0" font-size="36" font-family="'Liberation Sans', Arial, sans-serif" text-anchor="end" textLength="120.50" lengthAdjust="spacingAndGlyphs">PN-001</text>
<text transform="translate(795.27,1494.20) rotate(-90)" x="0" y="0" font-size="36" font-family="'Liberation Sans', Arial, sans-serif" text-anchor="end" textLength="120.50" lengthAdjust="spacingAndGlyphs">PN-028</text>
<text transform="translate(840.90,1494.20) rotate(-90)" x="0" y="0" font-size="36" font-family="'Liberation Sans', Arial, sans-serif" text-anchor="end" textLength="117.00" lengthAdjust="spacingAndGlyphs">PP-113</text>
<text transform="translate(872.30,1494.20) rotate(-90)" x="0" y="0" font-size="36" font-family="'Liberation Sans', Arial, sans-serif" text-anchor="end" textLength="117.00" lengthAdjust="spacingAndGlyphs">PP-151</text>
<text transform="translate(911.30,1494.20) rotate(-90)" x="0" y="0" font-size="36" font-family="'Liberation Sans', Arial, sans-serif" text-anchor="end" textLength="117.00" lengthAdjust="spacingAndGlyphs">PP-155</text>
<text transform="translate(944.90,1494.20) rotate(-90)" x="0" y="0" font-size="36" font-family="'Liberation Sans', Arial, sans-serif" text-anchor="end" textLength="117.00" lengthAdjust="spacingAndGlyphs">PP-177</text>
<text transform="translate(978.60,1494.20) rotate(-90)" x="0" y="0" font-size="36" font-family="'Liberation Sans', Arial, sans-serif" text-anchor="end" textLength="117.00" lengthAdjust="spacingAndGlyphs">PP-178</text>
<text transform="translate(1011.70,1494.20) rotate(-90)" x="0" y="0" font-size="36" font-family="'Liberation Sans', Arial, sans-serif" text-anchor="end" textLength="117.00" lengthAdjust="spacingAndGlyphs">PP-179</text>
<text transform="translate(1045.30,1494.20) rotate(-90)" x="0" y="0" font-size="36" font-family="'Liberation Sans', Arial, sans-serif" text-anchor="end" textLength="117.00" lengthAdjust="spacingAndGlyphs">PP-072</text>
<rect x="1062.20" y="1027.80" width="11.10" height="33.20" fill="#D3D3D3" />
<rect x="1198.80" y="1027.80" width="11.10" height="33.20" fill="#D3D3D3" />
<rect x="1335.60" y="1027.80" width="12.00" height="33.20" fill="#D3D3D3" />
<text x="1081.00" y="1050.20" font-size="29.8" font-family="'DejaVu Sans', 'Liberation Sans', sans-serif" textLength="115.50" lengthAdjust="spacingAndGlyphs">3.7e−01</text>
<text x="1214.60" y="1050.20" font-size="29.8" font-family="'DejaVu Sans', 'Liberation Sans', sans-serif" textLength="120.00" lengthAdjust="spacingAndGlyphs">6.5e−01</text>
<text x="1354.50" y="1056.00" font-size="29.8" font-family="'DejaVu Sans', 'Liberation Sans', sans-serif" textLength="113.50" lengthAdjust="spacingAndGlyphs">9.5e−01</text>
<rect x="1062.20" y="1063.70" width="11.10" height="33.20" fill="#90EE90" />
<rect x="1198.80" y="1063.70" width="11.10" height="33.20" fill="#90EE90" />
<rect x="1335.60" y="1063.70" width="12.00" height="33.20" fill="#D3D3D3" />
<text x="1081.00" y="1086.13" font-size="29.8" font-family="'DejaVu Sans', 'Liberation Sans', sans-serif" textLength="115.50" lengthAdjust="spacingAndGlyphs">3.1e−02</text>
<text x="1214.60" y="1086.13" font-size="29.8" font-family="'DejaVu Sans', 'Liberation Sans', sans-serif" textLength="120.00" lengthAdjust="spacingAndGlyphs">1.9e−02</text>
<text x="1354.50" y="1091.93" font-size="29.8" font-family="'DejaVu Sans', 'Liberation Sans', sans-serif" textLength="118.50" lengthAdjust="spacingAndGlyphs">9.5e−01</text>
<rect x="1062.20" y="1099.60" width="11.10" height="33.20" fill="#D3D3D3" />
<rect x="1198.80" y="1099.60" width="11.10" height="33.20" fill="#D3D3D3" />
<rect x="1335.60" y="1099.60" width="12.00" height="33.20" fill="#D3D3D3" />
<text x="1081.00" y="1122.06" font-size="29.8" font-family="'DejaVu Sans', 'Liberation Sans', sans-serif" textLength="115.50" lengthAdjust="spacingAndGlyphs">9.0e−01</text>
<text x="1214.60" y="1122.06" font-size="29.8" font-family="'DejaVu Sans', 'Liberation Sans', sans-serif" textLength="120.00" lengthAdjust="spacingAndGlyphs">7.7e−01</text>
<text x="1354.50" y="1127.86" font-size="29.8" font-family="'DejaVu Sans', 'Liberation Sans', sans-serif" textLength="118.50" lengthAdjust="spacingAndGlyphs">9.5e−01</text>
<rect x="1062.20" y="1135.50" width="11.10" height="33.20" fill="#90EE90" />
<rect x="1198.80" y="1135.50" width="11.10" height="33.20" fill="#D3D3D3" />
<rect x="1335.60" y="1135.50" width="12.00" height="33.20" fill="#D3D3D3" />
<text x="1081.00" y="1157.99" font-size="29.8" font-family="'DejaVu Sans', 'Liberation Sans', sans-serif" textLength="115.50" lengthAdjust="spacingAndGlyphs">3.1e−02</text>
<text x="1214.60" y="1157.99" font-size="29.8" font-family="'DejaVu Sans', 'Liberation Sans', sans-serif" textLength="114.50" lengthAdjust="spacingAndGlyphs">2.2e−01</text>
<text x="1354.50" y="1163.79" font-size="29.8" font-family="'DejaVu Sans', 'Liberation Sans', sans-serif" textLength="118.50" lengthAdjust="spacingAndGlyphs">9.5e−01</text>
<rect x="1062.20" y="1171.40" width="11.10" height="33.20" fill="#D3D3D3" />
<rect x="1198.80" y="1171.40" width="11.10" height="33.20" fill="#D3D3D3" />
<rect x="1335.60" y="1171.40" width="12.00" height="33.20" fill="#D3D3D3" />
<text x="1081.00" y="1193.92" font-size="29.8" font-family="'DejaVu Sans', 'Liberation Sans', sans-serif" textLength="115.50" lengthAdjust="spacingAndGlyphs">8.4e−01</text>
<text x="1214.60" y="1193.92" font-size="29.8" font-family="'DejaVu Sans', 'Liberation Sans', sans-serif" textLength="114.50" lengthAdjust="spacingAndGlyphs">6.5e−01</text>
<text x="1354.50" y="1199.72" font-size="29.8" font-family="'DejaVu Sans', 'Liberation Sans', sans-serif" textLength="118.50" lengthAdjust="spacingAndGlyphs">7.3e−01</text>
<rect x="1062.20" y="1207.30" width="11.10" height="33.20" fill="#D3D3D3" />
<rect x="1198.80" y="1207.30" width="11.10" height="33.20" fill="#D3D3D3" />
<rect x="1335.60" y="1207.30" width="12.00" height="33.20" fill="#D3D3D3" />
<text x="1081.00" y="1229.85" font-size="29.8" font-family="'DejaVu Sans', 'Liberation Sans', sans-serif" textLength="115.50" lengthAdjust="spacingAndGlyphs">9.9e−01</text>
<text x="1214.60" y="1229.85" font-size="29.8" font-family="'DejaVu Sans', 'Liberation Sans', sans-serif" textLength="114.50" lengthAdjust="spacingAndGlyphs">9.0e−01</text>
<text x="1354.50" y="1235.65" font-size="29.8" font-family="'DejaVu Sans', 'Liberation Sans', sans-serif" textLength="118.50" lengthAdjust="spacingAndGlyphs">9.5e−01</text>
<rect x="1062.20" y="1243.20" width="11.10" height="33.20" fill="#90EE90" />
<rect x="1198.80" y="1243.20" width="11.10" height="33.20" fill="#90EE90" />
<rect x="1335.60" y="1243.20" width="12.00" height="33.20" fill="#D3D3D3" />
<text x="1081.00" y="1265.78" font-size="29.8" font-family="'DejaVu Sans', 'Liberation Sans', sans-serif" textLength="115.50" lengthAdjust="spacingAndGlyphs">3.1e−02</text>
<text x="1214.60" y="1265.78" font-size="29.8" font-family="'DejaVu Sans', 'Liberation Sans', sans-serif" textLength="114.50" lengthAdjust="spacingAndGlyphs">1.9e−02</text>
<text x="1354.50" y="1271.58" font-size="29.8" font-family="'DejaVu Sans', 'Liberation Sans', sans-serif" textLength="118.50" lengthAdjust="spacingAndGlyphs">9.5e−01</text>
<rect x="1062.20" y="1279.10" width="11.10" height="33.20" fill="#D3D3D3" />
<rect x="1198.80" y="1279.10" width="11.10" height="33.20" fill="#D3D3D3" />
<rect x="1335.60" y="1279.10" width="12.00" height="33.20" fill="#D3D3D3" />
<text x="1081.00" y="1301.71" font-size="29.8" font-family="'DejaVu Sans', 'Liberation Sans', sans-serif" textLength="115.50" lengthAdjust="spacingAndGlyphs">3.2e−01</text>
<text x="1214.60" y="1301.71" font-size="29.8" font-family="'DejaVu Sans', 'Liberation Sans', sans-serif" textLength="114.50" lengthAdjust="spacingAndGlyphs">4.1e−01</text>
<text x="1354.50" y="1307.51" font-size="29.8" font-family="'DejaVu Sans', 'Liberation Sans', sans-serif" textLength="118.50" lengthAdjust="spacingAndGlyphs">9.5e−01</text>
<rect x="1062.20" y="1315.00" width="11.10" height="33.20" fill="#90EE90" />
<rect x="1198.80" y="1315.00" width="11.10" height="33.20" fill="#90EE90" />
<rect x="1335.60" y="1315.00" width="12.00" height="33.20" fill="#D3D3D3" />
<text x="1081.00" y="1337.64" font-size="29.8" font-family="'DejaVu Sans', 'Liberation Sans', sans-serif" textLength="115.50" lengthAdjust="spacingAndGlyphs">2.4e−02</text>
<text x="1214.60" y="1337.64" font-size="29.8" font-family="'DejaVu Sans', 'Liberation Sans', sans-serif" textLength="114.50" lengthAdjust="spacingAndGlyphs">3.7e−03</text>
<text x="1354.50" y="1343.44" font-size="29.8" font-family="'DejaVu Sans', 'Liberation Sans', sans-serif" textLength="118.50" lengthAdjust="spacingAndGlyphs">9.5e−01</text>
<rect x="1062.20" y="1350.90" width="11.10" height="33.20" fill="#D3D3D3" />
<rect x="1198.80" y="1350.90" width="11.10" height="33.20" fill="#D3D3D3" />
<rect x="1335.60" y="1350.90" width="12.00" height="33.20" fill="#D3D3D3" />
<text x="1081.00" y="1373.57" font-size="29.8" font-family="'DejaVu Sans', 'Liberation Sans', sans-serif" textLength="115.50" lengthAdjust="spacingAndGlyphs">9.5e−01</text>
<text x="1214.60" y="1373.57" font-size="29.8" font-family="'DejaVu Sans', 'Liberation Sans', sans-serif" textLength="114.50" lengthAdjust="spacingAndGlyphs">9.0e−01</text>
<text x="1354.50" y="1379.37" font-size="29.8" font-family="'DejaVu Sans', 'Liberation Sans', sans-serif" textLength="118.50" lengthAdjust="spacingAndGlyphs">9.5e−01</text>
<rect x="1062.20" y="1386.80" width="11.10" height="33.20" fill="#D3D3D3" />
<rect x="1198.80" y="1386.80" width="11.10" height="33.20" fill="#D3D3D3" />
<rect x="1335.60" y="1386.80" width="12.00" height="33.20" fill="#D3D3D3" />
<text x="1081.00" y="1409.50" font-size="29.8" font-family="'DejaVu Sans', 'Liberation Sans', sans-serif" textLength="115.50" lengthAdjust="spacingAndGlyphs">9.5e−01</text>
<text x="1214.60" y="1409.50" font-size="29.8" font-family="'DejaVu Sans', 'Liberation Sans', sans-serif" textLength="114.50" lengthAdjust="spacingAndGlyphs">9.0e−01</text>
<text x="1354.50" y="1415.30" font-size="29.8" font-family="'DejaVu Sans', 'Liberation Sans', sans-serif" textLength="118.50" lengthAdjust="spacingAndGlyphs">9.5e−01</text>
<rect x="1062.20" y="1422.70" width="11.10" height="33.20" fill="#90EE90" />
<rect x="1198.80" y="1422.70" width="11.10" height="33.20" fill="#90EE90" />
<rect x="1335.60" y="1422.70" width="12.00" height="33.20" fill="#D3D3D3" />
<text x="1081.00" y="1445.43" font-size="29.8" font-family="'DejaVu Sans', 'Liberation Sans', sans-serif" textLength="115.50" lengthAdjust="spacingAndGlyphs">1.4e−02</text>
<text x="1214.60" y="1445.43" font-size="29.8" font-family="'DejaVu Sans', 'Liberation Sans', sans-serif" textLength="114.50" lengthAdjust="spacingAndGlyphs">1.9e−02</text>
<text x="1354.50" y="1451.23" font-size="29.8" font-family="'DejaVu Sans', 'Liberation Sans', sans-serif" textLength="118.50" lengthAdjust="spacingAndGlyphs">9.5e−01</text>
<rect x="1062.20" y="1458.60" width="11.10" height="33.20" fill="#D3D3D3" />
<rect x="1198.80" y="1458.60" width="11.10" height="33.20" fill="#D3D3D3" />
<rect x="1335.60" y="1458.60" width="12.00" height="33.20" fill="#D3D3D3" />
<text x="1081.00" y="1481.36" font-size="29.8" font-family="'DejaVu Sans', 'Liberation Sans', sans-serif" textLength="115.50" lengthAdjust="spacingAndGlyphs">1.3e−01</text>
<text x="1214.60" y="1481.36" font-size="29.8" font-family="'DejaVu Sans', 'Liberation Sans', sans-serif" textLength="114.50" lengthAdjust="spacingAndGlyphs">1.8e−01</text>
<text x="1354.50" y="1487.16" font-size="29.8" font-family="'DejaVu Sans', 'Liberation Sans', sans-serif" textLength="118.50" lengthAdjust="spacingAndGlyphs">9.5e−01</text>
<text transform="translate(1069.90,975.10) rotate(-45)" x="0" y="0" font-size="26" font-weight="bold" font-family="'Liberation Sans', Arial, sans-serif" textLength="127.00" lengthAdjust="spacingAndGlyphs">CTR vs. PN</text>
<text transform="translate(1206.50,977.90) rotate(-45)" x="0" y="0" font-size="26" font-weight="bold" font-family="'Liberation Sans', Arial, sans-serif" textLength="119.50" lengthAdjust="spacingAndGlyphs">CTR vs. PP</text>
<text transform="translate(1343.00,978.80) rotate(-45)" x="0" y="0" font-size="26" font-weight="bold" font-family="'Liberation Sans', Arial, sans-serif" textLength="108.50" lengthAdjust="spacingAndGlyphs">PN vs. PP</text>
<text x="1114.90" y="1562.90" font-size="29.5" font-weight="bold" font-family="'Liberation Sans', Arial, sans-serif" textLength="138.10" lengthAdjust="spacingAndGlyphs">Condition</text>
<rect x="1114.50" y="1574.20" width="21.70" height="20.50" fill="#F8766D" />
<text x="1143.40" y="1592.30" font-size="23.5" font-family="'Liberation Sans', Arial, sans-serif" textLength="51.80" lengthAdjust="spacingAndGlyphs">CTR</text>
<rect x="1114.50" y="1597.10" width="21.70" height="20.50" fill="#00BA38" />
<text x="1143.40" y="1615.20" font-size="23.5" font-family="'Liberation Sans', Arial, sans-serif" textLength="34.20" lengthAdjust="spacingAndGlyphs">PN</text>
<rect x="1114.50" y="1620.00" width="21.70" height="20.50" fill="#619CFF" />
<text x="1143.40" y="1638.10" font-size="23.5" font-family="'Liberation Sans', Arial, sans-serif" textLength="32.50" lengthAdjust="spacingAndGlyphs">PP</text>
<text x="1308.40" y="1561.00" font-size="29.5" font-weight="bold" font-family="'Liberation Sans', Arial, sans-serif" textLength="317.50" lengthAdjust="spacingAndGlyphs" xml:space="preserve">Normalized  frequency</text>
<defs><linearGradient id="hmgrad" x1="0" x2="1" y1="0" y2="0">
<stop offset="0.0000" stop-color="#0000FF"/>
<stop offset="0.0167" stop-color="#0000FF"/>
<stop offset="0.0333" stop-color="#0000FF"/>
<stop offset="0.0500" stop-color="#0000FF"/>
<stop offset="0.0667" stop-color="#1E0BFF"/>
<stop offset="0.0833" stop-color="#3C1DFF"/>
<stop offset="0.1000" stop-color="#4F2AFF"/>
<stop offset="0.1167" stop-color="#5E35FF"/>
<stop offset="0.1333" stop-color="#6B40FF"/>
<stop offset="0.1500" stop-color="#764AFF"/>
<stop offset="0.1667" stop-color="#8054FF"/>
<stop offset="0.1833" stop-color="#8A5DFF"/>
<stop offset="0.2000" stop-color="#9366FF"/>
<stop offset="0.2167" stop-color="#9C70FF"/>
<stop offset="0.2333" stop-color="#A479FF"/>
<stop offset="0.2500" stop-color="#AC82FF"/>
<stop offset="0.2667" stop-color="#B38BFF"/>
<stop offset="0.2833" stop-color="#BA95FF"/>
<stop offset="0.3000" stop-color="#C19EFF"/>
<stop offset="0.3167" stop-color="#C8A7FF"/>
<stop offset="0.3333" stop-color="#CEB0FF"/>
<stop offset="0.3500" stop-color="#D5BAFF"/>
<stop offset="0.3667" stop-color="#DBC3FF"/>
<stop offset="0.3833" stop-color="#E1CCFF"/>
<stop offset="0.4000" stop-color="#E7D6FF"/>
<stop offset="0.4167" stop-color="#EDDFFF"/>
<stop offset="0.4333" stop-color="#F2E8FF"/>
<stop offset="0.4500" stop-color="#F8F2FF"/>
<stop offset="0.4667" stop-color="#FDFBFF"/>
<stop offset="0.4833" stop-color="#FFFAF9"/>
<stop offset="0.5000" stop-color="#FFF3EE"/>
<stop offset="0.5167" stop-color="#FFEBE4"/>
<stop offset="0.5333" stop-color="#FFE4DA"/>
<stop offset="0.5500" stop-color="#FFDCD0"/>
<stop offset="0.5667" stop-color="#FFD4C5"/>
<stop offset="0.5833" stop-color="#FFCDBB"/>
<stop offset="0.6000" stop-color="#FFC5B2"/>
<stop offset="0.6167" stop-color="#FFBDA8"/>
<stop offset="0.6333" stop-color="#FFB69E"/>
<stop offset="0.6500" stop-color="#FFAE94"/>
<stop offset="0.6667" stop-color="#FFA68B"/>
<stop offset="0.6833" stop-color="#FF9E81"/>
<stop offset="0.7000" stop-color="#FF9678"/>
<stop offset="0.7167" stop-color="#FF8D6E"/>
<stop offset="0.7333" stop-color="#FF8565"/>
<stop offset="0.7500" stop-color="#FF7C5B"/>
<stop offset="0.7667" stop-color="#FF7352"/>
<stop offset="0.7833" stop-color="#FF6A49"/>
<stop offset="0.8000" stop-color="#FF613F"/>
<stop offset="0.8167" stop-color="#FF5636"/>
<stop offset="0.8333" stop-color="#FF4B2C"/>
<stop offset="0.8500" stop-color="#FF3E22"/>
<stop offset="0.8667" stop-color="#FF2F17"/>
<stop offset="0.8833" stop-color="#FF1A09"/>
<stop offset="0.9000" stop-color="#FF0000"/>
<stop offset="0.9167" stop-color="#FF0000"/>
<stop offset="0.9333" stop-color="#FF0000"/>
<stop offset="0.9500" stop-color="#FF0000"/>
<stop offset="0.9667" stop-color="#FF0000"/>
<stop offset="0.9833" stop-color="#FF0000"/>
<stop offset="1.0000" stop-color="#FF0000"/>
</linearGradient></defs>
<rect x="1338.60" y="1570.10" width="266.20" height="30.10" fill="url(#hmgrad)" />
<line x1="1367.60" y1="1570.10" x2="1367.60" y2="1575.70" stroke="#fff" stroke-width="1.1" />
<line x1="1367.60" y1="1588.00" x2="1367.60" y2="1593.20" stroke="#fff" stroke-width="1.1" />
<line x1="1393.40" y1="1570.10" x2="1393.40" y2="1575.70" stroke="#fff" stroke-width="1.1" />
<line x1="1393.40" y1="1588.00" x2="1393.40" y2="1593.20" stroke="#fff" stroke-width="1.1" />
<line x1="1419.60" y1="1570.10" x2="1419.60" y2="1575.70" stroke="#fff" stroke-width="1.1" />
<line x1="1419.60" y1="1588.00" x2="1419.60" y2="1593.20" stroke="#fff" stroke-width="1.1" />
<line x1="1445.70" y1="1570.10" x2="1445.70" y2="1575.70" stroke="#fff" stroke-width="1.1" />
<line x1="1445.70" y1="1588.00" x2="1445.70" y2="1593.20" stroke="#fff" stroke-width="1.1" />
<line x1="1471.90" y1="1570.10" x2="1471.90" y2="1575.70" stroke="#fff" stroke-width="1.1" />
<line x1="1471.90" y1="1588.00" x2="1471.90" y2="1593.20" stroke="#fff" stroke-width="1.1" />
<line x1="1498.10" y1="1570.10" x2="1498.10" y2="1575.70" stroke="#fff" stroke-width="1.1" />
<line x1="1498.10" y1="1588.00" x2="1498.10" y2="1593.20" stroke="#fff" stroke-width="1.1" />
<text x="1329.30" y="1633.40" font-size="30" font-family="'Liberation Sans', Arial, sans-serif" textLength="30.50" lengthAdjust="spacingAndGlyphs">-3</text>
<text x="1371.50" y="1633.40" font-size="30" font-family="'Liberation Sans', Arial, sans-serif" textLength="30.50" lengthAdjust="spacingAndGlyphs">-2</text>
<text x="1414.90" y="1633.40" font-size="30" font-family="'Liberation Sans', Arial, sans-serif" textLength="25.70" lengthAdjust="spacingAndGlyphs">-1</text>
<text x="1465.65" y="1633.40" font-size="30" font-family="'Liberation Sans', Arial, sans-serif" text-anchor="middle">0</text>
<text x="1510.20" y="1633.40" font-size="30" font-family="'Liberation Sans', Arial, sans-serif" text-anchor="middle">1</text>
<text x="1556.85" y="1633.40" font-size="30" font-family="'Liberation Sans', Arial, sans-serif" text-anchor="middle">2</text>
<text x="1603.85" y="1633.40" font-size="30" font-family="'Liberation Sans', Arial, sans-serif" text-anchor="middle">3</text>
<text x="1687.40" y="1562.00" font-size="29.5" font-weight="bold" font-family="'Liberation Sans', Arial, sans-serif" textLength="151.70" lengthAdjust="spacingAndGlyphs">Significant</text>
<rect x="1687.40" y="1585.90" width="20.70" height="19.50" fill="#D3D3D3" />
<rect x="1687.40" y="1608.30" width="20.70" height="20.70" fill="#90EE90" />
<text x="1716.20" y="1601.70" font-size="25" font-family="'Liberation Sans', Arial, sans-serif">No</text>
<text x="1716.20" y="1625.00" font-size="25" font-family="'Liberation Sans', Arial, sans-serif">Yes</text>
<text x="-2.00" y="1698.40" font-size="61" font-family="'Liberation Sans', Arial, sans-serif" textLength="37.00" lengthAdjust="spacingAndGlyphs" stroke="#000" stroke-width="0.9">C</text>
<line x1="123.13" y1="1781.93" x2="123.13" y2="1956.75" stroke="#000" stroke-width="2.8" />
<line x1="111.21" y1="1955.55" x2="382.85" y2="1955.55" stroke="#000" stroke-width="2.8" />
<line x1="111.21" y1="1783.13" x2="123.13" y2="1783.13" stroke="#000" stroke-width="2.8" />
<line x1="111.21" y1="1826.87" x2="123.13" y2="1826.87" stroke="#000" stroke-width="2.8" />
<line x1="111.21" y1="1869.71" x2="123.13" y2="1869.71" stroke="#000" stroke-width="2.8" />
<line x1="111.21" y1="1912.72" x2="123.13" y2="1912.72" stroke="#000" stroke-width="2.8" />
<line x1="111.21" y1="1955.55" x2="123.13" y2="1955.55" stroke="#000" stroke-width="2.8" />
<text x="105.00" y="1792.63" font-size="25.5" font-weight="bold" font-family="'Liberation Sans', Arial, sans-serif" text-anchor="end">80</text>
<text x="105.00" y="1836.37" font-size="25.5" font-weight="bold" font-family="'Liberation Sans', Arial, sans-serif" text-anchor="end">60</text>
<text x="105.00" y="1879.21" font-size="25.5" font-weight="bold" font-family="'Liberation Sans', Arial, sans-serif" text-anchor="end">40</text>
<text x="105.00" y="1922.22" font-size="25.5" font-weight="bold" font-family="'Liberation Sans', Arial, sans-serif" text-anchor="end">20</text>
<text x="105.00" y="1965.05" font-size="25.5" font-weight="bold" font-family="'Liberation Sans', Arial, sans-serif" text-anchor="end">0</text>
<text transform="translate(70.30,1966.00) rotate(-90)" x="0" y="0" font-size="34" font-weight="bold" font-family="'Liberation Serif', 'Times New Roman', serif" textLength="193.50" lengthAdjust="spacingAndGlyphs">CD8 NAIVE</text>
<line x1="149.16" y1="1866.09" x2="200.85" y2="1866.09" stroke="#000" stroke-width="2.6" />
<line x1="226.51" y1="1887.42" x2="278.02" y2="1887.42" stroke="#000" stroke-width="2.6" />
<line x1="303.87" y1="1853.44" x2="355.20" y2="1853.44" stroke="#000" stroke-width="2.6" />
<line x1="162.35" y1="1814.58" x2="187.66" y2="1814.58" stroke="#000" stroke-width="2.6" />
<line x1="162.35" y1="1891.03" x2="187.66" y2="1891.03" stroke="#000" stroke-width="2.6" />
<line x1="316.88" y1="1840.43" x2="339.47" y2="1840.43" stroke="#000" stroke-width="2.6" />
<line x1="175.00" y1="1814.58" x2="175.00" y2="1891.03" stroke="#000" stroke-width="2.6" />
<line x1="252.36" y1="1861.21" x2="252.36" y2="1919.05" stroke="#000" stroke-width="2.6" />
<line x1="329.53" y1="1840.43" x2="329.53" y2="1919.05" stroke="#000" stroke-width="2.6" />
<circle cx="175.0" cy="1814.6" r="8.2" fill="#F48282" stroke="#000" stroke-width="1.3"/>
<circle cx="175.0" cy="1866.1" r="8.2" fill="#F48282" stroke="#000" stroke-width="1.3"/>
<circle cx="175.0" cy="1891.0" r="8.2" fill="#F48282" stroke="#000" stroke-width="1.3"/>
<rect x="249.5" y="1794.5" width="16.6" height="16.6" fill="#05B805" stroke="#000" stroke-width="1.3"/>
<rect x="227.3" y="1852.2" width="16.6" height="16.6" fill="#05B805" stroke="#000" stroke-width="1.3"/>
<rect x="240.3" y="1851.5" width="16.6" height="16.6" fill="#05B805" stroke="#000" stroke-width="1.3"/>
<rect x="249.5" y="1846.9" width="16.6" height="16.6" fill="#05B805" stroke="#000" stroke-width="1.3"/>
<rect x="249.5" y="1869.5" width="16.6" height="16.6" fill="#05B805" stroke="#000" stroke-width="1.3"/>
<rect x="238.1" y="1887.3" width="16.6" height="16.6" fill="#05B805" stroke="#000" stroke-width="1.3"/>
<rect x="238.1" y="1913.1" width="16.6" height="16.6" fill="#05B805" stroke="#000" stroke-width="1.3"/>
<rect x="249.5" y="1918.9" width="16.6" height="16.6" fill="#05B805" stroke="#000" stroke-width="1.3"/>
<rect x="260.7" y="1914.4" width="16.6" height="16.6" fill="#05B805" stroke="#000" stroke-width="1.3"/>
<rect x="227.3" y="1922.1" width="16.6" height="16.6" fill="#05B805" stroke="#000" stroke-width="1.3"/>
<polygon points="319.8,1836.0 339.3,1836.0 329.5,1818.5" fill="#4D9CF5" stroke="#000" stroke-width="1.3" stroke-linejoin="miter"/>
<polygon points="335.7,1850.1 355.2,1850.1 345.4,1832.6" fill="#4D9CF5" stroke="#000" stroke-width="1.3" stroke-linejoin="miter"/>
<polygon points="304.1,1863.1 323.6,1863.1 313.8,1845.6" fill="#4D9CF5" stroke="#000" stroke-width="1.3" stroke-linejoin="miter"/>
<polygon points="319.8,1863.6 339.3,1863.6 329.5,1846.1" fill="#4D9CF5" stroke="#000" stroke-width="1.3" stroke-linejoin="miter"/>
<polygon points="319.8,1923.3 339.3,1923.3 329.5,1905.8" fill="#4D9CF5" stroke="#000" stroke-width="1.3" stroke-linejoin="miter"/>
<polygon points="304.1,1932.0 323.6,1932.0 313.8,1914.5" fill="#4D9CF5" stroke="#000" stroke-width="1.3" stroke-linejoin="miter"/>
<polygon points="335.7,1927.8 355.2,1927.8 345.4,1910.3" fill="#4D9CF5" stroke="#000" stroke-width="1.3" stroke-linejoin="miter"/>
<line x1="508.49" y1="1791.05" x2="508.49" y2="1953.01" stroke="#000" stroke-width="2.8" />
<line x1="498.86" y1="1951.81" x2="747.73" y2="1951.81" stroke="#000" stroke-width="2.8" />
<line x1="498.86" y1="1792.25" x2="508.49" y2="1792.25" stroke="#000" stroke-width="2.8" />
<line x1="498.86" y1="1832.60" x2="508.49" y2="1832.60" stroke="#000" stroke-width="2.8" />
<line x1="498.86" y1="1872.54" x2="508.49" y2="1872.54" stroke="#000" stroke-width="2.8" />
<line x1="498.86" y1="1912.08" x2="508.49" y2="1912.08" stroke="#000" stroke-width="2.8" />
<line x1="498.86" y1="1951.81" x2="508.49" y2="1951.81" stroke="#000" stroke-width="2.8" />
<text x="492.70" y="1801.75" font-size="25.5" font-weight="bold" font-family="'Liberation Sans', Arial, sans-serif" text-anchor="end">20</text>
<text x="492.70" y="1842.10" font-size="25.5" font-weight="bold" font-family="'Liberation Sans', Arial, sans-serif" text-anchor="end">15</text>
<text x="492.70" y="1882.04" font-size="25.5" font-weight="bold" font-family="'Liberation Sans', Arial, sans-serif" text-anchor="end">10</text>
<text x="492.70" y="1921.58" font-size="25.5" font-weight="bold" font-family="'Liberation Sans', Arial, sans-serif" text-anchor="end">5</text>
<text x="492.70" y="1961.31" font-size="25.5" font-weight="bold" font-family="'Liberation Sans', Arial, sans-serif" text-anchor="end">0</text>
<text transform="translate(451.70,1956.50) rotate(-90)" x="0" y="0" font-size="34" font-weight="bold" font-family="'Liberation Serif', 'Times New Roman', serif" textLength="164.90" lengthAdjust="spacingAndGlyphs">CM CXCR3+</text>
<line x1="532.25" y1="1861.89" x2="579.77" y2="1861.89" stroke="#000" stroke-width="2.6" />
<line x1="604.35" y1="1907.37" x2="650.44" y2="1907.37" stroke="#000" stroke-width="2.6" />
<line x1="675.02" y1="1908.39" x2="722.13" y2="1908.39" stroke="#000" stroke-width="2.6" />
<line x1="544.54" y1="1814.58" x2="567.48" y2="1814.58" stroke="#000" stroke-width="2.6" />
<line x1="544.54" y1="1876.23" x2="567.48" y2="1876.23" stroke="#000" stroke-width="2.6" />
<line x1="686.28" y1="1881.76" x2="710.86" y2="1881.76" stroke="#000" stroke-width="2.6" />
<line x1="686.28" y1="1927.85" x2="710.86" y2="1927.85" stroke="#000" stroke-width="2.6" />
<line x1="556.21" y1="1814.58" x2="556.21" y2="1876.23" stroke="#000" stroke-width="2.6" />
<line x1="698.57" y1="1881.76" x2="698.57" y2="1927.85" stroke="#000" stroke-width="2.6" />
<circle cx="556.2" cy="1814.6" r="8.2" fill="#F48282" stroke="#000" stroke-width="1.3"/>
<circle cx="571.6" cy="1861.9" r="8.2" fill="#F48282" stroke="#000" stroke-width="1.3"/>
<circle cx="540.9" cy="1876.2" r="8.2" fill="#F48282" stroke="#000" stroke-width="1.3"/>
<rect x="613.5" y="1867.3" width="16.6" height="16.6" fill="#05B805" stroke="#000" stroke-width="1.3"/>
<rect x="603.2" y="1872.4" width="16.6" height="16.6" fill="#05B805" stroke="#000" stroke-width="1.3"/>
<rect x="635.0" y="1872.0" width="16.6" height="16.6" fill="#05B805" stroke="#000" stroke-width="1.3"/>
<rect x="613.5" y="1887.8" width="16.6" height="16.6" fill="#05B805" stroke="#000" stroke-width="1.3"/>
<rect x="603.2" y="1896.0" width="16.6" height="16.6" fill="#05B805" stroke="#000" stroke-width="1.3"/>
<rect x="635.0" y="1890.9" width="16.6" height="16.6" fill="#05B805" stroke="#000" stroke-width="1.3"/>
<rect x="624.7" y="1892.9" width="16.6" height="16.6" fill="#05B805" stroke="#000" stroke-width="1.3"/>
<rect x="613.5" y="1909.3" width="16.6" height="16.6" fill="#05B805" stroke="#000" stroke-width="1.3"/>
<rect x="624.7" y="1913.4" width="16.6" height="16.6" fill="#05B805" stroke="#000" stroke-width="1.3"/>
<rect x="613.5" y="1928.8" width="16.6" height="16.6" fill="#05B805" stroke="#000" stroke-width="1.3"/>
<polygon points="674.5,1883.3 694.0,1883.3 684.2,1865.8" fill="#4D9CF5" stroke="#000" stroke-width="1.3" stroke-linejoin="miter"/>
<polygon points="703.2,1891.5 722.7,1891.5 712.9,1874.0" fill="#4D9CF5" stroke="#000" stroke-width="1.3" stroke-linejoin="miter"/>
<polygon points="674.5,1907.9 694.0,1907.9 684.2,1890.4" fill="#4D9CF5" stroke="#000" stroke-width="1.3" stroke-linejoin="miter"/>
<polygon points="688.8,1922.3 708.3,1922.3 698.6,1904.8" fill="#4D9CF5" stroke="#000" stroke-width="1.3" stroke-linejoin="miter"/>
<polygon points="703.2,1919.2 722.7,1919.2 712.9,1901.7" fill="#4D9CF5" stroke="#000" stroke-width="1.3" stroke-linejoin="miter"/>
<polygon points="703.2,1938.6 722.7,1938.6 712.9,1921.1" fill="#4D9CF5" stroke="#000" stroke-width="1.3" stroke-linejoin="miter"/>
<polygon points="674.5,1944.8 694.0,1944.8 684.2,1927.3" fill="#4D9CF5" stroke="#000" stroke-width="1.3" stroke-linejoin="miter"/>
<path d="M554.2,1793.7 L554.2,1780.0 L622.8,1780.0 L622.8,1793.7" fill="none" stroke="#000" stroke-width="3"/>
<text x="537.78" y="1769.10" font-size="24" font-weight="bold" font-family="'Liberation Sans', Arial, sans-serif" textLength="105.49" lengthAdjust="spacingAndGlyphs" xml:space="preserve">p = 0.031</text>
<path d="M552.7,1745.5 L552.7,1727.5 L692.8,1727.5 L692.8,1745.5" fill="none" stroke="#000" stroke-width="3"/>
<text x="571.58" y="1716.87" font-size="24" font-weight="bold" font-family="'Liberation Sans', Arial, sans-serif" textLength="107.54" lengthAdjust="spacingAndGlyphs" xml:space="preserve">p = 0.019</text>
<line x1="880.91" y1="1781.76" x2="880.91" y2="1956.22" stroke="#000" stroke-width="2.8" />
<line x1="868.62" y1="1955.02" x2="1129.99" y2="1955.02" stroke="#000" stroke-width="2.8" />
<line x1="868.62" y1="1782.96" x2="880.91" y2="1782.96" stroke="#000" stroke-width="2.8" />
<line x1="868.62" y1="1840.72" x2="880.91" y2="1840.72" stroke="#000" stroke-width="2.8" />
<line x1="868.62" y1="1898.07" x2="880.91" y2="1898.07" stroke="#000" stroke-width="2.8" />
<line x1="868.62" y1="1955.02" x2="880.91" y2="1955.02" stroke="#000" stroke-width="2.8" />
<text x="866.60" y="1792.46" font-size="25.5" font-weight="bold" font-family="'Liberation Sans', Arial, sans-serif" text-anchor="end">3</text>
<text x="866.60" y="1850.22" font-size="25.5" font-weight="bold" font-family="'Liberation Sans', Arial, sans-serif" text-anchor="end">2</text>
<text x="866.60" y="1907.57" font-size="25.5" font-weight="bold" font-family="'Liberation Sans', Arial, sans-serif" text-anchor="end">1</text>
<text x="866.60" y="1964.52" font-size="25.5" font-weight="bold" font-family="'Liberation Sans', Arial, sans-serif" text-anchor="end">0</text>
<text transform="translate(832.80,1983.60) rotate(-90)" x="0" y="0" font-size="34" font-weight="bold" font-family="'Liberation Serif', 'Times New Roman', serif" textLength="240.00" lengthAdjust="spacingAndGlyphs">CM Th2 CXCR3-</text>
<line x1="906.51" y1="1888.04" x2="957.72" y2="1888.04" stroke="#000" stroke-width="2.6" />
<line x1="984.35" y1="1872.06" x2="1034.54" y2="1872.06" stroke="#000" stroke-width="2.6" />
<line x1="1061.16" y1="1906.47" x2="1111.35" y2="1906.47" stroke="#000" stroke-width="2.6" />
<line x1="919.83" y1="1882.30" x2="943.38" y2="1882.30" stroke="#000" stroke-width="2.6" />
<line x1="919.83" y1="1892.54" x2="943.38" y2="1892.54" stroke="#000" stroke-width="2.6" />
<line x1="996.64" y1="1820.85" x2="1021.63" y2="1820.85" stroke="#000" stroke-width="2.6" />
<line x1="996.64" y1="1902.79" x2="1021.63" y2="1902.79" stroke="#000" stroke-width="2.6" />
<line x1="1073.45" y1="1876.16" x2="1099.06" y2="1876.16" stroke="#000" stroke-width="2.6" />
<line x1="932.12" y1="1882.30" x2="932.12" y2="1892.54" stroke="#000" stroke-width="2.6" />
<line x1="1008.93" y1="1820.85" x2="1008.93" y2="1902.79" stroke="#000" stroke-width="2.6" />
<line x1="1086.36" y1="1876.16" x2="1086.36" y2="1906.47" stroke="#000" stroke-width="2.6" />
<circle cx="932.1" cy="1880.7" r="8.2" fill="#F48282" stroke="#000" stroke-width="1.3"/>
<circle cx="949.1" cy="1886.4" r="8.2" fill="#F48282" stroke="#000" stroke-width="1.3"/>
<circle cx="915.3" cy="1898.1" r="8.2" fill="#F48282" stroke="#000" stroke-width="1.3"/>
<rect x="995.1" y="1786.9" width="16.6" height="16.6" fill="#05B805" stroke="#000" stroke-width="1.3"/>
<rect x="1006.8" y="1786.9" width="16.6" height="16.6" fill="#05B805" stroke="#000" stroke-width="1.3"/>
<rect x="995.1" y="1821.2" width="16.6" height="16.6" fill="#05B805" stroke="#000" stroke-width="1.3"/>
<rect x="1006.4" y="1843.7" width="16.6" height="16.6" fill="#05B805" stroke="#000" stroke-width="1.3"/>
<rect x="995.1" y="1855.2" width="16.6" height="16.6" fill="#05B805" stroke="#000" stroke-width="1.3"/>
<rect x="983.8" y="1872.4" width="16.6" height="16.6" fill="#05B805" stroke="#000" stroke-width="1.3"/>
<rect x="995.1" y="1889.4" width="16.6" height="16.6" fill="#05B805" stroke="#000" stroke-width="1.3"/>
<rect x="1018.0" y="1889.4" width="16.6" height="16.6" fill="#05B805" stroke="#000" stroke-width="1.3"/>
<rect x="983.8" y="1906.8" width="16.6" height="16.6" fill="#05B805" stroke="#000" stroke-width="1.3"/>
<rect x="1006.4" y="1906.8" width="16.6" height="16.6" fill="#05B805" stroke="#000" stroke-width="1.3"/>
<polygon points="1081.5,1856.2 1101.0,1856.2 1091.3,1838.7" fill="#4D9CF5" stroke="#000" stroke-width="1.3" stroke-linejoin="miter"/>
<polygon points="1060.6,1896.2 1080.1,1896.2 1070.4,1878.7" fill="#4D9CF5" stroke="#000" stroke-width="1.3" stroke-linejoin="miter"/>
<polygon points="1071.9,1913.6 1091.4,1913.6 1081.6,1896.1" fill="#4D9CF5" stroke="#000" stroke-width="1.3" stroke-linejoin="miter"/>
<polygon points="1081.5,1919.7 1101.0,1919.7 1091.3,1902.2" fill="#4D9CF5" stroke="#000" stroke-width="1.3" stroke-linejoin="miter"/>
<polygon points="1092.4,1919.7 1111.9,1919.7 1102.1,1902.2" fill="#4D9CF5" stroke="#000" stroke-width="1.3" stroke-linejoin="miter"/>
<polygon points="1060.6,1925.9 1080.1,1925.9 1070.4,1908.4" fill="#4D9CF5" stroke="#000" stroke-width="1.3" stroke-linejoin="miter"/>
<line x1="1276.27" y1="1795.56" x2="1276.27" y2="1957.32" stroke="#000" stroke-width="2.8" />
<line x1="1266.03" y1="1956.12" x2="1516.95" y2="1956.12" stroke="#000" stroke-width="2.8" />
<line x1="1266.03" y1="1796.76" x2="1276.27" y2="1796.76" stroke="#000" stroke-width="2.8" />
<line x1="1266.03" y1="1828.91" x2="1276.27" y2="1828.91" stroke="#000" stroke-width="2.8" />
<line x1="1266.03" y1="1860.87" x2="1276.27" y2="1860.87" stroke="#000" stroke-width="2.8" />
<line x1="1266.03" y1="1892.62" x2="1276.27" y2="1892.62" stroke="#000" stroke-width="2.8" />
<line x1="1266.03" y1="1924.37" x2="1276.27" y2="1924.37" stroke="#000" stroke-width="2.8" />
<line x1="1266.03" y1="1956.12" x2="1276.27" y2="1956.12" stroke="#000" stroke-width="2.8" />
<text x="1263.60" y="1806.26" font-size="25.5" font-weight="bold" font-family="'Liberation Sans', Arial, sans-serif" text-anchor="end">25</text>
<text x="1263.60" y="1838.41" font-size="25.5" font-weight="bold" font-family="'Liberation Sans', Arial, sans-serif" text-anchor="end">20</text>
<text x="1263.60" y="1870.37" font-size="25.5" font-weight="bold" font-family="'Liberation Sans', Arial, sans-serif" text-anchor="end">15</text>
<text x="1263.60" y="1902.12" font-size="25.5" font-weight="bold" font-family="'Liberation Sans', Arial, sans-serif" text-anchor="end">10</text>
<text x="1263.60" y="1933.87" font-size="25.5" font-weight="bold" font-family="'Liberation Sans', Arial, sans-serif" text-anchor="end">5</text>
<text x="1263.60" y="1965.62" font-size="25.5" font-weight="bold" font-family="'Liberation Sans', Arial, sans-serif" text-anchor="end">0</text>
<text transform="translate(1216.90,1998.00) rotate(-90)" x="0" y="0" font-size="34" font-weight="bold" font-family="'Liberation Serif', 'Times New Roman', serif" textLength="237.10" lengthAdjust="spacingAndGlyphs">CM Th2 CXCR3+</text>
<line x1="1300.85" y1="1939.12" x2="1347.96" y2="1939.12" stroke="#000" stroke-width="2.6" />
<line x1="1370.50" y1="1902.24" x2="1419.66" y2="1902.24" stroke="#000" stroke-width="2.6" />
<line x1="1444.24" y1="1908.39" x2="1490.32" y2="1908.39" stroke="#000" stroke-width="2.6" />
<line x1="1312.73" y1="1929.49" x2="1335.67" y2="1929.49" stroke="#000" stroke-width="2.6" />
<line x1="1312.73" y1="1948.33" x2="1335.67" y2="1948.33" stroke="#000" stroke-width="2.6" />
<line x1="1383.81" y1="1884.83" x2="1407.37" y2="1884.83" stroke="#000" stroke-width="2.6" />
<line x1="1383.81" y1="1909.41" x2="1407.37" y2="1909.41" stroke="#000" stroke-width="2.6" />
<line x1="1455.50" y1="1889.95" x2="1479.06" y2="1889.95" stroke="#000" stroke-width="2.6" />
<line x1="1455.50" y1="1927.85" x2="1479.06" y2="1927.85" stroke="#000" stroke-width="2.6" />
<line x1="1324.41" y1="1929.49" x2="1324.41" y2="1948.33" stroke="#000" stroke-width="2.6" />
<line x1="1395.69" y1="1884.83" x2="1395.69" y2="1909.41" stroke="#000" stroke-width="2.6" />
<line x1="1467.79" y1="1889.95" x2="1467.79" y2="1927.85" stroke="#000" stroke-width="2.6" />
<circle cx="1324.4" cy="1919.7" r="8.2" fill="#F48282" stroke="#000" stroke-width="1.3"/>
<circle cx="1308.6" cy="1949.4" r="8.2" fill="#F48282" stroke="#000" stroke-width="1.3"/>
<circle cx="1340.4" cy="1948.7" r="8.2" fill="#F48282" stroke="#000" stroke-width="1.3"/>
<rect x="1372.0" y="1859.7" width="16.6" height="16.6" fill="#05B805" stroke="#000" stroke-width="1.3"/>
<rect x="1387.4" y="1858.1" width="16.6" height="16.6" fill="#05B805" stroke="#000" stroke-width="1.3"/>
<rect x="1387.4" y="1808.5" width="16.6" height="16.6" fill="#05B805" stroke="#000" stroke-width="1.3"/>
<rect x="1372.0" y="1883.1" width="16.6" height="16.6" fill="#05B805" stroke="#000" stroke-width="1.3"/>
<rect x="1403.2" y="1884.1" width="16.6" height="16.6" fill="#05B805" stroke="#000" stroke-width="1.3"/>
<rect x="1387.4" y="1904.8" width="16.6" height="16.6" fill="#05B805" stroke="#000" stroke-width="1.3"/>
<rect x="1403.2" y="1903.2" width="16.6" height="16.6" fill="#05B805" stroke="#000" stroke-width="1.3"/>
<rect x="1387.4" y="1924.1" width="16.6" height="16.6" fill="#05B805" stroke="#000" stroke-width="1.3"/>
<rect x="1372.0" y="1931.8" width="16.6" height="16.6" fill="#05B805" stroke="#000" stroke-width="1.3"/>
<rect x="1403.2" y="1930.2" width="16.6" height="16.6" fill="#05B805" stroke="#000" stroke-width="1.3"/>
<polygon points="1457.0,1815.7 1476.5,1815.7 1466.8,1798.2" fill="#4D9CF5" stroke="#000" stroke-width="1.3" stroke-linejoin="miter"/>
<polygon points="1471.4,1903.8 1490.9,1903.8 1481.1,1886.3" fill="#4D9CF5" stroke="#000" stroke-width="1.3" stroke-linejoin="miter"/>
<polygon points="1442.7,1921.2 1462.2,1921.2 1452.4,1903.7" fill="#4D9CF5" stroke="#000" stroke-width="1.3" stroke-linejoin="miter"/>
<polygon points="1471.4,1928.4 1490.9,1928.4 1481.1,1910.9" fill="#4D9CF5" stroke="#000" stroke-width="1.3" stroke-linejoin="miter"/>
<polygon points="1457.0,1946.8 1476.5,1946.8 1466.8,1929.3" fill="#4D9CF5" stroke="#000" stroke-width="1.3" stroke-linejoin="miter"/>
<polygon points="1471.4,1954.0 1490.9,1954.0 1481.1,1936.5" fill="#4D9CF5" stroke="#000" stroke-width="1.3" stroke-linejoin="miter"/>
<polygon points="1442.7,1958.1 1462.2,1958.1 1452.4,1940.6" fill="#4D9CF5" stroke="#000" stroke-width="1.3" stroke-linejoin="miter"/>
<path d="M1318.3,1791.6 L1318.3,1777.9 L1400.2,1777.9 L1400.2,1791.6" fill="none" stroke="#000" stroke-width="3"/>
<text x="1308.02" y="1767.05" font-size="24" font-weight="bold" font-family="'Liberation Sans', Arial, sans-serif" textLength="105.49" lengthAdjust="spacingAndGlyphs" xml:space="preserve">p = 0.031</text>
<line x1="1633.49" y1="1791.05" x2="1633.49" y2="1960.18" stroke="#000" stroke-width="2.8" />
<line x1="1621.81" y1="1958.98" x2="1893.22" y2="1958.98" stroke="#000" stroke-width="2.8" />
<line x1="1621.81" y1="1792.25" x2="1633.49" y2="1792.25" stroke="#000" stroke-width="2.8" />
<line x1="1621.81" y1="1834.04" x2="1633.49" y2="1834.04" stroke="#000" stroke-width="2.8" />
<line x1="1621.81" y1="1875.62" x2="1633.49" y2="1875.62" stroke="#000" stroke-width="2.8" />
<line x1="1621.81" y1="1917.61" x2="1633.49" y2="1917.61" stroke="#000" stroke-width="2.8" />
<line x1="1621.81" y1="1958.98" x2="1633.49" y2="1958.98" stroke="#000" stroke-width="2.8" />
<text x="1620.40" y="1801.75" font-size="25.5" font-weight="bold" font-family="'Liberation Sans', Arial, sans-serif" text-anchor="end">8</text>
<text x="1620.40" y="1843.54" font-size="25.5" font-weight="bold" font-family="'Liberation Sans', Arial, sans-serif" text-anchor="end">6</text>
<text x="1620.40" y="1885.12" font-size="25.5" font-weight="bold" font-family="'Liberation Sans', Arial, sans-serif" text-anchor="end">4</text>
<text x="1620.40" y="1927.11" font-size="25.5" font-weight="bold" font-family="'Liberation Sans', Arial, sans-serif" text-anchor="end">2</text>
<text x="1620.40" y="1968.48" font-size="25.5" font-weight="bold" font-family="'Liberation Sans', Arial, sans-serif" text-anchor="end">0</text>
<text transform="translate(1588.00,1896.10) rotate(-90)" x="0" y="0" font-size="34" font-weight="bold" font-family="'Liberation Serif', 'Times New Roman', serif" textLength="48.10" lengthAdjust="spacingAndGlyphs">TM</text>
<line x1="1658.68" y1="1887.29" x2="1708.25" y2="1887.29" stroke="#000" stroke-width="2.6" />
<line x1="1733.45" y1="1878.28" x2="1782.61" y2="1878.28" stroke="#000" stroke-width="2.6" />
<line x1="1809.24" y1="1910.44" x2="1856.35" y2="1910.44" stroke="#000" stroke-width="2.6" />
<line x1="1670.97" y1="1851.65" x2="1695.96" y2="1851.65" stroke="#000" stroke-width="2.6" />
<line x1="1670.97" y1="1922.32" x2="1695.96" y2="1922.32" stroke="#000" stroke-width="2.6" />
<line x1="1746.76" y1="1865.99" x2="1766.22" y2="1865.99" stroke="#000" stroke-width="2.6" />
<line x1="1746.76" y1="1890.98" x2="1766.22" y2="1890.98" stroke="#000" stroke-width="2.6" />
<line x1="1820.50" y1="1906.96" x2="1840.99" y2="1906.96" stroke="#000" stroke-width="2.6" />
<line x1="1820.50" y1="1917.61" x2="1840.99" y2="1917.61" stroke="#000" stroke-width="2.6" />
<line x1="1683.47" y1="1851.65" x2="1683.47" y2="1922.32" stroke="#000" stroke-width="2.6" />
<line x1="1758.03" y1="1865.99" x2="1758.03" y2="1890.98" stroke="#000" stroke-width="2.6" />
<line x1="1831.77" y1="1906.96" x2="1831.77" y2="1917.61" stroke="#000" stroke-width="2.6" />
<circle cx="1683.5" cy="1817.6" r="8.2" fill="#F48282" stroke="#000" stroke-width="1.3"/>
<circle cx="1683.5" cy="1911.5" r="8.2" fill="#F48282" stroke="#000" stroke-width="1.3"/>
<circle cx="1683.5" cy="1932.4" r="8.2" fill="#F48282" stroke="#000" stroke-width="1.3"/>
<rect x="1755.5" y="1809.3" width="16.6" height="16.6" fill="#05B805" stroke="#000" stroke-width="1.3"/>
<rect x="1744.2" y="1820.2" width="16.6" height="16.6" fill="#05B805" stroke="#000" stroke-width="1.3"/>
<rect x="1744.2" y="1838.0" width="16.6" height="16.6" fill="#05B805" stroke="#000" stroke-width="1.3"/>
<rect x="1755.5" y="1859.1" width="16.6" height="16.6" fill="#05B805" stroke="#000" stroke-width="1.3"/>
<rect x="1744.2" y="1876.1" width="16.6" height="16.6" fill="#05B805" stroke="#000" stroke-width="1.3"/>
<rect x="1733.3" y="1890.5" width="16.6" height="16.6" fill="#05B805" stroke="#000" stroke-width="1.3"/>
<rect x="1755.5" y="1887.8" width="16.6" height="16.6" fill="#05B805" stroke="#000" stroke-width="1.3"/>
<rect x="1766.7" y="1884.7" width="16.6" height="16.6" fill="#05B805" stroke="#000" stroke-width="1.3"/>
<rect x="1744.2" y="1905.2" width="16.6" height="16.6" fill="#05B805" stroke="#000" stroke-width="1.3"/>
<rect x="1744.2" y="1932.2" width="16.6" height="16.6" fill="#05B805" stroke="#000" stroke-width="1.3"/>
<polygon points="1815.5,1891.5 1835.0,1891.5 1825.2,1874.0" fill="#4D9CF5" stroke="#000" stroke-width="1.3" stroke-linejoin="miter"/>
<polygon points="1808.3,1915.1 1827.8,1915.1 1818.0,1897.6" fill="#4D9CF5" stroke="#000" stroke-width="1.3" stroke-linejoin="miter"/>
<polygon points="1838.4,1915.1 1857.9,1915.1 1848.2,1897.6" fill="#4D9CF5" stroke="#000" stroke-width="1.3" stroke-linejoin="miter"/>
<polygon points="1815.5,1927.4 1835.0,1927.4 1825.2,1909.9" fill="#4D9CF5" stroke="#000" stroke-width="1.3" stroke-linejoin="miter"/>
<polygon points="1823.0,1931.5 1842.5,1931.5 1832.8,1914.0" fill="#4D9CF5" stroke="#000" stroke-width="1.3" stroke-linejoin="miter"/>
<polygon points="1831.2,1934.6 1850.7,1934.6 1841.0,1917.1" fill="#4D9CF5" stroke="#000" stroke-width="1.3" stroke-linejoin="miter"/>
<polygon points="1815.5,1950.9 1835.0,1950.9 1825.2,1933.4" fill="#4D9CF5" stroke="#000" stroke-width="1.3" stroke-linejoin="miter"/>
<line x1="117.76" y1="2051.00" x2="117.76" y2="2216.86" stroke="#000" stroke-width="2.8" />
<line x1="105.16" y1="2215.66" x2="363.41" y2="2215.66" stroke="#000" stroke-width="2.8" />
<line x1="105.16" y1="2052.20" x2="117.76" y2="2052.20" stroke="#000" stroke-width="2.8" />
<line x1="105.16" y1="2093.41" x2="117.76" y2="2093.41" stroke="#000" stroke-width="2.8" />
<line x1="105.16" y1="2133.93" x2="117.76" y2="2133.93" stroke="#000" stroke-width="2.8" />
<line x1="105.16" y1="2175.14" x2="117.76" y2="2175.14" stroke="#000" stroke-width="2.8" />
<line x1="105.16" y1="2215.66" x2="117.76" y2="2215.66" stroke="#000" stroke-width="2.8" />
<text x="101.30" y="2061.70" font-size="25.5" font-weight="bold" font-family="'Liberation Sans', Arial, sans-serif" text-anchor="end">40</text>
<text x="101.30" y="2102.91" font-size="25.5" font-weight="bold" font-family="'Liberation Sans', Arial, sans-serif" text-anchor="end">30</text>
<text x="101.30" y="2143.43" font-size="25.5" font-weight="bold" font-family="'Liberation Sans', Arial, sans-serif" text-anchor="end">20</text>
<text x="101.30" y="2184.64" font-size="25.5" font-weight="bold" font-family="'Liberation Sans', Arial, sans-serif" text-anchor="end">10</text>
<text x="101.30" y="2225.16" font-size="25.5" font-weight="bold" font-family="'Liberation Sans', Arial, sans-serif" text-anchor="end">0</text>
<text transform="translate(56.60,2154.50) rotate(-90)" x="0" y="0" font-size="34" font-weight="bold" font-family="'Liberation Serif', 'Times New Roman', serif" textLength="46.90" lengthAdjust="spacingAndGlyphs">EM</text>
<line x1="141.34" y1="2196.89" x2="193.99" y2="2196.89" stroke="#000" stroke-width="2.6" />
<line x1="214.60" y1="2183.15" x2="263.82" y2="2183.15" stroke="#000" stroke-width="2.6" />
<line x1="289.00" y1="2191.85" x2="337.08" y2="2191.85" stroke="#000" stroke-width="2.6" />
<line x1="153.93" y1="2191.85" x2="177.97" y2="2191.85" stroke="#000" stroke-width="2.6" />
<line x1="153.93" y1="2202.61" x2="177.97" y2="2202.61" stroke="#000" stroke-width="2.6" />
<line x1="227.19" y1="2171.25" x2="251.23" y2="2171.25" stroke="#000" stroke-width="2.6" />
<line x1="227.19" y1="2201.47" x2="251.23" y2="2201.47" stroke="#000" stroke-width="2.6" />
<line x1="301.14" y1="2183.15" x2="324.49" y2="2183.15" stroke="#000" stroke-width="2.6" />
<line x1="301.14" y1="2201.01" x2="324.49" y2="2201.01" stroke="#000" stroke-width="2.6" />
<line x1="166.06" y1="2191.85" x2="166.06" y2="2202.61" stroke="#000" stroke-width="2.6" />
<line x1="239.32" y1="2171.25" x2="239.32" y2="2201.47" stroke="#000" stroke-width="2.6" />
<line x1="313.04" y1="2183.15" x2="313.04" y2="2201.01" stroke="#000" stroke-width="2.6" />
<circle cx="166.1" cy="2185.9" r="8.2" fill="#F48282" stroke="#000" stroke-width="1.3"/>
<circle cx="150.0" cy="2205.4" r="8.2" fill="#F48282" stroke="#000" stroke-width="1.3"/>
<circle cx="182.1" cy="2200.8" r="8.2" fill="#F48282" stroke="#000" stroke-width="1.3"/>
<rect x="231.0" y="2081.4" width="16.6" height="16.6" fill="#05B805" stroke="#000" stroke-width="1.3"/>
<rect x="231.0" y="2138.2" width="16.6" height="16.6" fill="#05B805" stroke="#000" stroke-width="1.3"/>
<rect x="247.5" y="2176.0" width="16.6" height="16.6" fill="#05B805" stroke="#000" stroke-width="1.3"/>
<rect x="239.5" y="2174.9" width="16.6" height="16.6" fill="#05B805" stroke="#000" stroke-width="1.3"/>
<rect x="222.3" y="2188.6" width="16.6" height="16.6" fill="#05B805" stroke="#000" stroke-width="1.3"/>
<rect x="238.3" y="2196.6" width="16.6" height="16.6" fill="#05B805" stroke="#000" stroke-width="1.3"/>
<rect x="214.3" y="2204.6" width="16.6" height="16.6" fill="#05B805" stroke="#000" stroke-width="1.3"/>
<rect x="231.0" y="2203.5" width="16.6" height="16.6" fill="#05B805" stroke="#000" stroke-width="1.3"/>
<rect x="247.5" y="2205.8" width="16.6" height="16.6" fill="#05B805" stroke="#000" stroke-width="1.3"/>
<rect x="231.0" y="2182.9" width="16.6" height="16.6" fill="#05B805" stroke="#000" stroke-width="1.3"/>
<polygon points="307.9,2164.4 327.4,2164.4 317.6,2146.9" fill="#4D9CF5" stroke="#000" stroke-width="1.3" stroke-linejoin="miter"/>
<polygon points="298.3,2172.4 317.8,2172.4 308.0,2154.9" fill="#4D9CF5" stroke="#000" stroke-width="1.3" stroke-linejoin="miter"/>
<polygon points="288.0,2197.6 307.5,2197.6 297.7,2180.1" fill="#4D9CF5" stroke="#000" stroke-width="1.3" stroke-linejoin="miter"/>
<polygon points="298.3,2215.9 317.8,2215.9 308.0,2198.4" fill="#4D9CF5" stroke="#000" stroke-width="1.3" stroke-linejoin="miter"/>
<polygon points="288.0,2222.8 307.5,2222.8 297.7,2205.3" fill="#4D9CF5" stroke="#000" stroke-width="1.3" stroke-linejoin="miter"/>
<polygon points="307.9,2222.8 327.4,2222.8 317.6,2205.3" fill="#4D9CF5" stroke="#000" stroke-width="1.3" stroke-linejoin="miter"/>
<polygon points="317.7,2218.2 337.2,2218.2 327.5,2200.7" fill="#4D9CF5" stroke="#000" stroke-width="1.3" stroke-linejoin="miter"/>
<line x1="503.37" y1="2057.42" x2="503.37" y2="2218.98" stroke="#000" stroke-width="2.8" />
<line x1="492.72" y1="2217.78" x2="744.66" y2="2217.78" stroke="#000" stroke-width="2.8" />
<line x1="492.72" y1="2058.62" x2="503.37" y2="2058.62" stroke="#000" stroke-width="2.8" />
<line x1="492.72" y1="2112.49" x2="503.37" y2="2112.49" stroke="#000" stroke-width="2.8" />
<line x1="492.72" y1="2165.54" x2="503.37" y2="2165.54" stroke="#000" stroke-width="2.8" />
<line x1="492.72" y1="2217.78" x2="503.37" y2="2217.78" stroke="#000" stroke-width="2.8" />
<text x="489.60" y="2068.12" font-size="25.5" font-weight="bold" font-family="'Liberation Sans', Arial, sans-serif" text-anchor="end">15</text>
<text x="489.60" y="2121.99" font-size="25.5" font-weight="bold" font-family="'Liberation Sans', Arial, sans-serif" text-anchor="end">10</text>
<text x="489.60" y="2175.04" font-size="25.5" font-weight="bold" font-family="'Liberation Sans', Arial, sans-serif" text-anchor="end">5</text>
<text x="489.60" y="2227.28" font-size="25.5" font-weight="bold" font-family="'Liberation Sans', Arial, sans-serif" text-anchor="end">0</text>
<text transform="translate(446.60,2223.50) rotate(-90)" x="0" y="0" font-size="34" font-weight="bold" font-family="'Liberation Serif', 'Times New Roman', serif" textLength="170.00" lengthAdjust="spacingAndGlyphs">EM activated</text>
<line x1="530.61" y1="2213.27" x2="575.67" y2="2213.27" stroke="#000" stroke-width="2.6" />
<line x1="600.25" y1="2197.29" x2="646.34" y2="2197.29" stroke="#000" stroke-width="2.6" />
<line x1="671.54" y1="2188.28" x2="718.65" y2="2188.28" stroke="#000" stroke-width="2.6" />
<line x1="540.85" y1="2211.22" x2="563.38" y2="2211.22" stroke="#000" stroke-width="2.6" />
<line x1="610.50" y1="2192.79" x2="634.05" y2="2192.79" stroke="#000" stroke-width="2.6" />
<line x1="684.24" y1="2210.20" x2="706.77" y2="2210.20" stroke="#000" stroke-width="2.6" />
<line x1="624.83" y1="2192.79" x2="624.83" y2="2207.12" stroke="#000" stroke-width="2.6" />
<line x1="695.09" y1="2188.28" x2="695.09" y2="2210.20" stroke="#000" stroke-width="2.6" />
<circle cx="535.7" cy="2215.3" r="8.2" fill="#F48282" stroke="#000" stroke-width="1.3"/>
<circle cx="551.5" cy="2212.2" r="8.2" fill="#F48282" stroke="#000" stroke-width="1.3"/>
<circle cx="567.1" cy="2213.3" r="8.2" fill="#F48282" stroke="#000" stroke-width="1.3"/>
<rect x="614.5" y="2144.5" width="16.6" height="16.6" fill="#05B805" stroke="#000" stroke-width="1.3"/>
<rect x="612.0" y="2176.3" width="16.6" height="16.6" fill="#05B805" stroke="#000" stroke-width="1.3"/>
<rect x="617.1" y="2183.5" width="16.6" height="16.6" fill="#05B805" stroke="#000" stroke-width="1.3"/>
<rect x="604.2" y="2190.6" width="16.6" height="16.6" fill="#05B805" stroke="#000" stroke-width="1.3"/>
<rect x="599.1" y="2198.8" width="16.6" height="16.6" fill="#05B805" stroke="#000" stroke-width="1.3"/>
<rect x="625.3" y="2196.8" width="16.6" height="16.6" fill="#05B805" stroke="#000" stroke-width="1.3"/>
<rect x="630.5" y="2202.9" width="16.6" height="16.6" fill="#05B805" stroke="#000" stroke-width="1.3"/>
<rect x="619.6" y="2206.0" width="16.6" height="16.6" fill="#05B805" stroke="#000" stroke-width="1.3"/>
<rect x="612.0" y="2194.7" width="16.6" height="16.6" fill="#05B805" stroke="#000" stroke-width="1.3"/>
<rect x="607.9" y="2197.8" width="16.6" height="16.6" fill="#05B805" stroke="#000" stroke-width="1.3"/>
<polygon points="685.3,2100.1 704.8,2100.1 695.1,2082.6" fill="#4D9CF5" stroke="#000" stroke-width="1.3" stroke-linejoin="miter"/>
<polygon points="670.4,2198.5 689.9,2198.5 680.1,2181.0" fill="#4D9CF5" stroke="#000" stroke-width="1.3" stroke-linejoin="miter"/>
<polygon points="685.3,2195.4 704.8,2195.4 695.1,2177.9" fill="#4D9CF5" stroke="#000" stroke-width="1.3" stroke-linejoin="miter"/>
<polygon points="699.7,2198.5 719.2,2198.5 709.4,2181.0" fill="#4D9CF5" stroke="#000" stroke-width="1.3" stroke-linejoin="miter"/>
<polygon points="685.3,2214.8 704.8,2214.8 695.1,2197.3" fill="#4D9CF5" stroke="#000" stroke-width="1.3" stroke-linejoin="miter"/>
<polygon points="699.7,2220.0 719.2,2220.0 709.4,2202.5" fill="#4D9CF5" stroke="#000" stroke-width="1.3" stroke-linejoin="miter"/>
<polygon points="670.4,2226.1 689.9,2226.1 680.1,2208.6" fill="#4D9CF5" stroke="#000" stroke-width="1.3" stroke-linejoin="miter"/>
<path d="M538.8,2114.9 L538.8,2101.6 L627.9,2101.6 L627.9,2114.9" fill="none" stroke="#000" stroke-width="3"/>
<text x="531.63" y="2090.98" font-size="24" font-weight="bold" font-family="'Liberation Sans', Arial, sans-serif" textLength="106.51" lengthAdjust="spacingAndGlyphs" xml:space="preserve">p = 0.031</text>
<path d="M540.4,2062.1 L540.4,2049.4 L698.0,2049.4 L698.0,2062.1" fill="none" stroke="#000" stroke-width="3"/>
<text x="567.48" y="2038.14" font-size="24" font-weight="bold" font-family="'Liberation Sans', Arial, sans-serif" textLength="108.56" lengthAdjust="spacingAndGlyphs" xml:space="preserve">p = 0.019</text>
<line x1="876.40" y1="2050.79" x2="876.40" y2="2215.62" stroke="#000" stroke-width="2.8" />
<line x1="865.14" y1="2214.42" x2="1121.18" y2="2214.42" stroke="#000" stroke-width="2.8" />
<line x1="865.14" y1="2051.99" x2="876.40" y2="2051.99" stroke="#000" stroke-width="2.8" />
<line x1="865.14" y1="2092.96" x2="876.40" y2="2092.96" stroke="#000" stroke-width="2.8" />
<line x1="865.14" y1="2133.51" x2="876.40" y2="2133.51" stroke="#000" stroke-width="2.8" />
<line x1="865.14" y1="2173.87" x2="876.40" y2="2173.87" stroke="#000" stroke-width="2.8" />
<line x1="865.14" y1="2214.42" x2="876.40" y2="2214.42" stroke="#000" stroke-width="2.8" />
<text x="863.50" y="2061.49" font-size="25.5" font-weight="bold" font-family="'Liberation Sans', Arial, sans-serif" text-anchor="end">8</text>
<text x="863.50" y="2102.46" font-size="25.5" font-weight="bold" font-family="'Liberation Sans', Arial, sans-serif" text-anchor="end">6</text>
<text x="863.50" y="2143.01" font-size="25.5" font-weight="bold" font-family="'Liberation Sans', Arial, sans-serif" text-anchor="end">4</text>
<text x="863.50" y="2183.37" font-size="25.5" font-weight="bold" font-family="'Liberation Sans', Arial, sans-serif" text-anchor="end">2</text>
<text x="863.50" y="2223.92" font-size="25.5" font-weight="bold" font-family="'Liberation Sans', Arial, sans-serif" text-anchor="end">0</text>
<text transform="translate(829.70,2203.60) rotate(-90)" x="0" y="0" font-size="34" font-weight="bold" font-family="'Liberation Serif', 'Times New Roman', serif" textLength="147.60" lengthAdjust="spacingAndGlyphs">EM CD57+</text>
<line x1="900.98" y1="2151.34" x2="949.53" y2="2151.34" stroke="#000" stroke-width="2.6" />
<line x1="974.11" y1="2177.55" x2="1022.24" y2="2177.55" stroke="#000" stroke-width="2.6" />
<line x1="1046.83" y1="2182.47" x2="1094.96" y2="2182.47" stroke="#000" stroke-width="2.6" />
<line x1="913.68" y1="2141.09" x2="937.24" y2="2141.09" stroke="#000" stroke-width="2.6" />
<line x1="913.68" y1="2160.96" x2="937.24" y2="2160.96" stroke="#000" stroke-width="2.6" />
<line x1="986.40" y1="2167.72" x2="1008.93" y2="2167.72" stroke="#000" stroke-width="2.6" />
<line x1="986.40" y1="2187.18" x2="1008.93" y2="2187.18" stroke="#000" stroke-width="2.6" />
<line x1="1059.12" y1="2172.43" x2="1073.45" y2="2172.43" stroke="#000" stroke-width="2.6" />
<line x1="1059.12" y1="2192.30" x2="1073.45" y2="2192.30" stroke="#000" stroke-width="2.6" />
<line x1="925.36" y1="2141.09" x2="925.36" y2="2160.96" stroke="#000" stroke-width="2.6" />
<line x1="997.66" y1="2167.72" x2="997.66" y2="2187.18" stroke="#000" stroke-width="2.6" />
<line x1="1065.87" y1="2172.43" x2="1065.87" y2="2192.30" stroke="#000" stroke-width="2.6" />
<circle cx="925.4" cy="2144.2" r="8.2" fill="#F48282" stroke="#000" stroke-width="1.3"/>
<circle cx="941.3" cy="2139.7" r="8.2" fill="#F48282" stroke="#000" stroke-width="1.3"/>
<circle cx="925.4" cy="2170.2" r="8.2" fill="#F48282" stroke="#000" stroke-width="1.3"/>
<rect x="994.5" y="2062.7" width="16.6" height="16.6" fill="#05B805" stroke="#000" stroke-width="1.3"/>
<rect x="1005.8" y="2143.7" width="16.6" height="16.6" fill="#05B805" stroke="#000" stroke-width="1.3"/>
<rect x="984.2" y="2155.7" width="16.6" height="16.6" fill="#05B805" stroke="#000" stroke-width="1.3"/>
<rect x="995.1" y="2156.3" width="16.6" height="16.6" fill="#05B805" stroke="#000" stroke-width="1.3"/>
<rect x="995.1" y="2182.0" width="16.6" height="16.6" fill="#05B805" stroke="#000" stroke-width="1.3"/>
<rect x="973.6" y="2188.1" width="16.6" height="16.6" fill="#05B805" stroke="#000" stroke-width="1.3"/>
<rect x="983.8" y="2189.1" width="16.6" height="16.6" fill="#05B805" stroke="#000" stroke-width="1.3"/>
<rect x="973.6" y="2206.5" width="16.6" height="16.6" fill="#05B805" stroke="#000" stroke-width="1.3"/>
<rect x="995.1" y="2204.5" width="16.6" height="16.6" fill="#05B805" stroke="#000" stroke-width="1.3"/>
<rect x="1005.8" y="2202.4" width="16.6" height="16.6" fill="#05B805" stroke="#000" stroke-width="1.3"/>
<polygon points="1056.1,2141.7 1075.6,2141.7 1065.9,2124.2" fill="#4D9CF5" stroke="#000" stroke-width="1.3" stroke-linejoin="miter"/>
<polygon points="1065.8,2175.4 1085.3,2175.4 1075.5,2157.9" fill="#4D9CF5" stroke="#000" stroke-width="1.3" stroke-linejoin="miter"/>
<polygon points="1056.1,2192.9 1075.6,2192.9 1065.9,2175.4" fill="#4D9CF5" stroke="#000" stroke-width="1.3" stroke-linejoin="miter"/>
<polygon points="1076.0,2197.0 1095.5,2197.0 1085.7,2179.5" fill="#4D9CF5" stroke="#000" stroke-width="1.3" stroke-linejoin="miter"/>
<polygon points="1046.3,2204.1 1065.8,2204.1 1056.0,2186.6" fill="#4D9CF5" stroke="#000" stroke-width="1.3" stroke-linejoin="miter"/>
<polygon points="1065.8,2211.3 1085.3,2211.3 1075.5,2193.8" fill="#4D9CF5" stroke="#000" stroke-width="1.3" stroke-linejoin="miter"/>
<polygon points="1056.1,2225.6 1075.6,2225.6 1065.9,2208.1" fill="#4D9CF5" stroke="#000" stroke-width="1.3" stroke-linejoin="miter"/>
<line x1="1251.08" y1="2070.32" x2="1251.08" y2="2229.42" stroke="#000" stroke-width="2.8" />
<line x1="1240.43" y1="2228.22" x2="1486.84" y2="2228.22" stroke="#000" stroke-width="2.8" />
<line x1="1240.43" y1="2071.52" x2="1251.08" y2="2071.52" stroke="#000" stroke-width="2.8" />
<line x1="1240.43" y1="2110.85" x2="1251.08" y2="2110.85" stroke="#000" stroke-width="2.8" />
<line x1="1240.43" y1="2149.77" x2="1251.08" y2="2149.77" stroke="#000" stroke-width="2.8" />
<line x1="1240.43" y1="2188.69" x2="1251.08" y2="2188.69" stroke="#000" stroke-width="2.8" />
<line x1="1240.43" y1="2228.22" x2="1251.08" y2="2228.22" stroke="#000" stroke-width="2.8" />
<text x="1236.30" y="2081.02" font-size="25.5" font-weight="bold" font-family="'Liberation Sans', Arial, sans-serif" text-anchor="end">8</text>
<text x="1236.30" y="2120.35" font-size="25.5" font-weight="bold" font-family="'Liberation Sans', Arial, sans-serif" text-anchor="end">6</text>
<text x="1236.30" y="2159.27" font-size="25.5" font-weight="bold" font-family="'Liberation Sans', Arial, sans-serif" text-anchor="end">4</text>
<text x="1236.30" y="2198.19" font-size="25.5" font-weight="bold" font-family="'Liberation Sans', Arial, sans-serif" text-anchor="end">2</text>
<text x="1236.30" y="2237.72" font-size="25.5" font-weight="bold" font-family="'Liberation Sans', Arial, sans-serif" text-anchor="end">0</text>
<text transform="translate(1208.70,2252.20) rotate(-90)" x="0" y="0" font-size="34" font-weight="bold" font-family="'Liberation Serif', 'Times New Roman', serif" textLength="206.90" lengthAdjust="spacingAndGlyphs">EMRA CXCR3+</text>
<line x1="1274.63" y1="2149.16" x2="1321.34" y2="2149.16" stroke="#000" stroke-width="2.6" />
<line x1="1344.89" y1="2187.66" x2="1390.98" y2="2187.66" stroke="#000" stroke-width="2.6" />
<line x1="1415.15" y1="2197.50" x2="1461.65" y2="2197.50" stroke="#000" stroke-width="2.6" />
<line x1="1286.51" y1="2128.88" x2="1309.46" y2="2128.88" stroke="#000" stroke-width="2.6" />
<line x1="1286.51" y1="2170.25" x2="1309.46" y2="2170.25" stroke="#000" stroke-width="2.6" />
<line x1="1356.16" y1="2182.54" x2="1380.74" y2="2182.54" stroke="#000" stroke-width="2.6" />
<line x1="1356.16" y1="2193.81" x2="1380.74" y2="2193.81" stroke="#000" stroke-width="2.6" />
<line x1="1298.19" y1="2128.88" x2="1298.19" y2="2170.25" stroke="#000" stroke-width="2.6" />
<line x1="1368.45" y1="2182.54" x2="1368.45" y2="2193.81" stroke="#000" stroke-width="2.6" />
<circle cx="1298.2" cy="2109.2" r="8.2" fill="#F48282" stroke="#000" stroke-width="1.3"/>
<circle cx="1298.2" cy="2160.0" r="8.2" fill="#F48282" stroke="#000" stroke-width="1.3"/>
<circle cx="1298.2" cy="2179.5" r="8.2" fill="#F48282" stroke="#000" stroke-width="1.3"/>
<rect x="1360.1" y="2141.5" width="16.6" height="16.6" fill="#05B805" stroke="#000" stroke-width="1.3"/>
<rect x="1375.5" y="2159.5" width="16.6" height="16.6" fill="#05B805" stroke="#000" stroke-width="1.3"/>
<rect x="1352.0" y="2168.1" width="16.6" height="16.6" fill="#05B805" stroke="#000" stroke-width="1.3"/>
<rect x="1360.1" y="2167.1" width="16.6" height="16.6" fill="#05B805" stroke="#000" stroke-width="1.3"/>
<rect x="1367.9" y="2172.6" width="16.6" height="16.6" fill="#05B805" stroke="#000" stroke-width="1.3"/>
<rect x="1352.0" y="2181.4" width="16.6" height="16.6" fill="#05B805" stroke="#000" stroke-width="1.3"/>
<rect x="1344.8" y="2196.4" width="16.6" height="16.6" fill="#05B805" stroke="#000" stroke-width="1.3"/>
<rect x="1360.1" y="2195.8" width="16.6" height="16.6" fill="#05B805" stroke="#000" stroke-width="1.3"/>
<rect x="1367.9" y="2194.3" width="16.6" height="16.6" fill="#05B805" stroke="#000" stroke-width="1.3"/>
<rect x="1375.5" y="2200.5" width="16.6" height="16.6" fill="#05B805" stroke="#000" stroke-width="1.3"/>
<polygon points="1419.1,2201.5 1438.6,2201.5 1428.9,2184.0" fill="#4D9CF5" stroke="#000" stroke-width="1.3" stroke-linejoin="miter"/>
<polygon points="1428.3,2202.6 1447.8,2202.6 1438.1,2185.1" fill="#4D9CF5" stroke="#000" stroke-width="1.3" stroke-linejoin="miter"/>
<polygon points="1437.6,2205.6 1457.1,2205.6 1447.3,2188.1" fill="#4D9CF5" stroke="#000" stroke-width="1.3" stroke-linejoin="miter"/>
<polygon points="1422.2,2208.7 1441.7,2208.7 1431.9,2191.2" fill="#4D9CF5" stroke="#000" stroke-width="1.3" stroke-linejoin="miter"/>
<polygon points="1442.7,2211.8 1462.2,2211.8 1452.4,2194.3" fill="#4D9CF5" stroke="#000" stroke-width="1.3" stroke-linejoin="miter"/>
<polygon points="1414.0,2211.8 1433.5,2211.8 1423.8,2194.3" fill="#4D9CF5" stroke="#000" stroke-width="1.3" stroke-linejoin="miter"/>
<polygon points="1432.4,2215.9 1451.9,2215.9 1442.2,2198.4" fill="#4D9CF5" stroke="#000" stroke-width="1.3" stroke-linejoin="miter"/>
<path d="M1295.7,2087.3 L1295.7,2074.4 L1375.6,2074.4 L1375.6,2087.3" fill="none" stroke="#000" stroke-width="3"/>
<text x="1282.42" y="2061.69" font-size="24" font-weight="bold" font-family="'Liberation Sans', Arial, sans-serif" textLength="106.10" lengthAdjust="spacingAndGlyphs" xml:space="preserve">p = 0.024</text>
<path d="M1297.4,2039.2 L1297.4,2026.9 L1444.2,2026.9 L1444.2,2039.2" fill="none" stroke="#000" stroke-width="3"/>
<text x="1310.07" y="2013.56" font-size="24" font-weight="bold" font-family="'Liberation Sans', Arial, sans-serif" textLength="120.85" lengthAdjust="spacingAndGlyphs" xml:space="preserve">p = 0.0037</text>
<line x1="1628.57" y1="2048.74" x2="1628.57" y2="2213.99" stroke="#000" stroke-width="2.8" />
<line x1="1617.72" y1="2212.79" x2="1874.78" y2="2212.79" stroke="#000" stroke-width="2.8" />
<line x1="1617.72" y1="2049.94" x2="1628.57" y2="2049.94" stroke="#000" stroke-width="2.8" />
<line x1="1617.72" y1="2104.22" x2="1628.57" y2="2104.22" stroke="#000" stroke-width="2.8" />
<line x1="1617.72" y1="2158.50" x2="1628.57" y2="2158.50" stroke="#000" stroke-width="2.8" />
<line x1="1617.72" y1="2212.79" x2="1628.57" y2="2212.79" stroke="#000" stroke-width="2.8" />
<text x="1615.70" y="2059.44" font-size="25.5" font-weight="bold" font-family="'Liberation Sans', Arial, sans-serif" text-anchor="end">15</text>
<text x="1615.70" y="2113.72" font-size="25.5" font-weight="bold" font-family="'Liberation Sans', Arial, sans-serif" text-anchor="end">10</text>
<text x="1615.70" y="2168.00" font-size="25.5" font-weight="bold" font-family="'Liberation Sans', Arial, sans-serif" text-anchor="end">5</text>
<text x="1615.70" y="2222.29" font-size="25.5" font-weight="bold" font-family="'Liberation Sans', Arial, sans-serif" text-anchor="end">0</text>
<text transform="translate(1565.50,2217.90) rotate(-90)" x="0" y="0" font-size="34" font-weight="bold" font-family="'Liberation Serif', 'Times New Roman', serif" textLength="181.30" lengthAdjust="spacingAndGlyphs">EMRA CD57-</text>
<line x1="1653.56" y1="2180.01" x2="1701.70" y2="2180.01" stroke="#000" stroke-width="2.6" />
<line x1="1726.28" y1="2178.37" x2="1775.44" y2="2178.37" stroke="#000" stroke-width="2.6" />
<line x1="1800.02" y1="2184.52" x2="1848.15" y2="2184.52" stroke="#000" stroke-width="2.6" />
<line x1="1665.85" y1="2166.08" x2="1690.02" y2="2166.08" stroke="#000" stroke-width="2.6" />
<line x1="1665.85" y1="2193.74" x2="1690.02" y2="2193.74" stroke="#000" stroke-width="2.6" />
<line x1="1739.59" y1="2168.75" x2="1763.15" y2="2168.75" stroke="#000" stroke-width="2.6" />
<line x1="1739.59" y1="2188.21" x2="1763.15" y2="2188.21" stroke="#000" stroke-width="2.6" />
<line x1="1812.31" y1="2180.01" x2="1835.86" y2="2180.01" stroke="#000" stroke-width="2.6" />
<line x1="1812.31" y1="2189.23" x2="1835.86" y2="2189.23" stroke="#000" stroke-width="2.6" />
<line x1="1678.14" y1="2166.08" x2="1678.14" y2="2193.74" stroke="#000" stroke-width="2.6" />
<line x1="1750.86" y1="2168.75" x2="1750.86" y2="2188.21" stroke="#000" stroke-width="2.6" />
<line x1="1823.57" y1="2180.01" x2="1823.57" y2="2189.23" stroke="#000" stroke-width="2.6" />
<circle cx="1678.1" cy="2153.0" r="8.2" fill="#F48282" stroke="#000" stroke-width="1.3"/>
<circle cx="1694.1" cy="2186.6" r="8.2" fill="#F48282" stroke="#000" stroke-width="1.3"/>
<circle cx="1661.8" cy="2200.1" r="8.2" fill="#F48282" stroke="#000" stroke-width="1.3"/>
<rect x="1742.6" y="2089.4" width="16.6" height="16.6" fill="#05B805" stroke="#000" stroke-width="1.3"/>
<rect x="1742.6" y="2167.6" width="16.6" height="16.6" fill="#05B805" stroke="#000" stroke-width="1.3"/>
<rect x="1731.3" y="2172.7" width="16.6" height="16.6" fill="#05B805" stroke="#000" stroke-width="1.3"/>
<rect x="1749.7" y="2173.4" width="16.6" height="16.6" fill="#05B805" stroke="#000" stroke-width="1.3"/>
<rect x="1736.4" y="2175.4" width="16.6" height="16.6" fill="#05B805" stroke="#000" stroke-width="1.3"/>
<rect x="1726.2" y="2185.0" width="16.6" height="16.6" fill="#05B805" stroke="#000" stroke-width="1.3"/>
<rect x="1744.6" y="2189.1" width="16.6" height="16.6" fill="#05B805" stroke="#000" stroke-width="1.3"/>
<rect x="1753.8" y="2187.1" width="16.6" height="16.6" fill="#05B805" stroke="#000" stroke-width="1.3"/>
<rect x="1760.0" y="2185.0" width="16.6" height="16.6" fill="#05B805" stroke="#000" stroke-width="1.3"/>
<rect x="1735.4" y="2175.8" width="16.6" height="16.6" fill="#05B805" stroke="#000" stroke-width="1.3"/>
<polygon points="1807.3,2174.0 1826.8,2174.0 1817.0,2156.5" fill="#4D9CF5" stroke="#000" stroke-width="1.3" stroke-linejoin="miter"/>
<polygon points="1822.0,2178.9 1841.5,2178.9 1831.8,2161.4" fill="#4D9CF5" stroke="#000" stroke-width="1.3" stroke-linejoin="miter"/>
<polygon points="1807.3,2194.9 1826.8,2194.9 1817.0,2177.4" fill="#4D9CF5" stroke="#000" stroke-width="1.3" stroke-linejoin="miter"/>
<polygon points="1815.9,2200.0 1835.4,2200.0 1825.6,2182.5" fill="#4D9CF5" stroke="#000" stroke-width="1.3" stroke-linejoin="miter"/>
<polygon points="1799.5,2204.1 1819.0,2204.1 1809.2,2186.6" fill="#4D9CF5" stroke="#000" stroke-width="1.3" stroke-linejoin="miter"/>
<polygon points="1829.2,2206.2 1848.7,2206.2 1838.9,2188.7" fill="#4D9CF5" stroke="#000" stroke-width="1.3" stroke-linejoin="miter"/>
<polygon points="1816.9,2203.1 1836.4,2203.1 1826.6,2185.6" fill="#4D9CF5" stroke="#000" stroke-width="1.3" stroke-linejoin="miter"/>
<line x1="132.53" y1="2334.70" x2="132.53" y2="2500.96" stroke="#000" stroke-width="2.8" />
<line x1="121.20" y1="2499.76" x2="379.04" y2="2499.76" stroke="#000" stroke-width="2.8" />
<line x1="121.20" y1="2335.90" x2="132.53" y2="2335.90" stroke="#000" stroke-width="2.8" />
<line x1="121.20" y1="2377.35" x2="132.53" y2="2377.35" stroke="#000" stroke-width="2.8" />
<line x1="121.20" y1="2418.31" x2="132.53" y2="2418.31" stroke="#000" stroke-width="2.8" />
<line x1="121.20" y1="2458.80" x2="132.53" y2="2458.80" stroke="#000" stroke-width="2.8" />
<line x1="121.20" y1="2499.76" x2="132.53" y2="2499.76" stroke="#000" stroke-width="2.8" />
<text x="116.40" y="2345.40" font-size="25.5" font-weight="bold" font-family="'Liberation Sans', Arial, sans-serif" text-anchor="end">40</text>
<text x="116.40" y="2386.85" font-size="25.5" font-weight="bold" font-family="'Liberation Sans', Arial, sans-serif" text-anchor="end">30</text>
<text x="116.40" y="2427.81" font-size="25.5" font-weight="bold" font-family="'Liberation Sans', Arial, sans-serif" text-anchor="end">20</text>
<text x="116.40" y="2468.30" font-size="25.5" font-weight="bold" font-family="'Liberation Sans', Arial, sans-serif" text-anchor="end">10</text>
<text x="116.40" y="2509.26" font-size="25.5" font-weight="bold" font-family="'Liberation Sans', Arial, sans-serif" text-anchor="end">0</text>
<text transform="translate(65.80,2508.00) rotate(-90)" x="0" y="0" font-size="34" font-weight="bold" font-family="'Liberation Serif', 'Times New Roman', serif" textLength="189.00" lengthAdjust="spacingAndGlyphs">EMRA CD57+</text>
<line x1="157.35" y1="2466.02" x2="203.13" y2="2466.02" stroke="#000" stroke-width="2.6" />
<line x1="244.10" y1="2446.27" x2="279.04" y2="2446.27" stroke="#000" stroke-width="2.6" />
<line x1="304.34" y1="2451.57" x2="352.53" y2="2451.57" stroke="#000" stroke-width="2.6" />
<line x1="169.40" y1="2362.41" x2="193.49" y2="2362.41" stroke="#000" stroke-width="2.6" />
<line x1="169.40" y1="2478.55" x2="193.49" y2="2478.55" stroke="#000" stroke-width="2.6" />
<line x1="242.89" y1="2433.98" x2="266.99" y2="2433.98" stroke="#000" stroke-width="2.6" />
<line x1="242.89" y1="2456.39" x2="266.99" y2="2456.39" stroke="#000" stroke-width="2.6" />
<line x1="316.39" y1="2439.52" x2="340.00" y2="2439.52" stroke="#000" stroke-width="2.6" />
<line x1="316.39" y1="2464.82" x2="340.00" y2="2464.82" stroke="#000" stroke-width="2.6" />
<line x1="181.45" y1="2362.41" x2="181.45" y2="2478.55" stroke="#000" stroke-width="2.6" />
<line x1="254.94" y1="2433.98" x2="254.94" y2="2456.39" stroke="#000" stroke-width="2.6" />
<line x1="328.43" y1="2439.52" x2="328.43" y2="2464.82" stroke="#000" stroke-width="2.6" />
<circle cx="181.4" cy="2362.4" r="8.2" fill="#F48282" stroke="#000" stroke-width="1.3"/>
<circle cx="197.6" cy="2466.0" r="8.2" fill="#F48282" stroke="#000" stroke-width="1.3"/>
<circle cx="165.3" cy="2478.6" r="8.2" fill="#F48282" stroke="#000" stroke-width="1.3"/>
<rect x="246.6" y="2365.0" width="16.6" height="16.6" fill="#05B805" stroke="#000" stroke-width="1.3"/>
<rect x="246.6" y="2397.5" width="16.6" height="16.6" fill="#05B805" stroke="#000" stroke-width="1.3"/>
<rect x="246.6" y="2421.6" width="16.6" height="16.6" fill="#05B805" stroke="#000" stroke-width="1.3"/>
<rect x="263.0" y="2423.3" width="16.6" height="16.6" fill="#05B805" stroke="#000" stroke-width="1.3"/>
<rect x="230.5" y="2437.7" width="16.6" height="16.6" fill="#05B805" stroke="#000" stroke-width="1.3"/>
<rect x="263.0" y="2446.9" width="16.6" height="16.6" fill="#05B805" stroke="#000" stroke-width="1.3"/>
<rect x="230.5" y="2456.0" width="16.6" height="16.6" fill="#05B805" stroke="#000" stroke-width="1.3"/>
<rect x="246.6" y="2468.6" width="16.6" height="16.6" fill="#05B805" stroke="#000" stroke-width="1.3"/>
<rect x="263.0" y="2472.2" width="16.6" height="16.6" fill="#05B805" stroke="#000" stroke-width="1.3"/>
<rect x="230.5" y="2482.5" width="16.6" height="16.6" fill="#05B805" stroke="#000" stroke-width="1.3"/>
<polygon points="318.2,2391.6 337.7,2391.6 328.0,2374.1" fill="#4D9CF5" stroke="#000" stroke-width="1.3" stroke-linejoin="miter"/>
<polygon points="333.1,2463.9 352.6,2463.9 342.9,2446.4" fill="#4D9CF5" stroke="#000" stroke-width="1.3" stroke-linejoin="miter"/>
<polygon points="311.5,2467.5 331.0,2467.5 321.2,2450.0" fill="#4D9CF5" stroke="#000" stroke-width="1.3" stroke-linejoin="miter"/>
<polygon points="321.1,2474.8 340.6,2474.8 330.8,2457.3" fill="#4D9CF5" stroke="#000" stroke-width="1.3" stroke-linejoin="miter"/>
<polygon points="303.0,2473.6 322.5,2473.6 312.8,2456.1" fill="#4D9CF5" stroke="#000" stroke-width="1.3" stroke-linejoin="miter"/>
<polygon points="327.1,2473.6 346.6,2473.6 336.9,2456.1" fill="#4D9CF5" stroke="#000" stroke-width="1.3" stroke-linejoin="miter"/>
<polygon points="333.1,2489.2 352.6,2489.2 342.9,2471.7" fill="#4D9CF5" stroke="#000" stroke-width="1.3" stroke-linejoin="miter"/>
<line x1="518.68" y1="2335.14" x2="518.68" y2="2501.49" stroke="#000" stroke-width="2.8" />
<line x1="506.75" y1="2500.29" x2="765.91" y2="2500.29" stroke="#000" stroke-width="2.8" />
<line x1="506.75" y1="2336.34" x2="518.68" y2="2336.34" stroke="#000" stroke-width="2.8" />
<line x1="506.75" y1="2378.20" x2="518.68" y2="2378.20" stroke="#000" stroke-width="2.8" />
<line x1="506.75" y1="2418.97" x2="518.68" y2="2418.97" stroke="#000" stroke-width="2.8" />
<line x1="506.75" y1="2459.52" x2="518.68" y2="2459.52" stroke="#000" stroke-width="2.8" />
<line x1="506.75" y1="2500.29" x2="518.68" y2="2500.29" stroke="#000" stroke-width="2.8" />
<text x="502.40" y="2345.84" font-size="25.5" font-weight="bold" font-family="'Liberation Sans', Arial, sans-serif" text-anchor="end">40</text>
<text x="502.40" y="2387.70" font-size="25.5" font-weight="bold" font-family="'Liberation Sans', Arial, sans-serif" text-anchor="end">30</text>
<text x="502.40" y="2428.47" font-size="25.5" font-weight="bold" font-family="'Liberation Sans', Arial, sans-serif" text-anchor="end">20</text>
<text x="502.40" y="2469.02" font-size="25.5" font-weight="bold" font-family="'Liberation Sans', Arial, sans-serif" text-anchor="end">10</text>
<text x="502.40" y="2509.79" font-size="25.5" font-weight="bold" font-family="'Liberation Sans', Arial, sans-serif" text-anchor="end">0</text>
<text transform="translate(455.80,2493.10) rotate(-90)" x="0" y="0" font-size="34" font-weight="bold" font-family="'Liberation Serif', 'Times New Roman', serif" textLength="148.50" lengthAdjust="spacingAndGlyphs">EMRA Th2</text>
<line x1="543.62" y1="2488.80" x2="578.32" y2="2488.80" stroke="#000" stroke-width="2.6" />
<line x1="617.35" y1="2446.94" x2="666.15" y2="2446.94" stroke="#000" stroke-width="2.6" />
<line x1="691.09" y1="2449.33" x2="739.24" y2="2449.33" stroke="#000" stroke-width="2.6" />
<line x1="556.63" y1="2483.38" x2="576.15" y2="2483.38" stroke="#000" stroke-width="2.6" />
<line x1="556.63" y1="2493.79" x2="576.15" y2="2493.79" stroke="#000" stroke-width="2.6" />
<line x1="629.28" y1="2437.84" x2="653.14" y2="2437.84" stroke="#000" stroke-width="2.6" />
<line x1="629.28" y1="2457.35" x2="653.14" y2="2457.35" stroke="#000" stroke-width="2.6" />
<line x1="703.02" y1="2433.06" x2="726.87" y2="2433.06" stroke="#000" stroke-width="2.6" />
<line x1="703.02" y1="2464.94" x2="726.87" y2="2464.94" stroke="#000" stroke-width="2.6" />
<line x1="568.12" y1="2483.38" x2="568.12" y2="2493.79" stroke="#000" stroke-width="2.6" />
<line x1="641.21" y1="2437.84" x2="641.21" y2="2457.35" stroke="#000" stroke-width="2.6" />
<line x1="714.51" y1="2433.06" x2="714.51" y2="2464.94" stroke="#000" stroke-width="2.6" />
<circle cx="568.1" cy="2480.1" r="8.2" fill="#F48282" stroke="#000" stroke-width="1.3"/>
<circle cx="584.2" cy="2488.8" r="8.2" fill="#F48282" stroke="#000" stroke-width="1.3"/>
<circle cx="551.9" cy="2497.9" r="8.2" fill="#F48282" stroke="#000" stroke-width="1.3"/>
<rect x="632.9" y="2392.2" width="16.6" height="16.6" fill="#05B805" stroke="#000" stroke-width="1.3"/>
<rect x="616.6" y="2404.6" width="16.6" height="16.6" fill="#05B805" stroke="#000" stroke-width="1.3"/>
<rect x="632.9" y="2419.8" width="16.6" height="16.6" fill="#05B805" stroke="#000" stroke-width="1.3"/>
<rect x="616.6" y="2428.5" width="16.6" height="16.6" fill="#05B805" stroke="#000" stroke-width="1.3"/>
<rect x="649.2" y="2430.0" width="16.6" height="16.6" fill="#05B805" stroke="#000" stroke-width="1.3"/>
<rect x="616.6" y="2456.6" width="16.6" height="16.6" fill="#05B805" stroke="#000" stroke-width="1.3"/>
<rect x="632.9" y="2458.8" width="16.6" height="16.6" fill="#05B805" stroke="#000" stroke-width="1.3"/>
<rect x="649.2" y="2452.3" width="16.6" height="16.6" fill="#05B805" stroke="#000" stroke-width="1.3"/>
<rect x="649.2" y="2469.7" width="16.6" height="16.6" fill="#05B805" stroke="#000" stroke-width="1.3"/>
<rect x="616.6" y="2482.7" width="16.6" height="16.6" fill="#05B805" stroke="#000" stroke-width="1.3"/>
<polygon points="704.8,2379.8 724.3,2379.8 714.5,2362.3" fill="#4D9CF5" stroke="#000" stroke-width="1.3" stroke-linejoin="miter"/>
<polygon points="690.0,2432.5 709.5,2432.5 699.8,2415.0" fill="#4D9CF5" stroke="#000" stroke-width="1.3" stroke-linejoin="miter"/>
<polygon points="704.8,2445.5 724.3,2445.5 714.5,2428.0" fill="#4D9CF5" stroke="#000" stroke-width="1.3" stroke-linejoin="miter"/>
<polygon points="704.8,2472.6 724.3,2472.6 714.5,2455.1" fill="#4D9CF5" stroke="#000" stroke-width="1.3" stroke-linejoin="miter"/>
<polygon points="690.0,2496.0 709.5,2496.0 699.8,2478.5" fill="#4D9CF5" stroke="#000" stroke-width="1.3" stroke-linejoin="miter"/>
<polygon points="704.8,2492.1 724.3,2492.1 714.5,2474.6" fill="#4D9CF5" stroke="#000" stroke-width="1.3" stroke-linejoin="miter"/>
<polygon points="719.9,2494.3 739.4,2494.3 729.7,2476.8" fill="#4D9CF5" stroke="#000" stroke-width="1.3" stroke-linejoin="miter"/>
<path d="M558.8,2366.3 L558.8,2352.8 L644.5,2352.8 L644.5,2366.3" fill="none" stroke="#000" stroke-width="3"/>
<text x="545.79" y="2338.07" font-size="24" font-weight="bold" font-family="'Liberation Sans', Arial, sans-serif" textLength="111.04" lengthAdjust="spacingAndGlyphs" xml:space="preserve">p = 0.014</text>
<path d="M559.4,2317.5 L559.4,2303.4 L720.4,2303.4 L720.4,2317.5" fill="none" stroke="#000" stroke-width="3"/>
<text x="584.39" y="2289.28" font-size="24" font-weight="bold" font-family="'Liberation Sans', Arial, sans-serif" textLength="111.47" lengthAdjust="spacingAndGlyphs" xml:space="preserve">p = 0.019</text>
<line x1="887.35" y1="2322.78" x2="887.35" y2="2487.40" stroke="#000" stroke-width="2.8" />
<line x1="876.51" y1="2486.20" x2="1131.33" y2="2486.20" stroke="#000" stroke-width="2.8" />
<line x1="876.51" y1="2323.98" x2="887.35" y2="2323.98" stroke="#000" stroke-width="2.8" />
<line x1="876.51" y1="2356.51" x2="887.35" y2="2356.51" stroke="#000" stroke-width="2.8" />
<line x1="876.51" y1="2389.04" x2="887.35" y2="2389.04" stroke="#000" stroke-width="2.8" />
<line x1="876.51" y1="2421.57" x2="887.35" y2="2421.57" stroke="#000" stroke-width="2.8" />
<line x1="876.51" y1="2453.67" x2="887.35" y2="2453.67" stroke="#000" stroke-width="2.8" />
<line x1="876.51" y1="2486.20" x2="887.35" y2="2486.20" stroke="#000" stroke-width="2.8" />
<text x="874.30" y="2333.48" font-size="25.5" font-weight="bold" font-family="'Liberation Sans', Arial, sans-serif" text-anchor="end">10</text>
<text x="874.30" y="2366.01" font-size="25.5" font-weight="bold" font-family="'Liberation Sans', Arial, sans-serif" text-anchor="end">8</text>
<text x="874.30" y="2398.54" font-size="25.5" font-weight="bold" font-family="'Liberation Sans', Arial, sans-serif" text-anchor="end">6</text>
<text x="874.30" y="2431.07" font-size="25.5" font-weight="bold" font-family="'Liberation Sans', Arial, sans-serif" text-anchor="end">4</text>
<text x="874.30" y="2463.17" font-size="25.5" font-weight="bold" font-family="'Liberation Sans', Arial, sans-serif" text-anchor="end">2</text>
<text x="874.30" y="2495.70" font-size="25.5" font-weight="bold" font-family="'Liberation Sans', Arial, sans-serif" text-anchor="end">0</text>
<text transform="translate(823.70,2431.30) rotate(-90)" x="0" y="0" font-size="34" font-weight="bold" font-family="'Liberation Serif', 'Times New Roman', serif" textLength="58.50" lengthAdjust="spacingAndGlyphs">Treg</text>
<line x1="984.94" y1="2441.74" x2="1032.66" y2="2441.74" stroke="#000" stroke-width="2.6" />
<line x1="1057.60" y1="2453.67" x2="1105.31" y2="2453.67" stroke="#000" stroke-width="2.6" />
<line x1="996.87" y1="2426.56" x2="1020.73" y2="2426.56" stroke="#000" stroke-width="2.6" />
<line x1="996.87" y1="2458.44" x2="1020.73" y2="2458.44" stroke="#000" stroke-width="2.6" />
<line x1="1069.53" y1="2436.75" x2="1093.38" y2="2436.75" stroke="#000" stroke-width="2.6" />
<line x1="1069.53" y1="2470.37" x2="1093.38" y2="2470.37" stroke="#000" stroke-width="2.6" />
<line x1="1008.80" y1="2426.56" x2="1008.80" y2="2458.44" stroke="#000" stroke-width="2.6" />
<line x1="1081.45" y1="2436.75" x2="1081.45" y2="2470.37" stroke="#000" stroke-width="2.6" />
<circle cx="919.9" cy="2481.2" r="8.2" fill="#F48282" stroke="#000" stroke-width="1.3"/>
<circle cx="935.7" cy="2474.7" r="8.2" fill="#F48282" stroke="#000" stroke-width="1.3"/>
<circle cx="951.8" cy="2478.0" r="8.2" fill="#F48282" stroke="#000" stroke-width="1.3"/>
<rect x="997.2" y="2343.9" width="16.6" height="16.6" fill="#05B805" stroke="#000" stroke-width="1.3"/>
<rect x="1003.3" y="2343.9" width="16.6" height="16.6" fill="#05B805" stroke="#000" stroke-width="1.3"/>
<rect x="1000.5" y="2423.0" width="16.6" height="16.6" fill="#05B805" stroke="#000" stroke-width="1.3"/>
<rect x="1000.5" y="2443.6" width="16.6" height="16.6" fill="#05B805" stroke="#000" stroke-width="1.3"/>
<rect x="990.7" y="2456.6" width="16.6" height="16.6" fill="#05B805" stroke="#000" stroke-width="1.3"/>
<rect x="1003.8" y="2459.9" width="16.6" height="16.6" fill="#05B805" stroke="#000" stroke-width="1.3"/>
<rect x="1016.3" y="2463.2" width="16.6" height="16.6" fill="#05B805" stroke="#000" stroke-width="1.3"/>
<rect x="984.2" y="2469.7" width="16.6" height="16.6" fill="#05B805" stroke="#000" stroke-width="1.3"/>
<rect x="1009.8" y="2469.7" width="16.6" height="16.6" fill="#05B805" stroke="#000" stroke-width="1.3"/>
<rect x="999.4" y="2465.3" width="16.6" height="16.6" fill="#05B805" stroke="#000" stroke-width="1.3"/>
<polygon points="1076.0,2382.6 1095.5,2382.6 1085.8,2365.1" fill="#4D9CF5" stroke="#000" stroke-width="1.3" stroke-linejoin="miter"/>
<polygon points="1056.5,2457.4 1076.0,2457.4 1066.3,2439.9" fill="#4D9CF5" stroke="#000" stroke-width="1.3" stroke-linejoin="miter"/>
<polygon points="1066.3,2482.4 1085.8,2482.4 1076.0,2464.9" fill="#4D9CF5" stroke="#000" stroke-width="1.3" stroke-linejoin="miter"/>
<polygon points="1056.5,2487.8 1076.0,2487.8 1066.3,2470.3" fill="#4D9CF5" stroke="#000" stroke-width="1.3" stroke-linejoin="miter"/>
<polygon points="1076.0,2485.6 1095.5,2485.6 1085.8,2468.1" fill="#4D9CF5" stroke="#000" stroke-width="1.3" stroke-linejoin="miter"/>
<polygon points="1085.8,2486.7 1105.3,2486.7 1095.5,2469.2" fill="#4D9CF5" stroke="#000" stroke-width="1.3" stroke-linejoin="miter"/>
<polygon points="1067.4,2487.8 1086.9,2487.8 1077.1,2470.3" fill="#4D9CF5" stroke="#000" stroke-width="1.3" stroke-linejoin="miter"/>
<circle cx="1300.4" cy="2363.4" r="9.8" fill="#F48282" stroke="#000" stroke-width="1.3"/>
<rect x="1292.5" y="2393.7" width="18.3" height="18.8" fill="#05B805" stroke="#000" stroke-width="1.3"/>
<polygon points="1293.5,2448.7 1312.8,2448.7 1303.1,2429.6" fill="#4D9CF5" stroke="#000" stroke-width="1.3"/>
<text x="1323.90" y="2369.40" font-size="26" font-weight="bold" font-family="'Liberation Sans', Arial, sans-serif" textLength="46.30" lengthAdjust="spacingAndGlyphs">CTR</text>
<text x="1323.90" y="2409.80" font-size="26" font-weight="bold" font-family="'Liberation Sans', Arial, sans-serif" textLength="32.50" lengthAdjust="spacingAndGlyphs">PN</text>
<text x="1325.00" y="2447.10" font-size="26" font-weight="bold" font-family="'Liberation Sans', Arial, sans-serif" textLength="29.60" lengthAdjust="spacingAndGlyphs">PP</text>
</svg>
</body></html>
